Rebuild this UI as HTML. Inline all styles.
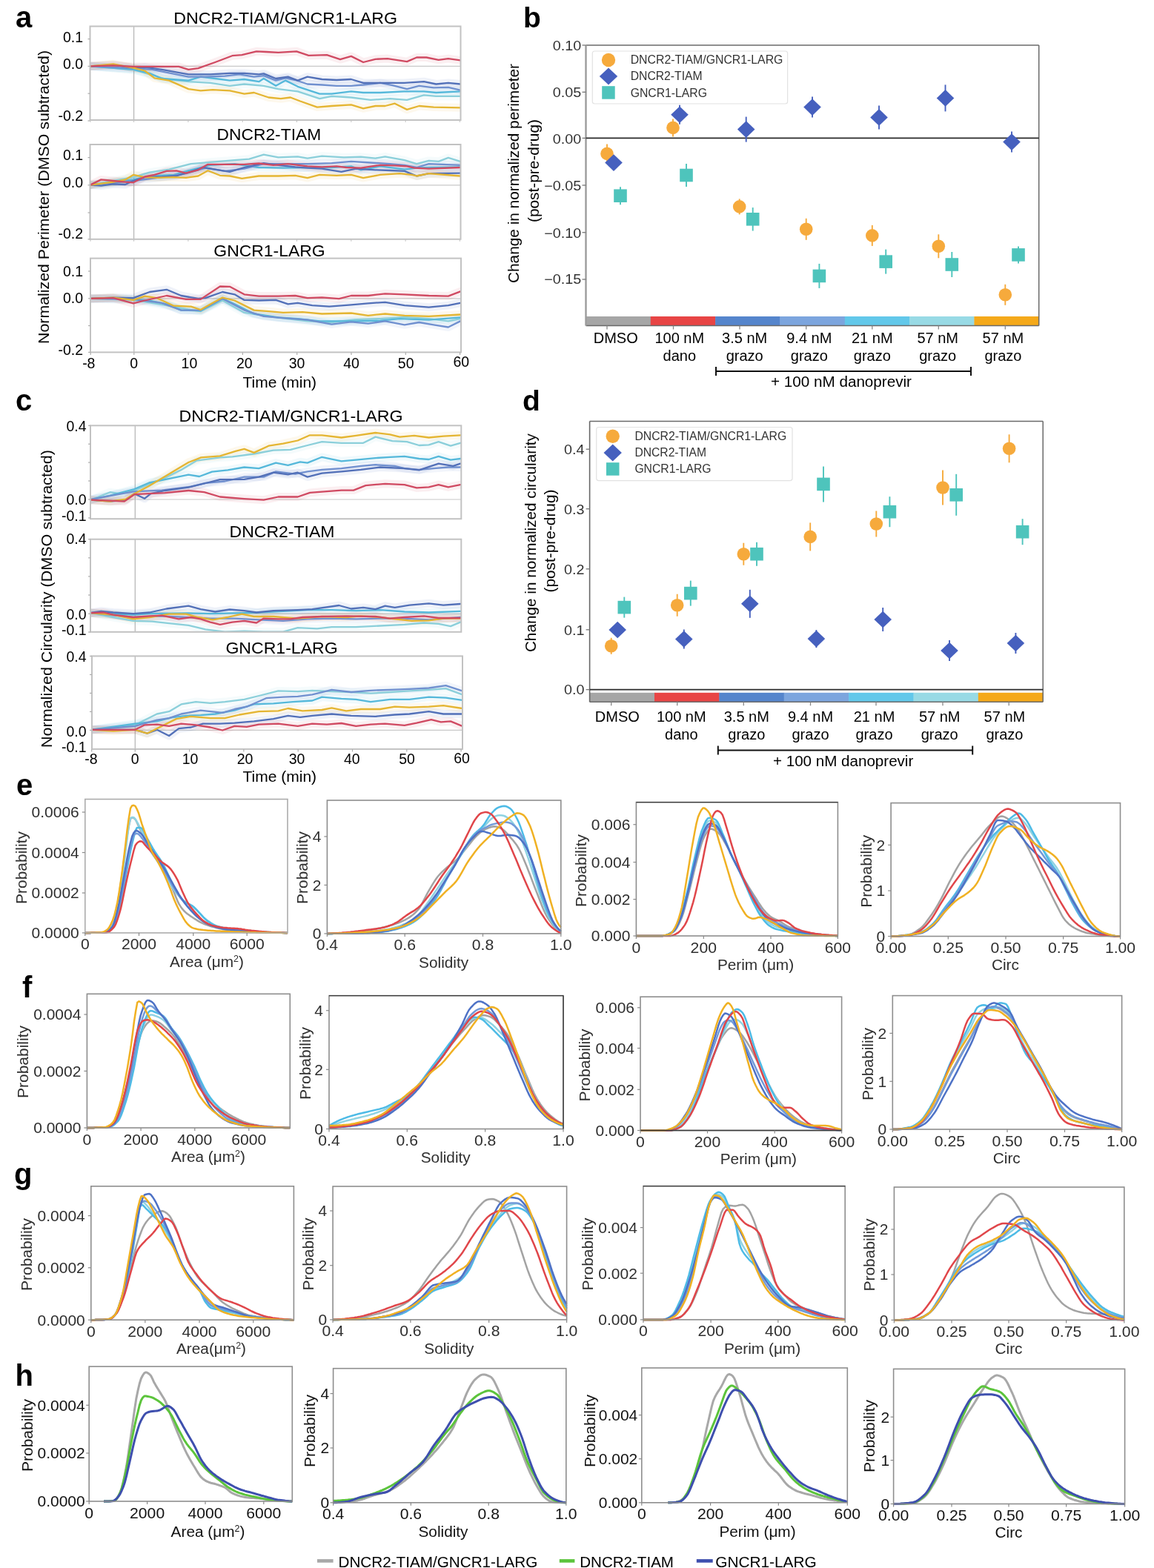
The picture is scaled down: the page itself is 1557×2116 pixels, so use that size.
<!DOCTYPE html>
<html><head><meta charset="utf-8"><title>Figure</title>
<style>
html,body{margin:0;padding:0;background:#fff;}
svg{display:block;}
text{font-family:'Liberation Sans', Arial, Helvetica, sans-serif;}
</style></head>
<body>
<svg width="1557" height="2116" viewBox="0 0 1557 2116">
<rect width="1557" height="2116" fill="#fff"/>
<text x="21.0" y="37.0" font-size="40" font-weight="bold">a</text>
<line x1="121.5" y1="89.4" x2="621.5" y2="89.4" stroke="#c8c8c8" stroke-width="1.2"/>
<line x1="180.6" y1="35.5" x2="180.6" y2="162.0" stroke="#b4b4b4" stroke-width="1.2"/>
<clipPath id="cp1"><rect x="121.5" y="35.5" width="500.0" height="126.5"/></clipPath>
<g clip-path="url(#cp1)">
<polyline points="121.6,89.3 179.9,93.9 201.9,100.4 224.8,107.0 254.3,110.2 283.8,111.9 310.0,115.8 329.6,113.5 355.8,115.8 375.5,120.1 401.7,123.4 431.2,133.2 447.5,129.9 473.8,131.5 500.0,134.8 526.2,133.2 549.1,134.8 572.0,128.3 588.4,129.9 621.1,129.9" fill="none" stroke="#8bcfda" stroke-width="11" stroke-linejoin="round" stroke-linecap="round" stroke-opacity="0.09"/>
<polyline points="121.6,89.3 179.9,93.9 201.9,98.8 218.3,106.0 254.3,108.6 270.7,103.7 290.3,106.0 310.0,108.6 329.6,107.0 349.3,110.2 355.8,106.0 372.2,115.8 385.3,108.6 401.7,116.8 431.2,126.6 447.5,126.6 473.8,123.4 490.1,125.0 513.1,125.0 545.8,123.4 572.0,123.4 588.4,125.0 621.1,123.4" fill="none" stroke="#55b8da" stroke-width="11" stroke-linejoin="round" stroke-linecap="round" stroke-opacity="0.09"/>
<polyline points="121.6,89.3 179.9,92.2 205.2,93.9 254.3,103.7 277.2,103.7 303.4,102.7 323.1,100.4 342.7,103.7 355.8,102.1 372.2,108.6 385.3,105.3 398.4,108.0 414.8,113.5 434.4,114.5 454.1,115.8 473.8,115.8 490.1,114.5 513.1,111.9 529.4,115.2 549.1,120.1 565.5,115.8 585.1,118.4 604.8,117.8 621.1,121.7" fill="none" stroke="#7090cf" stroke-width="11" stroke-linejoin="round" stroke-linecap="round" stroke-opacity="0.09"/>
<polyline points="121.6,89.3 152.8,87.3 179.9,91.6 195.3,90.6 218.3,93.9 254.3,100.4 283.8,100.4 310.0,98.8 329.6,98.8 349.3,100.4 355.8,99.4 372.2,106.0 388.6,103.7 401.7,108.6 414.8,103.7 434.4,107.0 454.1,108.0 473.8,107.0 490.1,111.9 513.1,111.9 545.8,111.9 572.0,110.2 588.4,113.5 604.8,111.9 621.1,113.5" fill="none" stroke="#5270b8" stroke-width="11" stroke-linejoin="round" stroke-linecap="round" stroke-opacity="0.09"/>
<polyline points="121.6,89.3 152.8,86.3 179.9,91.6 195.3,95.5 208.4,105.3 228.1,108.6 254.3,120.1 270.7,122.4 287.0,121.1 310.0,122.4 329.6,126.6 342.7,125.0 362.4,131.5 378.8,133.2 391.9,131.5 405.0,136.5 427.9,144.6 447.5,143.0 473.8,141.4 490.1,146.3 506.5,143.0 519.6,143.0 532.7,139.7 549.1,147.9 565.5,143.0 585.1,144.6 621.1,145.3" fill="none" stroke="#e4b532" stroke-width="11" stroke-linejoin="round" stroke-linecap="round" stroke-opacity="0.09"/>
<polyline points="121.6,89.3 152.8,88.3 179.9,89.9 241.2,89.9 254.3,93.9 267.4,92.2 290.3,84.0 313.3,75.2 326.4,74.2 346.0,69.3 359.1,70.0 375.5,70.9 400.1,69.3 416.4,74.9 441.0,74.2 459.0,80.1 473.8,75.9 490.1,84.0 506.5,79.8 522.9,79.1 549.1,83.1 562.2,77.5 575.3,77.5 591.7,80.8 604.8,79.1 621.1,81.4" fill="none" stroke="#d04a62" stroke-width="11" stroke-linejoin="round" stroke-linecap="round" stroke-opacity="0.09"/>
<polyline points="121.6,89.3 179.9,93.9 201.9,100.4 224.8,107.0 254.3,110.2 283.8,111.9 310.0,115.8 329.6,113.5 355.8,115.8 375.5,120.1 401.7,123.4 431.2,133.2 447.5,129.9 473.8,131.5 500.0,134.8 526.2,133.2 549.1,134.8 572.0,128.3 588.4,129.9 621.1,129.9" fill="none" stroke="#8bcfda" stroke-width="2.3" stroke-linejoin="round" stroke-linecap="round"/>
<polyline points="121.6,89.3 179.9,93.9 201.9,98.8 218.3,106.0 254.3,108.6 270.7,103.7 290.3,106.0 310.0,108.6 329.6,107.0 349.3,110.2 355.8,106.0 372.2,115.8 385.3,108.6 401.7,116.8 431.2,126.6 447.5,126.6 473.8,123.4 490.1,125.0 513.1,125.0 545.8,123.4 572.0,123.4 588.4,125.0 621.1,123.4" fill="none" stroke="#55b8da" stroke-width="2.3" stroke-linejoin="round" stroke-linecap="round"/>
<polyline points="121.6,89.3 179.9,92.2 205.2,93.9 254.3,103.7 277.2,103.7 303.4,102.7 323.1,100.4 342.7,103.7 355.8,102.1 372.2,108.6 385.3,105.3 398.4,108.0 414.8,113.5 434.4,114.5 454.1,115.8 473.8,115.8 490.1,114.5 513.1,111.9 529.4,115.2 549.1,120.1 565.5,115.8 585.1,118.4 604.8,117.8 621.1,121.7" fill="none" stroke="#7090cf" stroke-width="2.3" stroke-linejoin="round" stroke-linecap="round"/>
<polyline points="121.6,89.3 152.8,87.3 179.9,91.6 195.3,90.6 218.3,93.9 254.3,100.4 283.8,100.4 310.0,98.8 329.6,98.8 349.3,100.4 355.8,99.4 372.2,106.0 388.6,103.7 401.7,108.6 414.8,103.7 434.4,107.0 454.1,108.0 473.8,107.0 490.1,111.9 513.1,111.9 545.8,111.9 572.0,110.2 588.4,113.5 604.8,111.9 621.1,113.5" fill="none" stroke="#5270b8" stroke-width="2.3" stroke-linejoin="round" stroke-linecap="round"/>
<polyline points="121.6,89.3 152.8,86.3 179.9,91.6 195.3,95.5 208.4,105.3 228.1,108.6 254.3,120.1 270.7,122.4 287.0,121.1 310.0,122.4 329.6,126.6 342.7,125.0 362.4,131.5 378.8,133.2 391.9,131.5 405.0,136.5 427.9,144.6 447.5,143.0 473.8,141.4 490.1,146.3 506.5,143.0 519.6,143.0 532.7,139.7 549.1,147.9 565.5,143.0 585.1,144.6 621.1,145.3" fill="none" stroke="#e4b532" stroke-width="2.3" stroke-linejoin="round" stroke-linecap="round"/>
<polyline points="121.6,89.3 152.8,88.3 179.9,89.9 241.2,89.9 254.3,93.9 267.4,92.2 290.3,84.0 313.3,75.2 326.4,74.2 346.0,69.3 359.1,70.0 375.5,70.9 400.1,69.3 416.4,74.9 441.0,74.2 459.0,80.1 473.8,75.9 490.1,84.0 506.5,79.8 522.9,79.1 549.1,83.1 562.2,77.5 575.3,77.5 591.7,80.8 604.8,79.1 621.1,81.4" fill="none" stroke="#d04a62" stroke-width="2.3" stroke-linejoin="round" stroke-linecap="round"/>
</g>
<rect x="121.5" y="35.5" width="500.0" height="126.5" fill="none" stroke="#c2c2c2" stroke-width="2.0"/>
<line x1="118.5" y1="52.6" x2="121.5" y2="52.6" stroke="#aeaeae" stroke-width="1.2"/>
<line x1="118.5" y1="89.4" x2="121.5" y2="89.4" stroke="#aeaeae" stroke-width="1.2"/>
<line x1="118.5" y1="126.2" x2="121.5" y2="126.2" stroke="#aeaeae" stroke-width="1.2"/>
<line x1="118.5" y1="163.0" x2="121.5" y2="163.0" stroke="#aeaeae" stroke-width="1.2"/>
<text x="112.0" y="56.8" font-size="19.5" text-anchor="end">0.1</text>
<text x="112.0" y="93.3" font-size="19.5" text-anchor="end">0.0</text>
<text x="112.0" y="163.2" font-size="19.5" text-anchor="end">-0.2</text>
<text x="234.2" y="31.8" font-size="22.5" textLength="301.8" lengthAdjust="spacingAndGlyphs">DNCR2-TIAM/GNCR1-LARG</text>
<line x1="121.5" y1="249.8" x2="621.5" y2="249.8" stroke="#c8c8c8" stroke-width="1.2"/>
<line x1="180.6" y1="195.0" x2="180.6" y2="322.8" stroke="#b4b4b4" stroke-width="1.2"/>
<clipPath id="cp2"><rect x="121.5" y="195.0" width="500.0" height="127.8"/></clipPath>
<g clip-path="url(#cp2)">
<polyline points="121.6,249.6 179.9,239.1 201.9,232.6 228.1,228.7 257.6,221.1 283.8,218.8 316.5,216.2 336.2,214.6 355.8,208.7 375.5,212.3 401.7,211.3 414.8,213.6 434.4,210.6 463.9,212.3 486.9,211.6 506.5,213.6 519.6,211.3 545.8,216.2 562.2,221.1 578.6,216.9 591.7,217.8 604.8,212.9 621.1,217.8" fill="none" stroke="#8bcfda" stroke-width="11" stroke-linejoin="round" stroke-linecap="round" stroke-opacity="0.09"/>
<polyline points="121.6,249.6 179.9,242.4 201.9,237.5 234.6,235.9 257.6,229.3 283.8,222.8 316.5,221.1 349.3,226.0 382.0,226.7 414.8,226.0 447.5,226.0 473.8,224.4 486.9,229.3 513.1,224.4 545.8,228.7 562.2,226.7 578.6,226.0 621.1,225.4" fill="none" stroke="#55b8da" stroke-width="11" stroke-linejoin="round" stroke-linecap="round" stroke-opacity="0.09"/>
<polyline points="121.6,249.6 179.9,244.0 218.3,239.1 251.0,234.2 277.2,226.7 303.4,230.9 329.6,227.7 355.8,221.1 382.0,221.1 414.8,221.1 447.5,220.1 473.8,217.8 500.0,219.5 526.2,221.1 545.8,222.8 562.2,226.0 578.6,221.1 621.1,222.8" fill="none" stroke="#7090cf" stroke-width="11" stroke-linejoin="round" stroke-linecap="round" stroke-opacity="0.09"/>
<polyline points="121.6,249.6 136.4,250.6 152.8,248.3 169.1,249.0 179.9,244.0 195.3,239.1 218.3,238.5 237.9,237.5 254.3,232.6 273.9,226.0 290.3,228.7 310.0,231.9 329.6,226.0 355.8,220.1 375.5,222.8 398.4,225.4 414.8,226.7 434.4,227.7 460.6,231.9 480.3,227.7 506.5,229.3 526.2,230.0 545.8,230.9 562.2,237.5 578.6,234.2 621.1,233.6" fill="none" stroke="#5270b8" stroke-width="11" stroke-linejoin="round" stroke-linecap="round" stroke-opacity="0.09"/>
<polyline points="121.6,249.6 152.8,245.7 169.1,242.4 179.9,235.9 195.3,239.1 211.7,239.8 234.6,239.1 251.0,239.8 267.4,237.5 280.5,230.3 296.9,236.8 310.0,237.5 326.4,240.8 349.3,237.5 375.5,237.5 398.4,236.8 414.8,240.1 431.2,235.9 454.1,236.8 473.8,235.9 490.1,240.1 513.1,235.9 539.3,234.2 555.6,235.9 562.2,237.5 578.6,234.2 621.1,237.5" fill="none" stroke="#e4b532" stroke-width="11" stroke-linejoin="round" stroke-linecap="round" stroke-opacity="0.09"/>
<polyline points="121.6,249.6 136.4,242.4 152.8,244.0 169.1,245.7 179.9,246.3 195.3,238.5 208.4,235.9 224.8,230.9 237.9,230.3 251.0,233.6 267.4,229.3 280.5,221.8 303.4,221.8 329.6,221.8 349.3,220.5 368.9,222.8 388.6,221.1 414.8,224.4 434.4,225.4 454.1,224.4 467.2,226.0 486.9,226.7 513.1,222.8 532.7,223.4 549.1,224.4 558.9,226.7 578.6,227.7 621.1,226.0" fill="none" stroke="#d04a62" stroke-width="11" stroke-linejoin="round" stroke-linecap="round" stroke-opacity="0.09"/>
<polyline points="121.6,249.6 179.9,239.1 201.9,232.6 228.1,228.7 257.6,221.1 283.8,218.8 316.5,216.2 336.2,214.6 355.8,208.7 375.5,212.3 401.7,211.3 414.8,213.6 434.4,210.6 463.9,212.3 486.9,211.6 506.5,213.6 519.6,211.3 545.8,216.2 562.2,221.1 578.6,216.9 591.7,217.8 604.8,212.9 621.1,217.8" fill="none" stroke="#8bcfda" stroke-width="2.3" stroke-linejoin="round" stroke-linecap="round"/>
<polyline points="121.6,249.6 179.9,242.4 201.9,237.5 234.6,235.9 257.6,229.3 283.8,222.8 316.5,221.1 349.3,226.0 382.0,226.7 414.8,226.0 447.5,226.0 473.8,224.4 486.9,229.3 513.1,224.4 545.8,228.7 562.2,226.7 578.6,226.0 621.1,225.4" fill="none" stroke="#55b8da" stroke-width="2.3" stroke-linejoin="round" stroke-linecap="round"/>
<polyline points="121.6,249.6 179.9,244.0 218.3,239.1 251.0,234.2 277.2,226.7 303.4,230.9 329.6,227.7 355.8,221.1 382.0,221.1 414.8,221.1 447.5,220.1 473.8,217.8 500.0,219.5 526.2,221.1 545.8,222.8 562.2,226.0 578.6,221.1 621.1,222.8" fill="none" stroke="#7090cf" stroke-width="2.3" stroke-linejoin="round" stroke-linecap="round"/>
<polyline points="121.6,249.6 136.4,250.6 152.8,248.3 169.1,249.0 179.9,244.0 195.3,239.1 218.3,238.5 237.9,237.5 254.3,232.6 273.9,226.0 290.3,228.7 310.0,231.9 329.6,226.0 355.8,220.1 375.5,222.8 398.4,225.4 414.8,226.7 434.4,227.7 460.6,231.9 480.3,227.7 506.5,229.3 526.2,230.0 545.8,230.9 562.2,237.5 578.6,234.2 621.1,233.6" fill="none" stroke="#5270b8" stroke-width="2.3" stroke-linejoin="round" stroke-linecap="round"/>
<polyline points="121.6,249.6 152.8,245.7 169.1,242.4 179.9,235.9 195.3,239.1 211.7,239.8 234.6,239.1 251.0,239.8 267.4,237.5 280.5,230.3 296.9,236.8 310.0,237.5 326.4,240.8 349.3,237.5 375.5,237.5 398.4,236.8 414.8,240.1 431.2,235.9 454.1,236.8 473.8,235.9 490.1,240.1 513.1,235.9 539.3,234.2 555.6,235.9 562.2,237.5 578.6,234.2 621.1,237.5" fill="none" stroke="#e4b532" stroke-width="2.3" stroke-linejoin="round" stroke-linecap="round"/>
<polyline points="121.6,249.6 136.4,242.4 152.8,244.0 169.1,245.7 179.9,246.3 195.3,238.5 208.4,235.9 224.8,230.9 237.9,230.3 251.0,233.6 267.4,229.3 280.5,221.8 303.4,221.8 329.6,221.8 349.3,220.5 368.9,222.8 388.6,221.1 414.8,224.4 434.4,225.4 454.1,224.4 467.2,226.0 486.9,226.7 513.1,222.8 532.7,223.4 549.1,224.4 558.9,226.7 578.6,227.7 621.1,226.0" fill="none" stroke="#d04a62" stroke-width="2.3" stroke-linejoin="round" stroke-linecap="round"/>
</g>
<rect x="121.5" y="195.0" width="500.0" height="127.8" fill="none" stroke="#c2c2c2" stroke-width="2.0"/>
<line x1="118.5" y1="212.6" x2="121.5" y2="212.6" stroke="#aeaeae" stroke-width="1.2"/>
<line x1="118.5" y1="249.8" x2="121.5" y2="249.8" stroke="#aeaeae" stroke-width="1.2"/>
<line x1="118.5" y1="287.0" x2="121.5" y2="287.0" stroke="#aeaeae" stroke-width="1.2"/>
<line x1="118.5" y1="322.8" x2="121.5" y2="322.8" stroke="#aeaeae" stroke-width="1.2"/>
<text x="112.0" y="216.2" font-size="19.5" text-anchor="end">0.1</text>
<text x="112.0" y="253.3" font-size="19.5" text-anchor="end">0.0</text>
<text x="112.0" y="322.1" font-size="19.5" text-anchor="end">-0.2</text>
<text x="292.5" y="188.6" font-size="22.5" textLength="140.7" lengthAdjust="spacingAndGlyphs">DNCR2-TIAM</text>
<line x1="122.0" y1="402.8" x2="622.0" y2="402.8" stroke="#c8c8c8" stroke-width="1.2"/>
<line x1="180.8" y1="348.6" x2="180.8" y2="475.4" stroke="#b4b4b4" stroke-width="1.2"/>
<clipPath id="cp3"><rect x="122.0" y="348.6" width="500.0" height="126.8"/></clipPath>
<g clip-path="url(#cp3)">
<polyline points="121.6,402.9 179.9,404.9 224.8,412.1 251.0,417.0 270.7,420.2 300.2,405.5 329.6,421.9 368.9,427.8 414.8,433.4 447.5,435.0 480.3,431.1 513.1,430.1 545.8,427.8 578.6,430.1 604.8,433.4 621.1,430.1" fill="none" stroke="#8bcfda" stroke-width="11" stroke-linejoin="round" stroke-linecap="round" stroke-opacity="0.09"/>
<polyline points="121.6,402.9 152.8,402.2 179.9,403.9 201.9,405.5 224.8,410.4 244.5,418.6 270.7,419.3 290.3,408.8 300.2,402.9 316.5,410.4 342.7,423.5 375.5,428.4 401.7,430.1 431.2,433.4 454.1,433.4 480.3,433.4 513.1,432.7 539.3,430.1 578.6,431.7 621.1,428.4" fill="none" stroke="#55b8da" stroke-width="11" stroke-linejoin="round" stroke-linecap="round" stroke-opacity="0.09"/>
<polyline points="121.6,402.9 179.9,403.9 218.3,408.8 244.5,418.6 270.7,418.6 300.2,402.9 329.6,418.6 355.8,426.8 382.0,429.1 414.8,431.7 447.5,437.6 473.8,434.3 496.7,436.6 519.6,433.4 545.8,438.3 565.5,435.0 585.1,438.3 604.8,441.5 621.1,433.4" fill="none" stroke="#7090cf" stroke-width="11" stroke-linejoin="round" stroke-linecap="round" stroke-opacity="0.09"/>
<polyline points="121.6,402.9 152.8,401.6 179.9,402.2 201.9,394.0 224.8,390.8 244.5,399.0 267.4,402.9 277.2,402.2 300.2,394.0 316.5,397.3 329.6,404.9 349.3,405.5 372.2,404.9 388.6,410.4 401.7,408.8 421.3,412.1 444.3,413.7 473.8,411.4 496.7,409.4 519.6,407.8 545.8,412.1 578.6,414.7 604.8,412.1 621.1,408.8" fill="none" stroke="#5270b8" stroke-width="11" stroke-linejoin="round" stroke-linecap="round" stroke-opacity="0.09"/>
<polyline points="121.6,402.9 152.8,401.6 179.9,404.9 195.3,399.6 211.7,402.2 234.6,412.7 257.6,413.7 270.7,418.0 283.8,410.4 300.2,401.6 316.5,405.5 342.7,418.6 362.4,420.2 382.0,421.9 408.2,421.2 434.4,423.5 473.8,422.5 496.7,425.8 519.6,423.5 545.8,425.8 578.6,426.8 621.1,424.5" fill="none" stroke="#e4b532" stroke-width="11" stroke-linejoin="round" stroke-linecap="round" stroke-opacity="0.09"/>
<polyline points="121.6,402.9 152.8,402.2 179.9,409.4 195.3,405.5 224.8,399.0 251.0,403.9 270.7,403.9 296.9,386.5 310.0,386.8 329.6,397.3 349.3,399.6 375.5,399.6 398.4,399.0 414.8,402.2 434.4,401.3 457.4,403.2 473.8,399.0 496.7,399.0 519.6,396.3 545.8,397.3 578.6,399.0 604.8,399.6 621.1,393.4" fill="none" stroke="#d04a62" stroke-width="11" stroke-linejoin="round" stroke-linecap="round" stroke-opacity="0.09"/>
<polyline points="121.6,402.9 179.9,404.9 224.8,412.1 251.0,417.0 270.7,420.2 300.2,405.5 329.6,421.9 368.9,427.8 414.8,433.4 447.5,435.0 480.3,431.1 513.1,430.1 545.8,427.8 578.6,430.1 604.8,433.4 621.1,430.1" fill="none" stroke="#8bcfda" stroke-width="2.3" stroke-linejoin="round" stroke-linecap="round"/>
<polyline points="121.6,402.9 152.8,402.2 179.9,403.9 201.9,405.5 224.8,410.4 244.5,418.6 270.7,419.3 290.3,408.8 300.2,402.9 316.5,410.4 342.7,423.5 375.5,428.4 401.7,430.1 431.2,433.4 454.1,433.4 480.3,433.4 513.1,432.7 539.3,430.1 578.6,431.7 621.1,428.4" fill="none" stroke="#55b8da" stroke-width="2.3" stroke-linejoin="round" stroke-linecap="round"/>
<polyline points="121.6,402.9 179.9,403.9 218.3,408.8 244.5,418.6 270.7,418.6 300.2,402.9 329.6,418.6 355.8,426.8 382.0,429.1 414.8,431.7 447.5,437.6 473.8,434.3 496.7,436.6 519.6,433.4 545.8,438.3 565.5,435.0 585.1,438.3 604.8,441.5 621.1,433.4" fill="none" stroke="#7090cf" stroke-width="2.3" stroke-linejoin="round" stroke-linecap="round"/>
<polyline points="121.6,402.9 152.8,401.6 179.9,402.2 201.9,394.0 224.8,390.8 244.5,399.0 267.4,402.9 277.2,402.2 300.2,394.0 316.5,397.3 329.6,404.9 349.3,405.5 372.2,404.9 388.6,410.4 401.7,408.8 421.3,412.1 444.3,413.7 473.8,411.4 496.7,409.4 519.6,407.8 545.8,412.1 578.6,414.7 604.8,412.1 621.1,408.8" fill="none" stroke="#5270b8" stroke-width="2.3" stroke-linejoin="round" stroke-linecap="round"/>
<polyline points="121.6,402.9 152.8,401.6 179.9,404.9 195.3,399.6 211.7,402.2 234.6,412.7 257.6,413.7 270.7,418.0 283.8,410.4 300.2,401.6 316.5,405.5 342.7,418.6 362.4,420.2 382.0,421.9 408.2,421.2 434.4,423.5 473.8,422.5 496.7,425.8 519.6,423.5 545.8,425.8 578.6,426.8 621.1,424.5" fill="none" stroke="#e4b532" stroke-width="2.3" stroke-linejoin="round" stroke-linecap="round"/>
<polyline points="121.6,402.9 152.8,402.2 179.9,409.4 195.3,405.5 224.8,399.0 251.0,403.9 270.7,403.9 296.9,386.5 310.0,386.8 329.6,397.3 349.3,399.6 375.5,399.6 398.4,399.0 414.8,402.2 434.4,401.3 457.4,403.2 473.8,399.0 496.7,399.0 519.6,396.3 545.8,397.3 578.6,399.0 604.8,399.6 621.1,393.4" fill="none" stroke="#d04a62" stroke-width="2.3" stroke-linejoin="round" stroke-linecap="round"/>
</g>
<rect x="122.0" y="348.6" width="500.0" height="126.8" fill="none" stroke="#c2c2c2" stroke-width="2.0"/>
<line x1="119.0" y1="366.0" x2="122.0" y2="366.0" stroke="#aeaeae" stroke-width="1.2"/>
<line x1="119.0" y1="402.8" x2="122.0" y2="402.8" stroke="#aeaeae" stroke-width="1.2"/>
<line x1="119.0" y1="439.5" x2="122.0" y2="439.5" stroke="#aeaeae" stroke-width="1.2"/>
<line x1="119.0" y1="475.4" x2="122.0" y2="475.4" stroke="#aeaeae" stroke-width="1.2"/>
<text x="112.0" y="372.6" font-size="19.5" text-anchor="end">0.1</text>
<text x="112.0" y="409.0" font-size="19.5" text-anchor="end">0.0</text>
<text x="112.0" y="479.0" font-size="19.5" text-anchor="end">-0.2</text>
<text x="288.3" y="345.5" font-size="22.5" textLength="150.4" lengthAdjust="spacingAndGlyphs">GNCR1-LARG</text>
<text x="119.8" y="496.6" font-size="19.5" text-anchor="middle">-8</text>
<text x="180.8" y="496.6" font-size="19.5" text-anchor="middle">0</text>
<text x="255.4" y="496.6" font-size="19.5" text-anchor="middle">10</text>
<text x="329.8" y="496.6" font-size="19.5" text-anchor="middle">20</text>
<text x="400.6" y="496.6" font-size="19.5" text-anchor="middle">30</text>
<text x="474.0" y="496.6" font-size="19.5" text-anchor="middle">40</text>
<text x="547.7" y="496.6" font-size="19.5" text-anchor="middle">50</text>
<text x="622.3" y="495.0" font-size="19.5" text-anchor="middle">60</text>
<line x1="122.2" y1="475.4" x2="122.2" y2="479.0" stroke="#aeaeae" stroke-width="1.2"/>
<line x1="180.8" y1="475.4" x2="180.8" y2="479.0" stroke="#aeaeae" stroke-width="1.2"/>
<line x1="254.1" y1="475.4" x2="254.1" y2="479.0" stroke="#aeaeae" stroke-width="1.2"/>
<line x1="327.4" y1="475.4" x2="327.4" y2="479.0" stroke="#aeaeae" stroke-width="1.2"/>
<line x1="400.7" y1="475.4" x2="400.7" y2="479.0" stroke="#aeaeae" stroke-width="1.2"/>
<line x1="474.0" y1="475.4" x2="474.0" y2="479.0" stroke="#aeaeae" stroke-width="1.2"/>
<line x1="547.3" y1="475.4" x2="547.3" y2="479.0" stroke="#aeaeae" stroke-width="1.2"/>
<line x1="620.6" y1="475.4" x2="620.6" y2="479.0" stroke="#aeaeae" stroke-width="1.2"/>
<text x="377.3" y="523.0" font-size="21" text-anchor="middle">Time (min)</text>
<text x="65.8" y="266.0" font-size="20.5" text-anchor="middle" textLength="396.0" lengthAdjust="spacingAndGlyphs" transform="rotate(-90 65.8 266.0)">Normalized Perimeter (DMSO subtracted)</text>
<line x1="122.0" y1="162.0" x2="122.0" y2="165.0" stroke="#c0c0c0" stroke-width="1.0"/>
<line x1="180.6" y1="162.0" x2="180.6" y2="165.0" stroke="#c0c0c0" stroke-width="1.0"/>
<line x1="253.9" y1="162.0" x2="253.9" y2="165.0" stroke="#c0c0c0" stroke-width="1.0"/>
<line x1="327.2" y1="162.0" x2="327.2" y2="165.0" stroke="#c0c0c0" stroke-width="1.0"/>
<line x1="400.5" y1="162.0" x2="400.5" y2="165.0" stroke="#c0c0c0" stroke-width="1.0"/>
<line x1="473.8" y1="162.0" x2="473.8" y2="165.0" stroke="#c0c0c0" stroke-width="1.0"/>
<line x1="547.1" y1="162.0" x2="547.1" y2="165.0" stroke="#c0c0c0" stroke-width="1.0"/>
<line x1="620.4" y1="162.0" x2="620.4" y2="165.0" stroke="#c0c0c0" stroke-width="1.0"/>
<line x1="122.0" y1="322.8" x2="122.0" y2="325.8" stroke="#c0c0c0" stroke-width="1.0"/>
<line x1="180.6" y1="322.8" x2="180.6" y2="325.8" stroke="#c0c0c0" stroke-width="1.0"/>
<line x1="253.9" y1="322.8" x2="253.9" y2="325.8" stroke="#c0c0c0" stroke-width="1.0"/>
<line x1="327.2" y1="322.8" x2="327.2" y2="325.8" stroke="#c0c0c0" stroke-width="1.0"/>
<line x1="400.5" y1="322.8" x2="400.5" y2="325.8" stroke="#c0c0c0" stroke-width="1.0"/>
<line x1="473.8" y1="322.8" x2="473.8" y2="325.8" stroke="#c0c0c0" stroke-width="1.0"/>
<line x1="547.1" y1="322.8" x2="547.1" y2="325.8" stroke="#c0c0c0" stroke-width="1.0"/>
<line x1="620.4" y1="322.8" x2="620.4" y2="325.8" stroke="#c0c0c0" stroke-width="1.0"/>
<text x="21.0" y="554.0" font-size="40" font-weight="bold">c</text>
<line x1="122.0" y1="674.0" x2="622.3" y2="674.0" stroke="#c8c8c8" stroke-width="1.2"/>
<line x1="182.3" y1="574.3" x2="182.3" y2="700.2" stroke="#b4b4b4" stroke-width="1.2"/>
<clipPath id="cp4"><rect x="122.0" y="574.3" width="500.3" height="125.9"/></clipPath>
<g clip-path="url(#cp4)">
<polyline points="122.0,674.7 148.5,664.2 160.9,666.2 181.3,662.0 201.2,653.4 222.5,644.9 243.8,634.4 265.1,621.7 296.9,617.4 313.6,616.4 342.7,612.5 368.9,607.6 391.9,606.9 414.8,601.0 434.4,596.1 460.6,597.8 490.1,597.8 506.5,589.6 529.4,595.1 549.1,596.1 565.5,601.0 578.6,600.4 591.7,596.1 608.0,601.7 621.1,597.8" fill="none" stroke="#8bcfda" stroke-width="11" stroke-linejoin="round" stroke-linecap="round" stroke-opacity="0.09"/>
<polyline points="122.0,674.7 148.5,668.5 181.3,660.0 201.2,651.5 222.5,647.2 254.3,640.7 269.0,643.0 286.1,636.7 307.4,634.4 329.6,630.5 349.3,632.1 372.2,624.6 388.6,627.9 405.0,623.3 414.8,624.6 434.4,616.8 460.6,622.3 480.3,620.7 506.5,618.1 526.2,616.8 545.8,615.8 565.5,619.0 578.6,620.0 591.7,615.8 608.0,620.7 621.1,619.0" fill="none" stroke="#55b8da" stroke-width="11" stroke-linejoin="round" stroke-linecap="round" stroke-opacity="0.09"/>
<polyline points="121.6,674.1 179.9,663.3 218.3,661.6 257.6,656.7 277.2,651.8 303.4,649.5 329.6,643.6 355.8,643.6 372.2,636.4 398.4,639.7 414.8,636.4 434.4,633.8 460.6,632.1 486.9,628.9 506.5,627.2 532.7,628.9 545.8,632.1 565.5,633.8 585.1,632.1 604.8,630.5 621.1,630.5" fill="none" stroke="#7090cf" stroke-width="11" stroke-linejoin="round" stroke-linecap="round" stroke-opacity="0.09"/>
<polyline points="122.0,674.7 148.5,676.7 169.5,674.7 181.3,666.2 195.0,672.8 203.5,666.2 222.5,662.0 254.3,657.7 275.6,652.5 296.9,647.2 329.6,646.9 349.3,643.6 368.9,637.7 388.6,640.3 401.7,637.7 414.8,643.6 434.4,638.7 460.6,636.4 486.9,633.8 513.1,630.5 545.8,632.1 565.5,634.4 591.7,625.6 611.3,628.9 621.1,625.6" fill="none" stroke="#5270b8" stroke-width="11" stroke-linejoin="round" stroke-linecap="round" stroke-opacity="0.09"/>
<polyline points="122.0,674.7 148.5,676.7 169.5,673.7 181.3,666.2 201.2,655.7 222.5,643.0 243.8,630.2 254.3,624.0 271.3,617.4 296.9,615.4 317.8,608.9 329.6,605.9 342.7,610.9 362.4,601.7 382.0,598.7 401.7,594.5 418.1,587.3 434.4,587.3 460.6,590.5 480.3,587.9 506.5,584.0 526.2,586.3 539.3,589.6 558.9,587.9 578.6,590.5 598.2,588.6 621.1,587.3" fill="none" stroke="#e4b532" stroke-width="11" stroke-linejoin="round" stroke-linecap="round" stroke-opacity="0.09"/>
<polyline points="122.0,674.7 148.5,675.7 167.5,676.7 181.3,667.2 201.2,666.2 222.5,665.2 254.3,662.0 275.6,664.2 296.9,670.5 329.6,673.1 355.8,674.7 375.5,670.5 401.7,670.5 418.1,664.9 437.7,663.3 460.6,661.6 477.0,661.6 493.4,655.1 519.6,652.8 545.8,654.1 562.2,658.4 578.6,657.4 591.7,654.1 604.8,657.4 621.1,654.1" fill="none" stroke="#d04a62" stroke-width="11" stroke-linejoin="round" stroke-linecap="round" stroke-opacity="0.09"/>
<polyline points="122.0,674.7 148.5,664.2 160.9,666.2 181.3,662.0 201.2,653.4 222.5,644.9 243.8,634.4 265.1,621.7 296.9,617.4 313.6,616.4 342.7,612.5 368.9,607.6 391.9,606.9 414.8,601.0 434.4,596.1 460.6,597.8 490.1,597.8 506.5,589.6 529.4,595.1 549.1,596.1 565.5,601.0 578.6,600.4 591.7,596.1 608.0,601.7 621.1,597.8" fill="none" stroke="#8bcfda" stroke-width="2.3" stroke-linejoin="round" stroke-linecap="round"/>
<polyline points="122.0,674.7 148.5,668.5 181.3,660.0 201.2,651.5 222.5,647.2 254.3,640.7 269.0,643.0 286.1,636.7 307.4,634.4 329.6,630.5 349.3,632.1 372.2,624.6 388.6,627.9 405.0,623.3 414.8,624.6 434.4,616.8 460.6,622.3 480.3,620.7 506.5,618.1 526.2,616.8 545.8,615.8 565.5,619.0 578.6,620.0 591.7,615.8 608.0,620.7 621.1,619.0" fill="none" stroke="#55b8da" stroke-width="2.3" stroke-linejoin="round" stroke-linecap="round"/>
<polyline points="121.6,674.1 179.9,663.3 218.3,661.6 257.6,656.7 277.2,651.8 303.4,649.5 329.6,643.6 355.8,643.6 372.2,636.4 398.4,639.7 414.8,636.4 434.4,633.8 460.6,632.1 486.9,628.9 506.5,627.2 532.7,628.9 545.8,632.1 565.5,633.8 585.1,632.1 604.8,630.5 621.1,630.5" fill="none" stroke="#7090cf" stroke-width="2.3" stroke-linejoin="round" stroke-linecap="round"/>
<polyline points="122.0,674.7 148.5,676.7 169.5,674.7 181.3,666.2 195.0,672.8 203.5,666.2 222.5,662.0 254.3,657.7 275.6,652.5 296.9,647.2 329.6,646.9 349.3,643.6 368.9,637.7 388.6,640.3 401.7,637.7 414.8,643.6 434.4,638.7 460.6,636.4 486.9,633.8 513.1,630.5 545.8,632.1 565.5,634.4 591.7,625.6 611.3,628.9 621.1,625.6" fill="none" stroke="#5270b8" stroke-width="2.3" stroke-linejoin="round" stroke-linecap="round"/>
<polyline points="122.0,674.7 148.5,676.7 169.5,673.7 181.3,666.2 201.2,655.7 222.5,643.0 243.8,630.2 254.3,624.0 271.3,617.4 296.9,615.4 317.8,608.9 329.6,605.9 342.7,610.9 362.4,601.7 382.0,598.7 401.7,594.5 418.1,587.3 434.4,587.3 460.6,590.5 480.3,587.9 506.5,584.0 526.2,586.3 539.3,589.6 558.9,587.9 578.6,590.5 598.2,588.6 621.1,587.3" fill="none" stroke="#e4b532" stroke-width="2.3" stroke-linejoin="round" stroke-linecap="round"/>
<polyline points="122.0,674.7 148.5,675.7 167.5,676.7 181.3,667.2 201.2,666.2 222.5,665.2 254.3,662.0 275.6,664.2 296.9,670.5 329.6,673.1 355.8,674.7 375.5,670.5 401.7,670.5 418.1,664.9 437.7,663.3 460.6,661.6 477.0,661.6 493.4,655.1 519.6,652.8 545.8,654.1 562.2,658.4 578.6,657.4 591.7,654.1 604.8,657.4 621.1,654.1" fill="none" stroke="#d04a62" stroke-width="2.3" stroke-linejoin="round" stroke-linecap="round"/>
</g>
<rect x="122.0" y="574.3" width="500.3" height="125.9" fill="none" stroke="#c2c2c2" stroke-width="2.0"/>
<line x1="119.0" y1="574.3" x2="122.0" y2="574.3" stroke="#aeaeae" stroke-width="1.2"/>
<line x1="119.0" y1="599.2" x2="122.0" y2="599.2" stroke="#aeaeae" stroke-width="1.2"/>
<line x1="119.0" y1="624.1" x2="122.0" y2="624.1" stroke="#aeaeae" stroke-width="1.2"/>
<line x1="119.0" y1="649.0" x2="122.0" y2="649.0" stroke="#aeaeae" stroke-width="1.2"/>
<line x1="119.0" y1="674.0" x2="122.0" y2="674.0" stroke="#aeaeae" stroke-width="1.2"/>
<line x1="119.0" y1="698.9" x2="122.0" y2="698.9" stroke="#aeaeae" stroke-width="1.2"/>
<text x="116.5" y="581.6" font-size="19.5" text-anchor="end">0.4</text>
<text x="116.5" y="680.8" font-size="19.5" text-anchor="end">0.0</text>
<text x="116.5" y="703.0" font-size="19.5" text-anchor="end">-0.1</text>
<text x="241.6" y="568.7" font-size="22.5" textLength="301.9" lengthAdjust="spacingAndGlyphs">DNCR2-TIAM/GNCR1-LARG</text>
<line x1="122.0" y1="828.2" x2="622.3" y2="828.2" stroke="#c8c8c8" stroke-width="1.2"/>
<line x1="182.3" y1="727.7" x2="182.3" y2="852.8" stroke="#b4b4b4" stroke-width="1.2"/>
<clipPath id="cp5"><rect x="122.0" y="727.7" width="500.3" height="125.1"/></clipPath>
<g clip-path="url(#cp5)">
<polyline points="121.6,827.1 152.8,833.0 179.9,837.9 205.2,838.6 228.1,841.2 254.3,843.8 277.2,849.4 303.4,852.7 329.6,851.7 355.8,852.7 382.0,852.7 401.7,847.1 427.9,848.4 447.5,846.1 480.3,846.1 513.1,844.5 545.8,842.8 572.0,840.5 591.7,841.8 608.0,845.1 621.1,839.6" fill="none" stroke="#8bcfda" stroke-width="11" stroke-linejoin="round" stroke-linecap="round" stroke-opacity="0.09"/>
<polyline points="121.6,827.1 179.9,829.7 201.9,828.1 251.0,827.4 283.8,828.1 316.5,827.4 349.3,826.5 382.0,824.8 414.8,823.2 447.5,823.2 480.3,824.2 513.1,823.2 545.8,825.5 578.6,826.5 621.1,824.8" fill="none" stroke="#55b8da" stroke-width="11" stroke-linejoin="round" stroke-linecap="round" stroke-opacity="0.09"/>
<polyline points="121.6,827.1 179.9,833.0 218.3,831.4 251.0,833.0 283.8,834.6 316.5,834.6 349.3,836.3 382.0,837.9 414.8,835.3 447.5,834.6 480.3,835.3 513.1,834.6 545.8,834.6 578.6,836.3 621.1,833.0" fill="none" stroke="#7090cf" stroke-width="11" stroke-linejoin="round" stroke-linecap="round" stroke-opacity="0.09"/>
<polyline points="121.6,827.1 136.4,824.8 152.8,826.5 179.9,828.1 201.9,826.5 224.8,821.5 254.3,817.6 270.7,822.2 290.3,825.5 310.0,822.5 329.6,824.2 346.0,826.5 368.9,824.2 401.7,823.2 421.3,822.2 457.4,817.0 473.8,821.5 490.1,819.9 506.5,822.2 519.6,817.6 532.7,819.9 552.4,816.6 578.6,814.3 598.2,816.6 621.1,815.0" fill="none" stroke="#5270b8" stroke-width="11" stroke-linejoin="round" stroke-linecap="round" stroke-opacity="0.09"/>
<polyline points="121.6,827.1 152.8,829.7 179.9,835.3 201.9,833.0 228.1,828.7 251.0,828.7 267.4,833.0 287.0,836.3 306.7,833.0 326.4,828.7 342.7,832.0 368.9,832.0 401.7,834.6 434.4,832.0 467.2,833.0 486.9,831.4 513.1,833.0 532.7,835.3 555.6,837.9 578.6,837.3 598.2,834.6 621.1,834.6" fill="none" stroke="#e4b532" stroke-width="11" stroke-linejoin="round" stroke-linecap="round" stroke-opacity="0.09"/>
<polyline points="121.6,827.1 139.7,826.5 152.8,829.7 179.9,833.0 201.9,831.4 218.3,830.7 241.2,835.3 257.6,833.0 270.7,835.3 283.8,839.6 296.9,842.8 313.3,839.6 329.6,837.9 346.0,840.5 355.8,834.6 375.5,835.3 391.9,835.3 408.2,833.0 434.4,832.0 467.2,831.4 506.5,832.0 526.2,834.6 545.8,833.0 572.0,831.4 591.7,834.0 621.1,834.0" fill="none" stroke="#d04a62" stroke-width="11" stroke-linejoin="round" stroke-linecap="round" stroke-opacity="0.09"/>
<polyline points="121.6,827.1 152.8,833.0 179.9,837.9 205.2,838.6 228.1,841.2 254.3,843.8 277.2,849.4 303.4,852.7 329.6,851.7 355.8,852.7 382.0,852.7 401.7,847.1 427.9,848.4 447.5,846.1 480.3,846.1 513.1,844.5 545.8,842.8 572.0,840.5 591.7,841.8 608.0,845.1 621.1,839.6" fill="none" stroke="#8bcfda" stroke-width="2.3" stroke-linejoin="round" stroke-linecap="round"/>
<polyline points="121.6,827.1 179.9,829.7 201.9,828.1 251.0,827.4 283.8,828.1 316.5,827.4 349.3,826.5 382.0,824.8 414.8,823.2 447.5,823.2 480.3,824.2 513.1,823.2 545.8,825.5 578.6,826.5 621.1,824.8" fill="none" stroke="#55b8da" stroke-width="2.3" stroke-linejoin="round" stroke-linecap="round"/>
<polyline points="121.6,827.1 179.9,833.0 218.3,831.4 251.0,833.0 283.8,834.6 316.5,834.6 349.3,836.3 382.0,837.9 414.8,835.3 447.5,834.6 480.3,835.3 513.1,834.6 545.8,834.6 578.6,836.3 621.1,833.0" fill="none" stroke="#7090cf" stroke-width="2.3" stroke-linejoin="round" stroke-linecap="round"/>
<polyline points="121.6,827.1 136.4,824.8 152.8,826.5 179.9,828.1 201.9,826.5 224.8,821.5 254.3,817.6 270.7,822.2 290.3,825.5 310.0,822.5 329.6,824.2 346.0,826.5 368.9,824.2 401.7,823.2 421.3,822.2 457.4,817.0 473.8,821.5 490.1,819.9 506.5,822.2 519.6,817.6 532.7,819.9 552.4,816.6 578.6,814.3 598.2,816.6 621.1,815.0" fill="none" stroke="#5270b8" stroke-width="2.3" stroke-linejoin="round" stroke-linecap="round"/>
<polyline points="121.6,827.1 152.8,829.7 179.9,835.3 201.9,833.0 228.1,828.7 251.0,828.7 267.4,833.0 287.0,836.3 306.7,833.0 326.4,828.7 342.7,832.0 368.9,832.0 401.7,834.6 434.4,832.0 467.2,833.0 486.9,831.4 513.1,833.0 532.7,835.3 555.6,837.9 578.6,837.3 598.2,834.6 621.1,834.6" fill="none" stroke="#e4b532" stroke-width="2.3" stroke-linejoin="round" stroke-linecap="round"/>
<polyline points="121.6,827.1 139.7,826.5 152.8,829.7 179.9,833.0 201.9,831.4 218.3,830.7 241.2,835.3 257.6,833.0 270.7,835.3 283.8,839.6 296.9,842.8 313.3,839.6 329.6,837.9 346.0,840.5 355.8,834.6 375.5,835.3 391.9,835.3 408.2,833.0 434.4,832.0 467.2,831.4 506.5,832.0 526.2,834.6 545.8,833.0 572.0,831.4 591.7,834.0 621.1,834.0" fill="none" stroke="#d04a62" stroke-width="2.3" stroke-linejoin="round" stroke-linecap="round"/>
</g>
<rect x="122.0" y="727.7" width="500.3" height="125.1" fill="none" stroke="#c2c2c2" stroke-width="2.0"/>
<line x1="119.0" y1="727.7" x2="122.0" y2="727.7" stroke="#aeaeae" stroke-width="1.2"/>
<line x1="119.0" y1="752.8" x2="122.0" y2="752.8" stroke="#aeaeae" stroke-width="1.2"/>
<line x1="119.0" y1="777.9" x2="122.0" y2="777.9" stroke="#aeaeae" stroke-width="1.2"/>
<line x1="119.0" y1="803.0" x2="122.0" y2="803.0" stroke="#aeaeae" stroke-width="1.2"/>
<line x1="119.0" y1="828.2" x2="122.0" y2="828.2" stroke="#aeaeae" stroke-width="1.2"/>
<line x1="119.0" y1="853.0" x2="122.0" y2="853.0" stroke="#aeaeae" stroke-width="1.2"/>
<text x="116.5" y="734.0" font-size="19.5" text-anchor="end">0.4</text>
<text x="116.5" y="835.8" font-size="19.5" text-anchor="end">0.0</text>
<text x="116.5" y="857.0" font-size="19.5" text-anchor="end">-0.1</text>
<text x="309.5" y="724.7" font-size="22.5" textLength="142.0" lengthAdjust="spacingAndGlyphs">DNCR2-TIAM</text>
<line x1="124.0" y1="985.4" x2="624.0" y2="985.4" stroke="#c8c8c8" stroke-width="1.2"/>
<line x1="182.3" y1="885.4" x2="182.3" y2="1010.9" stroke="#b4b4b4" stroke-width="1.2"/>
<clipPath id="cp6"><rect x="124.0" y="885.4" width="500.0" height="125.5"/></clipPath>
<g clip-path="url(#cp6)">
<polyline points="123.3,984.8 182.2,978.3 211.7,963.5 228.1,960.2 244.5,950.4 264.1,947.1 283.8,948.8 303.4,947.1 329.6,943.9 349.3,939.0 375.5,932.4 401.7,933.1 421.3,931.8 447.5,933.1 473.8,934.0 500.0,935.7 526.2,934.0 552.4,932.4 578.6,930.8 601.5,929.1 623.8,937.3" fill="none" stroke="#8bcfda" stroke-width="11" stroke-linejoin="round" stroke-linecap="round" stroke-opacity="0.09"/>
<polyline points="123.3,984.8 182.2,976.6 211.7,973.4 231.4,968.4 251.0,965.8 270.7,965.2 290.3,963.5 316.5,958.6 342.7,950.4 368.9,949.4 395.1,947.1 421.3,945.5 434.4,940.6 460.6,942.9 480.3,943.9 500.0,947.1 526.2,943.9 552.4,943.9 578.6,940.6 601.5,941.6 623.8,944.9" fill="none" stroke="#55b8da" stroke-width="11" stroke-linejoin="round" stroke-linecap="round" stroke-opacity="0.09"/>
<polyline points="123.3,984.8 182.2,979.9 211.7,971.7 228.1,969.1 244.5,963.5 270.7,958.6 300.2,961.9 316.5,957.0 332.9,953.7 359.1,942.2 382.0,940.6 401.7,939.9 421.3,937.3 447.5,930.8 473.8,934.0 500.0,931.8 526.2,930.8 552.4,929.8 578.6,928.5 601.5,925.2 623.8,932.4" fill="none" stroke="#7090cf" stroke-width="11" stroke-linejoin="round" stroke-linecap="round" stroke-opacity="0.09"/>
<polyline points="123.3,984.8 182.2,984.8 198.6,989.7 211.7,984.8 228.1,993.0 241.2,983.2 257.6,981.5 273.9,976.6 296.9,976.6 316.5,975.6 342.7,973.4 368.9,970.1 388.6,965.8 405.0,967.8 421.3,965.8 447.5,963.5 473.8,965.8 506.5,966.8 532.7,964.5 552.4,963.5 578.6,960.2 598.2,963.5 623.8,963.5" fill="none" stroke="#5270b8" stroke-width="11" stroke-linejoin="round" stroke-linecap="round" stroke-opacity="0.09"/>
<polyline points="123.3,984.8 152.8,986.5 182.2,984.8 198.6,989.7 218.3,979.9 237.9,970.1 257.6,966.8 283.8,969.1 303.4,969.1 323.1,964.5 349.3,960.2 375.5,959.3 388.6,956.0 408.2,959.3 434.4,958.0 447.5,955.3 467.2,959.3 486.9,957.0 513.1,957.0 532.7,953.7 552.4,954.7 578.6,953.7 598.2,952.1 623.8,956.0" fill="none" stroke="#e4b532" stroke-width="11" stroke-linejoin="round" stroke-linecap="round" stroke-opacity="0.09"/>
<polyline points="123.3,984.8 182.2,984.8 195.3,978.3 211.7,977.6 228.1,979.9 244.5,976.6 264.1,978.3 283.8,981.5 300.2,985.5 316.5,979.9 332.9,980.9 349.3,977.6 375.5,976.6 401.7,979.9 421.3,976.6 441.0,977.6 460.6,976.0 480.3,979.9 500.0,977.6 519.6,976.6 545.8,978.9 562.2,975.6 581.8,971.1 594.9,974.3 608.0,973.4 623.8,979.9" fill="none" stroke="#d04a62" stroke-width="11" stroke-linejoin="round" stroke-linecap="round" stroke-opacity="0.09"/>
<polyline points="123.3,984.8 182.2,978.3 211.7,963.5 228.1,960.2 244.5,950.4 264.1,947.1 283.8,948.8 303.4,947.1 329.6,943.9 349.3,939.0 375.5,932.4 401.7,933.1 421.3,931.8 447.5,933.1 473.8,934.0 500.0,935.7 526.2,934.0 552.4,932.4 578.6,930.8 601.5,929.1 623.8,937.3" fill="none" stroke="#8bcfda" stroke-width="2.3" stroke-linejoin="round" stroke-linecap="round"/>
<polyline points="123.3,984.8 182.2,976.6 211.7,973.4 231.4,968.4 251.0,965.8 270.7,965.2 290.3,963.5 316.5,958.6 342.7,950.4 368.9,949.4 395.1,947.1 421.3,945.5 434.4,940.6 460.6,942.9 480.3,943.9 500.0,947.1 526.2,943.9 552.4,943.9 578.6,940.6 601.5,941.6 623.8,944.9" fill="none" stroke="#55b8da" stroke-width="2.3" stroke-linejoin="round" stroke-linecap="round"/>
<polyline points="123.3,984.8 182.2,979.9 211.7,971.7 228.1,969.1 244.5,963.5 270.7,958.6 300.2,961.9 316.5,957.0 332.9,953.7 359.1,942.2 382.0,940.6 401.7,939.9 421.3,937.3 447.5,930.8 473.8,934.0 500.0,931.8 526.2,930.8 552.4,929.8 578.6,928.5 601.5,925.2 623.8,932.4" fill="none" stroke="#7090cf" stroke-width="2.3" stroke-linejoin="round" stroke-linecap="round"/>
<polyline points="123.3,984.8 182.2,984.8 198.6,989.7 211.7,984.8 228.1,993.0 241.2,983.2 257.6,981.5 273.9,976.6 296.9,976.6 316.5,975.6 342.7,973.4 368.9,970.1 388.6,965.8 405.0,967.8 421.3,965.8 447.5,963.5 473.8,965.8 506.5,966.8 532.7,964.5 552.4,963.5 578.6,960.2 598.2,963.5 623.8,963.5" fill="none" stroke="#5270b8" stroke-width="2.3" stroke-linejoin="round" stroke-linecap="round"/>
<polyline points="123.3,984.8 152.8,986.5 182.2,984.8 198.6,989.7 218.3,979.9 237.9,970.1 257.6,966.8 283.8,969.1 303.4,969.1 323.1,964.5 349.3,960.2 375.5,959.3 388.6,956.0 408.2,959.3 434.4,958.0 447.5,955.3 467.2,959.3 486.9,957.0 513.1,957.0 532.7,953.7 552.4,954.7 578.6,953.7 598.2,952.1 623.8,956.0" fill="none" stroke="#e4b532" stroke-width="2.3" stroke-linejoin="round" stroke-linecap="round"/>
<polyline points="123.3,984.8 182.2,984.8 195.3,978.3 211.7,977.6 228.1,979.9 244.5,976.6 264.1,978.3 283.8,981.5 300.2,985.5 316.5,979.9 332.9,980.9 349.3,977.6 375.5,976.6 401.7,979.9 421.3,976.6 441.0,977.6 460.6,976.0 480.3,979.9 500.0,977.6 519.6,976.6 545.8,978.9 562.2,975.6 581.8,971.1 594.9,974.3 608.0,973.4 623.8,979.9" fill="none" stroke="#d04a62" stroke-width="2.3" stroke-linejoin="round" stroke-linecap="round"/>
</g>
<rect x="124.0" y="885.4" width="500.0" height="125.5" fill="none" stroke="#c2c2c2" stroke-width="2.0"/>
<line x1="121.0" y1="885.4" x2="124.0" y2="885.4" stroke="#aeaeae" stroke-width="1.2"/>
<line x1="121.0" y1="910.4" x2="124.0" y2="910.4" stroke="#aeaeae" stroke-width="1.2"/>
<line x1="121.0" y1="935.4" x2="124.0" y2="935.4" stroke="#aeaeae" stroke-width="1.2"/>
<line x1="121.0" y1="960.4" x2="124.0" y2="960.4" stroke="#aeaeae" stroke-width="1.2"/>
<line x1="121.0" y1="985.4" x2="124.0" y2="985.4" stroke="#aeaeae" stroke-width="1.2"/>
<text x="116.5" y="893.0" font-size="19.5" text-anchor="end">0.4</text>
<text x="116.5" y="993.5" font-size="19.5" text-anchor="end">0.0</text>
<text x="116.5" y="1015.0" font-size="19.5" text-anchor="end">-0.1</text>
<text x="304.4" y="882.4" font-size="22.5" textLength="151.3" lengthAdjust="spacingAndGlyphs">GNCR1-LARG</text>
<text x="123.0" y="1031.0" font-size="19.5" text-anchor="middle">-8</text>
<text x="182.3" y="1031.0" font-size="19.5" text-anchor="middle">0</text>
<text x="256.5" y="1031.0" font-size="19.5" text-anchor="middle">10</text>
<text x="330.6" y="1031.0" font-size="19.5" text-anchor="middle">20</text>
<text x="400.6" y="1031.0" font-size="19.5" text-anchor="middle">30</text>
<text x="474.8" y="1031.0" font-size="19.5" text-anchor="middle">40</text>
<text x="549.0" y="1031.0" font-size="19.5" text-anchor="middle">50</text>
<text x="623.1" y="1029.5" font-size="19.5" text-anchor="middle">60</text>
<line x1="123.7" y1="1010.9" x2="123.7" y2="1014.5" stroke="#aeaeae" stroke-width="1.2"/>
<line x1="182.3" y1="1010.9" x2="182.3" y2="1014.5" stroke="#aeaeae" stroke-width="1.2"/>
<line x1="255.6" y1="1010.9" x2="255.6" y2="1014.5" stroke="#aeaeae" stroke-width="1.2"/>
<line x1="328.9" y1="1010.9" x2="328.9" y2="1014.5" stroke="#aeaeae" stroke-width="1.2"/>
<line x1="402.2" y1="1010.9" x2="402.2" y2="1014.5" stroke="#aeaeae" stroke-width="1.2"/>
<line x1="475.5" y1="1010.9" x2="475.5" y2="1014.5" stroke="#aeaeae" stroke-width="1.2"/>
<line x1="548.8" y1="1010.9" x2="548.8" y2="1014.5" stroke="#aeaeae" stroke-width="1.2"/>
<line x1="622.1" y1="1010.9" x2="622.1" y2="1014.5" stroke="#aeaeae" stroke-width="1.2"/>
<text x="377.3" y="1054.5" font-size="21" text-anchor="middle">Time (min)</text>
<text x="69.5" y="808.0" font-size="20.5" text-anchor="middle" textLength="402.0" lengthAdjust="spacingAndGlyphs" transform="rotate(-90 69.5 808.0)">Normalized Circularity (DMSO subtracted)</text>
<text x="706.0" y="36.7" font-size="39" font-weight="bold">b</text>
<rect x="790.5" y="427.0" width="87.7" height="12.5" fill="#a6a6a6"/>
<rect x="877.8" y="427.0" width="87.7" height="12.5" fill="#e84545"/>
<rect x="965.1" y="427.0" width="87.7" height="12.5" fill="#5585cc"/>
<rect x="1052.4" y="427.0" width="87.7" height="12.5" fill="#7ca5de"/>
<rect x="1139.8" y="427.0" width="87.7" height="12.5" fill="#62c8ea"/>
<rect x="1227.1" y="427.0" width="87.7" height="12.5" fill="#98dae5"/>
<rect x="1314.4" y="427.0" width="87.7" height="12.5" fill="#f5a91a"/>
<line x1="790.5" y1="61.0" x2="1401.7" y2="61.0" stroke="#6a6a6a" stroke-width="1.5"/>
<line x1="1401.7" y1="61.0" x2="1401.7" y2="439.5" stroke="#6a6a6a" stroke-width="1.5"/>
<line x1="790.5" y1="439.5" x2="1401.7" y2="439.5" stroke="#6a6a6a" stroke-width="1.5"/>
<line x1="790.5" y1="61.0" x2="790.5" y2="439.5" stroke="#9c9c9c" stroke-width="2.4"/>
<line x1="790.5" y1="186.4" x2="1401.7" y2="186.4" stroke="#2a2a2a" stroke-width="1.8"/>
<line x1="785.5" y1="61.0" x2="790.5" y2="61.0" stroke="#777" stroke-width="1.3"/>
<text transform="translate(784.3 67.8) scale(1.1 1)" x="0" y="0" font-size="18" text-anchor="end" fill="#333">0.10</text>
<line x1="785.5" y1="124.3" x2="790.5" y2="124.3" stroke="#777" stroke-width="1.3"/>
<text transform="translate(784.3 131.4) scale(1.1 1)" x="0" y="0" font-size="18" text-anchor="end" fill="#333">0.05</text>
<line x1="785.5" y1="186.4" x2="790.5" y2="186.4" stroke="#777" stroke-width="1.3"/>
<text transform="translate(784.3 193.6) scale(1.1 1)" x="0" y="0" font-size="18" text-anchor="end" fill="#333">0.00</text>
<line x1="785.5" y1="250.0" x2="790.5" y2="250.0" stroke="#777" stroke-width="1.3"/>
<text transform="translate(784.3 257.1) scale(1.1 1)" x="0" y="0" font-size="18" text-anchor="end" fill="#333">−0.05</text>
<line x1="785.5" y1="313.7" x2="790.5" y2="313.7" stroke="#777" stroke-width="1.3"/>
<text transform="translate(784.3 320.7) scale(1.1 1)" x="0" y="0" font-size="18" text-anchor="end" fill="#333">−0.10</text>
<line x1="785.5" y1="377.0" x2="790.5" y2="377.0" stroke="#777" stroke-width="1.3"/>
<text transform="translate(784.3 383.4) scale(1.1 1)" x="0" y="0" font-size="18" text-anchor="end" fill="#333">−0.15</text>
<line x1="819.0" y1="439.5" x2="819.0" y2="444.5" stroke="#888" stroke-width="1.3"/>
<line x1="908.5" y1="439.5" x2="908.5" y2="444.5" stroke="#888" stroke-width="1.3"/>
<line x1="998.0" y1="439.5" x2="998.0" y2="444.5" stroke="#888" stroke-width="1.3"/>
<line x1="1087.7" y1="439.5" x2="1087.7" y2="444.5" stroke="#888" stroke-width="1.3"/>
<line x1="1176.8" y1="439.5" x2="1176.8" y2="444.5" stroke="#888" stroke-width="1.3"/>
<line x1="1266.3" y1="439.5" x2="1266.3" y2="444.5" stroke="#888" stroke-width="1.3"/>
<line x1="1356.3" y1="439.5" x2="1356.3" y2="444.5" stroke="#888" stroke-width="1.3"/>
<text x="830.7" y="462.6" font-size="20" text-anchor="middle">DMSO</text>
<text x="916.8" y="462.6" font-size="20" text-anchor="middle">100 nM</text>
<text x="916.8" y="486.6" font-size="20" text-anchor="middle">dano</text>
<text x="1004.7" y="462.6" font-size="20" text-anchor="middle">3.5 nM</text>
<text x="1004.7" y="486.6" font-size="20" text-anchor="middle">grazo</text>
<text x="1091.8" y="462.6" font-size="20" text-anchor="middle">9.4 nM</text>
<text x="1091.8" y="486.6" font-size="20" text-anchor="middle">grazo</text>
<text x="1176.8" y="462.6" font-size="20" text-anchor="middle">21 nM</text>
<text x="1176.8" y="486.6" font-size="20" text-anchor="middle">grazo</text>
<text x="1265.2" y="462.6" font-size="20" text-anchor="middle">57 nM</text>
<text x="1265.2" y="486.6" font-size="20" text-anchor="middle">grazo</text>
<text x="1353.4" y="462.6" font-size="20" text-anchor="middle">57 nM</text>
<text x="1353.4" y="486.6" font-size="20" text-anchor="middle">grazo</text>
<line x1="966.0" y1="501.0" x2="1310.0" y2="501.0" stroke="#111" stroke-width="2"/>
<line x1="966.0" y1="495.0" x2="966.0" y2="507.0" stroke="#111" stroke-width="2"/>
<line x1="1310.0" y1="495.0" x2="1310.0" y2="507.0" stroke="#111" stroke-width="2"/>
<text x="1040.0" y="522.3" font-size="20" textLength="190.0" lengthAdjust="spacingAndGlyphs">+ 100 nM danoprevir</text>
<text x="700.4" y="234.0" font-size="19.5" text-anchor="middle" textLength="296.0" lengthAdjust="spacingAndGlyphs" transform="rotate(-90 700.4 234.0)">Change in normalized perimeter</text>
<text x="727.1" y="230.5" font-size="19.5" text-anchor="middle" textLength="139.0" lengthAdjust="spacingAndGlyphs" transform="rotate(-90 727.1 230.5)">(post-pre-drug)</text>
<line x1="819.0" y1="194.4" x2="819.0" y2="220.4" stroke="#f6aa3c" stroke-width="1.9"/>
<line x1="908.0" y1="160.4" x2="908.0" y2="184.4" stroke="#f6aa3c" stroke-width="1.9"/>
<line x1="997.7" y1="268.4" x2="997.7" y2="289.4" stroke="#f6aa3c" stroke-width="1.9"/>
<line x1="1087.7" y1="294.8" x2="1087.7" y2="323.8" stroke="#f6aa3c" stroke-width="1.9"/>
<line x1="1176.8" y1="303.9" x2="1176.8" y2="331.9" stroke="#f6aa3c" stroke-width="1.9"/>
<line x1="1266.3" y1="316.3" x2="1266.3" y2="348.3" stroke="#f6aa3c" stroke-width="1.9"/>
<line x1="1356.3" y1="383.8" x2="1356.3" y2="411.8" stroke="#f6aa3c" stroke-width="1.9"/>
<line x1="837.0" y1="252.2" x2="837.0" y2="276.2" stroke="#4ec4bc" stroke-width="1.9"/>
<line x1="926.0" y1="221.0" x2="926.0" y2="252.0" stroke="#4ec4bc" stroke-width="1.9"/>
<line x1="1015.7" y1="280.1" x2="1015.7" y2="311.5" stroke="#4ec4bc" stroke-width="1.9"/>
<line x1="1105.4" y1="355.9" x2="1105.4" y2="388.9" stroke="#4ec4bc" stroke-width="1.9"/>
<line x1="1195.2" y1="336.6" x2="1195.2" y2="369.6" stroke="#4ec4bc" stroke-width="1.9"/>
<line x1="1284.3" y1="340.0" x2="1284.3" y2="374.0" stroke="#4ec4bc" stroke-width="1.9"/>
<line x1="1374.0" y1="332.4" x2="1374.0" y2="355.4" stroke="#4ec4bc" stroke-width="1.9"/>
<line x1="828.0" y1="211.6" x2="828.0" y2="227.6" stroke="#4660be" stroke-width="1.9"/>
<line x1="917.0" y1="141.8" x2="917.0" y2="167.8" stroke="#4660be" stroke-width="1.9"/>
<line x1="1006.7" y1="157.6" x2="1006.7" y2="191.6" stroke="#4660be" stroke-width="1.9"/>
<line x1="1096.0" y1="130.6" x2="1096.0" y2="158.6" stroke="#4660be" stroke-width="1.9"/>
<line x1="1186.0" y1="142.4" x2="1186.0" y2="174.4" stroke="#4660be" stroke-width="1.9"/>
<line x1="1275.5" y1="114.4" x2="1275.5" y2="150.4" stroke="#4660be" stroke-width="1.9"/>
<line x1="1365.0" y1="177.6" x2="1365.0" y2="205.6" stroke="#4660be" stroke-width="1.9"/>
<circle cx="819.0" cy="207.4" r="8.8" fill="#f6aa3c"/>
<circle cx="908.0" cy="172.4" r="8.8" fill="#f6aa3c"/>
<circle cx="997.7" cy="278.9" r="8.8" fill="#f6aa3c"/>
<circle cx="1087.7" cy="309.3" r="8.8" fill="#f6aa3c"/>
<circle cx="1176.8" cy="317.9" r="8.8" fill="#f6aa3c"/>
<circle cx="1266.3" cy="332.3" r="8.8" fill="#f6aa3c"/>
<circle cx="1356.3" cy="397.8" r="8.8" fill="#f6aa3c"/>
<rect x="828.2" y="255.4" width="17.6" height="17.6" fill="#4ec4bc"/>
<rect x="917.2" y="227.7" width="17.6" height="17.6" fill="#4ec4bc"/>
<rect x="1006.9" y="287.0" width="17.6" height="17.6" fill="#4ec4bc"/>
<rect x="1096.6" y="363.6" width="17.6" height="17.6" fill="#4ec4bc"/>
<rect x="1186.4" y="344.3" width="17.6" height="17.6" fill="#4ec4bc"/>
<rect x="1275.5" y="348.2" width="17.6" height="17.6" fill="#4ec4bc"/>
<rect x="1365.2" y="335.1" width="17.6" height="17.6" fill="#4ec4bc"/>
<polygon points="816.2,219.6 828.0,208.3 839.8,219.6 828.0,230.9" fill="#4660be"/>
<polygon points="905.2,154.8 917.0,143.5 928.8,154.8 917.0,166.1" fill="#4660be"/>
<polygon points="994.9,174.6 1006.7,163.3 1018.5,174.6 1006.7,185.9" fill="#4660be"/>
<polygon points="1084.2,144.6 1096.0,133.3 1107.8,144.6 1096.0,155.9" fill="#4660be"/>
<polygon points="1174.2,158.4 1186.0,147.1 1197.8,158.4 1186.0,169.7" fill="#4660be"/>
<polygon points="1263.7,132.4 1275.5,121.1 1287.3,132.4 1275.5,143.7" fill="#4660be"/>
<polygon points="1353.2,191.6 1365.0,180.3 1376.8,191.6 1365.0,202.9" fill="#4660be"/>
<rect x="799.3" y="69.0" width="263.3" height="71.0" rx="3" fill="#fff" stroke="#e2e2e2" stroke-width="1.2"/>
<circle cx="821.0" cy="81.0" r="9.2" fill="#f6aa3c"/>
<polygon points="808.8,103.0 821.0,91.5 833.2,103.0 821.0,114.5" fill="#4660be"/>
<rect x="812.2" y="116.2" width="17.5" height="17.5" fill="#4ec4bc"/>
<text x="850.7" y="86.2" font-size="15.8" fill="#333" textLength="205.7" lengthAdjust="spacingAndGlyphs">DNCR2-TIAM/GNCR1-LARG</text>
<text x="850.7" y="108.2" font-size="15.8" fill="#333" textLength="96.9" lengthAdjust="spacingAndGlyphs">DNCR2-TIAM</text>
<text x="850.7" y="130.5" font-size="15.8" fill="#333" textLength="103.2" lengthAdjust="spacingAndGlyphs">GNCR1-LARG</text>

<text x="705.0" y="554.0" font-size="39" font-weight="bold">d</text>
<rect x="795.6" y="934.8" width="87.8" height="12.5" fill="#a6a6a6"/>
<rect x="883.0" y="934.8" width="87.8" height="12.5" fill="#e84545"/>
<rect x="970.3" y="934.8" width="87.8" height="12.5" fill="#5585cc"/>
<rect x="1057.7" y="934.8" width="87.8" height="12.5" fill="#7ca5de"/>
<rect x="1145.1" y="934.8" width="87.8" height="12.5" fill="#62c8ea"/>
<rect x="1232.5" y="934.8" width="87.8" height="12.5" fill="#98dae5"/>
<rect x="1319.8" y="934.8" width="87.8" height="12.5" fill="#f5a91a"/>
<line x1="795.6" y1="568.6" x2="1407.2" y2="568.6" stroke="#6a6a6a" stroke-width="1.5"/>
<line x1="1407.2" y1="568.6" x2="1407.2" y2="947.3" stroke="#6a6a6a" stroke-width="1.5"/>
<line x1="795.6" y1="947.3" x2="1407.2" y2="947.3" stroke="#6a6a6a" stroke-width="1.5"/>
<line x1="795.6" y1="568.6" x2="795.6" y2="947.3" stroke="#666" stroke-width="1.6"/>
<line x1="795.6" y1="930.6" x2="1407.2" y2="930.6" stroke="#2a2a2a" stroke-width="1.8"/>
<line x1="790.6" y1="606.2" x2="795.6" y2="606.2" stroke="#777" stroke-width="1.3"/>
<text transform="translate(788.6 613.2) scale(1.1 1)" x="0" y="0" font-size="18" text-anchor="end" fill="#333">0.4</text>
<line x1="790.6" y1="686.7" x2="795.6" y2="686.7" stroke="#777" stroke-width="1.3"/>
<text transform="translate(788.6 693.8) scale(1.1 1)" x="0" y="0" font-size="18" text-anchor="end" fill="#333">0.3</text>
<line x1="790.6" y1="767.8" x2="795.6" y2="767.8" stroke="#777" stroke-width="1.3"/>
<text transform="translate(788.6 774.9) scale(1.1 1)" x="0" y="0" font-size="18" text-anchor="end" fill="#333">0.2</text>
<line x1="790.6" y1="849.8" x2="795.6" y2="849.8" stroke="#777" stroke-width="1.3"/>
<text transform="translate(788.6 856.9) scale(1.1 1)" x="0" y="0" font-size="18" text-anchor="end" fill="#333">0.1</text>
<line x1="790.6" y1="930.6" x2="795.6" y2="930.6" stroke="#777" stroke-width="1.3"/>
<text transform="translate(788.6 937.4) scale(1.1 1)" x="0" y="0" font-size="18" text-anchor="end" fill="#333">0.0</text>
<line x1="824.7" y1="947.3" x2="824.7" y2="952.3" stroke="#888" stroke-width="1.3"/>
<line x1="913.7" y1="947.3" x2="913.7" y2="952.3" stroke="#888" stroke-width="1.3"/>
<line x1="1003.3" y1="947.3" x2="1003.3" y2="952.3" stroke="#888" stroke-width="1.3"/>
<line x1="1093.5" y1="947.3" x2="1093.5" y2="952.3" stroke="#888" stroke-width="1.3"/>
<line x1="1182.0" y1="947.3" x2="1182.0" y2="952.3" stroke="#888" stroke-width="1.3"/>
<line x1="1272.0" y1="947.3" x2="1272.0" y2="952.3" stroke="#888" stroke-width="1.3"/>
<line x1="1361.2" y1="947.3" x2="1361.2" y2="952.3" stroke="#888" stroke-width="1.3"/>
<text x="832.8" y="973.6" font-size="20" text-anchor="middle">DMSO</text>
<text x="919.3" y="973.6" font-size="20" text-anchor="middle">100 nM</text>
<text x="919.3" y="998.3" font-size="20" text-anchor="middle">dano</text>
<text x="1007.3" y="973.6" font-size="20" text-anchor="middle">3.5 nM</text>
<text x="1007.3" y="998.3" font-size="20" text-anchor="middle">grazo</text>
<text x="1093.5" y="973.6" font-size="20" text-anchor="middle">9.4 nM</text>
<text x="1093.5" y="998.3" font-size="20" text-anchor="middle">grazo</text>
<text x="1179.5" y="973.6" font-size="20" text-anchor="middle">21 nM</text>
<text x="1179.5" y="998.3" font-size="20" text-anchor="middle">grazo</text>
<text x="1267.7" y="973.6" font-size="20" text-anchor="middle">57 nM</text>
<text x="1267.7" y="998.3" font-size="20" text-anchor="middle">grazo</text>
<text x="1355.4" y="973.6" font-size="20" text-anchor="middle">57 nM</text>
<text x="1355.4" y="998.3" font-size="20" text-anchor="middle">grazo</text>
<line x1="968.8" y1="1012.5" x2="1312.2" y2="1012.5" stroke="#111" stroke-width="2"/>
<line x1="968.8" y1="1006.5" x2="968.8" y2="1018.5" stroke="#111" stroke-width="2"/>
<line x1="1312.2" y1="1006.5" x2="1312.2" y2="1018.5" stroke="#111" stroke-width="2"/>
<text x="1043.0" y="1034.3" font-size="20" textLength="189.3" lengthAdjust="spacingAndGlyphs">+ 100 nM danoprevir</text>
<text x="722.9" y="732.6" font-size="19.5" text-anchor="middle" textLength="295.0" lengthAdjust="spacingAndGlyphs" transform="rotate(-90 722.9 732.6)">Change in normalized circularity</text>
<text x="749.4" y="730.0" font-size="19.5" text-anchor="middle" textLength="139.0" lengthAdjust="spacingAndGlyphs" transform="rotate(-90 749.4 730.0)">(post-pre-drug)</text>
<line x1="824.7" y1="860.8" x2="824.7" y2="882.8" stroke="#f6aa3c" stroke-width="1.9"/>
<line x1="913.7" y1="801.7" x2="913.7" y2="831.7" stroke="#f6aa3c" stroke-width="1.9"/>
<line x1="1003.3" y1="732.7" x2="1003.3" y2="762.7" stroke="#f6aa3c" stroke-width="1.9"/>
<line x1="1093.2" y1="705.4" x2="1093.2" y2="743.4" stroke="#f6aa3c" stroke-width="1.9"/>
<line x1="1182.3" y1="689.5" x2="1182.3" y2="724.5" stroke="#f6aa3c" stroke-width="1.9"/>
<line x1="1272.0" y1="634.5" x2="1272.0" y2="681.5" stroke="#f6aa3c" stroke-width="1.9"/>
<line x1="1361.6" y1="586.3" x2="1361.6" y2="624.3" stroke="#f6aa3c" stroke-width="1.9"/>
<line x1="842.3" y1="805.6" x2="842.3" y2="833.6" stroke="#4ec4bc" stroke-width="1.9"/>
<line x1="931.8" y1="783.6" x2="931.8" y2="817.6" stroke="#4ec4bc" stroke-width="1.9"/>
<line x1="1021.0" y1="731.7" x2="1021.0" y2="763.7" stroke="#4ec4bc" stroke-width="1.9"/>
<line x1="1111.0" y1="629.4" x2="1111.0" y2="677.4" stroke="#4ec4bc" stroke-width="1.9"/>
<line x1="1200.4" y1="670.2" x2="1200.4" y2="711.2" stroke="#4ec4bc" stroke-width="1.9"/>
<line x1="1290.2" y1="639.8" x2="1290.2" y2="695.8" stroke="#4ec4bc" stroke-width="1.9"/>
<line x1="1379.6" y1="700.2" x2="1379.6" y2="735.2" stroke="#4ec4bc" stroke-width="1.9"/>
<line x1="833.2" y1="842.0" x2="833.2" y2="858.0" stroke="#4660be" stroke-width="1.9"/>
<line x1="922.8" y1="849.5" x2="922.8" y2="875.5" stroke="#4660be" stroke-width="1.9"/>
<line x1="1011.8" y1="795.8" x2="1011.8" y2="833.8" stroke="#4660be" stroke-width="1.9"/>
<line x1="1101.4" y1="850.1" x2="1101.4" y2="874.1" stroke="#4660be" stroke-width="1.9"/>
<line x1="1191.2" y1="820.0" x2="1191.2" y2="852.0" stroke="#4660be" stroke-width="1.9"/>
<line x1="1281.0" y1="864.0" x2="1281.0" y2="892.0" stroke="#4660be" stroke-width="1.9"/>
<line x1="1370.4" y1="854.0" x2="1370.4" y2="882.0" stroke="#4660be" stroke-width="1.9"/>
<circle cx="824.7" cy="871.8" r="8.8" fill="#f6aa3c"/>
<circle cx="913.7" cy="816.7" r="8.8" fill="#f6aa3c"/>
<circle cx="1003.3" cy="747.7" r="8.8" fill="#f6aa3c"/>
<circle cx="1093.2" cy="724.4" r="8.8" fill="#f6aa3c"/>
<circle cx="1182.3" cy="707.0" r="8.8" fill="#f6aa3c"/>
<circle cx="1272.0" cy="658.0" r="8.8" fill="#f6aa3c"/>
<circle cx="1361.6" cy="605.3" r="8.8" fill="#f6aa3c"/>
<rect x="833.5" y="810.8" width="17.6" height="17.6" fill="#4ec4bc"/>
<rect x="923.0" y="791.8" width="17.6" height="17.6" fill="#4ec4bc"/>
<rect x="1012.2" y="738.9" width="17.6" height="17.6" fill="#4ec4bc"/>
<rect x="1102.2" y="644.6" width="17.6" height="17.6" fill="#4ec4bc"/>
<rect x="1191.6" y="681.9" width="17.6" height="17.6" fill="#4ec4bc"/>
<rect x="1281.4" y="659.0" width="17.6" height="17.6" fill="#4ec4bc"/>
<rect x="1370.8" y="708.9" width="17.6" height="17.6" fill="#4ec4bc"/>
<polygon points="821.4,850.0 833.2,838.7 845.0,850.0 833.2,861.3" fill="#4660be"/>
<polygon points="911.0,862.5 922.8,851.2 934.6,862.5 922.8,873.8" fill="#4660be"/>
<polygon points="1000.0,814.8 1011.8,803.5 1023.6,814.8 1011.8,826.1" fill="#4660be"/>
<polygon points="1089.6,862.1 1101.4,850.8 1113.2,862.1 1101.4,873.4" fill="#4660be"/>
<polygon points="1179.4,836.0 1191.2,824.7 1203.0,836.0 1191.2,847.3" fill="#4660be"/>
<polygon points="1269.2,878.0 1281.0,866.7 1292.8,878.0 1281.0,889.3" fill="#4660be"/>
<polygon points="1358.6,868.0 1370.4,856.7 1382.2,868.0 1370.4,879.3" fill="#4660be"/>
<rect x="804.7" y="576.5" width="264.3" height="72.1" rx="3" fill="#fff" stroke="#e2e2e2" stroke-width="1.2"/>
<circle cx="826.7" cy="588.7" r="9.2" fill="#f6aa3c"/>
<polygon points="814.5,611.0 826.7,599.5 838.9,611.0 826.7,622.5" fill="#4660be"/>
<rect x="818.0" y="624.2" width="17.5" height="17.5" fill="#4ec4bc"/>
<text x="856.4" y="594.0" font-size="15.8" fill="#333" textLength="204.8" lengthAdjust="spacingAndGlyphs">DNCR2-TIAM/GNCR1-LARG</text>
<text x="856.4" y="616.0" font-size="15.8" fill="#333" textLength="96.6" lengthAdjust="spacingAndGlyphs">DNCR2-TIAM</text>
<text x="856.4" y="638.1" font-size="15.8" fill="#333" textLength="103.1" lengthAdjust="spacingAndGlyphs">GNCR1-LARG</text>

<text x="22.0" y="1073.4" font-size="40" font-weight="bold">e</text>
<text x="30.0" y="1346.0" font-size="40" font-weight="bold">f</text>
<text x="19.0" y="1598.0" font-size="40" font-weight="bold">g</text>
<text x="20.5" y="1870.0" font-size="40" font-weight="bold">h</text>
<path d="M114.8,1258.9 117.0,1258.9 119.2,1258.9 121.4,1258.9 123.6,1258.8 125.8,1258.8 127.9,1258.7 130.1,1258.7 132.3,1258.6 134.5,1258.5 136.7,1258.5 138.9,1258.4 141.1,1257.9 143.2,1256.8 145.4,1255.2 147.6,1253.3 149.8,1250.4 152.0,1245.5 154.2,1239.3 156.3,1231.7 158.5,1220.3 160.7,1206.5 162.9,1192.4 165.1,1176.6 167.3,1160.3 169.5,1144.2 171.6,1127.7 173.8,1115.1 176.0,1105.2 178.2,1103.0 180.4,1103.8 182.6,1105.7 184.7,1109.7 186.9,1114.5 189.1,1119.1 191.3,1123.9 193.5,1128.8 195.7,1133.3 197.9,1137.4 200.0,1141.3 202.2,1145.0 204.4,1148.7 206.6,1152.2 208.8,1155.4 211.0,1158.6 213.1,1161.8 215.3,1165.1 217.5,1168.7 219.7,1172.3 221.9,1176.0 224.1,1180.0 226.3,1184.2 228.4,1189.0 230.6,1194.2 232.8,1199.5 235.0,1204.8 237.2,1210.3 239.4,1215.6 241.5,1219.9 243.7,1223.4 245.9,1226.4 248.1,1229.0 250.3,1231.1 252.5,1233.0 254.7,1234.6 256.8,1236.1 259.0,1237.5 261.2,1239.0 263.4,1240.4 265.6,1241.8 267.8,1243.1 270.0,1244.4 272.1,1245.4 274.3,1246.4 276.5,1247.3 278.7,1248.1 280.9,1248.8 283.1,1249.5 285.2,1250.2 287.4,1250.8 289.6,1251.4 291.8,1252.0 294.0,1252.5 296.2,1253.1 298.4,1253.6 300.5,1254.0 302.7,1254.4 304.9,1254.8 307.1,1255.1 309.3,1255.4 311.5,1255.6 313.6,1255.9 315.8,1256.1 318.0,1256.3 320.2,1256.5 322.4,1256.6 324.6,1256.8 326.8,1257.0 328.9,1257.1 331.1,1257.2 333.3,1257.3 335.5,1257.4 337.7,1257.5 339.9,1257.6 342.0,1257.7 344.2,1257.8 346.4,1257.9 348.6,1258.0 350.8,1258.1 353.0,1258.1 355.2,1258.2 357.3,1258.3 359.5,1258.4 361.7,1258.4 363.9,1258.5 366.1,1258.6 368.3,1258.6 370.4,1258.7 372.6,1258.7 374.8,1258.8 377.0,1258.8 379.2,1258.8 381.4,1258.9 383.6,1258.9 385.7,1258.9 387.9,1258.9" fill="none" stroke="#a3a3a3" stroke-width="2.5" stroke-linejoin="round"/>
<path d="M114.8,1258.9 117.0,1258.9 119.2,1258.9 121.4,1258.9 123.6,1258.8 125.8,1258.8 127.9,1258.8 130.1,1258.7 132.3,1258.7 134.5,1258.6 136.7,1258.5 138.9,1258.4 141.1,1258.2 143.2,1257.5 145.4,1256.3 147.6,1254.5 149.8,1252.2 152.0,1247.2 154.2,1239.9 156.3,1231.5 158.5,1222.4 160.7,1211.2 162.9,1198.5 165.1,1184.5 167.3,1167.0 169.5,1148.4 171.6,1131.5 173.8,1113.6 176.0,1104.2 178.2,1103.2 180.4,1103.1 182.6,1105.4 184.7,1109.0 186.9,1112.7 189.1,1117.1 191.3,1121.8 193.5,1126.5 195.7,1131.6 197.9,1136.8 200.0,1141.9 202.2,1146.5 204.4,1150.4 206.6,1153.7 208.8,1156.8 211.0,1159.9 213.1,1163.2 215.3,1166.8 217.5,1170.6 219.7,1174.5 221.9,1178.4 224.1,1182.3 226.3,1186.3 228.4,1190.3 230.6,1194.2 232.8,1197.8 235.0,1201.0 237.2,1204.1 239.4,1206.9 241.5,1209.5 243.7,1211.8 245.9,1213.8 248.1,1215.4 250.3,1217.0 252.5,1218.5 254.7,1220.1 256.8,1221.7 259.0,1223.2 261.2,1224.8 263.4,1226.5 265.6,1228.4 267.8,1230.6 270.0,1233.0 272.1,1235.4 274.3,1237.6 276.5,1239.6 278.7,1241.3 280.9,1242.9 283.1,1244.4 285.2,1245.8 287.4,1247.1 289.6,1248.3 291.8,1249.3 294.0,1250.2 296.2,1250.9 298.4,1251.4 300.5,1252.0 302.7,1252.5 304.9,1253.0 307.1,1253.4 309.3,1253.8 311.5,1254.1 313.6,1254.4 315.8,1254.7 318.0,1255.0 320.2,1255.2 322.4,1255.4 324.6,1255.6 326.8,1255.8 328.9,1256.0 331.1,1256.2 333.3,1256.3 335.5,1256.5 337.7,1256.7 339.9,1256.8 342.0,1257.0 344.2,1257.2 346.4,1257.3 348.6,1257.5 350.8,1257.6 353.0,1257.7 355.2,1257.9 357.3,1258.0 359.5,1258.1 361.7,1258.2 363.9,1258.3 366.1,1258.4 368.3,1258.5 370.4,1258.6 372.6,1258.6 374.8,1258.7 377.0,1258.8 379.2,1258.8 381.4,1258.8 383.6,1258.9 385.7,1258.9 387.9,1258.9" fill="none" stroke="#8fd3e2" stroke-width="2.5" stroke-linejoin="round"/>
<path d="M114.8,1258.9 117.0,1258.9 119.2,1258.9 121.4,1258.9 123.6,1258.8 125.8,1258.8 127.9,1258.8 130.1,1258.7 132.3,1258.7 134.5,1258.6 136.7,1258.6 138.9,1258.5 141.1,1258.4 143.2,1258.3 145.4,1257.6 147.6,1256.3 149.8,1254.4 152.0,1252.0 154.2,1249.4 156.3,1245.0 158.5,1238.2 160.7,1229.9 162.9,1220.8 165.1,1210.3 167.3,1197.3 169.5,1184.0 171.6,1171.9 173.8,1160.1 176.0,1148.9 178.2,1139.0 180.4,1129.9 182.6,1121.4 184.7,1117.1 186.9,1117.1 189.1,1117.1 191.3,1117.6 193.5,1120.9 195.7,1125.6 197.9,1130.0 200.0,1133.8 202.2,1137.7 204.4,1141.6 206.6,1145.4 208.8,1149.0 211.0,1152.3 213.1,1155.4 215.3,1158.5 217.5,1161.9 219.7,1165.7 221.9,1169.9 224.1,1174.4 226.3,1179.0 228.4,1183.5 230.6,1188.0 232.8,1192.7 235.0,1197.3 237.2,1201.5 239.4,1205.1 241.5,1208.4 243.7,1211.5 245.9,1214.2 248.1,1216.4 250.3,1218.0 252.5,1219.1 254.7,1220.0 256.8,1221.0 259.0,1222.1 261.2,1223.7 263.4,1225.8 265.6,1228.2 267.8,1230.6 270.0,1232.9 272.1,1235.2 274.3,1237.6 276.5,1239.9 278.7,1241.9 280.9,1243.5 283.1,1245.0 285.2,1246.3 287.4,1247.5 289.6,1248.6 291.8,1249.5 294.0,1250.3 296.2,1250.8 298.4,1251.3 300.5,1251.8 302.7,1252.2 304.9,1252.5 307.1,1252.9 309.3,1253.2 311.5,1253.5 313.6,1253.7 315.8,1254.0 318.0,1254.2 320.2,1254.4 322.4,1254.6 324.6,1254.8 326.8,1255.1 328.9,1255.3 331.1,1255.5 333.3,1255.7 335.5,1255.9 337.7,1256.1 339.9,1256.3 342.0,1256.5 344.2,1256.7 346.4,1256.8 348.6,1257.0 350.8,1257.2 353.0,1257.4 355.2,1257.5 357.3,1257.7 359.5,1257.8 361.7,1258.0 363.9,1258.1 366.1,1258.2 368.3,1258.3 370.4,1258.4 372.6,1258.5 374.8,1258.6 377.0,1258.7 379.2,1258.7 381.4,1258.8 383.6,1258.8 385.7,1258.9 387.9,1258.9" fill="none" stroke="#4dbbe6" stroke-width="2.5" stroke-linejoin="round"/>
<path d="M114.8,1258.9 117.0,1258.9 119.2,1258.9 121.4,1258.9 123.6,1258.8 125.8,1258.8 127.9,1258.8 130.1,1258.7 132.3,1258.7 134.5,1258.6 136.7,1258.5 138.9,1258.5 141.1,1258.4 143.2,1258.0 145.4,1256.9 147.6,1255.2 149.8,1253.1 152.0,1250.7 154.2,1246.4 156.3,1240.2 158.5,1232.6 160.7,1224.4 162.9,1214.3 165.1,1202.1 167.3,1189.4 169.5,1177.4 171.6,1164.8 173.8,1152.7 176.0,1142.6 178.2,1133.6 180.4,1127.0 182.6,1125.3 184.7,1124.8 186.9,1125.6 189.1,1127.8 191.3,1130.7 193.5,1133.5 195.7,1136.5 197.9,1139.9 200.0,1143.3 202.2,1146.8 204.4,1150.1 206.6,1153.4 208.8,1156.6 211.0,1159.9 213.1,1163.2 215.3,1166.4 217.5,1169.6 219.7,1172.8 221.9,1176.2 224.1,1179.7 226.3,1183.4 228.4,1187.4 230.6,1191.3 232.8,1195.1 235.0,1198.7 237.2,1202.1 239.4,1205.4 241.5,1208.6 243.7,1211.7 245.9,1214.6 248.1,1217.3 250.3,1220.0 252.5,1222.6 254.7,1225.1 256.8,1227.5 259.0,1229.9 261.2,1232.3 263.4,1234.7 265.6,1236.9 267.8,1238.9 270.0,1240.5 272.1,1242.0 274.3,1243.3 276.5,1244.6 278.7,1245.7 280.9,1246.8 283.1,1247.7 285.2,1248.6 287.4,1249.3 289.6,1249.9 291.8,1250.5 294.0,1251.1 296.2,1251.6 298.4,1252.2 300.5,1252.7 302.7,1253.1 304.9,1253.6 307.1,1254.0 309.3,1254.3 311.5,1254.7 313.6,1255.0 315.8,1255.3 318.0,1255.5 320.2,1255.7 322.4,1255.9 324.6,1256.1 326.8,1256.2 328.9,1256.4 331.1,1256.6 333.3,1256.7 335.5,1256.9 337.7,1257.0 339.9,1257.2 342.0,1257.3 344.2,1257.4 346.4,1257.6 348.6,1257.7 350.8,1257.8 353.0,1257.9 355.2,1258.0 357.3,1258.1 359.5,1258.2 361.7,1258.3 363.9,1258.4 366.1,1258.5 368.3,1258.6 370.4,1258.6 372.6,1258.7 374.8,1258.7 377.0,1258.8 379.2,1258.8 381.4,1258.8 383.6,1258.9 385.7,1258.9 387.9,1258.9" fill="none" stroke="#729ad9" stroke-width="2.5" stroke-linejoin="round"/>
<path d="M114.8,1258.9 117.0,1258.9 119.2,1258.9 121.4,1258.9 123.6,1258.8 125.8,1258.8 127.9,1258.8 130.1,1258.7 132.3,1258.7 134.5,1258.6 136.7,1258.5 138.9,1258.5 141.1,1258.4 143.2,1258.0 145.4,1256.8 147.6,1255.1 149.8,1252.8 152.0,1250.1 154.2,1244.8 156.3,1237.1 158.5,1228.1 160.7,1218.5 162.9,1206.9 165.1,1194.5 167.3,1182.4 169.5,1170.1 171.6,1157.8 173.8,1146.6 176.0,1137.2 178.2,1128.8 180.4,1124.0 182.6,1121.4 184.7,1121.1 186.9,1122.2 189.1,1123.9 191.3,1125.9 193.5,1128.8 195.7,1132.3 197.9,1136.1 200.0,1139.7 202.2,1143.0 204.4,1146.2 206.6,1149.5 208.8,1152.8 211.0,1156.1 213.1,1159.3 215.3,1162.5 217.5,1165.7 219.7,1169.1 221.9,1172.6 224.1,1176.3 226.3,1180.2 228.4,1184.1 230.6,1188.0 232.8,1191.8 235.0,1195.8 237.2,1199.7 239.4,1203.5 241.5,1207.1 243.7,1210.5 245.9,1213.7 248.1,1216.9 250.3,1219.9 252.5,1222.7 254.7,1225.3 256.8,1227.8 259.0,1230.2 261.2,1232.4 263.4,1234.5 265.6,1236.5 267.8,1238.3 270.0,1240.0 272.1,1241.7 274.3,1243.4 276.5,1244.9 278.7,1246.2 280.9,1247.4 283.1,1248.3 285.2,1249.1 287.4,1249.8 289.6,1250.5 291.8,1251.2 294.0,1251.8 296.2,1252.4 298.4,1252.9 300.5,1253.4 302.7,1253.8 304.9,1254.1 307.1,1254.4 309.3,1254.6 311.5,1254.8 313.6,1255.0 315.8,1255.2 318.0,1255.5 320.2,1255.6 322.4,1255.8 324.6,1256.0 326.8,1256.2 328.9,1256.4 331.1,1256.6 333.3,1256.7 335.5,1256.9 337.7,1257.0 339.9,1257.2 342.0,1257.3 344.2,1257.5 346.4,1257.6 348.6,1257.7 350.8,1257.9 353.0,1258.0 355.2,1258.1 357.3,1258.2 359.5,1258.3 361.7,1258.4 363.9,1258.4 366.1,1258.5 368.3,1258.6 370.4,1258.6 372.6,1258.7 374.8,1258.7 377.0,1258.8 379.2,1258.8 381.4,1258.8 383.6,1258.9 385.7,1258.9 387.9,1258.9" fill="none" stroke="#4e72c6" stroke-width="2.5" stroke-linejoin="round"/>
<path d="M114.8,1258.9 117.0,1258.9 119.2,1258.9 121.4,1258.9 123.6,1258.8 125.8,1258.8 127.9,1258.8 130.1,1258.8 132.3,1258.7 134.5,1258.7 136.7,1258.6 138.9,1258.5 141.1,1258.5 143.2,1258.4 145.4,1258.1 147.6,1257.0 149.8,1255.3 152.0,1253.2 154.2,1250.6 156.3,1246.8 158.5,1240.9 160.7,1233.9 162.9,1226.2 165.1,1216.3 167.3,1205.2 169.5,1194.6 171.6,1184.7 173.8,1175.0 176.0,1165.7 178.2,1157.0 180.4,1148.0 182.6,1140.8 184.7,1137.9 186.9,1136.1 189.1,1135.2 191.3,1135.4 193.5,1137.4 195.7,1140.2 197.9,1142.8 200.0,1145.0 202.2,1147.2 204.4,1149.4 206.6,1151.5 208.8,1153.7 211.0,1156.0 213.1,1158.3 215.3,1160.5 217.5,1162.6 219.7,1164.4 221.9,1165.9 224.1,1167.4 226.3,1168.9 228.4,1170.8 230.6,1173.2 232.8,1176.2 235.0,1179.6 237.2,1183.3 239.4,1187.3 241.5,1192.1 243.7,1197.5 245.9,1202.8 248.1,1207.6 250.3,1212.3 252.5,1216.6 254.7,1220.3 256.8,1223.5 259.0,1226.3 261.2,1228.9 263.4,1231.3 265.6,1233.8 267.8,1236.2 270.0,1238.6 272.1,1240.7 274.3,1242.6 276.5,1244.0 278.7,1245.4 280.9,1246.6 283.1,1247.7 285.2,1248.6 287.4,1249.3 289.6,1249.8 291.8,1250.3 294.0,1250.7 296.2,1251.1 298.4,1251.4 300.5,1251.7 302.7,1251.9 304.9,1252.1 307.1,1252.3 309.3,1252.4 311.5,1252.6 313.6,1252.7 315.8,1252.8 318.0,1253.0 320.2,1253.1 322.4,1253.4 324.6,1253.6 326.8,1254.0 328.9,1254.3 331.1,1254.7 333.3,1255.0 335.5,1255.4 337.7,1255.6 339.9,1255.9 342.0,1256.1 344.2,1256.3 346.4,1256.5 348.6,1256.7 350.8,1256.9 353.0,1257.1 355.2,1257.2 357.3,1257.4 359.5,1257.6 361.7,1257.7 363.9,1257.9 366.1,1258.1 368.3,1258.2 370.4,1258.3 372.6,1258.4 374.8,1258.5 377.0,1258.6 379.2,1258.7 381.4,1258.8 383.6,1258.8 385.7,1258.9 387.9,1258.9" fill="none" stroke="#e0464a" stroke-width="2.5" stroke-linejoin="round"/>
<path d="M114.8,1258.9 117.0,1258.9 119.2,1258.9 121.4,1258.8 123.6,1258.8 125.8,1258.8 127.9,1258.7 130.1,1258.6 132.3,1258.5 134.5,1258.5 136.7,1258.3 138.9,1257.8 141.1,1256.9 143.2,1255.7 145.4,1253.9 147.6,1250.9 149.8,1246.8 152.0,1242.0 154.2,1235.5 156.3,1227.1 158.5,1217.2 160.7,1204.5 162.9,1189.6 165.1,1173.8 167.3,1156.4 169.5,1138.4 171.6,1120.0 173.8,1104.2 176.0,1090.9 178.2,1087.2 180.4,1086.8 182.6,1087.8 184.7,1091.8 186.9,1096.9 189.1,1104.1 191.3,1111.7 193.5,1118.0 195.7,1124.1 197.9,1130.0 200.0,1136.2 202.2,1142.4 204.4,1148.0 206.6,1152.5 208.8,1156.2 211.0,1159.5 213.1,1163.2 215.3,1167.3 217.5,1171.6 219.7,1176.1 221.9,1180.8 224.1,1185.7 226.3,1190.9 228.4,1196.2 230.6,1201.9 232.8,1208.1 235.0,1214.0 237.2,1219.1 239.4,1223.7 241.5,1228.0 243.7,1232.1 245.9,1236.1 248.1,1240.1 250.3,1243.6 252.5,1246.3 254.7,1248.5 256.8,1250.4 259.0,1251.8 261.2,1252.6 263.4,1253.2 265.6,1253.8 267.8,1254.2 270.0,1254.5 272.1,1254.8 274.3,1255.1 276.5,1255.3 278.7,1255.5 280.9,1255.7 283.1,1255.8 285.2,1256.0 287.4,1256.1 289.6,1256.2 291.8,1256.4 294.0,1256.5 296.2,1256.6 298.4,1256.7 300.5,1256.8 302.7,1256.9 304.9,1256.9 307.1,1257.0 309.3,1257.1 311.5,1257.2 313.6,1257.3 315.8,1257.4 318.0,1257.5 320.2,1257.6 322.4,1257.6 324.6,1257.7 326.8,1257.8 328.9,1257.9 331.1,1258.0 333.3,1258.0 335.5,1258.1 337.7,1258.2 339.9,1258.2 342.0,1258.3 344.2,1258.3 346.4,1258.4 348.6,1258.4 350.8,1258.4 353.0,1258.5 355.2,1258.5 357.3,1258.6 359.5,1258.6 361.7,1258.6 363.9,1258.7 366.1,1258.7 368.3,1258.7 370.4,1258.8 372.6,1258.8 374.8,1258.8 377.0,1258.8 379.2,1258.8 381.4,1258.9 383.6,1258.9 385.7,1258.9 387.9,1258.9" fill="none" stroke="#f0b123" stroke-width="2.5" stroke-linejoin="round"/>
<rect x="114.8" y="1078.5" width="273.2" height="180.4" fill="none" stroke="#acacac" stroke-width="1.6"/>
<line x1="114.8" y1="1258.9" x2="114.8" y2="1262.9" stroke="#8a8a8a" stroke-width="1.2"/>
<text transform="translate(114.8 1281.4) scale(1.06 1)" x="0" y="0" font-size="20" text-anchor="middle" fill="#2e2e2e">0</text>
<line x1="187.5" y1="1258.9" x2="187.5" y2="1262.9" stroke="#8a8a8a" stroke-width="1.2"/>
<text transform="translate(187.5 1281.4) scale(1.06 1)" x="0" y="0" font-size="20" text-anchor="middle" fill="#2e2e2e">2000</text>
<line x1="260.8" y1="1258.9" x2="260.8" y2="1262.9" stroke="#8a8a8a" stroke-width="1.2"/>
<text transform="translate(260.8 1281.4) scale(1.06 1)" x="0" y="0" font-size="20" text-anchor="middle" fill="#2e2e2e">4000</text>
<line x1="333.2" y1="1258.9" x2="333.2" y2="1262.9" stroke="#8a8a8a" stroke-width="1.2"/>
<text transform="translate(333.2 1281.4) scale(1.06 1)" x="0" y="0" font-size="20" text-anchor="middle" fill="#2e2e2e">6000</text>
<line x1="110.8" y1="1096.0" x2="114.8" y2="1096.0" stroke="#8a8a8a" stroke-width="1.2"/>
<text transform="translate(106.8 1103.3) scale(1.05 1)" x="0" y="0" font-size="20" text-anchor="end" fill="#2e2e2e">0.0006</text>
<line x1="110.8" y1="1150.5" x2="114.8" y2="1150.5" stroke="#8a8a8a" stroke-width="1.2"/>
<text transform="translate(106.8 1157.8) scale(1.05 1)" x="0" y="0" font-size="20" text-anchor="end" fill="#2e2e2e">0.0004</text>
<line x1="110.8" y1="1205.0" x2="114.8" y2="1205.0" stroke="#8a8a8a" stroke-width="1.2"/>
<text transform="translate(106.8 1212.3) scale(1.05 1)" x="0" y="0" font-size="20" text-anchor="end" fill="#2e2e2e">0.0002</text>
<line x1="110.8" y1="1258.9" x2="114.8" y2="1258.9" stroke="#8a8a8a" stroke-width="1.2"/>
<text transform="translate(106.8 1266.2) scale(1.05 1)" x="0" y="0" font-size="20" text-anchor="end" fill="#2e2e2e">0.0000</text>
<text transform="translate(279.0 1304.7) scale(1.04 1)" x="0" y="0" font-size="20" text-anchor="middle" fill="#2e2e2e">Area (μm<tspan dy="-7" font-size="12">2</tspan><tspan dy="7">)</tspan></text>
<text x="36.3" y="1171.0" font-size="20.5" text-anchor="middle" fill="#2e2e2e" textLength="98.0" lengthAdjust="spacingAndGlyphs" transform="rotate(-90 36.3 1171.0)">Probability</text>
<path d="M441.4,1259.9 443.6,1259.9 445.8,1259.8 448.0,1259.8 450.1,1259.7 452.3,1259.6 454.5,1259.6 456.7,1259.5 458.9,1259.3 461.1,1259.2 463.3,1259.1 465.5,1258.9 467.7,1258.8 469.9,1258.6 472.1,1258.4 474.2,1258.3 476.4,1258.1 478.6,1257.9 480.8,1257.7 483.0,1257.5 485.2,1257.3 487.4,1257.0 489.6,1256.7 491.8,1256.4 494.0,1256.0 496.2,1255.7 498.3,1255.3 500.5,1254.9 502.7,1254.5 504.9,1254.1 507.1,1253.7 509.3,1253.2 511.5,1252.8 513.7,1252.3 515.9,1251.8 518.1,1251.3 520.3,1250.7 522.4,1250.1 524.6,1249.5 526.8,1248.9 529.0,1248.3 531.2,1247.6 533.4,1246.8 535.6,1246.1 537.8,1245.3 540.0,1244.4 542.2,1243.4 544.3,1242.4 546.5,1241.3 548.7,1240.1 550.9,1238.9 553.1,1237.4 555.3,1235.9 557.5,1234.1 559.7,1232.2 561.9,1230.0 564.1,1227.7 566.3,1224.9 568.4,1221.4 570.6,1217.2 572.8,1212.9 575.0,1208.5 577.2,1204.4 579.4,1200.7 581.6,1196.9 583.8,1193.1 586.0,1189.6 588.2,1186.3 590.4,1183.3 592.5,1180.8 594.7,1178.4 596.9,1176.2 599.1,1174.2 601.3,1172.2 603.5,1170.2 605.7,1168.4 607.9,1166.8 610.1,1165.1 612.3,1163.5 614.5,1161.7 616.6,1159.6 618.8,1157.3 621.0,1154.7 623.2,1152.0 625.4,1149.2 627.6,1146.4 629.8,1143.7 632.0,1141.0 634.2,1138.2 636.4,1135.4 638.6,1132.8 640.7,1130.4 642.9,1128.2 645.1,1126.1 647.3,1124.1 649.5,1122.3 651.7,1120.7 653.9,1119.4 656.1,1118.4 658.3,1117.5 660.5,1116.7 662.7,1116.0 664.8,1115.5 667.0,1115.2 669.2,1115.4 671.4,1116.0 673.6,1116.9 675.8,1118.0 678.0,1119.2 680.2,1120.8 682.4,1123.0 684.6,1125.4 686.8,1127.9 688.9,1130.4 691.1,1132.8 693.3,1135.4 695.5,1138.2 697.7,1141.3 699.9,1145.0 702.1,1149.3 704.3,1154.1 706.5,1159.2 708.7,1164.5 710.9,1169.8 713.0,1175.2 715.2,1180.8 717.4,1186.6 719.6,1192.5 721.8,1198.3 724.0,1203.9 726.2,1209.5 728.4,1215.2 730.6,1220.9 732.8,1226.2 735.0,1231.1 737.1,1235.3 739.3,1239.0 741.5,1242.4 743.7,1245.6 745.9,1248.5 748.1,1251.0 750.3,1253.3 752.5,1255.2 754.7,1256.9 756.9,1258.3" fill="none" stroke="#a3a3a3" stroke-width="2.5" stroke-linejoin="round"/>
<path d="M441.4,1259.9 443.6,1259.9 445.8,1259.9 448.0,1259.8 450.1,1259.8 452.3,1259.8 454.5,1259.7 456.7,1259.7 458.9,1259.6 461.1,1259.5 463.3,1259.5 465.5,1259.4 467.7,1259.3 469.9,1259.2 472.1,1259.1 474.2,1259.0 476.4,1258.9 478.6,1258.8 480.8,1258.7 483.0,1258.6 485.2,1258.5 487.4,1258.3 489.6,1258.2 491.8,1258.0 494.0,1257.9 496.2,1257.7 498.3,1257.5 500.5,1257.2 502.7,1257.0 504.9,1256.7 507.1,1256.5 509.3,1256.2 511.5,1255.9 513.7,1255.6 515.9,1255.3 518.1,1254.9 520.3,1254.5 522.4,1254.1 524.6,1253.6 526.8,1253.1 529.0,1252.5 531.2,1251.9 533.4,1251.3 535.6,1250.6 537.8,1249.9 540.0,1249.2 542.2,1248.4 544.3,1247.5 546.5,1246.6 548.7,1245.5 550.9,1244.4 553.1,1243.2 555.3,1241.9 557.5,1240.4 559.7,1238.8 561.9,1237.0 564.1,1235.1 566.3,1232.8 568.4,1230.2 570.6,1227.3 572.8,1224.2 575.0,1221.1 577.2,1218.0 579.4,1215.0 581.6,1211.8 583.8,1208.5 586.0,1205.2 588.2,1201.9 590.4,1198.8 592.5,1195.6 594.7,1192.3 596.9,1189.0 599.1,1185.6 601.3,1182.3 603.5,1179.0 605.7,1175.9 607.9,1173.0 610.1,1170.1 612.3,1167.3 614.5,1164.4 616.6,1161.4 618.8,1158.3 621.0,1155.1 623.2,1151.8 625.4,1148.3 627.6,1144.8 629.8,1141.4 632.0,1138.1 634.2,1134.9 636.4,1132.0 638.6,1129.4 640.7,1127.1 642.9,1125.0 645.1,1123.0 647.3,1121.0 649.5,1119.0 651.7,1116.9 653.9,1114.6 656.1,1112.1 658.3,1109.6 660.5,1107.2 662.7,1105.3 664.8,1103.6 667.0,1102.2 669.2,1101.1 671.4,1100.4 673.6,1100.3 675.8,1100.3 678.0,1100.5 680.2,1101.0 682.4,1102.0 684.6,1103.5 686.8,1105.2 688.9,1107.1 691.1,1109.5 693.3,1112.4 695.5,1115.8 697.7,1119.6 699.9,1123.8 702.1,1128.9 704.3,1134.6 706.5,1140.6 708.7,1146.7 710.9,1152.8 713.0,1159.2 715.2,1165.8 717.4,1172.5 719.6,1179.3 721.8,1186.3 724.0,1193.4 726.2,1200.3 728.4,1207.0 730.6,1213.4 732.8,1219.4 735.0,1225.1 737.1,1230.2 739.3,1234.8 741.5,1238.9 743.7,1242.8 745.9,1246.3 748.1,1249.3 750.3,1251.8 752.5,1254.0 754.7,1255.8 756.9,1257.3" fill="none" stroke="#8fd3e2" stroke-width="2.5" stroke-linejoin="round"/>
<path d="M441.4,1259.9 443.6,1259.9 445.8,1259.9 448.0,1259.9 450.1,1259.8 452.3,1259.8 454.5,1259.8 456.7,1259.8 458.9,1259.8 461.1,1259.7 463.3,1259.7 465.5,1259.7 467.7,1259.6 469.9,1259.6 472.1,1259.6 474.2,1259.5 476.4,1259.5 478.6,1259.4 480.8,1259.4 483.0,1259.3 485.2,1259.3 487.4,1259.2 489.6,1259.2 491.8,1259.1 494.0,1259.1 496.2,1259.0 498.3,1258.9 500.5,1258.8 502.7,1258.7 504.9,1258.5 507.1,1258.4 509.3,1258.2 511.5,1258.0 513.7,1257.8 515.9,1257.6 518.1,1257.3 520.3,1257.1 522.4,1256.8 524.6,1256.4 526.8,1255.9 529.0,1255.4 531.2,1254.9 533.4,1254.3 535.6,1253.7 537.8,1253.0 540.0,1252.4 542.2,1251.7 544.3,1250.9 546.5,1250.0 548.7,1249.1 550.9,1248.1 553.1,1247.1 555.3,1245.9 557.5,1244.7 559.7,1243.3 561.9,1241.7 564.1,1240.0 566.3,1238.1 568.4,1236.1 570.6,1234.0 572.8,1231.8 575.0,1229.5 577.2,1227.1 579.4,1224.5 581.6,1221.7 583.8,1218.7 586.0,1215.6 588.2,1212.4 590.4,1209.0 592.5,1205.5 594.7,1201.6 596.9,1197.5 599.1,1193.3 601.3,1189.0 603.5,1184.9 605.7,1180.9 607.9,1177.1 610.1,1173.4 612.3,1169.8 614.5,1166.2 616.6,1162.6 618.8,1159.0 621.0,1155.4 623.2,1151.6 625.4,1147.7 627.6,1143.8 629.8,1139.9 632.0,1136.2 634.2,1132.7 636.4,1129.7 638.6,1127.1 640.7,1124.9 642.9,1122.8 645.1,1120.9 647.3,1118.9 649.5,1116.8 651.7,1114.4 653.9,1111.4 656.1,1107.9 658.3,1104.3 660.5,1100.9 662.7,1098.2 664.8,1095.8 667.0,1093.5 669.2,1091.5 671.4,1090.1 673.6,1089.2 675.8,1088.5 678.0,1088.0 680.2,1087.7 682.4,1088.0 684.6,1088.9 686.8,1090.1 688.9,1091.5 691.1,1093.9 693.3,1097.1 695.5,1101.0 697.7,1105.1 699.9,1109.7 702.1,1115.3 704.3,1121.6 706.5,1128.2 708.7,1134.8 710.9,1141.5 713.0,1148.5 715.2,1155.8 717.4,1163.1 719.6,1170.6 721.8,1178.4 724.0,1186.3 726.2,1194.2 728.4,1201.6 730.6,1208.3 732.8,1214.9 735.0,1221.2 737.1,1226.9 739.3,1232.0 741.5,1236.6 743.7,1240.9 745.9,1244.8 748.1,1248.1 750.3,1250.8 752.5,1253.1 754.7,1255.1 756.9,1256.5" fill="none" stroke="#4dbbe6" stroke-width="2.5" stroke-linejoin="round"/>
<path d="M441.4,1259.9 443.6,1259.9 445.8,1259.9 448.0,1259.9 450.1,1259.8 452.3,1259.8 454.5,1259.8 456.7,1259.8 458.9,1259.8 461.1,1259.7 463.3,1259.7 465.5,1259.7 467.7,1259.7 469.9,1259.6 472.1,1259.6 474.2,1259.5 476.4,1259.5 478.6,1259.4 480.8,1259.4 483.0,1259.4 485.2,1259.3 487.4,1259.2 489.6,1259.2 491.8,1259.1 494.0,1259.1 496.2,1259.0 498.3,1258.9 500.5,1258.7 502.7,1258.6 504.9,1258.4 507.1,1258.2 509.3,1258.0 511.5,1257.7 513.7,1257.5 515.9,1257.2 518.1,1256.9 520.3,1256.6 522.4,1256.3 524.6,1255.9 526.8,1255.4 529.0,1254.9 531.2,1254.3 533.4,1253.7 535.6,1253.1 537.8,1252.4 540.0,1251.6 542.2,1250.8 544.3,1249.8 546.5,1248.7 548.7,1247.5 550.9,1246.3 553.1,1245.0 555.3,1243.6 557.5,1242.2 559.7,1240.7 561.9,1239.0 564.1,1237.2 566.3,1235.2 568.4,1233.2 570.6,1231.1 572.8,1228.9 575.0,1226.5 577.2,1224.1 579.4,1221.5 581.6,1218.7 583.8,1215.8 586.0,1212.9 588.2,1209.7 590.4,1206.5 592.5,1203.1 594.7,1199.5 596.9,1195.7 599.1,1191.9 601.3,1188.2 603.5,1184.4 605.7,1180.8 607.9,1177.1 610.1,1173.5 612.3,1169.9 614.5,1166.2 616.6,1162.4 618.8,1158.5 621.0,1154.5 623.2,1150.6 625.4,1146.9 627.6,1143.3 629.8,1140.0 632.0,1136.7 634.2,1133.7 636.4,1131.1 638.6,1128.7 640.7,1126.5 642.9,1124.4 645.1,1122.4 647.3,1120.7 649.5,1119.5 651.7,1118.5 653.9,1117.4 656.1,1116.3 658.3,1115.0 660.5,1113.8 662.7,1113.0 664.8,1112.4 667.0,1111.9 669.2,1111.4 671.4,1110.9 673.6,1110.6 675.8,1110.1 678.0,1109.8 680.2,1109.5 682.4,1109.5 684.6,1109.7 686.8,1110.3 688.9,1111.0 691.1,1112.2 693.3,1113.9 695.5,1115.8 697.7,1118.2 699.9,1121.1 702.1,1124.8 704.3,1129.0 706.5,1133.4 708.7,1138.2 710.9,1143.6 713.0,1149.4 715.2,1155.4 717.4,1161.7 719.6,1168.5 721.8,1175.7 724.0,1183.1 726.2,1190.4 728.4,1197.4 730.6,1204.2 732.8,1210.8 735.0,1217.2 737.1,1223.2 739.3,1228.9 741.5,1234.3 743.7,1239.3 745.9,1243.7 748.1,1247.2 750.3,1250.3 752.5,1252.9 754.7,1255.0 756.9,1256.5" fill="none" stroke="#729ad9" stroke-width="2.5" stroke-linejoin="round"/>
<path d="M441.4,1259.9 443.6,1259.9 445.8,1259.9 448.0,1259.9 450.1,1259.8 452.3,1259.8 454.5,1259.8 456.7,1259.8 458.9,1259.8 461.1,1259.8 463.3,1259.7 465.5,1259.7 467.7,1259.7 469.9,1259.6 472.1,1259.6 474.2,1259.5 476.4,1259.5 478.6,1259.5 480.8,1259.4 483.0,1259.4 485.2,1259.3 487.4,1259.2 489.6,1259.2 491.8,1259.1 494.0,1259.1 496.2,1259.0 498.3,1258.8 500.5,1258.7 502.7,1258.5 504.9,1258.3 507.1,1258.0 509.3,1257.8 511.5,1257.5 513.7,1257.2 515.9,1256.9 518.1,1256.6 520.3,1256.3 522.4,1255.9 524.6,1255.4 526.8,1255.0 529.0,1254.4 531.2,1253.9 533.4,1253.2 535.6,1252.6 537.8,1251.8 540.0,1251.0 542.2,1250.1 544.3,1248.9 546.5,1247.6 548.7,1246.3 550.9,1244.8 553.1,1243.3 555.3,1241.8 557.5,1240.2 559.7,1238.5 561.9,1236.7 564.1,1234.9 566.3,1232.9 568.4,1230.9 570.6,1228.8 572.8,1226.5 575.0,1224.1 577.2,1221.6 579.4,1219.0 581.6,1216.3 583.8,1213.5 586.0,1210.6 588.2,1207.6 590.4,1204.4 592.5,1201.1 594.7,1197.7 596.9,1194.3 599.1,1190.9 601.3,1187.4 603.5,1184.0 605.7,1180.6 607.9,1177.1 610.1,1173.6 612.3,1170.0 614.5,1166.3 616.6,1162.2 618.8,1158.0 621.0,1153.8 623.2,1149.8 625.4,1146.2 627.6,1143.0 629.8,1140.0 632.0,1137.2 634.2,1134.6 636.4,1132.2 638.6,1130.0 640.7,1127.9 642.9,1125.7 645.1,1123.7 647.3,1122.2 649.5,1121.7 651.7,1121.9 653.9,1122.4 656.1,1123.1 658.3,1123.8 660.5,1124.4 662.7,1125.2 664.8,1126.1 667.0,1126.9 669.2,1127.6 671.4,1128.0 673.6,1128.1 675.8,1127.9 678.0,1127.6 680.2,1127.3 682.4,1127.0 684.6,1126.8 686.8,1126.8 688.9,1127.0 691.1,1127.2 693.3,1127.6 695.5,1128.0 697.7,1128.9 699.9,1130.4 702.1,1132.5 704.3,1135.0 706.5,1137.7 708.7,1141.1 710.9,1145.2 713.0,1150.0 715.2,1155.1 717.4,1160.5 719.6,1166.8 721.8,1173.5 724.0,1180.5 726.2,1187.4 728.4,1194.0 730.6,1200.8 732.8,1207.5 735.0,1214.0 737.1,1220.2 739.3,1226.3 741.5,1232.4 743.7,1238.1 745.9,1242.9 748.1,1246.5 750.3,1249.8 752.5,1252.6 754.7,1254.9 756.9,1256.5" fill="none" stroke="#4e72c6" stroke-width="2.5" stroke-linejoin="round"/>
<path d="M441.4,1259.9 443.6,1259.8 445.8,1259.7 448.0,1259.6 450.1,1259.5 452.3,1259.4 454.5,1259.2 456.7,1259.1 458.9,1258.9 461.1,1258.8 463.3,1258.6 465.5,1258.5 467.7,1258.3 469.9,1258.1 472.1,1257.9 474.2,1257.6 476.4,1257.4 478.6,1257.1 480.8,1256.8 483.0,1256.6 485.2,1256.3 487.4,1256.0 489.6,1255.7 491.8,1255.4 494.0,1255.1 496.2,1254.8 498.3,1254.5 500.5,1254.3 502.7,1254.0 504.9,1253.7 507.1,1253.4 509.3,1253.1 511.5,1252.7 513.7,1252.4 515.9,1251.9 518.1,1251.5 520.3,1250.9 522.4,1250.3 524.6,1249.5 526.8,1248.7 529.0,1247.8 531.2,1246.8 533.4,1245.7 535.6,1244.6 537.8,1243.2 540.0,1241.6 542.2,1240.0 544.3,1238.3 546.5,1236.7 548.7,1235.1 550.9,1233.6 553.1,1232.2 555.3,1230.9 557.5,1229.6 559.7,1228.2 561.9,1226.6 564.1,1224.9 566.3,1223.0 568.4,1220.8 570.6,1218.4 572.8,1215.8 575.0,1213.1 577.2,1210.2 579.4,1207.4 581.6,1204.4 583.8,1201.3 586.0,1198.0 588.2,1194.6 590.4,1191.2 592.5,1187.8 594.7,1184.5 596.9,1181.3 599.1,1178.3 601.3,1175.3 603.5,1172.3 605.7,1169.2 607.9,1166.1 610.1,1162.8 612.3,1159.5 614.5,1156.1 616.6,1152.5 618.8,1148.9 621.0,1145.1 623.2,1141.0 625.4,1136.6 627.6,1132.1 629.8,1127.6 632.0,1123.3 634.2,1118.8 636.4,1114.3 638.6,1110.0 640.7,1106.4 642.9,1103.4 645.1,1100.7 647.3,1098.5 649.5,1097.2 651.7,1096.6 653.9,1096.1 656.1,1096.0 658.3,1096.4 660.5,1097.5 662.7,1098.7 664.8,1100.7 667.0,1103.4 669.2,1106.4 671.4,1109.5 673.6,1112.7 675.8,1116.3 678.0,1120.0 680.2,1124.0 682.4,1128.3 684.6,1132.9 686.8,1137.7 688.9,1142.7 691.1,1147.8 693.3,1152.9 695.5,1158.0 697.7,1163.3 699.9,1168.7 702.1,1174.1 704.3,1179.3 706.5,1184.4 708.7,1189.4 710.9,1194.4 713.0,1199.3 715.2,1204.1 717.4,1208.7 719.6,1213.1 721.8,1217.4 724.0,1221.6 726.2,1225.6 728.4,1229.4 730.6,1233.0 732.8,1236.3 735.0,1239.6 737.1,1242.8 739.3,1245.7 741.5,1248.4 743.7,1250.7 745.9,1252.5 748.1,1254.3 750.3,1255.8 752.5,1257.2 754.7,1258.3 756.9,1259.1" fill="none" stroke="#e0464a" stroke-width="2.5" stroke-linejoin="round"/>
<path d="M441.4,1259.9 443.6,1259.9 445.8,1259.8 448.0,1259.8 450.1,1259.8 452.3,1259.7 454.5,1259.7 456.7,1259.6 458.9,1259.6 461.1,1259.5 463.3,1259.4 465.5,1259.3 467.7,1259.2 469.9,1259.1 472.1,1259.0 474.2,1258.9 476.4,1258.8 478.6,1258.6 480.8,1258.5 483.0,1258.4 485.2,1258.3 487.4,1258.1 489.6,1258.0 491.8,1257.9 494.0,1257.7 496.2,1257.6 498.3,1257.4 500.5,1257.2 502.7,1257.0 504.9,1256.8 507.1,1256.6 509.3,1256.4 511.5,1256.1 513.7,1255.9 515.9,1255.6 518.1,1255.3 520.3,1255.0 522.4,1254.7 524.6,1254.4 526.8,1254.0 529.0,1253.6 531.2,1253.2 533.4,1252.7 535.6,1252.2 537.8,1251.7 540.0,1251.1 542.2,1250.4 544.3,1249.6 546.5,1248.7 548.7,1247.8 550.9,1246.7 553.1,1245.6 555.3,1244.5 557.5,1243.3 559.7,1242.0 561.9,1240.6 564.1,1239.0 566.3,1237.5 568.4,1235.8 570.6,1234.0 572.8,1232.1 575.0,1230.0 577.2,1227.7 579.4,1225.4 581.6,1223.1 583.8,1220.8 586.0,1218.6 588.2,1216.4 590.4,1214.2 592.5,1212.0 594.7,1209.8 596.9,1207.6 599.1,1205.4 601.3,1203.2 603.5,1201.1 605.7,1199.1 607.9,1197.1 610.1,1195.0 612.3,1192.8 614.5,1190.4 616.6,1187.7 618.8,1184.5 621.0,1180.9 623.2,1177.1 625.4,1173.1 627.6,1169.1 629.8,1165.4 632.0,1162.0 634.2,1158.8 636.4,1155.7 638.6,1152.7 640.7,1149.8 642.9,1147.0 645.1,1144.3 647.3,1141.7 649.5,1139.3 651.7,1137.1 653.9,1134.9 656.1,1132.8 658.3,1130.7 660.5,1128.6 662.7,1126.5 664.8,1124.2 667.0,1122.0 669.2,1119.7 671.4,1117.4 673.6,1115.3 675.8,1113.1 678.0,1111.2 680.2,1109.2 682.4,1107.3 684.6,1105.5 686.8,1103.7 688.9,1102.2 691.1,1100.8 693.3,1099.3 695.5,1098.0 697.7,1097.3 699.9,1097.4 702.1,1098.0 704.3,1098.9 706.5,1100.1 708.7,1102.5 710.9,1105.9 713.0,1110.1 715.2,1114.8 717.4,1120.6 719.6,1127.4 721.8,1134.7 724.0,1142.3 726.2,1150.3 728.4,1159.1 730.6,1168.3 732.8,1177.4 735.0,1186.0 737.1,1194.6 739.3,1203.1 741.5,1211.3 743.7,1219.1 745.9,1226.5 748.1,1233.9 750.3,1240.5 752.5,1245.4 754.7,1249.0 756.9,1251.4" fill="none" stroke="#f0b123" stroke-width="2.5" stroke-linejoin="round"/>
<rect x="441.4" y="1080.0" width="315.4" height="179.9" fill="none" stroke="#8e8e8e" stroke-width="1.6"/>
<line x1="441.4" y1="1259.9" x2="441.4" y2="1263.9" stroke="#8a8a8a" stroke-width="1.2"/>
<text transform="translate(441.4 1282.4) scale(1.06 1)" x="0" y="0" font-size="20" text-anchor="middle" fill="#2e2e2e">0.4</text>
<line x1="546.2" y1="1259.9" x2="546.2" y2="1263.9" stroke="#8a8a8a" stroke-width="1.2"/>
<text transform="translate(546.2 1282.4) scale(1.06 1)" x="0" y="0" font-size="20" text-anchor="middle" fill="#2e2e2e">0.6</text>
<line x1="651.5" y1="1259.9" x2="651.5" y2="1263.9" stroke="#8a8a8a" stroke-width="1.2"/>
<text transform="translate(651.5 1282.4) scale(1.06 1)" x="0" y="0" font-size="20" text-anchor="middle" fill="#2e2e2e">0.8</text>
<line x1="756.8" y1="1259.9" x2="756.8" y2="1263.9" stroke="#8a8a8a" stroke-width="1.2"/>
<text transform="translate(756.8 1282.4) scale(1.06 1)" x="0" y="0" font-size="20" text-anchor="middle" fill="#2e2e2e">1.0</text>
<line x1="437.4" y1="1259.9" x2="441.4" y2="1259.9" stroke="#8a8a8a" stroke-width="1.2"/>
<text transform="translate(433.4 1267.2) scale(1.05 1)" x="0" y="0" font-size="20" text-anchor="end" fill="#2e2e2e">0</text>
<line x1="437.4" y1="1194.4" x2="441.4" y2="1194.4" stroke="#8a8a8a" stroke-width="1.2"/>
<text transform="translate(433.4 1201.7) scale(1.05 1)" x="0" y="0" font-size="20" text-anchor="end" fill="#2e2e2e">2</text>
<line x1="437.4" y1="1128.9" x2="441.4" y2="1128.9" stroke="#8a8a8a" stroke-width="1.2"/>
<text transform="translate(433.4 1136.2) scale(1.05 1)" x="0" y="0" font-size="20" text-anchor="end" fill="#2e2e2e">4</text>
<text transform="translate(598.6 1305.7) scale(1.04 1)" x="0" y="0" font-size="20" text-anchor="middle" fill="#2e2e2e">Solidity</text>
<text x="414.8" y="1171.0" font-size="20.5" text-anchor="middle" fill="#2e2e2e" textLength="98.0" lengthAdjust="spacingAndGlyphs" transform="rotate(-90 414.8 1171.0)">Probability</text>
<path d="M858.4,1263.0 860.6,1263.0 862.8,1263.0 865.0,1263.0 867.2,1263.0 869.4,1263.0 871.6,1263.0 873.8,1263.0 875.9,1263.0 878.1,1263.0 880.3,1263.0 882.5,1263.0 884.7,1263.0 886.9,1263.0 889.1,1263.0 891.3,1263.0 893.5,1263.0 895.7,1262.8 897.9,1262.4 900.1,1261.8 902.3,1260.9 904.5,1259.9 906.7,1258.7 908.9,1257.4 911.1,1255.4 913.2,1252.3 915.4,1248.2 917.6,1243.6 919.8,1238.5 922.0,1232.2 924.2,1224.5 926.4,1216.0 928.6,1207.5 930.8,1199.1 933.0,1190.2 935.2,1181.1 937.4,1172.1 939.6,1163.7 941.8,1155.6 944.0,1147.3 946.2,1139.6 948.4,1133.2 950.5,1128.6 952.7,1124.9 954.9,1121.6 957.1,1119.3 959.3,1118.6 961.5,1119.0 963.7,1120.0 965.9,1121.4 968.1,1122.9 970.3,1125.0 972.5,1127.8 974.7,1131.2 976.9,1135.0 979.1,1138.9 981.3,1142.8 983.5,1146.8 985.6,1151.2 987.8,1155.8 990.0,1160.4 992.2,1164.9 994.4,1169.1 996.6,1173.2 998.8,1177.3 1001.0,1181.2 1003.2,1185.1 1005.4,1188.9 1007.6,1192.6 1009.8,1196.3 1012.0,1199.8 1014.2,1203.3 1016.4,1206.8 1018.6,1210.2 1020.8,1213.6 1022.9,1217.1 1025.1,1220.5 1027.3,1223.8 1029.5,1226.7 1031.7,1229.3 1033.9,1231.8 1036.1,1234.0 1038.3,1236.0 1040.5,1237.6 1042.7,1238.8 1044.9,1239.9 1047.1,1240.8 1049.3,1241.9 1051.5,1243.1 1053.7,1244.4 1055.9,1245.8 1058.1,1247.3 1060.2,1248.6 1062.4,1249.8 1064.6,1250.8 1066.8,1251.7 1069.0,1252.6 1071.2,1253.5 1073.4,1254.3 1075.6,1255.0 1077.8,1255.7 1080.0,1256.3 1082.2,1256.8 1084.4,1257.3 1086.6,1257.7 1088.8,1258.2 1091.0,1258.6 1093.2,1259.0 1095.4,1259.3 1097.5,1259.7 1099.7,1260.0 1101.9,1260.3 1104.1,1260.6 1106.3,1260.8 1108.5,1261.1 1110.7,1261.3 1112.9,1261.6 1115.1,1261.8 1117.3,1262.0 1119.5,1262.2 1121.7,1262.4 1123.9,1262.6 1126.1,1262.7 1128.3,1262.8 1130.5,1263.0" fill="none" stroke="#a3a3a3" stroke-width="2.5" stroke-linejoin="round"/>
<path d="M858.4,1263.0 860.6,1263.0 862.8,1263.0 865.0,1263.0 867.2,1263.0 869.4,1263.0 871.6,1263.0 873.8,1263.0 875.9,1263.0 878.1,1263.0 880.3,1263.0 882.5,1263.0 884.7,1263.0 886.9,1263.0 889.1,1263.0 891.3,1263.0 893.5,1263.0 895.7,1262.8 897.9,1262.3 900.1,1261.5 902.3,1260.5 904.5,1259.3 906.7,1257.9 908.9,1255.9 911.1,1252.8 913.2,1248.8 915.4,1244.1 917.6,1239.0 919.8,1232.9 922.0,1225.5 924.2,1217.3 926.4,1208.6 928.6,1199.7 930.8,1190.2 933.0,1180.2 935.2,1170.2 937.4,1160.9 939.6,1151.9 941.8,1142.9 944.0,1134.4 946.2,1127.0 948.4,1121.2 950.5,1116.1 952.7,1111.8 954.9,1108.7 957.1,1107.6 959.3,1107.6 961.5,1108.2 963.7,1109.1 965.9,1110.2 968.1,1112.6 970.3,1116.3 972.5,1121.0 974.7,1126.0 976.9,1130.7 979.1,1135.8 981.3,1141.1 983.5,1146.4 985.6,1151.4 987.8,1156.1 990.0,1160.6 992.2,1164.9 994.4,1169.1 996.6,1173.5 998.8,1178.1 1001.0,1182.8 1003.2,1187.5 1005.4,1192.3 1007.6,1196.9 1009.8,1201.7 1012.0,1206.4 1014.2,1211.0 1016.4,1215.3 1018.6,1219.4 1020.8,1223.4 1022.9,1227.3 1025.1,1230.8 1027.3,1234.1 1029.5,1237.0 1031.7,1239.7 1033.9,1242.2 1036.1,1244.4 1038.3,1246.0 1040.5,1247.5 1042.7,1248.7 1044.9,1249.7 1047.1,1250.5 1049.3,1251.3 1051.5,1252.0 1053.7,1252.7 1055.9,1253.4 1058.1,1254.0 1060.2,1254.6 1062.4,1255.2 1064.6,1255.7 1066.8,1256.1 1069.0,1256.6 1071.2,1257.1 1073.4,1257.5 1075.6,1257.9 1077.8,1258.3 1080.0,1258.6 1082.2,1259.0 1084.4,1259.3 1086.6,1259.6 1088.8,1259.8 1091.0,1260.1 1093.2,1260.3 1095.4,1260.5 1097.5,1260.8 1099.7,1261.0 1101.9,1261.2 1104.1,1261.4 1106.3,1261.6 1108.5,1261.7 1110.7,1261.9 1112.9,1262.1 1115.1,1262.2 1117.3,1262.4 1119.5,1262.5 1121.7,1262.6 1123.9,1262.7 1126.1,1262.8 1128.3,1262.9 1130.5,1263.0" fill="none" stroke="#8fd3e2" stroke-width="2.5" stroke-linejoin="round"/>
<path d="M858.4,1263.0 860.6,1263.0 862.8,1263.0 865.0,1263.0 867.2,1263.0 869.4,1263.0 871.6,1263.0 873.8,1263.0 875.9,1263.0 878.1,1263.0 880.3,1263.0 882.5,1263.0 884.7,1263.0 886.9,1263.0 889.1,1263.0 891.3,1263.0 893.5,1263.0 895.7,1262.8 897.9,1262.3 900.1,1261.4 902.3,1260.4 904.5,1259.1 906.7,1257.7 908.9,1255.4 911.1,1251.9 913.2,1247.6 915.4,1242.8 917.6,1237.5 919.8,1231.0 922.0,1223.3 924.2,1214.9 926.4,1206.2 928.6,1197.2 930.8,1187.2 933.0,1176.8 935.2,1166.6 937.4,1157.1 939.6,1147.9 941.8,1138.7 944.0,1130.1 946.2,1122.8 948.4,1117.2 950.5,1112.0 952.7,1107.4 954.9,1104.4 957.1,1103.7 959.3,1104.0 961.5,1104.6 963.7,1105.4 965.9,1106.5 968.1,1109.1 970.3,1113.4 972.5,1118.7 974.7,1124.2 976.9,1129.3 979.1,1134.7 981.3,1140.5 983.5,1146.2 985.6,1151.5 987.8,1156.3 990.0,1160.6 992.2,1164.8 994.4,1169.1 996.6,1173.6 998.8,1178.4 1001.0,1183.3 1003.2,1188.3 1005.4,1193.4 1007.6,1198.3 1009.8,1203.4 1012.0,1208.6 1014.2,1213.5 1016.4,1218.2 1018.6,1222.5 1020.8,1226.7 1022.9,1230.6 1025.1,1234.3 1027.3,1237.5 1029.5,1240.4 1031.7,1243.2 1033.9,1245.7 1036.1,1247.8 1038.3,1249.4 1040.5,1250.8 1042.7,1252.0 1044.9,1253.0 1047.1,1253.8 1049.3,1254.4 1051.5,1254.9 1053.7,1255.4 1055.9,1255.9 1058.1,1256.2 1060.2,1256.6 1062.4,1257.0 1064.6,1257.3 1066.8,1257.6 1069.0,1257.9 1071.2,1258.3 1073.4,1258.6 1075.6,1258.9 1077.8,1259.2 1080.0,1259.4 1082.2,1259.7 1084.4,1260.0 1086.6,1260.2 1088.8,1260.4 1091.0,1260.6 1093.2,1260.8 1095.4,1260.9 1097.5,1261.1 1099.7,1261.3 1101.9,1261.5 1104.1,1261.6 1106.3,1261.8 1108.5,1261.9 1110.7,1262.1 1112.9,1262.2 1115.1,1262.4 1117.3,1262.5 1119.5,1262.6 1121.7,1262.7 1123.9,1262.8 1126.1,1262.8 1128.3,1262.9 1130.5,1263.0" fill="none" stroke="#4dbbe6" stroke-width="2.5" stroke-linejoin="round"/>
<path d="M858.4,1263.0 860.6,1263.0 862.8,1263.0 865.0,1263.0 867.2,1263.0 869.4,1263.0 871.6,1263.0 873.8,1263.0 875.9,1263.0 878.1,1263.0 880.3,1263.0 882.5,1263.0 884.7,1263.0 886.9,1263.0 889.1,1263.0 891.3,1263.0 893.5,1263.0 895.7,1262.8 897.9,1262.4 900.1,1261.7 902.3,1260.8 904.5,1259.7 906.7,1258.4 908.9,1256.8 911.1,1254.4 913.2,1250.9 915.4,1246.6 917.6,1241.7 919.8,1236.3 922.0,1229.5 924.2,1221.6 926.4,1213.1 928.6,1204.4 930.8,1195.5 933.0,1186.2 935.2,1176.7 937.4,1167.6 939.6,1159.0 941.8,1150.5 944.0,1142.2 946.2,1134.6 948.4,1128.4 950.5,1123.6 952.7,1119.6 954.9,1116.4 957.1,1114.6 959.3,1114.2 961.5,1114.7 963.7,1115.6 965.9,1116.9 968.1,1118.8 970.3,1121.5 972.5,1125.1 974.7,1129.1 976.9,1133.3 979.1,1137.7 981.3,1142.1 983.5,1146.6 985.6,1151.3 987.8,1155.9 990.0,1160.5 992.2,1164.9 994.4,1169.1 996.6,1173.3 998.8,1177.6 1001.0,1181.9 1003.2,1186.1 1005.4,1190.3 1007.6,1194.4 1009.8,1198.4 1012.0,1202.4 1014.2,1206.4 1016.4,1210.2 1018.6,1213.9 1020.8,1217.5 1022.9,1221.2 1025.1,1224.7 1027.3,1227.9 1029.5,1230.8 1031.7,1233.5 1033.9,1236.0 1036.1,1238.2 1038.3,1240.0 1040.5,1241.5 1042.7,1242.8 1044.9,1243.8 1047.1,1244.7 1049.3,1245.6 1051.5,1246.6 1053.7,1247.7 1055.9,1248.8 1058.1,1250.0 1060.2,1251.0 1062.4,1251.9 1064.6,1252.7 1066.8,1253.5 1069.0,1254.2 1071.2,1254.9 1073.4,1255.6 1075.6,1256.2 1077.8,1256.7 1080.0,1257.2 1082.2,1257.7 1084.4,1258.1 1086.6,1258.5 1088.8,1258.8 1091.0,1259.2 1093.2,1259.5 1095.4,1259.8 1097.5,1260.1 1099.7,1260.4 1101.9,1260.6 1104.1,1260.9 1106.3,1261.1 1108.5,1261.3 1110.7,1261.6 1112.9,1261.8 1115.1,1262.0 1117.3,1262.1 1119.5,1262.3 1121.7,1262.5 1123.9,1262.6 1126.1,1262.7 1128.3,1262.9 1130.5,1263.0" fill="none" stroke="#729ad9" stroke-width="2.5" stroke-linejoin="round"/>
<path d="M858.4,1263.0 860.6,1263.0 862.8,1263.0 865.0,1263.0 867.2,1263.0 869.4,1263.0 871.6,1263.0 873.8,1263.0 875.9,1263.0 878.1,1263.0 880.3,1263.0 882.5,1263.0 884.7,1263.0 886.9,1263.0 889.1,1263.0 891.3,1263.0 893.5,1263.0 895.7,1262.8 897.9,1262.3 900.1,1261.6 902.3,1260.6 904.5,1259.5 906.7,1258.2 908.9,1256.4 911.1,1253.7 913.2,1249.9 915.4,1245.5 917.6,1240.5 919.8,1234.7 922.0,1227.7 924.2,1219.7 926.4,1211.1 928.6,1202.3 930.8,1193.2 933.0,1183.5 935.2,1173.9 937.4,1164.6 939.6,1155.8 941.8,1147.1 944.0,1138.7 946.2,1131.2 948.4,1125.2 950.5,1120.3 952.7,1116.1 954.9,1113.0 957.1,1111.5 959.3,1111.3 961.5,1111.8 963.7,1112.7 965.9,1113.9 968.1,1116.0 970.3,1119.2 972.5,1123.3 974.7,1127.7 976.9,1132.1 979.1,1136.8 981.3,1141.6 983.5,1146.5 985.6,1151.4 987.8,1156.0 990.0,1160.5 992.2,1164.9 994.4,1169.1 996.6,1173.4 998.8,1177.8 1001.0,1182.3 1003.2,1186.7 1005.4,1191.1 1007.6,1195.5 1009.8,1199.9 1012.0,1204.2 1014.2,1208.4 1016.4,1212.5 1018.6,1216.3 1020.8,1220.1 1022.9,1223.9 1025.1,1227.4 1027.3,1230.6 1029.5,1233.6 1031.7,1236.3 1033.9,1238.7 1036.1,1240.9 1038.3,1242.7 1040.5,1244.2 1042.7,1245.4 1044.9,1246.4 1047.1,1247.3 1049.3,1248.1 1051.5,1249.0 1053.7,1249.9 1055.9,1250.8 1058.1,1251.8 1060.2,1252.6 1062.4,1253.4 1064.6,1254.0 1066.8,1254.7 1069.0,1255.3 1071.2,1255.9 1073.4,1256.4 1075.6,1256.9 1077.8,1257.4 1080.0,1257.8 1082.2,1258.2 1084.4,1258.6 1086.6,1259.0 1088.8,1259.3 1091.0,1259.6 1093.2,1259.9 1095.4,1260.1 1097.5,1260.4 1099.7,1260.6 1101.9,1260.9 1104.1,1261.1 1106.3,1261.3 1108.5,1261.5 1110.7,1261.7 1112.9,1261.9 1115.1,1262.1 1117.3,1262.2 1119.5,1262.4 1121.7,1262.5 1123.9,1262.7 1126.1,1262.8 1128.3,1262.9 1130.5,1263.0" fill="none" stroke="#4e72c6" stroke-width="2.5" stroke-linejoin="round"/>
<path d="M858.4,1263.0 860.6,1263.0 862.8,1263.0 865.0,1263.0 867.2,1263.0 869.4,1263.0 871.6,1263.0 873.8,1263.0 875.9,1263.0 878.1,1263.0 880.3,1263.0 882.5,1263.0 884.7,1263.0 886.9,1263.0 889.1,1263.0 891.3,1263.0 893.5,1263.0 895.7,1263.0 897.9,1263.0 900.1,1263.0 902.3,1263.0 904.5,1262.9 906.7,1262.6 908.9,1261.8 911.1,1260.8 913.2,1259.6 915.4,1258.3 917.6,1256.4 919.8,1254.0 922.0,1251.1 924.2,1247.9 926.4,1243.7 928.6,1238.3 930.8,1231.9 933.0,1224.9 935.2,1217.6 937.4,1209.3 939.6,1200.1 941.8,1190.2 944.0,1180.2 946.2,1170.1 948.4,1159.5 950.5,1148.6 952.7,1137.9 954.9,1128.1 957.1,1118.7 959.3,1109.2 961.5,1101.6 963.7,1097.5 965.9,1094.9 968.1,1094.2 970.3,1095.0 972.5,1096.6 974.7,1099.4 976.9,1105.4 979.1,1112.9 981.3,1120.1 983.5,1127.3 985.6,1134.8 987.8,1142.2 990.0,1149.2 992.2,1155.9 994.4,1162.5 996.6,1168.6 998.8,1174.5 1001.0,1180.2 1003.2,1185.6 1005.4,1190.8 1007.6,1195.7 1009.8,1200.4 1012.0,1204.9 1014.2,1209.2 1016.4,1213.2 1018.6,1217.0 1020.8,1220.6 1022.9,1224.0 1025.1,1227.1 1027.3,1229.7 1029.5,1232.1 1031.7,1234.3 1033.9,1236.2 1036.1,1237.8 1038.3,1239.0 1040.5,1240.2 1042.7,1241.2 1044.9,1242.0 1047.1,1242.4 1049.3,1242.3 1051.5,1242.2 1053.7,1242.0 1055.9,1241.9 1058.1,1242.4 1060.2,1243.4 1062.4,1244.6 1064.6,1245.9 1066.8,1247.6 1069.0,1249.5 1071.2,1251.3 1073.4,1252.7 1075.6,1253.7 1077.8,1254.5 1080.0,1255.3 1082.2,1256.1 1084.4,1256.7 1086.6,1257.3 1088.8,1257.8 1091.0,1258.3 1093.2,1258.8 1095.4,1259.2 1097.5,1259.6 1099.7,1260.0 1101.9,1260.3 1104.1,1260.6 1106.3,1260.8 1108.5,1261.1 1110.7,1261.3 1112.9,1261.5 1115.1,1261.7 1117.3,1261.8 1119.5,1262.0 1121.7,1262.1 1123.9,1262.3 1126.1,1262.4 1128.3,1262.4 1130.5,1262.4" fill="none" stroke="#e0464a" stroke-width="2.5" stroke-linejoin="round"/>
<path d="M858.4,1263.0 860.6,1263.0 862.8,1263.0 865.0,1263.0 867.2,1263.0 869.4,1263.0 871.6,1263.0 873.8,1263.0 875.9,1263.0 878.1,1263.0 880.3,1263.0 882.5,1263.0 884.7,1263.0 886.9,1263.0 889.1,1262.9 891.3,1262.9 893.5,1262.7 895.7,1262.4 897.9,1262.0 900.1,1261.5 902.3,1260.9 904.5,1260.1 906.7,1258.1 908.9,1254.9 911.1,1251.1 913.2,1246.5 915.4,1240.5 917.6,1233.2 919.8,1224.7 922.0,1213.5 924.2,1200.3 926.4,1186.7 928.6,1173.6 930.8,1159.9 933.0,1146.6 935.2,1134.5 937.4,1122.4 939.6,1111.3 941.8,1102.8 944.0,1097.5 946.2,1093.2 948.4,1090.6 950.5,1090.6 952.7,1092.1 954.9,1094.3 957.1,1097.4 959.3,1102.1 961.5,1107.6 963.7,1113.5 965.9,1120.4 968.1,1128.1 970.3,1135.8 972.5,1143.1 974.7,1150.5 976.9,1157.8 979.1,1165.1 981.3,1172.5 983.5,1179.9 985.6,1187.1 987.8,1194.1 990.0,1201.1 992.2,1207.6 994.4,1213.1 996.6,1218.0 998.8,1222.3 1001.0,1226.2 1003.2,1229.8 1005.4,1233.2 1007.6,1236.0 1009.8,1237.6 1012.0,1238.6 1014.2,1239.4 1016.4,1239.8 1018.6,1239.6 1020.8,1238.8 1022.9,1238.0 1025.1,1237.8 1027.3,1238.2 1029.5,1238.8 1031.7,1239.6 1033.9,1240.4 1036.1,1241.5 1038.3,1242.6 1040.5,1243.8 1042.7,1245.0 1044.9,1246.3 1047.1,1247.6 1049.3,1249.0 1051.5,1250.4 1053.7,1251.7 1055.9,1252.9 1058.1,1254.2 1060.2,1255.4 1062.4,1256.7 1064.6,1257.8 1066.8,1258.7 1069.0,1259.3 1071.2,1259.8 1073.4,1260.3 1075.6,1260.8 1077.8,1261.2 1080.0,1261.6 1082.2,1261.9 1084.4,1262.2 1086.6,1262.3 1088.8,1262.4 1091.0,1262.5 1093.2,1262.5 1095.4,1262.6 1097.5,1262.6 1099.7,1262.7 1101.9,1262.7 1104.1,1262.8 1106.3,1262.8 1108.5,1262.8 1110.7,1262.8 1112.9,1262.9 1115.1,1262.9 1117.3,1262.9 1119.5,1262.9 1121.7,1262.9 1123.9,1262.9 1126.1,1262.9 1128.3,1263.0 1130.5,1263.0" fill="none" stroke="#f0b123" stroke-width="2.5" stroke-linejoin="round"/>
<rect x="858.4" y="1082.6" width="272.0" height="180.4" fill="none" stroke="#8e8e8e" stroke-width="1.6"/>
<line x1="858.4" y1="1082.6" x2="1130.4" y2="1082.6" stroke="#3a3a3a" stroke-width="1.4"/>
<line x1="858.4" y1="1263.0" x2="858.4" y2="1267.0" stroke="#8a8a8a" stroke-width="1.2"/>
<text transform="translate(858.4 1285.5) scale(1.06 1)" x="0" y="0" font-size="20" text-anchor="middle" fill="#2e2e2e">0</text>
<line x1="949.3" y1="1263.0" x2="949.3" y2="1267.0" stroke="#8a8a8a" stroke-width="1.2"/>
<text transform="translate(949.3 1285.5) scale(1.06 1)" x="0" y="0" font-size="20" text-anchor="middle" fill="#2e2e2e">200</text>
<line x1="1040.0" y1="1263.0" x2="1040.0" y2="1267.0" stroke="#8a8a8a" stroke-width="1.2"/>
<text transform="translate(1040.0 1285.5) scale(1.06 1)" x="0" y="0" font-size="20" text-anchor="middle" fill="#2e2e2e">400</text>
<line x1="1130.4" y1="1263.0" x2="1130.4" y2="1267.0" stroke="#8a8a8a" stroke-width="1.2"/>
<text transform="translate(1130.4 1285.5) scale(1.06 1)" x="0" y="0" font-size="20" text-anchor="middle" fill="#2e2e2e">600</text>
<line x1="854.4" y1="1112.7" x2="858.4" y2="1112.7" stroke="#8a8a8a" stroke-width="1.2"/>
<text transform="translate(850.4 1120.0) scale(1.05 1)" x="0" y="0" font-size="20" text-anchor="end" fill="#2e2e2e">0.006</text>
<line x1="854.4" y1="1163.5" x2="858.4" y2="1163.5" stroke="#8a8a8a" stroke-width="1.2"/>
<text transform="translate(850.4 1170.8) scale(1.05 1)" x="0" y="0" font-size="20" text-anchor="end" fill="#2e2e2e">0.004</text>
<line x1="854.4" y1="1213.6" x2="858.4" y2="1213.6" stroke="#8a8a8a" stroke-width="1.2"/>
<text transform="translate(850.4 1220.9) scale(1.05 1)" x="0" y="0" font-size="20" text-anchor="end" fill="#2e2e2e">0.002</text>
<line x1="854.4" y1="1263.0" x2="858.4" y2="1263.0" stroke="#8a8a8a" stroke-width="1.2"/>
<text transform="translate(850.4 1270.3) scale(1.05 1)" x="0" y="0" font-size="20" text-anchor="end" fill="#2e2e2e">0.000</text>
<text transform="translate(1019.5 1308.8) scale(1.04 1)" x="0" y="0" font-size="20" text-anchor="middle" fill="#2e2e2e">Perim (μm)</text>
<text x="791.2" y="1175.0" font-size="20.5" text-anchor="middle" fill="#2e2e2e" textLength="98.0" lengthAdjust="spacingAndGlyphs" transform="rotate(-90 791.2 1175.0)">Probability</text>
<path d="M1202.1,1263.5 1204.3,1263.5 1206.5,1263.4 1208.7,1263.3 1210.9,1263.2 1213.1,1263.0 1215.3,1262.8 1217.5,1262.6 1219.7,1262.3 1221.9,1262.0 1224.1,1261.7 1226.3,1261.3 1228.5,1260.7 1230.7,1259.9 1232.8,1258.8 1235.0,1257.5 1237.2,1256.1 1239.4,1254.5 1241.6,1252.9 1243.8,1251.1 1246.0,1248.8 1248.2,1246.2 1250.4,1243.3 1252.6,1240.3 1254.8,1237.3 1257.0,1234.2 1259.2,1230.9 1261.4,1227.5 1263.6,1223.9 1265.8,1220.2 1267.9,1216.4 1270.1,1212.4 1272.3,1208.1 1274.5,1203.6 1276.7,1199.1 1278.9,1194.5 1281.1,1190.1 1283.3,1186.0 1285.5,1181.8 1287.7,1177.7 1289.9,1173.7 1292.1,1169.8 1294.3,1166.1 1296.5,1162.7 1298.7,1159.4 1300.9,1156.2 1303.0,1153.2 1305.2,1150.3 1307.4,1147.4 1309.6,1144.5 1311.8,1141.8 1314.0,1139.2 1316.2,1136.6 1318.4,1134.0 1320.6,1131.4 1322.8,1128.8 1325.0,1126.1 1327.2,1123.2 1329.4,1120.4 1331.6,1117.8 1333.8,1115.3 1336.0,1113.1 1338.1,1111.0 1340.3,1108.7 1342.5,1106.6 1344.7,1104.7 1346.9,1103.1 1349.1,1102.0 1351.3,1101.5 1353.5,1101.8 1355.7,1102.6 1357.9,1103.8 1360.1,1105.3 1362.3,1106.9 1364.5,1108.6 1366.7,1110.9 1368.9,1113.5 1371.1,1116.3 1373.2,1119.3 1375.4,1122.6 1377.6,1126.3 1379.8,1130.3 1382.0,1134.5 1384.2,1138.6 1386.4,1142.9 1388.6,1147.3 1390.8,1151.7 1393.0,1156.2 1395.2,1160.6 1397.4,1165.0 1399.6,1169.4 1401.8,1173.8 1404.0,1178.2 1406.2,1182.6 1408.3,1186.9 1410.5,1191.3 1412.7,1195.7 1414.9,1200.1 1417.1,1204.5 1419.3,1209.0 1421.5,1213.5 1423.7,1217.9 1425.9,1222.1 1428.1,1226.3 1430.3,1230.6 1432.5,1234.8 1434.7,1238.6 1436.9,1241.6 1439.1,1244.0 1441.3,1246.2 1443.4,1248.1 1445.6,1249.8 1447.8,1251.2 1450.0,1252.5 1452.2,1253.6 1454.4,1254.6 1456.6,1255.6 1458.8,1256.5 1461.0,1257.3 1463.2,1258.0 1465.4,1258.7 1467.6,1259.2 1469.8,1259.6 1472.0,1259.9 1474.2,1260.3 1476.4,1260.6 1478.5,1260.9 1480.7,1261.2 1482.9,1261.5 1485.1,1261.8 1487.3,1262.0 1489.5,1262.3 1491.7,1262.5 1493.9,1262.7 1496.1,1262.9 1498.3,1263.1 1500.5,1263.2 1502.7,1263.3 1504.9,1263.4 1507.1,1263.5 1509.3,1263.5 1511.5,1263.5" fill="none" stroke="#a3a3a3" stroke-width="2.5" stroke-linejoin="round"/>
<path d="M1202.1,1263.5 1204.3,1263.5 1206.5,1263.5 1208.7,1263.4 1210.9,1263.2 1213.1,1263.1 1215.3,1262.9 1217.5,1262.7 1219.7,1262.4 1221.9,1262.1 1224.1,1261.8 1226.3,1261.5 1228.5,1261.1 1230.7,1260.7 1232.8,1260.3 1235.0,1259.9 1237.2,1259.4 1239.4,1258.9 1241.6,1258.4 1243.8,1257.7 1246.0,1256.7 1248.2,1255.4 1250.4,1253.9 1252.6,1252.3 1254.8,1250.5 1257.0,1248.6 1259.2,1246.6 1261.4,1244.3 1263.6,1241.6 1265.8,1238.7 1267.9,1235.7 1270.1,1232.6 1272.3,1229.7 1274.5,1226.9 1276.7,1224.2 1278.9,1221.5 1281.1,1218.8 1283.3,1216.1 1285.5,1213.4 1287.7,1210.7 1289.9,1207.9 1292.1,1205.1 1294.3,1202.2 1296.5,1199.2 1298.7,1196.2 1300.9,1193.2 1303.0,1190.1 1305.2,1187.0 1307.4,1183.9 1309.6,1180.7 1311.8,1177.4 1314.0,1174.1 1316.2,1170.7 1318.4,1167.2 1320.6,1163.6 1322.8,1159.9 1325.0,1156.2 1327.2,1152.6 1329.4,1148.9 1331.6,1145.2 1333.8,1141.5 1336.0,1137.9 1338.1,1134.5 1340.3,1131.3 1342.5,1128.2 1344.7,1125.2 1346.9,1122.5 1349.1,1120.2 1351.3,1118.0 1353.5,1115.9 1355.7,1113.8 1357.9,1111.7 1360.1,1109.7 1362.3,1108.1 1364.5,1106.8 1366.7,1105.7 1368.9,1104.7 1371.1,1104.0 1373.2,1103.7 1375.4,1104.0 1377.6,1105.3 1379.8,1107.3 1382.0,1109.8 1384.2,1112.4 1386.4,1115.4 1388.6,1118.8 1390.8,1122.4 1393.0,1125.9 1395.2,1129.2 1397.4,1132.4 1399.6,1135.6 1401.8,1138.8 1404.0,1141.8 1406.2,1144.9 1408.3,1147.9 1410.5,1151.0 1412.7,1154.0 1414.9,1157.0 1417.1,1159.9 1419.3,1162.6 1421.5,1165.3 1423.7,1168.2 1425.9,1171.3 1428.1,1174.8 1430.3,1178.8 1432.5,1183.0 1434.7,1187.4 1436.9,1191.9 1439.1,1196.4 1441.3,1200.9 1443.4,1205.4 1445.6,1209.8 1447.8,1214.0 1450.0,1218.1 1452.2,1222.1 1454.4,1226.1 1456.6,1230.0 1458.8,1233.6 1461.0,1236.8 1463.2,1239.7 1465.4,1242.6 1467.6,1245.3 1469.8,1247.7 1472.0,1249.8 1474.2,1251.6 1476.4,1253.3 1478.5,1254.7 1480.7,1256.1 1482.9,1257.2 1485.1,1258.3 1487.3,1259.2 1489.5,1259.9 1491.7,1260.6 1493.9,1261.1 1496.1,1261.6 1498.3,1262.0 1500.5,1262.4 1502.7,1262.8 1504.9,1263.1 1507.1,1263.3 1509.3,1263.5 1511.5,1263.5" fill="none" stroke="#8fd3e2" stroke-width="2.5" stroke-linejoin="round"/>
<path d="M1202.1,1263.5 1204.3,1263.5 1206.5,1263.5 1208.7,1263.4 1210.9,1263.2 1213.1,1263.1 1215.3,1262.9 1217.5,1262.6 1219.7,1262.4 1221.9,1262.1 1224.1,1261.8 1226.3,1261.4 1228.5,1261.0 1230.7,1260.6 1232.8,1260.2 1235.0,1259.7 1237.2,1259.3 1239.4,1258.7 1241.6,1258.2 1243.8,1257.5 1246.0,1256.5 1248.2,1255.2 1250.4,1253.7 1252.6,1252.0 1254.8,1250.1 1257.0,1248.2 1259.2,1246.2 1261.4,1243.7 1263.6,1240.9 1265.8,1237.8 1267.9,1234.6 1270.1,1231.4 1272.3,1228.2 1274.5,1225.2 1276.7,1222.3 1278.9,1219.5 1281.1,1216.7 1283.3,1213.9 1285.5,1210.9 1287.7,1207.9 1289.9,1204.8 1292.1,1201.4 1294.3,1197.9 1296.5,1194.2 1298.7,1190.5 1300.9,1186.7 1303.0,1182.9 1305.2,1179.2 1307.4,1175.5 1309.6,1171.7 1311.8,1168.0 1314.0,1164.2 1316.2,1160.5 1318.4,1156.8 1320.6,1153.4 1322.8,1150.1 1325.0,1146.9 1327.2,1143.7 1329.4,1140.7 1331.6,1137.8 1333.8,1135.0 1336.0,1132.2 1338.1,1129.7 1340.3,1127.2 1342.5,1124.9 1344.7,1122.8 1346.9,1120.6 1349.1,1118.5 1351.3,1116.4 1353.5,1114.3 1355.7,1112.1 1357.9,1109.7 1360.1,1107.3 1362.3,1105.1 1364.5,1103.2 1366.7,1101.6 1368.9,1099.9 1371.1,1098.5 1373.2,1097.6 1375.4,1097.7 1377.6,1098.9 1379.8,1101.0 1382.0,1103.5 1384.2,1106.1 1386.4,1109.3 1388.6,1113.2 1390.8,1117.4 1393.0,1121.7 1395.2,1125.6 1397.4,1129.4 1399.6,1133.3 1401.8,1137.1 1404.0,1141.0 1406.2,1144.8 1408.3,1148.7 1410.5,1152.7 1412.7,1156.5 1414.9,1160.3 1417.1,1163.8 1419.3,1167.0 1421.5,1170.1 1423.7,1173.3 1425.9,1176.7 1428.1,1180.6 1430.3,1184.8 1432.5,1189.3 1434.7,1193.9 1436.9,1198.4 1439.1,1202.9 1441.3,1207.4 1443.4,1211.9 1445.6,1216.3 1447.8,1220.4 1450.0,1224.4 1452.2,1228.3 1454.4,1232.1 1456.6,1235.7 1458.8,1238.9 1461.0,1241.7 1463.2,1244.1 1465.4,1246.3 1467.6,1248.4 1469.8,1250.3 1472.0,1252.0 1474.2,1253.6 1476.4,1254.9 1478.5,1256.1 1480.7,1257.1 1482.9,1258.1 1485.1,1259.0 1487.3,1259.8 1489.5,1260.5 1491.7,1261.0 1493.9,1261.5 1496.1,1261.9 1498.3,1262.2 1500.5,1262.6 1502.7,1262.9 1504.9,1263.2 1507.1,1263.4 1509.3,1263.5 1511.5,1263.5" fill="none" stroke="#4dbbe6" stroke-width="2.5" stroke-linejoin="round"/>
<path d="M1202.1,1263.5 1204.3,1263.5 1206.5,1263.5 1208.7,1263.4 1210.9,1263.3 1213.1,1263.1 1215.3,1263.0 1217.5,1262.8 1219.7,1262.5 1221.9,1262.3 1224.1,1262.0 1226.3,1261.7 1228.5,1261.4 1230.7,1261.0 1232.8,1260.6 1235.0,1260.2 1237.2,1259.8 1239.4,1259.4 1241.6,1258.9 1243.8,1258.2 1246.0,1257.3 1248.2,1256.1 1250.4,1254.7 1252.6,1253.0 1254.8,1251.3 1257.0,1249.5 1259.2,1247.6 1261.4,1245.3 1263.6,1242.7 1265.8,1239.8 1267.9,1236.8 1270.1,1233.8 1272.3,1230.8 1274.5,1227.9 1276.7,1225.1 1278.9,1222.3 1281.1,1219.5 1283.3,1216.6 1285.5,1213.7 1287.7,1210.6 1289.9,1207.4 1292.1,1204.1 1294.3,1200.6 1296.5,1197.0 1298.7,1193.2 1300.9,1189.5 1303.0,1185.7 1305.2,1181.9 1307.4,1178.1 1309.6,1174.3 1311.8,1170.4 1314.0,1166.5 1316.2,1162.7 1318.4,1158.8 1320.6,1155.0 1322.8,1151.2 1325.0,1147.5 1327.2,1143.7 1329.4,1140.0 1331.6,1136.3 1333.8,1132.7 1336.0,1129.1 1338.1,1125.3 1340.3,1121.4 1342.5,1117.8 1344.7,1115.2 1346.9,1113.8 1349.1,1112.8 1351.3,1111.8 1353.5,1110.9 1355.7,1110.0 1357.9,1109.1 1360.1,1108.5 1362.3,1108.2 1364.5,1108.2 1366.7,1108.4 1368.9,1108.7 1371.1,1109.2 1373.2,1110.2 1375.4,1111.7 1377.6,1113.8 1379.8,1116.3 1382.0,1118.9 1384.2,1121.6 1386.4,1124.6 1388.6,1127.9 1390.8,1131.2 1393.0,1134.4 1395.2,1137.5 1397.4,1140.5 1399.6,1143.4 1401.8,1146.4 1404.0,1149.4 1406.2,1152.5 1408.3,1155.5 1410.5,1158.6 1412.7,1161.6 1414.9,1164.6 1417.1,1167.4 1419.3,1170.1 1421.5,1172.7 1423.7,1175.3 1425.9,1178.1 1428.1,1181.2 1430.3,1184.7 1432.5,1188.7 1434.7,1193.0 1436.9,1197.3 1439.1,1201.6 1441.3,1205.8 1443.4,1210.0 1445.6,1214.2 1447.8,1218.1 1450.0,1222.0 1452.2,1225.8 1454.4,1229.6 1456.6,1233.3 1458.8,1236.7 1461.0,1239.8 1463.2,1242.5 1465.4,1245.0 1467.6,1247.4 1469.8,1249.6 1472.0,1251.6 1474.2,1253.4 1476.4,1254.9 1478.5,1256.1 1480.7,1257.1 1482.9,1258.1 1485.1,1259.0 1487.3,1259.8 1489.5,1260.5 1491.7,1261.0 1493.9,1261.5 1496.1,1261.9 1498.3,1262.2 1500.5,1262.6 1502.7,1262.9 1504.9,1263.2 1507.1,1263.4 1509.3,1263.5 1511.5,1263.5" fill="none" stroke="#729ad9" stroke-width="2.5" stroke-linejoin="round"/>
<path d="M1202.1,1263.5 1204.3,1263.5 1206.5,1263.5 1208.7,1263.4 1210.9,1263.3 1213.1,1263.2 1215.3,1263.1 1217.5,1262.9 1219.7,1262.7 1221.9,1262.5 1224.1,1262.2 1226.3,1262.0 1228.5,1261.7 1230.7,1261.4 1232.8,1261.1 1235.0,1260.7 1237.2,1260.3 1239.4,1260.0 1241.6,1259.5 1243.8,1259.0 1246.0,1258.1 1248.2,1257.0 1250.4,1255.6 1252.6,1254.1 1254.8,1252.5 1257.0,1250.8 1259.2,1249.0 1261.4,1246.9 1263.6,1244.5 1265.8,1241.9 1267.9,1239.1 1270.1,1236.2 1272.3,1233.4 1274.5,1230.6 1276.7,1227.9 1278.9,1225.1 1281.1,1222.3 1283.3,1219.4 1285.5,1216.4 1287.7,1213.3 1289.9,1210.1 1292.1,1206.8 1294.3,1203.3 1296.5,1199.7 1298.7,1196.0 1300.9,1192.2 1303.0,1188.4 1305.2,1184.6 1307.4,1180.8 1309.6,1176.9 1311.8,1172.9 1314.0,1168.9 1316.2,1164.9 1318.4,1160.8 1320.6,1156.6 1322.8,1152.4 1325.0,1148.1 1327.2,1143.7 1329.4,1139.2 1331.6,1134.8 1333.8,1130.4 1336.0,1126.1 1338.1,1121.0 1340.3,1115.6 1342.5,1110.7 1344.7,1107.6 1346.9,1106.9 1349.1,1107.0 1351.3,1107.2 1353.5,1107.5 1355.7,1108.0 1357.9,1108.5 1360.1,1109.6 1362.3,1111.2 1364.5,1113.2 1366.7,1115.3 1368.9,1117.5 1371.1,1120.0 1373.2,1122.9 1375.4,1125.8 1377.6,1128.7 1379.8,1131.5 1382.0,1134.3 1384.2,1137.2 1386.4,1139.9 1388.6,1142.5 1390.8,1144.9 1393.0,1147.2 1395.2,1149.3 1397.4,1151.5 1399.6,1153.6 1401.8,1155.7 1404.0,1157.9 1406.2,1160.1 1408.3,1162.3 1410.5,1164.5 1412.7,1166.7 1414.9,1168.9 1417.1,1171.1 1419.3,1173.3 1421.5,1175.3 1423.7,1177.3 1425.9,1179.4 1428.1,1181.8 1430.3,1184.6 1432.5,1188.1 1434.7,1192.1 1436.9,1196.2 1439.1,1200.4 1441.3,1204.2 1443.4,1208.1 1445.6,1212.0 1447.8,1215.9 1450.0,1219.6 1452.2,1223.3 1454.4,1227.1 1456.6,1230.9 1458.8,1234.5 1461.0,1237.9 1463.2,1241.0 1465.4,1243.7 1467.6,1246.4 1469.8,1248.9 1472.0,1251.2 1474.2,1253.2 1476.4,1254.8 1478.5,1256.1 1480.7,1257.2 1482.9,1258.2 1485.1,1259.0 1487.3,1259.8 1489.5,1260.5 1491.7,1261.0 1493.9,1261.5 1496.1,1261.9 1498.3,1262.2 1500.5,1262.6 1502.7,1262.9 1504.9,1263.2 1507.1,1263.4 1509.3,1263.5 1511.5,1263.5" fill="none" stroke="#4e72c6" stroke-width="2.5" stroke-linejoin="round"/>
<path d="M1202.1,1263.5 1204.3,1263.5 1206.5,1263.5 1208.7,1263.4 1210.9,1263.3 1213.1,1263.2 1215.3,1263.1 1217.5,1262.9 1219.7,1262.8 1221.9,1262.6 1224.1,1262.4 1226.3,1262.1 1228.5,1261.7 1230.7,1261.1 1232.8,1260.2 1235.0,1259.2 1237.2,1258.1 1239.4,1256.9 1241.6,1255.6 1243.8,1254.1 1246.0,1252.3 1248.2,1250.1 1250.4,1247.8 1252.6,1245.2 1254.8,1242.6 1257.0,1239.7 1259.2,1236.4 1261.4,1232.8 1263.6,1229.1 1265.8,1225.3 1267.9,1221.7 1270.1,1218.1 1272.3,1214.6 1274.5,1211.0 1276.7,1207.4 1278.9,1203.9 1281.1,1200.5 1283.3,1197.3 1285.5,1194.1 1287.7,1191.0 1289.9,1188.0 1292.1,1185.0 1294.3,1182.0 1296.5,1178.9 1298.7,1175.9 1300.9,1172.9 1303.0,1169.9 1305.2,1166.8 1307.4,1163.7 1309.6,1160.4 1311.8,1157.1 1314.0,1153.6 1316.2,1150.1 1318.4,1146.5 1320.6,1142.9 1322.8,1139.2 1325.0,1135.3 1327.2,1131.2 1329.4,1127.0 1331.6,1123.0 1333.8,1119.1 1336.0,1115.5 1338.1,1112.0 1340.3,1108.4 1342.5,1105.0 1344.7,1101.9 1346.9,1099.3 1349.1,1097.3 1351.3,1095.6 1353.5,1094.0 1355.7,1092.7 1357.9,1091.8 1360.1,1091.6 1362.3,1092.0 1364.5,1092.8 1366.7,1093.9 1368.9,1095.2 1371.1,1096.7 1373.2,1099.3 1375.4,1102.8 1377.6,1106.9 1379.8,1111.2 1382.0,1115.5 1384.2,1120.2 1386.4,1125.2 1388.6,1130.4 1390.8,1135.5 1393.0,1140.5 1395.2,1145.5 1397.4,1150.5 1399.6,1155.5 1401.8,1160.3 1404.0,1164.9 1406.2,1169.4 1408.3,1173.7 1410.5,1178.0 1412.7,1182.3 1414.9,1186.7 1417.1,1191.2 1419.3,1195.7 1421.5,1200.1 1423.7,1204.3 1425.9,1208.3 1428.1,1212.3 1430.3,1216.2 1432.5,1219.9 1434.7,1223.5 1436.9,1227.1 1439.1,1230.7 1441.3,1234.1 1443.4,1237.2 1445.6,1239.8 1447.8,1242.1 1450.0,1244.3 1452.2,1246.3 1454.4,1248.2 1456.6,1249.8 1458.8,1251.3 1461.0,1252.6 1463.2,1253.8 1465.4,1254.9 1467.6,1255.9 1469.8,1256.9 1472.0,1257.8 1474.2,1258.6 1476.4,1259.3 1478.5,1260.0 1480.7,1260.5 1482.9,1260.9 1485.1,1261.2 1487.3,1261.5 1489.5,1261.8 1491.7,1262.1 1493.9,1262.4 1496.1,1262.6 1498.3,1262.9 1500.5,1263.1 1502.7,1263.2 1504.9,1263.4 1507.1,1263.5 1509.3,1263.5 1511.5,1263.5" fill="none" stroke="#e0464a" stroke-width="2.5" stroke-linejoin="round"/>
<path d="M1202.1,1263.5 1204.3,1263.5 1206.5,1263.5 1208.7,1263.4 1210.9,1263.3 1213.1,1263.1 1215.3,1262.9 1217.5,1262.7 1219.7,1262.5 1221.9,1262.2 1224.1,1262.0 1226.3,1261.6 1228.5,1261.3 1230.7,1260.9 1232.8,1260.5 1235.0,1260.1 1237.2,1259.7 1239.4,1259.2 1241.6,1258.7 1243.8,1258.1 1246.0,1257.1 1248.2,1255.9 1250.4,1254.5 1252.6,1252.9 1254.8,1251.2 1257.0,1249.5 1259.2,1247.7 1261.4,1245.6 1263.6,1243.3 1265.8,1240.8 1267.9,1238.2 1270.1,1235.6 1272.3,1233.1 1274.5,1230.7 1276.7,1228.4 1278.9,1226.1 1281.1,1223.8 1283.3,1221.5 1285.5,1219.3 1287.7,1217.3 1289.9,1215.4 1292.1,1213.8 1294.3,1212.3 1296.5,1210.9 1298.7,1209.6 1300.9,1208.3 1303.0,1206.8 1305.2,1205.3 1307.4,1203.5 1309.6,1201.6 1311.8,1199.5 1314.0,1197.3 1316.2,1194.6 1318.4,1191.4 1320.6,1187.5 1322.8,1182.9 1325.0,1178.1 1327.2,1173.1 1329.4,1168.0 1331.6,1162.4 1333.8,1156.6 1336.0,1151.0 1338.1,1145.8 1340.3,1140.7 1342.5,1135.7 1344.7,1130.9 1346.9,1126.9 1349.1,1124.0 1351.3,1121.8 1353.5,1119.6 1355.7,1117.7 1357.9,1116.2 1360.1,1115.3 1362.3,1114.9 1364.5,1115.0 1366.7,1115.5 1368.9,1116.1 1371.1,1116.9 1373.2,1117.8 1375.4,1118.8 1377.6,1120.1 1379.8,1122.1 1382.0,1124.5 1384.2,1127.1 1386.4,1129.6 1388.6,1131.9 1390.8,1133.8 1393.0,1135.8 1395.2,1137.7 1397.4,1139.4 1399.6,1141.1 1401.8,1142.6 1404.0,1143.9 1406.2,1145.0 1408.3,1146.0 1410.5,1147.0 1412.7,1148.1 1414.9,1149.5 1417.1,1150.9 1419.3,1152.5 1421.5,1154.3 1423.7,1156.2 1425.9,1158.6 1428.1,1161.4 1430.3,1164.6 1432.5,1168.1 1434.7,1172.2 1436.9,1176.7 1439.1,1181.4 1441.3,1185.8 1443.4,1190.2 1445.6,1194.6 1447.8,1199.0 1450.0,1203.4 1452.2,1207.8 1454.4,1212.2 1456.6,1216.7 1458.8,1221.1 1461.0,1225.3 1463.2,1229.5 1465.4,1233.8 1467.6,1237.9 1469.8,1241.6 1472.0,1244.6 1474.2,1247.1 1476.4,1249.5 1478.5,1251.6 1480.7,1253.6 1482.9,1255.3 1485.1,1256.7 1487.3,1257.8 1489.5,1258.7 1491.7,1259.5 1493.9,1260.2 1496.1,1260.9 1498.3,1261.5 1500.5,1262.1 1502.7,1262.6 1504.9,1263.0 1507.1,1263.3 1509.3,1263.5 1511.5,1263.5" fill="none" stroke="#f0b123" stroke-width="2.5" stroke-linejoin="round"/>
<rect x="1202.1" y="1083.6" width="309.4" height="179.9" fill="none" stroke="#8e8e8e" stroke-width="1.6"/>
<line x1="1202.1" y1="1263.5" x2="1202.1" y2="1267.5" stroke="#8a8a8a" stroke-width="1.2"/>
<text transform="translate(1202.1 1286.0) scale(1.06 1)" x="0" y="0" font-size="20" text-anchor="middle" fill="#2e2e2e">0.00</text>
<line x1="1279.3" y1="1263.5" x2="1279.3" y2="1267.5" stroke="#8a8a8a" stroke-width="1.2"/>
<text transform="translate(1279.3 1286.0) scale(1.06 1)" x="0" y="0" font-size="20" text-anchor="middle" fill="#2e2e2e">0.25</text>
<line x1="1357.0" y1="1263.5" x2="1357.0" y2="1267.5" stroke="#8a8a8a" stroke-width="1.2"/>
<text transform="translate(1357.0 1286.0) scale(1.06 1)" x="0" y="0" font-size="20" text-anchor="middle" fill="#2e2e2e">0.50</text>
<line x1="1434.6" y1="1263.5" x2="1434.6" y2="1267.5" stroke="#8a8a8a" stroke-width="1.2"/>
<text transform="translate(1434.6 1286.0) scale(1.06 1)" x="0" y="0" font-size="20" text-anchor="middle" fill="#2e2e2e">0.75</text>
<line x1="1511.5" y1="1263.5" x2="1511.5" y2="1267.5" stroke="#8a8a8a" stroke-width="1.2"/>
<text transform="translate(1511.5 1286.0) scale(1.06 1)" x="0" y="0" font-size="20" text-anchor="middle" fill="#2e2e2e">1.00</text>
<line x1="1198.1" y1="1263.5" x2="1202.1" y2="1263.5" stroke="#8a8a8a" stroke-width="1.2"/>
<text transform="translate(1194.1 1270.8) scale(1.05 1)" x="0" y="0" font-size="20" text-anchor="end" fill="#2e2e2e">0</text>
<line x1="1198.1" y1="1202.0" x2="1202.1" y2="1202.0" stroke="#8a8a8a" stroke-width="1.2"/>
<text transform="translate(1194.1 1209.3) scale(1.05 1)" x="0" y="0" font-size="20" text-anchor="end" fill="#2e2e2e">1</text>
<line x1="1198.1" y1="1140.3" x2="1202.1" y2="1140.3" stroke="#8a8a8a" stroke-width="1.2"/>
<text transform="translate(1194.1 1147.6) scale(1.05 1)" x="0" y="0" font-size="20" text-anchor="end" fill="#2e2e2e">2</text>
<text transform="translate(1356.4 1309.3) scale(1.04 1)" x="0" y="0" font-size="20" text-anchor="middle" fill="#2e2e2e">Circ</text>
<text x="1176.3" y="1175.8" font-size="20.5" text-anchor="middle" fill="#2e2e2e" textLength="98.0" lengthAdjust="spacingAndGlyphs" transform="rotate(-90 1176.3 1175.8)">Probability</text>
<path d="M117.4,1521.9 119.6,1521.9 121.8,1521.9 124.0,1521.9 126.2,1521.9 128.4,1521.8 130.6,1521.8 132.7,1521.7 134.9,1521.6 137.1,1521.5 139.3,1521.4 141.5,1521.3 143.7,1521.2 145.9,1520.8 148.1,1520.0 150.3,1518.7 152.5,1517.0 154.7,1515.0 156.8,1512.8 159.0,1509.4 161.2,1504.4 163.4,1498.3 165.6,1491.6 167.8,1484.7 170.0,1476.8 172.2,1467.9 174.4,1458.5 176.6,1449.1 178.7,1439.7 180.9,1429.7 183.1,1419.9 185.3,1411.5 187.5,1403.9 189.7,1396.9 191.9,1391.2 194.1,1387.1 196.3,1383.7 198.5,1380.9 200.7,1379.2 202.8,1378.0 205.0,1377.3 207.2,1377.5 209.4,1378.0 211.6,1378.7 213.8,1379.6 216.0,1380.8 218.2,1382.5 220.4,1384.3 222.6,1386.3 224.8,1388.2 226.9,1390.1 229.1,1392.3 231.3,1394.5 233.5,1397.0 235.7,1399.8 237.9,1403.0 240.1,1406.4 242.3,1409.9 244.5,1413.4 246.7,1417.0 248.9,1420.7 251.0,1424.6 253.2,1428.6 255.4,1433.0 257.6,1438.0 259.8,1443.2 262.0,1448.4 264.2,1453.1 266.4,1457.1 268.6,1460.9 270.8,1464.5 273.0,1467.9 275.1,1471.2 277.3,1474.3 279.5,1477.2 281.7,1480.1 283.9,1482.8 286.1,1485.4 288.3,1487.8 290.5,1490.0 292.7,1492.0 294.9,1493.9 297.1,1495.7 299.2,1497.3 301.4,1498.9 303.6,1500.4 305.8,1501.9 308.0,1503.3 310.2,1504.6 312.4,1505.9 314.6,1507.1 316.8,1508.2 319.0,1509.3 321.2,1510.4 323.3,1511.5 325.5,1512.5 327.7,1513.4 329.9,1514.3 332.1,1515.0 334.3,1515.6 336.5,1516.2 338.7,1516.7 340.9,1517.2 343.1,1517.7 345.3,1518.1 347.4,1518.5 349.6,1518.9 351.8,1519.2 354.0,1519.5 356.2,1519.8 358.4,1520.0 360.6,1520.2 362.8,1520.4 365.0,1520.6 367.2,1520.8 369.4,1521.0 371.5,1521.1 373.7,1521.3 375.9,1521.4 378.1,1521.6 380.3,1521.7 382.5,1521.8 384.7,1521.8 386.9,1521.9 389.1,1521.9 391.3,1521.9" fill="none" stroke="#a3a3a3" stroke-width="2.5" stroke-linejoin="round"/>
<path d="M117.4,1521.9 119.6,1521.9 121.8,1521.9 124.0,1521.9 126.2,1521.9 128.4,1521.8 130.6,1521.8 132.7,1521.7 134.9,1521.7 137.1,1521.6 139.3,1521.5 141.5,1521.4 143.7,1521.3 145.9,1521.1 148.1,1520.5 150.3,1519.5 152.5,1518.1 154.7,1516.4 156.8,1514.4 159.0,1511.7 161.2,1507.8 163.4,1502.5 165.6,1496.2 167.8,1489.5 170.0,1482.3 172.2,1474.2 174.4,1465.4 176.6,1456.1 178.7,1446.5 180.9,1436.3 183.1,1425.1 185.3,1414.3 187.5,1404.6 189.7,1396.2 191.9,1388.7 194.1,1382.7 196.3,1378.1 198.5,1374.0 200.7,1371.0 202.8,1369.6 205.0,1369.5 207.2,1370.0 209.4,1370.8 211.6,1371.6 213.8,1372.5 216.0,1373.6 218.2,1374.9 220.4,1376.5 222.6,1378.5 224.8,1381.1 226.9,1384.1 229.1,1387.2 231.3,1390.2 233.5,1392.8 235.7,1395.5 237.9,1398.3 240.1,1401.3 242.3,1404.6 244.5,1408.2 246.7,1411.9 248.9,1415.8 251.0,1419.8 253.2,1423.9 255.4,1428.2 257.6,1432.8 259.8,1437.6 262.0,1442.4 264.2,1447.2 266.4,1451.8 268.6,1456.5 270.8,1460.8 273.0,1464.9 275.1,1468.7 277.3,1472.3 279.5,1475.8 281.7,1479.0 283.9,1482.0 286.1,1484.7 288.3,1487.3 290.5,1489.7 292.7,1492.0 294.9,1494.2 297.1,1496.3 299.2,1498.5 301.4,1500.5 303.6,1502.5 305.8,1504.3 308.0,1505.9 310.2,1507.3 312.4,1508.6 314.6,1509.9 316.8,1511.0 319.0,1512.1 321.2,1513.0 323.3,1513.8 325.5,1514.6 327.7,1515.3 329.9,1515.9 332.1,1516.4 334.3,1516.9 336.5,1517.3 338.7,1517.7 340.9,1518.1 343.1,1518.5 345.3,1518.8 347.4,1519.1 349.6,1519.3 351.8,1519.6 354.0,1519.8 356.2,1520.0 358.4,1520.2 360.6,1520.4 362.8,1520.6 365.0,1520.8 367.2,1520.9 369.4,1521.1 371.5,1521.2 373.7,1521.4 375.9,1521.5 378.1,1521.6 380.3,1521.7 382.5,1521.8 384.7,1521.9 386.9,1521.9 389.1,1521.9 391.3,1521.9" fill="none" stroke="#8fd3e2" stroke-width="2.5" stroke-linejoin="round"/>
<path d="M117.4,1521.9 119.6,1521.9 121.8,1521.9 124.0,1521.9 126.2,1521.9 128.4,1521.8 130.6,1521.8 132.7,1521.7 134.9,1521.7 137.1,1521.6 139.3,1521.5 141.5,1521.4 143.7,1521.3 145.9,1521.2 148.1,1520.9 150.3,1520.1 152.5,1518.9 154.7,1517.3 156.8,1515.4 159.0,1513.2 161.2,1510.1 163.4,1505.3 165.6,1499.4 167.8,1492.7 170.0,1485.9 172.2,1478.4 174.4,1470.0 176.6,1460.8 178.7,1451.1 180.9,1440.7 183.1,1428.6 185.3,1416.1 187.5,1405.2 189.7,1395.8 191.9,1387.1 194.1,1379.8 196.3,1374.4 198.5,1369.4 200.7,1365.6 202.8,1364.0 205.0,1364.2 207.2,1365.0 209.4,1366.0 211.6,1366.9 213.8,1367.8 216.0,1368.7 218.2,1369.9 220.4,1371.2 222.6,1373.3 224.8,1376.4 226.9,1380.1 229.1,1383.9 231.3,1387.2 233.5,1390.0 235.7,1392.6 237.9,1395.2 240.1,1398.0 242.3,1401.1 244.5,1404.6 246.7,1408.5 248.9,1412.5 251.0,1416.6 253.2,1420.7 255.4,1424.9 257.6,1429.3 259.8,1433.8 262.0,1438.4 264.2,1443.2 266.4,1448.3 268.6,1453.5 270.8,1458.4 273.0,1462.8 275.1,1467.0 277.3,1471.0 279.5,1474.8 281.7,1478.3 283.9,1481.4 286.1,1484.3 288.3,1487.0 290.5,1489.5 292.7,1491.9 294.9,1494.3 297.1,1496.8 299.2,1499.2 301.4,1501.6 303.6,1503.9 305.8,1505.9 308.0,1507.6 310.2,1509.1 312.4,1510.4 314.6,1511.7 316.8,1512.9 319.0,1513.9 321.2,1514.7 323.3,1515.4 325.5,1516.0 327.7,1516.5 329.9,1517.0 332.1,1517.4 334.3,1517.8 336.5,1518.1 338.7,1518.5 340.9,1518.7 343.1,1519.0 345.3,1519.2 347.4,1519.4 349.6,1519.6 351.8,1519.8 354.0,1520.0 356.2,1520.2 358.4,1520.4 360.6,1520.6 362.8,1520.7 365.0,1520.9 367.2,1521.0 369.4,1521.2 371.5,1521.3 373.7,1521.4 375.9,1521.6 378.1,1521.7 380.3,1521.7 382.5,1521.8 384.7,1521.9 386.9,1521.9 389.1,1521.9 391.3,1521.9" fill="none" stroke="#4dbbe6" stroke-width="2.5" stroke-linejoin="round"/>
<path d="M117.4,1521.9 119.6,1521.9 121.8,1521.9 124.0,1521.9 126.2,1521.9 128.4,1521.8 130.6,1521.8 132.7,1521.7 134.9,1521.7 137.1,1521.6 139.3,1521.5 141.5,1521.4 143.7,1521.3 145.9,1521.0 148.1,1520.4 150.3,1519.4 152.5,1517.9 154.7,1516.2 156.8,1513.4 159.0,1509.7 161.2,1505.0 163.4,1499.2 165.6,1492.7 167.8,1485.5 170.0,1477.7 172.2,1469.3 174.4,1460.1 176.6,1450.2 178.7,1439.4 180.9,1428.1 183.1,1416.2 185.3,1403.8 187.5,1392.4 189.7,1383.1 191.9,1375.3 194.1,1368.6 196.3,1363.4 198.5,1359.7 200.7,1357.8 202.8,1357.4 205.0,1358.2 207.2,1359.6 209.4,1361.8 211.6,1364.2 213.8,1366.2 216.0,1368.1 218.2,1370.0 220.4,1372.0 222.6,1374.4 224.8,1377.5 226.9,1380.9 229.1,1384.5 231.3,1387.9 233.5,1390.9 235.7,1393.8 237.9,1396.7 240.1,1399.7 242.3,1402.9 244.5,1406.5 246.7,1410.4 248.9,1414.5 251.0,1418.8 253.2,1423.2 255.4,1427.8 257.6,1432.7 259.8,1437.7 262.0,1442.9 264.2,1448.0 266.4,1453.2 268.6,1458.3 270.8,1463.3 273.0,1467.9 275.1,1472.3 277.3,1476.4 279.5,1480.4 281.7,1484.0 283.9,1487.3 286.1,1490.2 288.3,1492.9 290.5,1495.4 292.7,1497.7 294.9,1499.9 297.1,1502.0 299.2,1503.9 301.4,1505.8 303.6,1507.6 305.8,1509.2 308.0,1510.6 310.2,1511.8 312.4,1512.8 314.6,1513.8 316.8,1514.6 319.0,1515.4 321.2,1516.1 323.3,1516.7 325.5,1517.1 327.7,1517.6 329.9,1518.0 332.1,1518.3 334.3,1518.6 336.5,1518.9 338.7,1519.1 340.9,1519.3 343.1,1519.5 345.3,1519.7 347.4,1519.9 349.6,1520.1 351.8,1520.2 354.0,1520.4 356.2,1520.6 358.4,1520.7 360.6,1520.8 362.8,1521.0 365.0,1521.1 367.2,1521.2 369.4,1521.4 371.5,1521.5 373.7,1521.6 375.9,1521.6 378.1,1521.7 380.3,1521.8 382.5,1521.8 384.7,1521.9 386.9,1521.9 389.1,1521.9 391.3,1521.9" fill="none" stroke="#729ad9" stroke-width="2.5" stroke-linejoin="round"/>
<path d="M117.4,1521.9 119.6,1521.9 121.8,1521.9 124.0,1521.9 126.2,1521.9 128.4,1521.8 130.6,1521.8 132.7,1521.7 134.9,1521.6 137.1,1521.5 139.3,1521.4 141.5,1521.3 143.7,1521.2 145.9,1520.8 148.1,1519.9 150.3,1518.6 152.5,1517.0 154.7,1515.0 156.8,1511.4 159.0,1506.2 161.2,1499.8 163.4,1493.0 165.6,1486.0 167.8,1478.2 170.0,1469.5 172.2,1460.1 174.4,1450.2 176.6,1439.5 178.7,1427.6 180.9,1415.4 183.1,1403.8 185.3,1391.5 187.5,1379.7 189.7,1370.4 191.9,1363.6 194.1,1357.4 196.3,1352.5 198.5,1350.0 200.7,1350.0 202.8,1350.9 205.0,1352.1 207.2,1354.1 209.4,1357.5 211.6,1361.4 213.8,1364.7 216.0,1367.5 218.2,1370.2 220.4,1372.8 222.6,1375.5 224.8,1378.5 226.9,1381.8 229.1,1385.1 231.3,1388.5 233.5,1391.8 235.7,1395.0 237.9,1398.2 240.1,1401.4 242.3,1404.7 244.5,1408.3 246.7,1412.3 248.9,1416.6 251.0,1421.1 253.2,1425.8 255.4,1430.7 257.6,1436.1 259.8,1441.7 262.0,1447.4 264.2,1452.9 266.4,1458.1 268.6,1463.2 270.8,1468.2 273.0,1473.0 275.1,1477.5 277.3,1481.8 279.5,1486.0 281.7,1489.8 283.9,1493.3 286.1,1496.2 288.3,1498.8 290.5,1501.2 292.7,1503.4 294.9,1505.4 297.1,1507.1 299.2,1508.6 301.4,1510.0 303.6,1511.3 305.8,1512.5 308.0,1513.5 310.2,1514.5 312.4,1515.2 314.6,1515.8 316.8,1516.4 319.0,1516.9 321.2,1517.4 323.3,1517.9 325.5,1518.3 327.7,1518.7 329.9,1519.0 332.1,1519.2 334.3,1519.4 336.5,1519.6 338.7,1519.7 340.9,1519.9 343.1,1520.1 345.3,1520.2 347.4,1520.4 349.6,1520.5 351.8,1520.6 354.0,1520.8 356.2,1520.9 358.4,1521.0 360.6,1521.1 362.8,1521.2 365.0,1521.3 367.2,1521.4 369.4,1521.5 371.5,1521.6 373.7,1521.7 375.9,1521.7 378.1,1521.8 380.3,1521.8 382.5,1521.9 384.7,1521.9 386.9,1521.9 389.1,1521.9 391.3,1521.9" fill="none" stroke="#4e72c6" stroke-width="2.5" stroke-linejoin="round"/>
<path d="M117.4,1521.9 119.6,1521.9 121.8,1521.9 124.0,1521.9 126.2,1521.9 128.4,1521.8 130.6,1521.8 132.7,1521.7 134.9,1521.6 137.1,1521.5 139.3,1521.4 141.5,1521.3 143.7,1521.0 145.9,1520.4 148.1,1519.4 150.3,1518.0 152.5,1516.1 154.7,1513.5 156.8,1510.2 159.0,1505.8 161.2,1500.0 163.4,1493.3 165.6,1485.5 167.8,1477.1 170.0,1468.0 172.2,1457.9 174.4,1447.3 176.6,1436.2 178.7,1424.6 180.9,1411.9 183.1,1400.6 185.3,1391.0 187.5,1385.5 189.7,1381.3 191.9,1378.3 194.1,1377.0 196.3,1376.5 198.5,1376.3 200.7,1376.5 202.8,1377.0 205.0,1377.8 207.2,1379.0 209.4,1380.3 211.6,1381.8 213.8,1383.2 216.0,1384.9 218.2,1386.8 220.4,1388.7 222.6,1390.7 224.8,1392.7 226.9,1394.8 229.1,1396.9 231.3,1399.1 233.5,1401.5 235.7,1404.1 237.9,1407.0 240.1,1410.2 242.3,1413.5 244.5,1417.0 246.7,1420.7 248.9,1424.7 251.0,1428.9 253.2,1433.3 255.4,1438.3 257.6,1443.7 259.8,1449.0 262.0,1454.1 264.2,1458.8 266.4,1463.0 268.6,1466.8 270.8,1470.3 273.0,1473.6 275.1,1476.7 277.3,1479.6 279.5,1482.4 281.7,1485.0 283.9,1487.5 286.1,1489.9 288.3,1492.1 290.5,1494.1 292.7,1496.0 294.9,1497.7 297.1,1499.4 299.2,1501.0 301.4,1502.6 303.6,1504.0 305.8,1505.4 308.0,1506.6 310.2,1507.8 312.4,1508.9 314.6,1509.9 316.8,1510.9 319.0,1511.8 321.2,1512.7 323.3,1513.6 325.5,1514.4 327.7,1515.2 329.9,1515.9 332.1,1516.5 334.3,1516.9 336.5,1517.4 338.7,1517.8 340.9,1518.1 343.1,1518.5 345.3,1518.8 347.4,1519.2 349.6,1519.5 351.8,1519.7 354.0,1520.0 356.2,1520.2 358.4,1520.4 360.6,1520.6 362.8,1520.7 365.0,1520.9 367.2,1521.0 369.4,1521.2 371.5,1521.3 373.7,1521.4 375.9,1521.5 378.1,1521.6 380.3,1521.7 382.5,1521.8 384.7,1521.9 386.9,1521.9 389.1,1521.9 391.3,1521.9" fill="none" stroke="#e0464a" stroke-width="2.5" stroke-linejoin="round"/>
<path d="M117.4,1521.9 119.6,1521.9 121.8,1521.9 124.0,1521.9 126.2,1521.9 128.4,1521.8 130.6,1521.7 132.7,1521.6 134.9,1521.5 137.1,1521.4 139.3,1521.3 141.5,1521.2 143.7,1520.7 145.9,1519.7 148.1,1518.4 150.3,1516.7 152.5,1514.5 154.7,1510.8 156.8,1505.4 159.0,1499.0 161.2,1491.9 163.4,1484.0 165.6,1474.2 167.8,1463.1 170.0,1451.6 172.2,1439.4 174.4,1426.3 176.6,1412.3 178.7,1396.5 180.9,1378.9 183.1,1364.7 185.3,1352.8 187.5,1351.3 189.7,1352.4 191.9,1354.2 194.1,1358.1 196.3,1363.3 198.5,1367.7 200.7,1371.6 202.8,1375.3 205.0,1378.7 207.2,1381.8 209.4,1384.6 211.6,1387.4 213.8,1390.0 216.0,1392.4 218.2,1394.8 220.4,1396.9 222.6,1399.1 224.8,1401.2 226.9,1403.3 229.1,1405.5 231.3,1407.5 233.5,1409.7 235.7,1412.0 237.9,1414.6 240.1,1417.3 242.3,1420.3 244.5,1423.7 246.7,1427.6 248.9,1432.0 251.0,1436.8 253.2,1442.1 255.4,1448.2 257.6,1454.3 259.8,1459.8 262.0,1464.7 264.2,1469.4 266.4,1473.8 268.6,1477.7 270.8,1481.1 273.0,1484.1 275.1,1486.9 277.3,1489.5 279.5,1491.9 281.7,1494.1 283.9,1496.2 286.1,1498.2 288.3,1500.0 290.5,1501.7 292.7,1503.3 294.9,1504.9 297.1,1506.4 299.2,1507.9 301.4,1509.3 303.6,1510.7 305.8,1511.9 308.0,1512.9 310.2,1513.7 312.4,1514.4 314.6,1515.2 316.8,1515.8 319.0,1516.5 321.2,1517.1 323.3,1517.6 325.5,1518.1 327.7,1518.5 329.9,1518.9 332.1,1519.2 334.3,1519.4 336.5,1519.6 338.7,1519.8 340.9,1519.9 343.1,1520.1 345.3,1520.2 347.4,1520.4 349.6,1520.5 351.8,1520.7 354.0,1520.8 356.2,1520.9 358.4,1521.1 360.6,1521.2 362.8,1521.3 365.0,1521.4 367.2,1521.5 369.4,1521.5 371.5,1521.6 373.7,1521.7 375.9,1521.7 378.1,1521.8 380.3,1521.8 382.5,1521.9 384.7,1521.9 386.9,1521.9 389.1,1521.9 391.3,1521.9" fill="none" stroke="#f0b123" stroke-width="2.5" stroke-linejoin="round"/>
<rect x="117.4" y="1341.3" width="273.9" height="180.7" fill="none" stroke="#8e8e8e" stroke-width="1.6"/>
<line x1="117.4" y1="1522.0" x2="117.4" y2="1526.0" stroke="#8a8a8a" stroke-width="1.2"/>
<text transform="translate(117.4 1544.5) scale(1.06 1)" x="0" y="0" font-size="20" text-anchor="middle" fill="#2e2e2e">0</text>
<line x1="190.1" y1="1522.0" x2="190.1" y2="1526.0" stroke="#8a8a8a" stroke-width="1.2"/>
<text transform="translate(190.1 1544.5) scale(1.06 1)" x="0" y="0" font-size="20" text-anchor="middle" fill="#2e2e2e">2000</text>
<line x1="262.8" y1="1522.0" x2="262.8" y2="1526.0" stroke="#8a8a8a" stroke-width="1.2"/>
<text transform="translate(262.8 1544.5) scale(1.06 1)" x="0" y="0" font-size="20" text-anchor="middle" fill="#2e2e2e">4000</text>
<line x1="335.8" y1="1522.0" x2="335.8" y2="1526.0" stroke="#8a8a8a" stroke-width="1.2"/>
<text transform="translate(335.8 1544.5) scale(1.06 1)" x="0" y="0" font-size="20" text-anchor="middle" fill="#2e2e2e">6000</text>
<line x1="113.4" y1="1369.0" x2="117.4" y2="1369.0" stroke="#8a8a8a" stroke-width="1.2"/>
<text transform="translate(109.4 1376.3) scale(1.05 1)" x="0" y="0" font-size="20" text-anchor="end" fill="#2e2e2e">0.0004</text>
<line x1="113.4" y1="1445.4" x2="117.4" y2="1445.4" stroke="#8a8a8a" stroke-width="1.2"/>
<text transform="translate(109.4 1452.7) scale(1.05 1)" x="0" y="0" font-size="20" text-anchor="end" fill="#2e2e2e">0.0002</text>
<line x1="113.4" y1="1522.0" x2="117.4" y2="1522.0" stroke="#8a8a8a" stroke-width="1.2"/>
<text transform="translate(109.4 1529.3) scale(1.05 1)" x="0" y="0" font-size="20" text-anchor="end" fill="#2e2e2e">0.0000</text>
<text transform="translate(281.0 1567.8) scale(1.04 1)" x="0" y="0" font-size="20" text-anchor="middle" fill="#2e2e2e">Area (μm<tspan dy="-7" font-size="12">2</tspan><tspan dy="7">)</tspan></text>
<text x="37.6" y="1433.0" font-size="20.5" text-anchor="middle" fill="#2e2e2e" textLength="98.0" lengthAdjust="spacingAndGlyphs" transform="rotate(-90 37.6 1433.0)">Probability</text>
<path d="M443.9,1521.7 446.1,1521.5 448.3,1521.3 450.5,1521.1 452.7,1520.9 454.9,1520.7 457.1,1520.4 459.3,1520.1 461.5,1519.9 463.7,1519.6 465.9,1519.3 468.1,1519.0 470.3,1518.6 472.5,1518.3 474.7,1517.9 476.9,1517.5 479.1,1517.1 481.3,1516.7 483.4,1516.2 485.6,1515.8 487.8,1515.2 490.0,1514.7 492.2,1514.1 494.4,1513.5 496.6,1512.7 498.8,1511.9 501.0,1511.0 503.2,1510.0 505.4,1509.0 507.6,1507.9 509.8,1506.8 512.0,1505.7 514.2,1504.5 516.4,1503.3 518.6,1502.1 520.8,1500.8 522.9,1499.5 525.1,1498.1 527.3,1496.6 529.5,1495.2 531.7,1493.6 533.9,1492.1 536.1,1490.5 538.3,1488.7 540.5,1487.0 542.7,1485.1 544.9,1483.2 547.1,1481.3 549.3,1479.3 551.5,1477.3 553.7,1475.2 555.9,1473.0 558.1,1470.8 560.3,1468.6 562.4,1466.3 564.6,1463.9 566.8,1461.5 569.0,1459.0 571.2,1456.4 573.4,1453.8 575.6,1451.2 577.8,1448.6 580.0,1446.0 582.2,1443.5 584.4,1441.0 586.6,1438.5 588.8,1435.9 591.0,1433.4 593.2,1430.8 595.4,1428.1 597.6,1425.3 599.8,1422.4 601.9,1419.4 604.1,1416.4 606.3,1413.4 608.5,1410.4 610.7,1407.6 612.9,1404.9 615.1,1402.2 617.3,1399.6 619.5,1397.0 621.7,1394.5 623.9,1392.1 626.1,1389.7 628.3,1387.3 630.5,1384.8 632.7,1382.4 634.9,1380.1 637.1,1378.1 639.3,1376.5 641.4,1375.0 643.6,1373.5 645.8,1372.1 648.0,1371.0 650.2,1370.3 652.4,1370.1 654.6,1370.3 656.8,1370.8 659.0,1371.4 661.2,1372.2 663.4,1373.2 665.6,1374.7 667.8,1376.7 670.0,1378.9 672.2,1381.2 674.4,1383.5 676.6,1385.8 678.7,1388.3 680.9,1390.9 683.1,1393.8 685.3,1396.9 687.5,1400.5 689.7,1404.5 691.9,1408.9 694.1,1413.6 696.3,1418.4 698.5,1423.2 700.7,1428.2 702.9,1433.5 705.1,1438.9 707.3,1444.4 709.5,1449.7 711.7,1454.8 713.9,1460.0 716.1,1465.2 718.2,1470.3 720.4,1475.1 722.6,1479.5 724.8,1483.3 727.0,1486.8 729.2,1490.1 731.4,1493.2 733.6,1496.1 735.8,1498.7 738.0,1501.1 740.2,1503.1 742.4,1505.1 744.6,1507.0 746.8,1508.8 749.0,1510.5 751.2,1512.1 753.4,1513.5 755.6,1514.7 757.7,1515.7 759.9,1516.5" fill="none" stroke="#a3a3a3" stroke-width="2.5" stroke-linejoin="round"/>
<path d="M443.9,1520.1 446.1,1519.3 448.3,1518.5 450.5,1517.7 452.7,1516.9 454.9,1516.2 457.1,1515.5 459.3,1514.8 461.5,1514.1 463.7,1513.5 465.9,1512.9 468.1,1512.3 470.3,1511.7 472.5,1511.2 474.7,1510.6 476.9,1510.1 479.1,1509.5 481.3,1509.0 483.4,1508.5 485.6,1508.0 487.8,1507.4 490.0,1506.9 492.2,1506.4 494.4,1505.8 496.6,1505.2 498.8,1504.5 501.0,1503.8 503.2,1503.2 505.4,1502.5 507.6,1501.7 509.8,1501.0 512.0,1500.2 514.2,1499.4 516.4,1498.6 518.6,1497.6 520.8,1496.6 522.9,1495.5 525.1,1494.3 527.3,1493.0 529.5,1491.6 531.7,1490.3 533.9,1489.0 536.1,1487.7 538.3,1486.5 540.5,1485.2 542.7,1483.8 544.9,1482.4 547.1,1480.9 549.3,1479.3 551.5,1477.5 553.7,1475.5 555.9,1473.4 558.1,1471.1 560.3,1468.8 562.4,1466.4 564.6,1463.9 566.8,1461.4 569.0,1458.7 571.2,1455.9 573.4,1453.1 575.6,1450.2 577.8,1447.3 580.0,1444.5 582.2,1441.7 584.4,1438.9 586.6,1436.2 588.8,1433.4 591.0,1430.6 593.2,1427.9 595.4,1425.0 597.6,1422.2 599.8,1419.2 601.9,1416.3 604.1,1413.3 606.3,1410.4 608.5,1407.4 610.7,1404.5 612.9,1401.6 615.1,1398.7 617.3,1395.7 619.5,1392.7 621.7,1389.9 623.9,1387.3 626.1,1385.0 628.3,1382.8 630.5,1380.6 632.7,1378.4 634.9,1376.6 637.1,1375.1 639.3,1374.2 641.4,1373.7 643.6,1373.4 645.8,1373.2 648.0,1373.2 650.2,1373.5 652.4,1374.3 654.6,1375.5 656.8,1377.1 659.0,1378.7 661.2,1380.2 663.4,1381.9 665.6,1383.8 667.8,1386.0 670.0,1388.2 672.2,1390.5 674.4,1392.7 676.6,1394.9 678.7,1397.1 680.9,1399.4 683.1,1401.9 685.3,1404.6 687.5,1407.6 689.7,1410.9 691.9,1414.4 694.1,1418.1 696.3,1422.1 698.5,1426.3 700.7,1430.9 702.9,1436.1 705.1,1441.6 707.3,1447.2 709.5,1452.7 711.7,1457.9 713.9,1463.1 716.1,1468.3 718.2,1473.4 720.4,1478.2 722.6,1482.6 724.8,1486.4 727.0,1489.9 729.2,1493.3 731.4,1496.4 733.6,1499.3 735.8,1501.9 738.0,1504.2 740.2,1506.2 742.4,1508.0 744.6,1509.8 746.8,1511.4 749.0,1513.0 751.2,1514.4 753.4,1515.6 755.6,1516.7 757.7,1517.5 759.9,1518.1" fill="none" stroke="#8fd3e2" stroke-width="2.5" stroke-linejoin="round"/>
<path d="M443.9,1519.1 446.1,1517.8 448.3,1516.6 450.5,1515.4 452.7,1514.3 454.9,1513.2 457.1,1512.2 459.3,1511.2 461.5,1510.3 463.7,1509.4 465.9,1508.6 468.1,1507.8 470.3,1507.1 472.5,1506.4 474.7,1505.8 476.9,1505.1 479.1,1504.5 481.3,1503.9 483.4,1503.3 485.6,1502.8 487.8,1502.3 490.0,1501.7 492.2,1501.2 494.4,1500.7 496.6,1500.2 498.8,1499.6 501.0,1499.1 503.2,1498.6 505.4,1498.1 507.6,1497.6 509.8,1497.1 512.0,1496.6 514.2,1496.0 516.4,1495.4 518.6,1494.7 520.8,1493.8 522.9,1492.8 525.1,1491.7 527.3,1490.5 529.5,1489.3 531.7,1488.1 533.9,1487.0 536.1,1485.9 538.3,1484.9 540.5,1483.9 542.7,1482.9 544.9,1481.8 547.1,1480.6 549.3,1479.3 551.5,1477.7 553.7,1475.8 555.9,1473.6 558.1,1471.4 560.3,1468.9 562.4,1466.4 564.6,1463.9 566.8,1461.3 569.0,1458.5 571.2,1455.6 573.4,1452.5 575.6,1449.5 577.8,1446.4 580.0,1443.5 582.2,1440.5 584.4,1437.6 586.6,1434.7 588.8,1431.8 591.0,1428.8 593.2,1425.9 595.4,1423.0 597.6,1420.0 599.8,1417.1 601.9,1414.2 604.1,1411.3 606.3,1408.3 608.5,1405.4 610.7,1402.5 612.9,1399.5 615.1,1396.3 617.3,1393.1 619.5,1389.9 621.7,1386.9 623.9,1384.2 626.1,1381.9 628.3,1379.8 630.5,1377.7 632.7,1375.8 634.9,1374.2 637.1,1373.1 639.3,1372.7 641.4,1372.8 643.6,1373.3 645.8,1373.9 648.0,1374.7 650.2,1375.6 652.4,1377.0 654.6,1379.0 656.8,1381.3 659.0,1383.5 661.2,1385.6 663.4,1387.7 665.6,1389.9 667.8,1392.2 670.0,1394.4 672.2,1396.6 674.4,1398.8 676.6,1400.9 678.7,1403.0 680.9,1405.1 683.1,1407.4 685.3,1409.8 687.5,1412.4 689.7,1415.1 691.9,1418.0 694.1,1421.1 696.3,1424.5 698.5,1428.3 700.7,1432.7 702.9,1437.9 705.1,1443.4 707.3,1449.2 709.5,1454.8 711.7,1460.0 713.9,1465.1 716.1,1470.4 718.2,1475.5 720.4,1480.3 722.6,1484.6 724.8,1488.4 727.0,1492.0 729.2,1495.4 731.4,1498.6 733.6,1501.5 735.8,1504.1 738.0,1506.3 740.2,1508.2 742.4,1509.9 744.6,1511.6 746.8,1513.2 749.0,1514.6 751.2,1516.0 753.4,1517.1 755.6,1518.0 757.7,1518.7 759.9,1519.1" fill="none" stroke="#4dbbe6" stroke-width="2.5" stroke-linejoin="round"/>
<path d="M443.9,1521.7 446.1,1521.6 448.3,1521.4 450.5,1521.3 452.7,1521.1 454.9,1521.0 457.1,1520.8 459.3,1520.6 461.5,1520.3 463.7,1520.1 465.9,1519.9 468.1,1519.6 470.3,1519.4 472.5,1519.1 474.7,1518.8 476.9,1518.4 479.1,1518.1 481.3,1517.7 483.4,1517.3 485.6,1516.8 487.8,1516.4 490.0,1515.9 492.2,1515.4 494.4,1514.8 496.6,1514.2 498.8,1513.5 501.0,1512.7 503.2,1511.9 505.4,1511.0 507.6,1510.1 509.8,1509.2 512.0,1508.2 514.2,1507.1 516.4,1506.0 518.6,1504.8 520.8,1503.5 522.9,1502.2 525.1,1500.8 527.3,1499.3 529.5,1497.8 531.7,1496.2 533.9,1494.7 536.1,1493.0 538.3,1491.3 540.5,1489.5 542.7,1487.7 544.9,1485.8 547.1,1483.8 549.3,1481.8 551.5,1479.8 553.7,1477.8 555.9,1475.6 558.1,1473.5 560.3,1471.2 562.4,1468.9 564.6,1466.5 566.8,1464.0 569.0,1461.3 571.2,1458.6 573.4,1455.8 575.6,1452.9 577.8,1450.1 580.0,1447.3 582.2,1444.6 584.4,1441.9 586.6,1439.2 588.8,1436.5 591.0,1433.8 593.2,1431.0 595.4,1428.1 597.6,1425.2 599.8,1422.1 601.9,1419.0 604.1,1415.9 606.3,1412.7 608.5,1409.5 610.7,1406.4 612.9,1403.2 615.1,1399.9 617.3,1396.7 619.5,1393.4 621.7,1390.1 623.9,1386.8 626.1,1383.2 628.3,1379.5 630.5,1375.9 632.7,1372.7 634.9,1370.2 637.1,1368.0 639.3,1366.0 641.4,1364.3 643.6,1362.8 645.8,1361.8 648.0,1361.2 650.2,1361.1 652.4,1361.6 654.6,1362.3 656.8,1363.2 659.0,1364.4 661.2,1366.0 663.4,1367.9 665.6,1370.3 667.8,1373.0 670.0,1376.2 672.2,1379.8 674.4,1383.6 676.6,1387.5 678.7,1391.3 680.9,1395.2 683.1,1399.3 685.3,1403.5 687.5,1407.9 689.7,1412.6 691.9,1417.5 694.1,1422.5 696.3,1427.5 698.5,1432.6 700.7,1437.7 702.9,1442.9 705.1,1448.2 707.3,1453.5 709.5,1458.7 711.7,1463.8 713.9,1468.7 716.1,1473.3 718.2,1477.7 720.4,1481.9 722.6,1485.7 724.8,1489.0 727.0,1492.1 729.2,1495.0 731.4,1497.7 733.6,1500.2 735.8,1502.6 738.0,1504.7 740.2,1506.6 742.4,1508.3 744.6,1509.9 746.8,1511.3 749.0,1512.6 751.2,1513.8 753.4,1514.9 755.6,1515.9 757.7,1516.6 759.9,1517.2" fill="none" stroke="#729ad9" stroke-width="2.5" stroke-linejoin="round"/>
<path d="M443.9,1521.7 446.1,1521.6 448.3,1521.6 450.5,1521.5 452.7,1521.4 454.9,1521.3 457.1,1521.1 459.3,1521.0 461.5,1520.8 463.7,1520.7 465.9,1520.5 468.1,1520.3 470.3,1520.1 472.5,1519.9 474.7,1519.6 476.9,1519.3 479.1,1519.0 481.3,1518.7 483.4,1518.3 485.6,1517.9 487.8,1517.5 490.0,1517.1 492.2,1516.6 494.4,1516.2 496.6,1515.7 498.8,1515.1 501.0,1514.5 503.2,1513.8 505.4,1513.1 507.6,1512.3 509.8,1511.5 512.0,1510.7 514.2,1509.7 516.4,1508.7 518.6,1507.5 520.8,1506.3 522.9,1504.9 525.1,1503.4 527.3,1501.9 529.5,1500.4 531.7,1498.8 533.9,1497.2 536.1,1495.6 538.3,1493.9 540.5,1492.1 542.7,1490.3 544.9,1488.3 547.1,1486.4 549.3,1484.4 551.5,1482.4 553.7,1480.4 555.9,1478.3 558.1,1476.1 560.3,1473.9 562.4,1471.5 564.6,1469.1 566.8,1466.5 569.0,1463.7 571.2,1460.7 573.4,1457.7 575.6,1454.6 577.8,1451.6 580.0,1448.6 582.2,1445.7 584.4,1442.8 586.6,1439.9 588.8,1437.1 591.0,1434.1 593.2,1431.2 595.4,1428.1 597.6,1425.0 599.8,1421.9 601.9,1418.7 604.1,1415.4 606.3,1412.1 608.5,1408.7 610.7,1405.1 612.9,1401.5 615.1,1397.7 617.3,1393.7 619.5,1389.7 621.7,1385.6 623.9,1381.5 626.1,1376.8 628.3,1371.8 630.5,1367.0 632.7,1363.0 634.9,1360.2 637.1,1357.8 639.3,1355.5 641.4,1353.6 643.6,1352.2 645.8,1351.4 648.0,1351.4 650.2,1352.0 652.4,1353.0 654.6,1354.3 656.8,1355.7 659.0,1357.4 661.2,1359.8 663.4,1362.6 665.6,1365.9 667.8,1369.3 670.0,1373.5 672.2,1378.4 674.4,1383.8 676.6,1389.1 678.7,1394.3 680.9,1399.5 683.1,1404.8 685.3,1410.1 687.5,1415.4 689.7,1420.7 691.9,1426.0 694.1,1431.3 696.3,1436.7 698.5,1442.0 700.7,1447.2 702.9,1452.4 705.1,1457.5 707.3,1462.6 709.5,1467.8 711.7,1472.8 713.9,1477.4 716.1,1481.5 718.2,1485.2 720.4,1488.6 722.6,1491.8 724.8,1494.8 727.0,1497.5 729.2,1499.9 731.4,1502.2 733.6,1504.4 735.8,1506.5 738.0,1508.4 740.2,1510.1 742.4,1511.5 744.6,1512.7 746.8,1513.7 749.0,1514.7 751.2,1515.6 753.4,1516.4 755.6,1517.0 757.7,1517.5 759.9,1517.8" fill="none" stroke="#4e72c6" stroke-width="2.5" stroke-linejoin="round"/>
<path d="M443.9,1521.7 446.1,1521.5 448.3,1521.4 450.5,1521.2 452.7,1521.0 454.9,1520.8 457.1,1520.6 459.3,1520.4 461.5,1520.1 463.7,1519.9 465.9,1519.6 468.1,1519.4 470.3,1519.1 472.5,1518.8 474.7,1518.4 476.9,1518.1 479.1,1517.7 481.3,1517.3 483.4,1516.9 485.6,1516.4 487.8,1515.9 490.0,1515.4 492.2,1514.9 494.4,1514.3 496.6,1513.6 498.8,1512.9 501.0,1512.0 503.2,1511.1 505.4,1510.2 507.6,1509.2 509.8,1508.2 512.0,1507.2 514.2,1506.1 516.4,1505.0 518.6,1503.7 520.8,1502.4 522.9,1501.1 525.1,1499.7 527.3,1498.2 529.5,1496.7 531.7,1495.2 533.9,1493.6 536.1,1492.0 538.3,1490.3 540.5,1488.5 542.7,1486.7 544.9,1484.8 547.1,1482.8 549.3,1480.8 551.5,1478.8 553.7,1476.7 555.9,1474.6 558.1,1472.4 560.3,1470.2 562.4,1467.8 564.6,1465.5 566.8,1463.0 569.0,1460.4 571.2,1457.7 573.4,1455.0 575.6,1452.2 577.8,1449.5 580.0,1446.8 582.2,1444.1 584.4,1441.5 586.6,1438.9 588.8,1436.3 591.0,1433.6 593.2,1430.9 595.4,1428.1 597.6,1425.2 599.8,1422.2 601.9,1419.2 604.1,1416.1 606.3,1413.0 608.5,1409.9 610.7,1406.9 612.9,1403.9 615.1,1400.9 617.3,1397.8 619.5,1394.8 621.7,1391.8 623.9,1388.9 626.1,1385.8 628.3,1382.6 630.5,1379.5 632.7,1376.6 634.9,1374.2 637.1,1372.0 639.3,1370.2 641.4,1368.6 643.6,1367.1 645.8,1365.9 648.0,1365.1 650.2,1364.8 652.4,1365.0 654.6,1365.5 656.8,1366.3 659.0,1367.2 661.2,1368.5 663.4,1370.0 665.6,1372.0 667.8,1374.5 670.0,1377.3 672.2,1380.4 674.4,1383.6 676.6,1386.8 678.7,1390.1 680.9,1393.5 683.1,1397.1 685.3,1400.9 687.5,1404.9 689.7,1409.4 691.9,1414.0 694.1,1418.9 696.3,1423.9 698.5,1428.9 700.7,1433.9 702.9,1439.2 705.1,1444.5 707.3,1449.8 709.5,1455.1 711.7,1460.2 713.9,1465.2 716.1,1470.1 718.2,1474.8 720.4,1479.2 722.6,1483.2 724.8,1486.7 727.0,1490.0 729.2,1493.1 731.4,1495.9 733.6,1498.6 735.8,1501.0 738.0,1503.3 740.2,1505.2 742.4,1507.0 744.6,1508.7 746.8,1510.3 749.0,1511.8 751.2,1513.1 753.4,1514.3 755.6,1515.4 757.7,1516.3 759.9,1516.9" fill="none" stroke="#e0464a" stroke-width="2.5" stroke-linejoin="round"/>
<path d="M443.9,1519.1 446.1,1519.1 448.3,1519.0 450.5,1519.0 452.7,1518.9 454.9,1518.7 457.1,1518.6 459.3,1518.4 461.5,1518.3 463.7,1518.1 465.9,1517.9 468.1,1517.7 470.3,1517.5 472.5,1517.2 474.7,1516.8 476.9,1516.4 479.1,1516.0 481.3,1515.5 483.4,1515.0 485.6,1514.5 487.8,1514.0 490.0,1513.4 492.2,1512.8 494.4,1512.2 496.6,1511.6 498.8,1510.9 501.0,1510.2 503.2,1509.4 505.4,1508.5 507.6,1507.6 509.8,1506.7 512.0,1505.6 514.2,1504.5 516.4,1503.3 518.6,1501.8 520.8,1500.2 522.9,1498.5 525.1,1496.8 527.3,1494.9 529.5,1493.1 531.7,1491.3 533.9,1489.5 536.1,1487.8 538.3,1485.9 540.5,1484.1 542.7,1482.3 544.9,1480.4 547.1,1478.6 549.3,1476.7 551.5,1474.9 553.7,1473.1 555.9,1471.3 558.1,1469.6 560.3,1467.7 562.4,1465.9 564.6,1463.9 566.8,1461.8 569.0,1459.7 571.2,1457.4 573.4,1455.1 575.6,1452.8 577.8,1450.6 580.0,1448.5 582.2,1446.6 584.4,1444.8 586.6,1443.1 588.8,1441.4 591.0,1439.6 593.2,1437.8 595.4,1435.8 597.6,1433.5 599.8,1431.1 601.9,1428.5 604.1,1425.9 606.3,1423.2 608.5,1420.5 610.7,1417.9 612.9,1415.3 615.1,1412.8 617.3,1410.4 619.5,1407.9 621.7,1405.3 623.9,1402.7 626.1,1400.0 628.3,1397.1 630.5,1394.0 632.7,1390.9 634.9,1387.7 637.1,1384.6 639.3,1381.6 641.4,1378.7 643.6,1375.8 645.8,1373.1 648.0,1370.5 650.2,1368.0 652.4,1365.4 654.6,1363.0 656.8,1361.3 659.0,1360.3 661.2,1359.4 663.4,1359.1 665.6,1359.3 667.8,1360.0 670.0,1361.1 672.2,1362.8 674.4,1365.8 676.6,1369.5 678.7,1373.6 680.9,1377.8 683.1,1382.6 685.3,1388.1 687.5,1394.0 689.7,1399.9 691.9,1405.8 694.1,1411.8 696.3,1418.0 698.5,1424.2 700.7,1430.5 702.9,1436.7 705.1,1442.9 707.3,1449.5 709.5,1456.0 711.7,1462.4 713.9,1468.4 716.1,1473.7 718.2,1478.4 720.4,1482.9 722.6,1487.2 724.8,1491.0 727.0,1494.5 729.2,1497.4 731.4,1500.0 733.6,1502.4 735.8,1504.6 738.0,1506.6 740.2,1508.5 742.4,1510.1 744.6,1511.4 746.8,1512.7 749.0,1513.8 751.2,1514.9 753.4,1515.9 755.6,1516.7 757.7,1517.3 759.9,1517.8" fill="none" stroke="#f0b123" stroke-width="2.5" stroke-linejoin="round"/>
<rect x="444.0" y="1343.6" width="316.0" height="179.9" fill="none" stroke="#8e8e8e" stroke-width="1.6"/>
<line x1="444.0" y1="1343.6" x2="760.0" y2="1343.6" stroke="#3a3a3a" stroke-width="1.4"/>
<line x1="760.0" y1="1343.6" x2="760.0" y2="1523.5" stroke="#3a3a3a" stroke-width="1.4"/>
<line x1="444.0" y1="1523.5" x2="444.0" y2="1527.5" stroke="#8a8a8a" stroke-width="1.2"/>
<text transform="translate(444.0 1546.0) scale(1.06 1)" x="0" y="0" font-size="20" text-anchor="middle" fill="#2e2e2e">0.4</text>
<line x1="549.3" y1="1523.5" x2="549.3" y2="1527.5" stroke="#8a8a8a" stroke-width="1.2"/>
<text transform="translate(549.3 1546.0) scale(1.06 1)" x="0" y="0" font-size="20" text-anchor="middle" fill="#2e2e2e">0.6</text>
<line x1="654.6" y1="1523.5" x2="654.6" y2="1527.5" stroke="#8a8a8a" stroke-width="1.2"/>
<text transform="translate(654.6 1546.0) scale(1.06 1)" x="0" y="0" font-size="20" text-anchor="middle" fill="#2e2e2e">0.8</text>
<line x1="760.0" y1="1523.5" x2="760.0" y2="1527.5" stroke="#8a8a8a" stroke-width="1.2"/>
<text transform="translate(760.0 1546.0) scale(1.06 1)" x="0" y="0" font-size="20" text-anchor="middle" fill="#2e2e2e">1.0</text>
<line x1="440.0" y1="1523.5" x2="444.0" y2="1523.5" stroke="#8a8a8a" stroke-width="1.2"/>
<text transform="translate(436.0 1530.8) scale(1.05 1)" x="0" y="0" font-size="20" text-anchor="end" fill="#2e2e2e">0</text>
<line x1="440.0" y1="1443.3" x2="444.0" y2="1443.3" stroke="#8a8a8a" stroke-width="1.2"/>
<text transform="translate(436.0 1450.6) scale(1.05 1)" x="0" y="0" font-size="20" text-anchor="end" fill="#2e2e2e">2</text>
<line x1="440.0" y1="1363.7" x2="444.0" y2="1363.7" stroke="#8a8a8a" stroke-width="1.2"/>
<text transform="translate(436.0 1371.0) scale(1.05 1)" x="0" y="0" font-size="20" text-anchor="end" fill="#2e2e2e">4</text>
<text transform="translate(601.2 1569.3) scale(1.04 1)" x="0" y="0" font-size="20" text-anchor="middle" fill="#2e2e2e">Solidity</text>
<text x="418.6" y="1435.0" font-size="20.5" text-anchor="middle" fill="#2e2e2e" textLength="98.0" lengthAdjust="spacingAndGlyphs" transform="rotate(-90 418.6 1435.0)">Probability</text>
<path d="M864.0,1525.5 866.2,1525.5 868.4,1525.5 870.6,1525.5 872.8,1525.5 875.0,1525.5 877.2,1525.5 879.4,1525.5 881.6,1525.5 883.8,1525.5 885.9,1525.5 888.1,1525.5 890.3,1525.5 892.5,1525.5 894.7,1525.5 896.9,1525.5 899.1,1525.5 901.3,1525.3 903.5,1524.9 905.7,1524.3 907.8,1523.4 910.0,1522.5 912.2,1521.4 914.4,1520.2 916.6,1518.6 918.8,1516.4 921.0,1513.7 923.2,1510.6 925.4,1507.4 927.6,1504.1 929.7,1500.4 931.9,1496.2 934.1,1491.7 936.3,1487.0 938.5,1482.2 940.7,1477.4 942.9,1472.3 945.1,1467.1 947.3,1461.7 949.5,1456.3 951.6,1451.0 953.8,1445.7 956.0,1440.3 958.2,1434.9 960.4,1429.5 962.6,1424.3 964.8,1419.3 967.0,1414.4 969.2,1409.5 971.4,1404.8 973.5,1400.5 975.7,1397.2 977.9,1394.3 980.1,1391.5 982.3,1389.2 984.5,1387.7 986.7,1387.3 988.9,1387.8 991.1,1388.7 993.3,1389.9 995.4,1391.3 997.6,1392.9 999.8,1395.2 1002.0,1398.0 1004.2,1401.2 1006.4,1404.4 1008.6,1407.8 1010.8,1411.5 1013.0,1415.4 1015.1,1419.5 1017.3,1423.6 1019.5,1427.8 1021.7,1432.2 1023.9,1436.7 1026.1,1441.1 1028.3,1445.5 1030.5,1450.0 1032.7,1454.5 1034.9,1458.9 1037.0,1463.1 1039.2,1467.2 1041.4,1471.3 1043.6,1475.2 1045.8,1478.9 1048.0,1482.2 1050.2,1485.3 1052.4,1488.1 1054.6,1490.8 1056.8,1493.3 1058.9,1495.7 1061.1,1498.1 1063.3,1500.4 1065.5,1502.5 1067.7,1504.5 1069.9,1506.3 1072.1,1508.0 1074.3,1509.6 1076.5,1511.1 1078.7,1512.6 1080.8,1513.8 1083.0,1514.9 1085.2,1515.9 1087.4,1516.8 1089.6,1517.7 1091.8,1518.4 1094.0,1519.1 1096.2,1519.7 1098.4,1520.2 1100.6,1520.7 1102.7,1521.1 1104.9,1521.5 1107.1,1521.9 1109.3,1522.3 1111.5,1522.7 1113.7,1523.0 1115.9,1523.4 1118.1,1523.7 1120.3,1524.0 1122.5,1524.2 1124.6,1524.5 1126.8,1524.7 1129.0,1524.8 1131.2,1524.9 1133.4,1525.0 1135.6,1525.0" fill="none" stroke="#a3a3a3" stroke-width="2.5" stroke-linejoin="round"/>
<path d="M864.0,1525.5 866.2,1525.5 868.4,1525.5 870.6,1525.5 872.8,1525.5 875.0,1525.5 877.2,1525.5 879.4,1525.5 881.6,1525.5 883.8,1525.5 885.9,1525.5 888.1,1525.5 890.3,1525.5 892.5,1525.5 894.7,1525.5 896.9,1525.5 899.1,1525.5 901.3,1525.4 903.5,1525.2 905.7,1524.8 907.8,1524.2 910.0,1523.4 912.2,1522.5 914.4,1521.5 916.6,1520.2 918.8,1518.4 921.0,1516.1 923.2,1513.4 925.4,1510.4 927.6,1507.3 929.7,1503.8 931.9,1499.8 934.1,1495.2 936.3,1490.2 938.5,1485.0 940.7,1479.8 942.9,1474.3 945.1,1468.6 947.3,1462.7 949.5,1456.8 951.6,1451.1 953.8,1445.6 956.0,1440.2 958.2,1434.9 960.4,1429.7 962.6,1424.5 964.8,1419.4 967.0,1414.2 969.2,1408.8 971.4,1403.4 973.5,1398.4 975.7,1393.8 977.9,1389.8 980.1,1385.8 982.3,1382.1 984.5,1379.0 986.7,1377.2 988.9,1376.3 991.1,1375.9 993.3,1376.0 995.4,1376.7 997.6,1378.0 999.8,1380.0 1002.0,1382.4 1004.2,1386.0 1006.4,1390.4 1008.6,1395.1 1010.8,1400.2 1013.0,1405.9 1015.1,1411.8 1017.3,1417.4 1019.5,1422.7 1021.7,1428.0 1023.9,1433.1 1026.1,1438.2 1028.3,1443.3 1030.5,1448.4 1032.7,1453.4 1034.9,1458.3 1037.0,1463.0 1039.2,1467.5 1041.4,1471.8 1043.6,1476.0 1045.8,1479.9 1048.0,1483.6 1050.2,1486.9 1052.4,1490.1 1054.6,1493.0 1056.8,1495.8 1058.9,1498.3 1061.1,1500.8 1063.3,1503.1 1065.5,1505.2 1067.7,1507.1 1069.9,1508.7 1072.1,1510.3 1074.3,1511.7 1076.5,1513.1 1078.7,1514.3 1080.8,1515.4 1083.0,1516.3 1085.2,1517.1 1087.4,1517.8 1089.6,1518.5 1091.8,1519.1 1094.0,1519.6 1096.2,1520.1 1098.4,1520.5 1100.6,1520.9 1102.7,1521.3 1104.9,1521.6 1107.1,1522.0 1109.3,1522.3 1111.5,1522.7 1113.7,1523.0 1115.9,1523.3 1118.1,1523.6 1120.3,1523.8 1122.5,1524.1 1124.6,1524.3 1126.8,1524.5 1129.0,1524.7 1131.2,1524.8 1133.4,1524.9 1135.6,1525.0" fill="none" stroke="#8fd3e2" stroke-width="2.5" stroke-linejoin="round"/>
<path d="M864.0,1525.5 866.2,1525.5 868.4,1525.5 870.6,1525.5 872.8,1525.5 875.0,1525.5 877.2,1525.5 879.4,1525.5 881.6,1525.5 883.8,1525.5 885.9,1525.5 888.1,1525.5 890.3,1525.5 892.5,1525.5 894.7,1525.5 896.9,1525.5 899.1,1525.5 901.3,1525.5 903.5,1525.5 905.7,1525.4 907.8,1525.0 910.0,1524.4 912.2,1523.6 914.4,1522.7 916.6,1521.7 918.8,1520.4 921.0,1518.5 923.2,1516.2 925.4,1513.5 927.6,1510.5 929.7,1507.3 931.9,1503.4 934.1,1498.6 936.3,1493.3 938.5,1487.8 940.7,1482.2 942.9,1476.3 945.1,1470.1 947.3,1463.6 949.5,1457.3 951.6,1451.2 953.8,1445.5 956.0,1440.2 958.2,1435.0 960.4,1429.9 962.6,1424.7 964.8,1419.5 967.0,1413.9 969.2,1408.1 971.4,1402.1 973.5,1396.2 975.7,1390.5 977.9,1385.2 980.1,1380.2 982.3,1375.0 984.5,1370.4 986.7,1367.0 988.9,1364.8 991.1,1363.1 993.3,1362.0 995.4,1362.0 997.6,1363.0 999.8,1364.7 1002.0,1366.8 1004.2,1370.7 1006.4,1376.3 1008.6,1382.5 1010.8,1389.0 1013.0,1396.5 1015.1,1404.2 1017.3,1411.2 1019.5,1417.6 1021.7,1423.7 1023.9,1429.6 1026.1,1435.3 1028.3,1441.1 1030.5,1446.8 1032.7,1452.4 1034.9,1457.8 1037.0,1463.0 1039.2,1467.8 1041.4,1472.4 1043.6,1476.8 1045.8,1481.0 1048.0,1484.9 1050.2,1488.5 1052.4,1492.0 1054.6,1495.3 1056.8,1498.3 1058.9,1501.0 1061.1,1503.5 1063.3,1505.8 1065.5,1507.9 1067.7,1509.7 1069.9,1511.2 1072.1,1512.6 1074.3,1513.8 1076.5,1515.0 1078.7,1516.0 1080.8,1516.9 1083.0,1517.6 1085.2,1518.2 1087.4,1518.8 1089.6,1519.3 1091.8,1519.7 1094.0,1520.1 1096.2,1520.5 1098.4,1520.8 1100.6,1521.1 1102.7,1521.5 1104.9,1521.8 1107.1,1522.1 1109.3,1522.4 1111.5,1522.6 1113.7,1522.9 1115.9,1523.2 1118.1,1523.4 1120.3,1523.7 1122.5,1523.9 1124.6,1524.1 1126.8,1524.4 1129.0,1524.5 1131.2,1524.7 1133.4,1524.9 1135.6,1525.0" fill="none" stroke="#4dbbe6" stroke-width="2.5" stroke-linejoin="round"/>
<path d="M864.0,1525.5 866.2,1525.5 868.4,1525.5 870.6,1525.5 872.8,1525.5 875.0,1525.5 877.2,1525.5 879.4,1525.5 881.6,1525.5 883.8,1525.5 885.9,1525.5 888.1,1525.5 890.3,1525.5 892.5,1525.5 894.7,1525.5 896.9,1525.5 899.1,1525.5 901.3,1525.3 903.5,1524.7 905.7,1523.9 907.8,1522.9 910.0,1521.8 912.2,1520.5 914.4,1519.0 916.6,1516.9 918.8,1514.4 921.0,1511.5 923.2,1508.4 925.4,1505.1 927.6,1501.5 929.7,1497.6 931.9,1493.2 934.1,1488.6 936.3,1483.7 938.5,1478.7 940.7,1473.3 942.9,1467.6 945.1,1461.7 947.3,1455.7 949.5,1449.7 951.6,1443.7 953.8,1437.7 956.0,1431.6 958.2,1425.4 960.4,1419.3 962.6,1413.2 964.8,1407.1 967.0,1400.6 969.2,1394.3 971.4,1388.7 973.5,1384.3 975.7,1380.7 977.9,1378.3 980.1,1377.3 982.3,1376.9 984.5,1377.2 986.7,1378.1 988.9,1380.1 991.1,1383.2 993.3,1386.7 995.4,1390.4 997.6,1394.1 999.8,1398.2 1002.0,1402.7 1004.2,1407.3 1006.4,1412.0 1008.6,1416.6 1010.8,1421.5 1013.0,1426.4 1015.1,1431.2 1017.3,1436.0 1019.5,1440.8 1021.7,1445.7 1023.9,1450.4 1026.1,1455.0 1028.3,1459.4 1030.5,1463.7 1032.7,1467.8 1034.9,1471.8 1037.0,1475.5 1039.2,1479.1 1041.4,1482.5 1043.6,1485.8 1045.8,1488.7 1048.0,1491.4 1050.2,1493.7 1052.4,1495.9 1054.6,1497.9 1056.8,1499.8 1058.9,1501.7 1061.1,1503.6 1063.3,1505.5 1065.5,1507.3 1067.7,1509.0 1069.9,1510.6 1072.1,1512.0 1074.3,1513.2 1076.5,1514.4 1078.7,1515.5 1080.8,1516.5 1083.0,1517.4 1085.2,1518.2 1087.4,1518.9 1089.6,1519.6 1091.8,1520.2 1094.0,1520.6 1096.2,1521.1 1098.4,1521.4 1100.6,1521.8 1102.7,1522.1 1104.9,1522.4 1107.1,1522.7 1109.3,1523.0 1111.5,1523.3 1113.7,1523.6 1115.9,1523.8 1118.1,1524.1 1120.3,1524.3 1122.5,1524.5 1124.6,1524.6 1126.8,1524.8 1129.0,1524.9 1131.2,1524.9 1133.4,1525.0 1135.6,1525.0" fill="none" stroke="#729ad9" stroke-width="2.5" stroke-linejoin="round"/>
<path d="M864.0,1525.5 866.2,1525.5 868.4,1525.5 870.6,1525.5 872.8,1525.5 875.0,1525.5 877.2,1525.5 879.4,1525.5 881.6,1525.5 883.8,1525.5 885.9,1525.5 888.1,1525.5 890.3,1525.5 892.5,1525.5 894.7,1525.5 896.9,1525.5 899.1,1525.5 901.3,1525.2 903.5,1524.6 905.7,1523.7 907.8,1522.6 910.0,1521.3 912.2,1520.0 914.4,1518.2 916.6,1515.8 918.8,1513.1 921.0,1510.0 923.2,1506.8 925.4,1503.5 927.6,1499.8 929.7,1495.7 931.9,1491.2 934.1,1486.5 936.3,1481.5 938.5,1476.3 940.7,1470.6 942.9,1464.5 945.1,1458.2 947.3,1451.7 949.5,1445.2 951.6,1438.8 953.8,1432.3 956.0,1425.8 958.2,1419.1 960.4,1412.5 962.6,1405.9 964.8,1398.9 967.0,1391.5 969.2,1384.2 971.4,1377.9 973.5,1373.4 975.7,1369.8 977.9,1367.6 980.1,1367.8 982.3,1368.7 984.5,1370.2 986.7,1371.9 988.9,1375.0 991.1,1379.5 993.3,1384.6 995.4,1389.9 997.6,1394.9 999.8,1400.2 1002.0,1405.8 1004.2,1411.4 1006.4,1417.0 1008.6,1422.5 1010.8,1428.1 1013.0,1433.6 1015.1,1439.1 1017.3,1444.3 1019.5,1449.5 1021.7,1454.6 1023.9,1459.6 1026.1,1464.3 1028.3,1468.6 1030.5,1472.7 1032.7,1476.7 1034.9,1480.4 1037.0,1483.8 1039.2,1487.0 1041.4,1490.0 1043.6,1492.8 1045.8,1495.3 1048.0,1497.5 1050.2,1499.4 1052.4,1501.1 1054.6,1502.6 1056.8,1504.1 1058.9,1505.6 1061.1,1507.3 1063.3,1508.9 1065.5,1510.5 1067.7,1512.0 1069.9,1513.4 1072.1,1514.6 1074.3,1515.6 1076.5,1516.5 1078.7,1517.4 1080.8,1518.2 1083.0,1519.0 1085.2,1519.7 1087.4,1520.3 1089.6,1520.9 1091.8,1521.3 1094.0,1521.7 1096.2,1522.0 1098.4,1522.3 1100.6,1522.5 1102.7,1522.8 1104.9,1523.1 1107.1,1523.3 1109.3,1523.5 1111.5,1523.8 1113.7,1524.0 1115.9,1524.1 1118.1,1524.3 1120.3,1524.5 1122.5,1524.6 1124.6,1524.7 1126.8,1524.8 1129.0,1524.9 1131.2,1525.0 1133.4,1525.0 1135.6,1525.0" fill="none" stroke="#4e72c6" stroke-width="2.5" stroke-linejoin="round"/>
<path d="M864.0,1525.5 866.2,1525.5 868.4,1525.5 870.6,1525.5 872.8,1525.5 875.0,1525.5 877.2,1525.5 879.4,1525.5 881.6,1525.5 883.8,1525.5 885.9,1525.5 888.1,1525.5 890.3,1525.5 892.5,1525.5 894.7,1525.5 896.9,1525.5 899.1,1525.5 901.3,1525.5 903.5,1525.5 905.7,1525.4 907.8,1525.0 910.0,1524.4 912.2,1523.6 914.4,1522.7 916.6,1521.7 918.8,1520.4 921.0,1518.5 923.2,1516.1 925.4,1513.3 927.6,1510.4 929.7,1507.3 931.9,1503.8 934.1,1499.9 936.3,1495.5 938.5,1490.8 940.7,1485.8 942.9,1480.7 945.1,1475.2 947.3,1469.1 949.5,1462.8 951.6,1456.3 953.8,1449.9 956.0,1443.7 958.2,1437.5 960.4,1431.3 962.6,1425.1 964.8,1419.0 967.0,1413.0 969.2,1407.0 971.4,1400.5 973.5,1394.0 975.7,1387.8 977.9,1382.2 980.1,1377.8 982.3,1374.6 984.5,1371.5 986.7,1368.7 988.9,1366.5 991.1,1365.2 993.3,1365.0 995.4,1366.2 997.6,1368.3 999.8,1370.9 1002.0,1374.7 1004.2,1380.6 1006.4,1387.4 1008.6,1393.8 1010.8,1400.0 1013.0,1406.3 1015.1,1412.6 1017.3,1418.8 1019.5,1425.0 1021.7,1431.1 1023.9,1437.1 1026.1,1443.0 1028.3,1448.8 1030.5,1454.5 1032.7,1460.1 1034.9,1465.6 1037.0,1470.7 1039.2,1475.6 1041.4,1480.6 1043.6,1484.8 1045.8,1487.7 1048.0,1490.1 1050.2,1492.2 1052.4,1493.8 1054.6,1494.6 1056.8,1494.7 1058.9,1494.7 1061.1,1494.7 1063.3,1494.7 1065.5,1494.7 1067.7,1495.2 1069.9,1496.8 1072.1,1498.7 1074.3,1500.5 1076.5,1502.7 1078.7,1505.0 1080.8,1507.4 1083.0,1509.5 1085.2,1511.4 1087.4,1513.4 1089.6,1515.2 1091.8,1516.7 1094.0,1517.8 1096.2,1518.6 1098.4,1519.4 1100.6,1520.1 1102.7,1520.7 1104.9,1521.2 1107.1,1521.7 1109.3,1522.1 1111.5,1522.5 1113.7,1522.8 1115.9,1523.1 1118.1,1523.4 1120.3,1523.7 1122.5,1524.0 1124.6,1524.3 1126.8,1524.5 1129.0,1524.7 1131.2,1524.8 1133.4,1524.9 1135.6,1525.0" fill="none" stroke="#e0464a" stroke-width="2.5" stroke-linejoin="round"/>
<path d="M864.0,1525.5 866.2,1525.5 868.4,1525.5 870.6,1525.5 872.8,1525.5 875.0,1525.5 877.2,1525.5 879.4,1525.5 881.6,1525.5 883.8,1525.5 885.9,1525.5 888.1,1525.5 890.3,1525.5 892.5,1525.5 894.7,1525.5 896.9,1525.3 899.1,1524.9 901.3,1524.4 903.5,1523.7 905.7,1523.0 907.8,1522.1 910.0,1521.2 912.2,1519.9 914.4,1518.1 916.6,1516.0 918.8,1513.7 921.0,1511.1 923.2,1508.4 925.4,1505.2 927.6,1501.5 929.7,1497.4 931.9,1493.0 934.1,1488.3 936.3,1483.1 938.5,1477.1 940.7,1470.6 942.9,1463.6 945.1,1456.4 947.3,1449.3 949.5,1442.2 951.6,1434.8 953.8,1427.3 956.0,1419.7 958.2,1412.1 960.4,1404.7 962.6,1397.2 964.8,1389.4 967.0,1381.9 969.2,1375.2 971.4,1369.8 973.5,1365.2 975.7,1361.1 977.9,1357.8 980.1,1354.9 982.3,1353.4 984.5,1354.7 986.7,1357.5 988.9,1361.8 991.1,1369.2 993.3,1377.3 995.4,1384.5 997.6,1391.7 999.8,1399.0 1002.0,1406.6 1004.2,1414.6 1006.4,1422.8 1008.6,1430.9 1010.8,1438.7 1013.0,1446.7 1015.1,1454.0 1017.3,1459.7 1019.5,1464.5 1021.7,1468.8 1023.9,1472.5 1026.1,1475.5 1028.3,1477.8 1030.5,1479.7 1032.7,1481.4 1034.9,1482.8 1037.0,1484.2 1039.2,1485.4 1041.4,1486.5 1043.6,1487.5 1045.8,1488.5 1048.0,1489.7 1050.2,1491.1 1052.4,1492.7 1054.6,1494.4 1056.8,1496.2 1058.9,1498.1 1061.1,1500.3 1063.3,1502.7 1065.5,1505.1 1067.7,1507.1 1069.9,1508.7 1072.1,1510.3 1074.3,1511.9 1076.5,1513.3 1078.7,1514.5 1080.8,1515.6 1083.0,1516.3 1085.2,1516.9 1087.4,1517.5 1089.6,1518.0 1091.8,1518.4 1094.0,1518.7 1096.2,1519.0 1098.4,1519.1 1100.6,1519.1 1102.7,1519.1 1104.9,1519.1 1107.1,1519.1 1109.3,1519.1 1111.5,1519.1 1113.7,1519.1 1115.9,1519.2 1118.1,1519.5 1120.3,1520.0 1122.5,1520.6 1124.6,1521.4 1126.8,1522.1 1129.0,1522.7 1131.2,1523.3 1133.4,1523.8 1135.6,1524.2" fill="none" stroke="#f0b123" stroke-width="2.5" stroke-linejoin="round"/>
<rect x="864.0" y="1345.2" width="271.6" height="180.3" fill="none" stroke="#8e8e8e" stroke-width="1.6"/>
<line x1="864.0" y1="1525.5" x2="1135.6" y2="1525.5" stroke="#3a3a3a" stroke-width="1.4"/>
<line x1="864.0" y1="1525.5" x2="864.0" y2="1529.5" stroke="#8a8a8a" stroke-width="1.2"/>
<text transform="translate(864.0 1548.0) scale(1.06 1)" x="0" y="0" font-size="20" text-anchor="middle" fill="#2e2e2e">0</text>
<line x1="954.5" y1="1525.5" x2="954.5" y2="1529.5" stroke="#8a8a8a" stroke-width="1.2"/>
<text transform="translate(954.5 1548.0) scale(1.06 1)" x="0" y="0" font-size="20" text-anchor="middle" fill="#2e2e2e">200</text>
<line x1="1045.2" y1="1525.5" x2="1045.2" y2="1529.5" stroke="#8a8a8a" stroke-width="1.2"/>
<text transform="translate(1045.2 1548.0) scale(1.06 1)" x="0" y="0" font-size="20" text-anchor="middle" fill="#2e2e2e">400</text>
<line x1="1135.6" y1="1525.5" x2="1135.6" y2="1529.5" stroke="#8a8a8a" stroke-width="1.2"/>
<text transform="translate(1135.6 1548.0) scale(1.06 1)" x="0" y="0" font-size="20" text-anchor="middle" fill="#2e2e2e">600</text>
<line x1="860.0" y1="1359.8" x2="864.0" y2="1359.8" stroke="#8a8a8a" stroke-width="1.2"/>
<text transform="translate(856.0 1367.1) scale(1.05 1)" x="0" y="0" font-size="20" text-anchor="end" fill="#2e2e2e">0.006</text>
<line x1="860.0" y1="1414.5" x2="864.0" y2="1414.5" stroke="#8a8a8a" stroke-width="1.2"/>
<text transform="translate(856.0 1421.8) scale(1.05 1)" x="0" y="0" font-size="20" text-anchor="end" fill="#2e2e2e">0.004</text>
<line x1="860.0" y1="1470.3" x2="864.0" y2="1470.3" stroke="#8a8a8a" stroke-width="1.2"/>
<text transform="translate(856.0 1477.6) scale(1.05 1)" x="0" y="0" font-size="20" text-anchor="end" fill="#2e2e2e">0.002</text>
<line x1="860.0" y1="1525.5" x2="864.0" y2="1525.5" stroke="#8a8a8a" stroke-width="1.2"/>
<text transform="translate(856.0 1532.8) scale(1.05 1)" x="0" y="0" font-size="20" text-anchor="end" fill="#2e2e2e">0.000</text>
<text transform="translate(1023.3 1571.3) scale(1.04 1)" x="0" y="0" font-size="20" text-anchor="middle" fill="#2e2e2e">Perim (μm)</text>
<text x="796.3" y="1437.5" font-size="20.5" text-anchor="middle" fill="#2e2e2e" textLength="98.0" lengthAdjust="spacingAndGlyphs" transform="rotate(-90 796.3 1437.5)">Probability</text>
<path d="M1204.3,1524.0 1206.5,1524.0 1208.7,1524.0 1210.9,1524.0 1213.0,1523.9 1215.2,1523.8 1217.4,1523.6 1219.6,1523.5 1221.8,1523.3 1224.0,1523.1 1226.2,1522.8 1228.4,1522.6 1230.6,1522.2 1232.8,1521.5 1235.0,1520.5 1237.2,1519.4 1239.4,1518.0 1241.6,1516.5 1243.8,1514.9 1246.0,1513.0 1248.1,1510.8 1250.3,1508.2 1252.5,1505.4 1254.7,1502.3 1256.9,1499.1 1259.1,1495.5 1261.3,1491.6 1263.5,1487.5 1265.7,1483.1 1267.9,1478.6 1270.1,1474.1 1272.3,1469.5 1274.5,1464.9 1276.7,1460.3 1278.9,1455.8 1281.1,1451.4 1283.2,1447.2 1285.4,1443.1 1287.6,1439.1 1289.8,1435.0 1292.0,1431.1 1294.2,1427.1 1296.4,1423.1 1298.6,1419.1 1300.8,1415.2 1303.0,1411.4 1305.2,1407.7 1307.4,1403.9 1309.6,1400.0 1311.8,1395.8 1314.0,1391.4 1316.2,1386.8 1318.3,1382.4 1320.5,1378.3 1322.7,1374.7 1324.9,1371.2 1327.1,1367.7 1329.3,1364.5 1331.5,1362.1 1333.7,1360.6 1335.9,1359.8 1338.1,1359.4 1340.3,1359.3 1342.5,1359.5 1344.7,1360.0 1346.9,1360.7 1349.1,1361.6 1351.3,1362.9 1353.4,1364.3 1355.6,1365.9 1357.8,1367.5 1360.0,1369.4 1362.2,1371.5 1364.4,1374.2 1366.6,1377.4 1368.8,1381.0 1371.0,1384.8 1373.2,1388.6 1375.4,1392.2 1377.6,1395.9 1379.8,1399.6 1382.0,1403.3 1384.2,1407.2 1386.4,1411.1 1388.5,1415.0 1390.7,1418.8 1392.9,1422.7 1395.1,1426.5 1397.3,1430.3 1399.5,1434.1 1401.7,1437.9 1403.9,1441.7 1406.1,1445.6 1408.3,1449.7 1410.5,1454.0 1412.7,1458.3 1414.9,1462.6 1417.1,1466.7 1419.3,1470.9 1421.5,1475.0 1423.6,1479.4 1425.8,1483.9 1428.0,1488.1 1430.2,1491.9 1432.4,1494.9 1434.6,1497.4 1436.8,1499.7 1439.0,1501.8 1441.2,1503.6 1443.4,1505.0 1445.6,1506.3 1447.8,1507.4 1450.0,1508.4 1452.2,1509.2 1454.4,1509.9 1456.6,1510.5 1458.8,1511.2 1460.9,1511.8 1463.1,1512.5 1465.3,1513.1 1467.5,1513.8 1469.7,1514.4 1471.9,1515.0 1474.1,1515.6 1476.3,1516.2 1478.5,1516.7 1480.7,1517.2 1482.9,1517.7 1485.1,1518.1 1487.3,1518.5 1489.5,1518.9 1491.7,1519.3 1493.9,1519.7 1496.0,1520.2 1498.2,1520.6 1500.4,1521.1 1502.6,1521.5 1504.8,1522.0 1507.0,1522.5 1509.2,1522.9 1511.4,1523.4 1513.6,1523.9" fill="none" stroke="#a3a3a3" stroke-width="2.5" stroke-linejoin="round"/>
<path d="M1204.3,1524.0 1206.5,1524.0 1208.7,1524.0 1210.9,1523.9 1213.0,1523.7 1215.2,1523.5 1217.4,1523.2 1219.6,1523.0 1221.8,1522.6 1224.0,1522.3 1226.2,1521.9 1228.4,1521.5 1230.6,1520.9 1232.8,1519.9 1235.0,1518.6 1237.2,1517.1 1239.4,1515.4 1241.6,1513.7 1243.8,1511.6 1246.0,1509.1 1248.1,1506.2 1250.3,1503.0 1252.5,1499.6 1254.7,1496.1 1256.9,1492.4 1259.1,1488.4 1261.3,1484.0 1263.5,1479.5 1265.7,1474.8 1267.9,1470.0 1270.1,1465.3 1272.3,1460.2 1274.5,1455.0 1276.7,1449.7 1278.9,1444.6 1281.1,1439.7 1283.2,1435.1 1285.4,1430.8 1287.6,1426.6 1289.8,1422.5 1292.0,1418.5 1294.2,1414.4 1296.4,1410.4 1298.6,1406.4 1300.8,1402.5 1303.0,1398.6 1305.2,1394.7 1307.4,1390.7 1309.6,1386.7 1311.8,1382.0 1314.0,1377.2 1316.2,1372.7 1318.3,1369.2 1320.5,1366.8 1322.7,1365.0 1324.9,1363.5 1327.1,1362.1 1329.3,1361.2 1331.5,1360.8 1333.7,1360.9 1335.9,1361.3 1338.1,1361.6 1340.3,1361.3 1342.5,1360.6 1344.7,1359.8 1346.9,1359.2 1349.1,1359.4 1351.3,1360.1 1353.4,1361.1 1355.6,1362.2 1357.8,1363.5 1360.0,1366.1 1362.2,1369.8 1364.4,1373.7 1366.6,1377.8 1368.8,1382.6 1371.0,1387.6 1373.2,1392.5 1375.4,1397.3 1377.6,1402.1 1379.8,1406.7 1382.0,1411.1 1384.2,1415.1 1386.4,1418.6 1388.5,1421.9 1390.7,1425.0 1392.9,1428.2 1395.1,1431.6 1397.3,1435.1 1399.5,1438.7 1401.7,1442.3 1403.9,1445.8 1406.1,1449.4 1408.3,1452.9 1410.5,1456.5 1412.7,1460.2 1414.9,1464.1 1417.1,1468.0 1419.3,1472.2 1421.5,1476.4 1423.6,1481.0 1425.8,1485.7 1428.0,1490.4 1430.2,1494.9 1432.4,1498.8 1434.6,1502.2 1436.8,1504.9 1439.0,1507.0 1441.2,1508.7 1443.4,1510.0 1445.6,1511.0 1447.8,1511.9 1450.0,1512.7 1452.2,1513.3 1454.4,1513.9 1456.6,1514.5 1458.8,1515.0 1460.9,1515.5 1463.1,1516.0 1465.3,1516.5 1467.5,1517.1 1469.7,1517.6 1471.9,1518.1 1474.1,1518.5 1476.3,1519.0 1478.5,1519.5 1480.7,1519.9 1482.9,1520.2 1485.1,1520.6 1487.3,1520.9 1489.5,1521.3 1491.7,1521.6 1493.9,1521.9 1496.0,1522.2 1498.2,1522.5 1500.4,1522.8 1502.6,1523.1 1504.8,1523.3 1507.0,1523.5 1509.2,1523.7 1511.4,1523.9 1513.6,1524.0" fill="none" stroke="#8fd3e2" stroke-width="2.5" stroke-linejoin="round"/>
<path d="M1204.3,1524.0 1206.5,1524.0 1208.7,1523.9 1210.9,1523.8 1213.0,1523.6 1215.2,1523.3 1217.4,1523.0 1219.6,1522.6 1221.8,1522.2 1224.0,1521.8 1226.2,1521.3 1228.4,1520.9 1230.6,1520.2 1232.8,1519.2 1235.0,1517.9 1237.2,1516.4 1239.4,1514.8 1241.6,1513.0 1243.8,1510.9 1246.0,1508.3 1248.1,1505.3 1250.3,1501.9 1252.5,1498.4 1254.7,1494.8 1256.9,1491.0 1259.1,1487.0 1261.3,1482.7 1263.5,1478.2 1265.7,1473.5 1267.9,1468.7 1270.1,1463.8 1272.3,1458.6 1274.5,1453.2 1276.7,1447.7 1278.9,1442.3 1281.1,1437.1 1283.2,1432.3 1285.4,1427.8 1287.6,1423.4 1289.8,1419.1 1292.0,1414.9 1294.2,1410.6 1296.4,1406.2 1298.6,1401.9 1300.8,1397.5 1303.0,1393.2 1305.2,1388.8 1307.4,1384.3 1309.6,1379.7 1311.8,1374.2 1314.0,1368.5 1316.2,1363.4 1318.3,1359.8 1320.5,1358.2 1322.7,1357.2 1324.9,1356.5 1327.1,1356.2 1329.3,1356.5 1331.5,1357.4 1333.7,1358.7 1335.9,1359.7 1338.1,1360.2 1340.3,1359.5 1342.5,1357.8 1344.7,1355.8 1346.9,1354.1 1349.1,1353.5 1351.3,1353.6 1353.4,1353.9 1355.6,1354.4 1357.8,1355.4 1360.0,1358.8 1362.2,1363.9 1364.4,1369.6 1366.6,1375.3 1368.8,1382.0 1371.0,1389.1 1373.2,1395.5 1375.4,1401.7 1377.6,1407.7 1379.8,1413.5 1382.0,1418.5 1384.2,1422.5 1386.4,1425.6 1388.5,1428.3 1390.7,1430.7 1392.9,1433.3 1395.1,1436.1 1397.3,1439.3 1399.5,1442.6 1401.7,1446.0 1403.9,1449.4 1406.1,1452.7 1408.3,1455.9 1410.5,1459.1 1412.7,1462.4 1414.9,1465.7 1417.1,1469.3 1419.3,1473.1 1421.5,1476.9 1423.6,1480.9 1425.8,1484.8 1428.0,1488.8 1430.2,1493.2 1432.4,1497.5 1434.6,1501.4 1436.8,1504.3 1439.0,1506.3 1441.2,1508.0 1443.4,1509.4 1445.6,1510.7 1447.8,1511.7 1450.0,1512.6 1452.2,1513.3 1454.4,1514.0 1456.6,1514.6 1458.8,1515.1 1460.9,1515.6 1463.1,1516.1 1465.3,1516.5 1467.5,1516.9 1469.7,1517.3 1471.9,1517.7 1474.1,1518.1 1476.3,1518.5 1478.5,1518.9 1480.7,1519.2 1482.9,1519.6 1485.1,1520.0 1487.3,1520.4 1489.5,1520.7 1491.7,1521.1 1493.9,1521.4 1496.0,1521.8 1498.2,1522.1 1500.4,1522.4 1502.6,1522.7 1504.8,1523.0 1507.0,1523.3 1509.2,1523.6 1511.4,1523.8 1513.6,1524.0" fill="none" stroke="#4dbbe6" stroke-width="2.5" stroke-linejoin="round"/>
<path d="M1204.3,1524.0 1206.5,1524.0 1208.7,1524.0 1210.9,1524.0 1213.0,1523.9 1215.2,1523.8 1217.4,1523.6 1219.6,1523.5 1221.8,1523.3 1224.0,1523.1 1226.2,1522.9 1228.4,1522.7 1230.6,1522.3 1232.8,1521.7 1235.0,1520.8 1237.2,1519.7 1239.4,1518.5 1241.6,1517.1 1243.8,1515.5 1246.0,1513.7 1248.1,1511.7 1250.3,1509.3 1252.5,1506.5 1254.7,1503.6 1256.9,1500.4 1259.1,1496.9 1261.3,1493.2 1263.5,1489.1 1265.7,1484.8 1267.9,1480.4 1270.1,1476.0 1272.3,1471.4 1274.5,1466.9 1276.7,1462.4 1278.9,1458.0 1281.1,1453.7 1283.2,1449.5 1285.4,1445.4 1287.6,1441.4 1289.8,1437.3 1292.0,1433.3 1294.2,1429.2 1296.4,1425.2 1298.6,1421.2 1300.8,1417.2 1303.0,1413.3 1305.2,1409.5 1307.4,1405.6 1309.6,1401.6 1311.8,1397.3 1314.0,1392.8 1316.2,1388.0 1318.3,1383.3 1320.5,1379.0 1322.7,1375.2 1324.9,1371.4 1327.1,1367.6 1329.3,1364.2 1331.5,1361.5 1333.7,1360.0 1335.9,1359.1 1338.1,1358.5 1340.3,1358.3 1342.5,1358.6 1344.7,1359.0 1346.9,1359.7 1349.1,1360.7 1351.3,1362.0 1353.4,1363.3 1355.6,1364.9 1357.8,1366.5 1360.0,1368.4 1362.2,1370.5 1364.4,1373.3 1366.6,1376.7 1368.8,1380.5 1371.0,1384.5 1373.2,1388.4 1375.4,1392.1 1377.6,1395.8 1379.8,1399.5 1382.0,1403.2 1384.2,1407.1 1386.4,1411.0 1388.5,1414.8 1390.7,1418.7 1392.9,1422.5 1395.1,1426.4 1397.3,1430.2 1399.5,1434.0 1401.7,1437.8 1403.9,1441.6 1406.1,1445.5 1408.3,1449.7 1410.5,1454.0 1412.7,1458.4 1414.9,1462.6 1417.1,1466.7 1419.3,1470.8 1421.5,1474.8 1423.6,1479.0 1425.8,1483.2 1428.0,1487.2 1430.2,1490.7 1432.4,1493.5 1434.6,1496.0 1436.8,1498.3 1439.0,1500.3 1441.2,1502.1 1443.4,1503.7 1445.6,1505.0 1447.8,1506.2 1450.0,1507.3 1452.2,1508.1 1454.4,1508.9 1456.6,1509.6 1458.8,1510.2 1460.9,1510.9 1463.1,1511.6 1465.3,1512.2 1467.5,1512.9 1469.7,1513.6 1471.9,1514.2 1474.1,1514.8 1476.3,1515.4 1478.5,1515.9 1480.7,1516.4 1482.9,1516.9 1485.1,1517.3 1487.3,1517.7 1489.5,1518.1 1491.7,1518.6 1493.9,1519.0 1496.0,1519.5 1498.2,1520.0 1500.4,1520.5 1502.6,1521.1 1504.8,1521.6 1507.0,1522.2 1509.2,1522.7 1511.4,1523.3 1513.6,1523.8" fill="none" stroke="#729ad9" stroke-width="2.5" stroke-linejoin="round"/>
<path d="M1204.3,1524.0 1206.5,1524.0 1208.7,1524.0 1210.9,1524.0 1213.0,1524.0 1215.2,1523.9 1217.4,1523.8 1219.6,1523.7 1221.8,1523.6 1224.0,1523.5 1226.2,1523.3 1228.4,1523.2 1230.6,1523.0 1232.8,1522.8 1235.0,1522.3 1237.2,1521.6 1239.4,1520.8 1241.6,1519.8 1243.8,1518.7 1246.0,1517.5 1248.1,1516.2 1250.3,1514.4 1252.5,1512.2 1254.7,1509.7 1256.9,1506.9 1259.1,1504.0 1261.3,1501.0 1263.5,1497.5 1265.7,1493.6 1267.9,1489.5 1270.1,1485.2 1272.3,1481.0 1274.5,1477.0 1276.7,1473.0 1278.9,1469.1 1281.1,1465.1 1283.2,1461.1 1285.4,1457.1 1287.6,1453.0 1289.8,1448.8 1292.0,1444.6 1294.2,1440.2 1296.4,1435.8 1298.6,1431.3 1300.8,1426.9 1303.0,1422.6 1305.2,1418.4 1307.4,1414.1 1309.6,1409.6 1311.8,1404.9 1314.0,1399.6 1316.2,1393.9 1318.3,1388.1 1320.5,1382.6 1322.7,1377.5 1324.9,1372.3 1327.1,1367.0 1329.3,1362.4 1331.5,1358.8 1333.7,1356.8 1335.9,1355.3 1338.1,1354.1 1340.3,1353.5 1342.5,1353.6 1344.7,1354.2 1346.9,1355.1 1349.1,1356.2 1351.3,1357.3 1353.4,1358.5 1355.6,1359.8 1357.8,1361.4 1360.0,1363.3 1362.2,1365.5 1364.4,1368.6 1366.6,1372.9 1368.8,1377.9 1371.0,1382.9 1373.2,1387.3 1375.4,1391.3 1377.6,1395.2 1379.8,1398.9 1382.0,1402.7 1384.2,1406.5 1386.4,1410.3 1388.5,1414.2 1390.7,1418.0 1392.9,1421.9 1395.1,1425.7 1397.3,1429.5 1399.5,1433.2 1401.7,1437.0 1403.9,1440.9 1406.1,1445.0 1408.3,1449.5 1410.5,1454.1 1412.7,1458.7 1414.9,1462.9 1417.1,1466.7 1419.3,1470.3 1421.5,1473.7 1423.6,1476.9 1425.8,1479.8 1428.0,1482.4 1430.2,1484.8 1432.4,1487.0 1434.6,1489.0 1436.8,1491.0 1439.0,1493.0 1441.2,1494.9 1443.4,1496.9 1445.6,1498.7 1447.8,1500.3 1450.0,1501.7 1452.2,1502.9 1454.4,1503.9 1456.6,1504.8 1458.8,1505.6 1460.9,1506.4 1463.1,1507.2 1465.3,1507.9 1467.5,1508.6 1469.7,1509.3 1471.9,1509.9 1474.1,1510.6 1476.3,1511.2 1478.5,1511.8 1480.7,1512.3 1482.9,1512.8 1485.1,1513.3 1487.3,1513.8 1489.5,1514.4 1491.7,1515.0 1493.9,1515.6 1496.0,1516.3 1498.2,1517.1 1500.4,1517.9 1502.6,1518.7 1504.8,1519.6 1507.0,1520.5 1509.2,1521.5 1511.4,1522.5 1513.6,1523.5" fill="none" stroke="#4e72c6" stroke-width="2.5" stroke-linejoin="round"/>
<path d="M1204.3,1524.0 1206.5,1524.0 1208.7,1524.0 1210.9,1523.9 1213.0,1523.8 1215.2,1523.7 1217.4,1523.5 1219.6,1523.3 1221.8,1523.0 1224.0,1522.8 1226.2,1522.5 1228.4,1522.2 1230.6,1521.7 1232.8,1520.9 1235.0,1519.9 1237.2,1518.6 1239.4,1517.2 1241.6,1515.6 1243.8,1513.7 1246.0,1511.2 1248.1,1508.1 1250.3,1504.7 1252.5,1501.1 1254.7,1497.5 1256.9,1493.7 1259.1,1489.7 1261.3,1485.4 1263.5,1480.8 1265.7,1476.2 1267.9,1471.4 1270.1,1466.5 1272.3,1461.4 1274.5,1456.2 1276.7,1450.8 1278.9,1445.3 1281.1,1440.0 1283.2,1434.7 1285.4,1429.5 1287.6,1424.4 1289.8,1419.2 1292.0,1413.9 1294.2,1408.5 1296.4,1402.8 1298.6,1396.1 1300.8,1389.2 1303.0,1382.8 1305.2,1377.7 1307.4,1374.2 1309.6,1371.1 1311.8,1368.7 1314.0,1367.7 1316.2,1367.7 1318.3,1367.8 1320.5,1367.9 1322.7,1368.0 1324.9,1368.2 1327.1,1369.5 1329.3,1371.9 1331.5,1374.2 1333.7,1375.2 1335.9,1375.7 1338.1,1376.2 1340.3,1376.6 1342.5,1376.8 1344.7,1376.8 1346.9,1376.7 1349.1,1376.5 1351.3,1376.3 1353.4,1376.2 1355.6,1376.4 1357.8,1377.5 1360.0,1379.2 1362.2,1381.4 1364.4,1383.7 1366.6,1386.3 1368.8,1389.9 1371.0,1394.0 1373.2,1398.4 1375.4,1402.5 1377.6,1406.4 1379.8,1410.2 1382.0,1414.0 1384.2,1417.9 1386.4,1421.7 1388.5,1425.6 1390.7,1429.4 1392.9,1433.2 1395.1,1437.1 1397.3,1440.9 1399.5,1444.7 1401.7,1448.5 1403.9,1452.2 1406.1,1456.1 1408.3,1460.2 1410.5,1464.4 1412.7,1468.7 1414.9,1473.1 1417.1,1477.6 1419.3,1482.3 1421.5,1487.6 1423.6,1493.1 1425.8,1498.4 1428.0,1502.9 1430.2,1506.2 1432.4,1509.0 1434.6,1511.5 1436.8,1513.5 1439.0,1515.0 1441.2,1516.0 1443.4,1516.8 1445.6,1517.4 1447.8,1518.0 1450.0,1518.4 1452.2,1518.9 1454.4,1519.2 1456.6,1519.6 1458.8,1520.0 1460.9,1520.3 1463.1,1520.6 1465.3,1520.9 1467.5,1521.2 1469.7,1521.5 1471.9,1521.7 1474.1,1521.9 1476.3,1522.1 1478.5,1522.3 1480.7,1522.4 1482.9,1522.6 1485.1,1522.8 1487.3,1522.9 1489.5,1523.1 1491.7,1523.2 1493.9,1523.4 1496.0,1523.5 1498.2,1523.6 1500.4,1523.7 1502.6,1523.8 1504.8,1523.9 1507.0,1524.0 1509.2,1524.0 1511.4,1524.0 1513.6,1524.0" fill="none" stroke="#e0464a" stroke-width="2.5" stroke-linejoin="round"/>
<path d="M1204.3,1524.0 1206.5,1524.0 1208.7,1524.0 1210.9,1523.9 1213.0,1523.8 1215.2,1523.7 1217.4,1523.5 1219.6,1523.3 1221.8,1523.1 1224.0,1522.8 1226.2,1522.5 1228.4,1522.2 1230.6,1521.6 1232.8,1520.7 1235.0,1519.4 1237.2,1517.8 1239.4,1516.1 1241.6,1514.3 1243.8,1512.3 1246.0,1509.9 1248.1,1507.1 1250.3,1504.1 1252.5,1500.8 1254.7,1497.4 1256.9,1493.8 1259.1,1489.7 1261.3,1485.4 1263.5,1480.7 1265.7,1476.0 1267.9,1471.4 1270.1,1466.7 1272.3,1461.8 1274.5,1456.8 1276.7,1451.8 1278.9,1446.9 1281.1,1442.3 1283.2,1438.0 1285.4,1433.8 1287.6,1429.8 1289.8,1425.9 1292.0,1422.1 1294.2,1418.3 1296.4,1414.6 1298.6,1411.0 1300.8,1407.5 1303.0,1404.0 1305.2,1400.6 1307.4,1397.1 1309.6,1393.6 1311.8,1389.8 1314.0,1385.9 1316.2,1382.1 1318.3,1378.5 1320.5,1375.4 1322.7,1372.9 1324.9,1370.5 1327.1,1368.1 1329.3,1366.0 1331.5,1364.2 1333.7,1363.2 1335.9,1362.9 1338.1,1362.9 1340.3,1363.2 1342.5,1363.5 1344.7,1363.9 1346.9,1364.4 1349.1,1365.2 1351.3,1366.6 1353.4,1368.2 1355.6,1369.9 1357.8,1371.6 1360.0,1373.5 1362.2,1375.6 1364.4,1377.9 1366.6,1380.4 1368.8,1383.1 1371.0,1386.1 1373.2,1389.4 1375.4,1392.9 1377.6,1396.4 1379.8,1400.0 1382.0,1403.8 1384.2,1407.7 1386.4,1411.6 1388.5,1415.5 1390.7,1419.4 1392.9,1423.2 1395.1,1427.0 1397.3,1430.9 1399.5,1434.7 1401.7,1438.5 1403.9,1442.3 1406.1,1446.0 1408.3,1449.9 1410.5,1453.9 1412.7,1458.1 1414.9,1462.4 1417.1,1466.8 1419.3,1471.3 1421.5,1475.9 1423.6,1481.0 1425.8,1486.6 1428.0,1492.0 1430.2,1496.7 1432.4,1500.1 1434.6,1503.0 1436.8,1505.5 1439.0,1507.7 1441.2,1509.4 1443.4,1510.5 1445.6,1511.4 1447.8,1512.1 1450.0,1512.8 1452.2,1513.3 1454.4,1513.8 1456.6,1514.3 1458.8,1514.8 1460.9,1515.4 1463.1,1516.0 1465.3,1516.6 1467.5,1517.2 1469.7,1517.8 1471.9,1518.4 1474.1,1519.0 1476.3,1519.6 1478.5,1520.1 1480.7,1520.5 1482.9,1520.9 1485.1,1521.2 1487.3,1521.5 1489.5,1521.8 1491.7,1522.1 1493.9,1522.4 1496.0,1522.7 1498.2,1523.0 1500.4,1523.2 1502.6,1523.4 1504.8,1523.6 1507.0,1523.8 1509.2,1523.9 1511.4,1524.0 1513.6,1524.0" fill="none" stroke="#f0b123" stroke-width="2.5" stroke-linejoin="round"/>
<rect x="1204.3" y="1343.6" width="309.3" height="180.4" fill="none" stroke="#8e8e8e" stroke-width="1.6"/>
<line x1="1204.3" y1="1524.0" x2="1204.3" y2="1528.0" stroke="#8a8a8a" stroke-width="1.2"/>
<text transform="translate(1204.3 1546.5) scale(1.06 1)" x="0" y="0" font-size="20" text-anchor="middle" fill="#2e2e2e">0.00</text>
<line x1="1281.4" y1="1524.0" x2="1281.4" y2="1528.0" stroke="#8a8a8a" stroke-width="1.2"/>
<text transform="translate(1281.4 1546.5) scale(1.06 1)" x="0" y="0" font-size="20" text-anchor="middle" fill="#2e2e2e">0.25</text>
<line x1="1359.0" y1="1524.0" x2="1359.0" y2="1528.0" stroke="#8a8a8a" stroke-width="1.2"/>
<text transform="translate(1359.0 1546.5) scale(1.06 1)" x="0" y="0" font-size="20" text-anchor="middle" fill="#2e2e2e">0.50</text>
<line x1="1436.5" y1="1524.0" x2="1436.5" y2="1528.0" stroke="#8a8a8a" stroke-width="1.2"/>
<text transform="translate(1436.5 1546.5) scale(1.06 1)" x="0" y="0" font-size="20" text-anchor="middle" fill="#2e2e2e">0.75</text>
<line x1="1513.6" y1="1524.0" x2="1513.6" y2="1528.0" stroke="#8a8a8a" stroke-width="1.2"/>
<text transform="translate(1513.6 1546.5) scale(1.06 1)" x="0" y="0" font-size="20" text-anchor="middle" fill="#2e2e2e">1.00</text>
<line x1="1200.3" y1="1524.0" x2="1204.3" y2="1524.0" stroke="#8a8a8a" stroke-width="1.2"/>
<text transform="translate(1196.3 1531.3) scale(1.05 1)" x="0" y="0" font-size="20" text-anchor="end" fill="#2e2e2e">0</text>
<line x1="1200.3" y1="1459.3" x2="1204.3" y2="1459.3" stroke="#8a8a8a" stroke-width="1.2"/>
<text transform="translate(1196.3 1466.6) scale(1.05 1)" x="0" y="0" font-size="20" text-anchor="end" fill="#2e2e2e">1</text>
<line x1="1200.3" y1="1394.4" x2="1204.3" y2="1394.4" stroke="#8a8a8a" stroke-width="1.2"/>
<text transform="translate(1196.3 1401.7) scale(1.05 1)" x="0" y="0" font-size="20" text-anchor="end" fill="#2e2e2e">2</text>
<text transform="translate(1358.3 1569.8) scale(1.04 1)" x="0" y="0" font-size="20" text-anchor="middle" fill="#2e2e2e">Circ</text>
<text x="1177.6" y="1436.0" font-size="20.5" text-anchor="middle" fill="#2e2e2e" textLength="98.0" lengthAdjust="spacingAndGlyphs" transform="rotate(-90 1177.6 1436.0)">Probability</text>
<path d="M122.8,1781.2 125.0,1781.2 127.2,1781.2 129.4,1781.1 131.6,1781.1 133.7,1781.1 135.9,1781.0 138.1,1781.0 140.3,1780.9 142.5,1780.8 144.7,1780.7 146.9,1780.6 149.1,1779.9 151.3,1778.5 153.4,1776.5 155.6,1774.2 157.8,1771.4 160.0,1767.1 162.2,1761.5 164.4,1755.2 166.6,1748.5 168.8,1741.5 171.0,1733.6 173.1,1725.1 175.3,1716.4 177.5,1707.7 179.7,1698.6 181.9,1689.3 184.1,1680.8 186.3,1673.9 188.5,1667.5 190.7,1661.7 192.8,1656.6 195.0,1652.6 197.2,1649.3 199.4,1646.5 201.6,1644.0 203.8,1642.0 206.0,1640.3 208.2,1638.8 210.4,1637.3 212.5,1636.0 214.7,1635.0 216.9,1634.4 219.1,1634.3 221.3,1635.0 223.5,1636.2 225.7,1637.8 227.9,1639.8 230.1,1642.8 232.2,1646.6 234.4,1650.9 236.6,1655.3 238.8,1660.6 241.0,1666.9 243.2,1673.4 245.4,1679.8 247.6,1685.3 249.8,1690.6 251.9,1695.6 254.1,1700.5 256.3,1705.0 258.5,1709.3 260.7,1713.5 262.9,1717.5 265.1,1721.2 267.3,1724.2 269.5,1726.8 271.6,1729.0 273.8,1731.0 276.0,1733.0 278.2,1735.2 280.4,1737.4 282.6,1739.5 284.8,1741.7 287.0,1743.9 289.2,1746.1 291.3,1748.5 293.5,1750.9 295.7,1753.2 297.9,1755.3 300.1,1757.2 302.3,1758.8 304.5,1760.2 306.7,1761.6 308.9,1762.9 311.0,1764.1 313.2,1765.3 315.4,1766.3 317.6,1767.4 319.8,1768.4 322.0,1769.4 324.2,1770.4 326.4,1771.4 328.5,1772.3 330.7,1773.1 332.9,1773.9 335.1,1774.6 337.3,1775.2 339.5,1775.6 341.7,1776.0 343.9,1776.3 346.1,1776.7 348.2,1777.0 350.4,1777.4 352.6,1777.7 354.8,1778.0 357.0,1778.3 359.2,1778.6 361.4,1778.9 363.6,1779.1 365.8,1779.4 367.9,1779.6 370.1,1779.8 372.3,1780.0 374.5,1780.2 376.7,1780.4 378.9,1780.6 381.1,1780.7 383.3,1780.8 385.5,1780.9 387.6,1781.0 389.8,1781.1 392.0,1781.1 394.2,1781.2 396.4,1781.2" fill="none" stroke="#a3a3a3" stroke-width="2.5" stroke-linejoin="round"/>
<path d="M122.8,1781.2 125.0,1781.2 127.2,1781.2 129.4,1781.1 131.6,1781.1 133.7,1781.1 135.9,1781.0 138.1,1781.0 140.3,1780.9 142.5,1780.8 144.7,1780.7 146.9,1780.4 149.1,1779.6 151.3,1778.2 153.4,1776.4 155.6,1774.0 157.8,1770.7 160.0,1765.7 162.2,1759.3 164.4,1752.1 166.6,1743.9 168.8,1734.3 171.0,1723.6 173.1,1712.7 175.3,1701.3 177.5,1689.5 179.7,1677.0 181.9,1663.5 184.1,1650.2 186.3,1637.9 188.5,1625.9 190.7,1620.9 192.8,1621.5 195.0,1623.5 197.2,1625.9 199.4,1628.2 201.6,1630.9 203.8,1633.9 206.0,1636.9 208.2,1639.9 210.4,1642.9 212.5,1646.0 214.7,1649.0 216.9,1652.2 219.1,1655.6 221.3,1659.0 223.5,1662.4 225.7,1665.9 227.9,1669.4 230.1,1673.2 232.2,1677.7 234.4,1682.8 236.6,1688.2 238.8,1693.5 241.0,1698.5 243.2,1703.2 245.4,1707.6 247.6,1711.7 249.8,1715.6 251.9,1719.2 254.1,1722.6 256.3,1725.7 258.5,1728.7 260.7,1731.5 262.9,1734.1 265.1,1736.6 267.3,1739.1 269.5,1741.8 271.6,1745.0 273.8,1748.8 276.0,1752.5 278.2,1755.4 280.4,1757.9 282.6,1760.1 284.8,1761.9 287.0,1763.3 289.2,1764.6 291.3,1765.8 293.5,1766.8 295.7,1767.7 297.9,1768.3 300.1,1769.0 302.3,1769.5 304.5,1770.1 306.7,1770.5 308.9,1771.0 311.0,1771.4 313.2,1771.9 315.4,1772.4 317.6,1772.9 319.8,1773.4 322.0,1773.9 324.2,1774.4 326.4,1774.9 328.5,1775.4 330.7,1775.8 332.9,1776.1 335.1,1776.4 337.3,1776.7 339.5,1776.9 341.7,1777.2 343.9,1777.5 346.1,1777.7 348.2,1778.0 350.4,1778.2 352.6,1778.5 354.8,1778.7 357.0,1778.9 359.2,1779.2 361.4,1779.4 363.6,1779.6 365.8,1779.8 367.9,1779.9 370.1,1780.1 372.3,1780.3 374.5,1780.4 376.7,1780.6 378.9,1780.7 381.1,1780.8 383.3,1780.9 385.5,1781.0 387.6,1781.0 389.8,1781.1 392.0,1781.1 394.2,1781.2 396.4,1781.2" fill="none" stroke="#8fd3e2" stroke-width="2.5" stroke-linejoin="round"/>
<path d="M122.8,1781.2 125.0,1781.2 127.2,1781.2 129.4,1781.1 131.6,1781.1 133.7,1781.1 135.9,1781.0 138.1,1781.0 140.3,1780.9 142.5,1780.8 144.7,1780.7 146.9,1780.6 149.1,1779.9 151.3,1778.5 153.4,1776.6 155.6,1774.2 157.8,1771.4 160.0,1766.8 162.2,1760.6 164.4,1753.6 166.6,1746.1 168.8,1738.2 171.0,1729.1 173.1,1719.1 175.3,1708.3 177.5,1697.1 179.7,1684.5 181.9,1670.8 184.1,1657.3 186.3,1643.8 188.5,1629.8 190.7,1625.3 192.8,1626.5 195.0,1628.7 197.2,1631.1 199.4,1633.1 201.6,1635.3 203.8,1637.5 206.0,1639.8 208.2,1642.0 210.4,1644.1 212.5,1646.2 214.7,1648.3 216.9,1650.5 219.1,1653.1 221.3,1655.9 223.5,1659.0 225.7,1662.4 227.9,1666.2 230.1,1670.5 232.2,1675.9 234.4,1681.8 236.6,1687.7 238.8,1693.1 241.0,1697.9 243.2,1702.5 245.4,1706.9 247.6,1711.0 249.8,1714.8 251.9,1718.4 254.1,1721.7 256.3,1724.9 258.5,1728.0 260.7,1730.9 262.9,1733.5 265.1,1736.0 267.3,1738.6 269.5,1741.7 271.6,1745.7 273.8,1750.6 276.0,1755.2 278.2,1758.5 280.4,1761.3 282.6,1763.6 284.8,1765.1 287.0,1765.8 289.2,1766.3 291.3,1766.8 293.5,1767.1 295.7,1767.4 297.9,1767.8 300.1,1768.2 302.3,1768.5 304.5,1768.9 306.7,1769.2 308.9,1769.6 311.0,1769.9 313.2,1770.3 315.4,1770.8 317.6,1771.4 319.8,1772.0 322.0,1772.6 324.2,1773.2 326.4,1773.8 328.5,1774.4 330.7,1774.9 332.9,1775.4 335.1,1775.7 337.3,1776.0 339.5,1776.3 341.7,1776.6 343.9,1776.9 346.1,1777.2 348.2,1777.5 350.4,1777.8 352.6,1778.1 354.8,1778.3 357.0,1778.6 359.2,1778.8 361.4,1779.1 363.6,1779.3 365.8,1779.5 367.9,1779.7 370.1,1779.9 372.3,1780.1 374.5,1780.3 376.7,1780.5 378.9,1780.6 381.1,1780.7 383.3,1780.8 385.5,1780.9 387.6,1781.0 389.8,1781.1 392.0,1781.1 394.2,1781.2 396.4,1781.2" fill="none" stroke="#4dbbe6" stroke-width="2.5" stroke-linejoin="round"/>
<path d="M122.8,1781.2 125.0,1781.2 127.2,1781.2 129.4,1781.1 131.6,1781.1 133.7,1781.1 135.9,1781.0 138.1,1780.9 140.3,1780.9 142.5,1780.8 144.7,1780.7 146.9,1780.3 149.1,1779.5 151.3,1778.1 153.4,1776.3 155.6,1774.0 157.8,1770.4 160.0,1765.2 162.2,1758.8 164.4,1751.8 166.6,1744.1 168.8,1735.4 171.0,1725.7 173.1,1715.3 175.3,1704.3 177.5,1692.5 179.7,1679.7 181.9,1666.7 184.1,1654.2 186.3,1641.8 188.5,1629.8 190.7,1623.8 192.8,1621.3 195.0,1620.6 197.2,1621.4 199.4,1622.2 201.6,1623.2 203.8,1624.9 206.0,1627.6 208.2,1630.5 210.4,1633.4 212.5,1636.7 214.7,1640.1 216.9,1643.6 219.1,1647.4 221.3,1651.5 223.5,1655.6 225.7,1659.8 227.9,1664.2 230.1,1668.9 232.2,1674.4 234.4,1680.3 236.6,1686.2 238.8,1691.8 241.0,1696.9 243.2,1701.9 245.4,1706.6 247.6,1710.7 249.8,1714.4 251.9,1717.8 254.1,1721.0 256.3,1724.1 258.5,1727.1 260.7,1730.0 262.9,1732.6 265.1,1735.2 267.3,1737.9 269.5,1740.8 271.6,1744.2 273.8,1748.0 276.0,1751.7 278.2,1754.6 280.4,1757.3 282.6,1759.7 284.8,1761.5 287.0,1762.7 289.2,1763.6 291.3,1764.2 293.5,1764.8 295.7,1765.3 297.9,1765.8 300.1,1766.2 302.3,1766.8 304.5,1767.3 306.7,1767.8 308.9,1768.4 311.0,1768.9 313.2,1769.5 315.4,1770.1 317.6,1770.7 319.8,1771.4 322.0,1772.1 324.2,1772.8 326.4,1773.5 328.5,1774.2 330.7,1774.8 332.9,1775.4 335.1,1775.9 337.3,1776.3 339.5,1776.6 341.7,1776.9 343.9,1777.2 346.1,1777.5 348.2,1777.7 350.4,1778.0 352.6,1778.3 354.8,1778.5 357.0,1778.8 359.2,1779.0 361.4,1779.2 363.6,1779.5 365.8,1779.7 367.9,1779.9 370.1,1780.0 372.3,1780.2 374.5,1780.4 376.7,1780.5 378.9,1780.7 381.1,1780.8 383.3,1780.9 385.5,1781.0 387.6,1781.0 389.8,1781.1 392.0,1781.1 394.2,1781.2 396.4,1781.2" fill="none" stroke="#729ad9" stroke-width="2.5" stroke-linejoin="round"/>
<path d="M122.8,1781.2 125.0,1781.2 127.2,1781.2 129.4,1781.1 131.6,1781.1 133.7,1781.0 135.9,1781.0 138.1,1780.9 140.3,1780.8 142.5,1780.7 144.7,1780.6 146.9,1780.0 149.1,1779.1 151.3,1777.7 153.4,1776.1 155.6,1773.7 157.8,1769.5 160.0,1763.7 162.2,1757.0 164.4,1749.9 166.6,1742.0 168.8,1732.7 171.0,1722.4 173.1,1711.4 175.3,1700.3 177.5,1687.9 179.7,1674.9 181.9,1662.5 184.1,1651.1 186.3,1639.8 188.5,1629.8 190.7,1622.3 192.8,1616.1 195.0,1612.5 197.2,1611.7 199.4,1611.3 201.6,1611.1 203.8,1612.4 206.0,1615.4 208.2,1618.9 210.4,1622.7 212.5,1627.1 214.7,1631.9 216.9,1636.7 219.1,1641.8 221.3,1647.0 223.5,1652.2 225.7,1657.2 227.9,1662.2 230.1,1667.4 232.2,1672.8 234.4,1678.7 236.6,1684.7 238.8,1690.5 241.0,1696.0 243.2,1701.3 245.4,1706.3 247.6,1710.4 249.8,1714.0 251.9,1717.3 254.1,1720.4 256.3,1723.3 258.5,1726.3 260.7,1729.1 262.9,1731.7 265.1,1734.4 267.3,1737.1 269.5,1739.9 271.6,1742.7 273.8,1745.5 276.0,1748.2 278.2,1750.7 280.4,1753.2 282.6,1755.7 284.8,1757.9 287.0,1759.7 289.2,1760.8 291.3,1761.7 293.5,1762.5 295.7,1763.1 297.9,1763.7 300.1,1764.3 302.3,1765.0 304.5,1765.7 306.7,1766.4 308.9,1767.2 311.0,1767.9 313.2,1768.6 315.4,1769.4 317.6,1770.1 319.8,1770.8 322.0,1771.6 324.2,1772.4 326.4,1773.2 328.5,1774.0 330.7,1774.7 332.9,1775.4 335.1,1776.0 337.3,1776.5 339.5,1776.9 341.7,1777.2 343.9,1777.4 346.1,1777.7 348.2,1778.0 350.4,1778.2 352.6,1778.5 354.8,1778.7 357.0,1779.0 359.2,1779.2 361.4,1779.4 363.6,1779.6 365.8,1779.8 367.9,1780.0 370.1,1780.1 372.3,1780.3 374.5,1780.5 376.7,1780.6 378.9,1780.7 381.1,1780.8 383.3,1780.9 385.5,1781.0 387.6,1781.1 389.8,1781.1 392.0,1781.1 394.2,1781.2 396.4,1781.2" fill="none" stroke="#4e72c6" stroke-width="2.5" stroke-linejoin="round"/>
<path d="M122.8,1781.2 125.0,1781.2 127.2,1781.2 129.4,1781.1 131.6,1781.1 133.7,1781.1 135.9,1781.0 138.1,1781.0 140.3,1780.9 142.5,1780.8 144.7,1780.7 146.9,1780.6 149.1,1779.9 151.3,1778.5 153.4,1776.5 155.6,1774.2 157.8,1771.5 160.0,1767.6 162.2,1762.6 164.4,1756.9 166.6,1751.0 168.8,1744.5 171.0,1737.0 173.1,1728.9 175.3,1720.7 177.5,1713.0 179.7,1704.8 181.9,1696.7 184.1,1690.1 186.3,1685.9 188.5,1682.8 190.7,1680.2 192.8,1677.9 195.0,1675.6 197.2,1673.2 199.4,1671.1 201.6,1669.0 203.8,1666.9 206.0,1664.5 208.2,1661.9 210.4,1659.0 212.5,1656.2 214.7,1653.4 216.9,1650.9 219.1,1648.0 221.3,1645.5 223.5,1644.5 225.7,1644.9 227.9,1646.0 230.1,1647.5 232.2,1649.4 234.4,1652.8 236.6,1657.4 238.8,1662.2 241.0,1667.5 243.2,1673.4 245.4,1679.6 247.6,1685.6 249.8,1691.9 251.9,1698.0 254.1,1703.2 256.3,1707.2 258.5,1710.6 260.7,1713.7 262.9,1716.7 265.1,1719.6 267.3,1722.6 269.5,1725.4 271.6,1728.1 273.8,1730.7 276.0,1733.1 278.2,1735.4 280.4,1737.6 282.6,1739.8 284.8,1741.8 287.0,1743.8 289.2,1745.8 291.3,1747.7 293.5,1749.5 295.7,1751.1 297.9,1752.4 300.1,1753.3 302.3,1754.1 304.5,1754.8 306.7,1755.4 308.9,1756.1 311.0,1756.7 313.2,1757.5 315.4,1758.3 317.6,1759.1 319.8,1760.0 322.0,1760.9 324.2,1761.9 326.4,1762.8 328.5,1763.8 330.7,1764.9 332.9,1766.0 335.1,1767.2 337.3,1768.3 339.5,1769.5 341.7,1770.5 343.9,1771.5 346.1,1772.4 348.2,1773.2 350.4,1774.0 352.6,1774.8 354.8,1775.5 357.0,1776.1 359.2,1776.7 361.4,1777.2 363.6,1777.6 365.8,1778.0 367.9,1778.4 370.1,1778.7 372.3,1779.0 374.5,1779.3 376.7,1779.6 378.9,1779.8 381.1,1780.0 383.3,1780.3 385.5,1780.5 387.6,1780.6 389.8,1780.8 392.0,1781.0 394.2,1781.1 396.4,1781.2" fill="none" stroke="#e0464a" stroke-width="2.5" stroke-linejoin="round"/>
<path d="M122.8,1781.2 125.0,1781.2 127.2,1781.2 129.4,1781.1 131.6,1781.1 133.7,1781.0 135.9,1781.0 138.1,1780.9 140.3,1780.8 142.5,1780.7 144.7,1780.6 146.9,1780.0 149.1,1779.1 151.3,1777.7 153.4,1776.1 155.6,1773.8 157.8,1769.7 160.0,1764.0 162.2,1757.3 164.4,1749.9 166.6,1740.5 168.8,1728.4 171.0,1715.4 173.1,1703.1 175.3,1690.7 177.5,1678.2 179.7,1665.7 181.9,1652.7 184.1,1639.6 186.3,1629.0 188.5,1620.2 190.7,1614.2 192.8,1614.1 195.0,1615.8 197.2,1618.2 199.4,1620.8 201.6,1624.4 203.8,1628.4 206.0,1632.5 208.2,1636.7 210.4,1641.2 212.5,1645.7 214.7,1650.1 216.9,1654.7 219.1,1659.2 221.3,1663.6 223.5,1667.6 225.7,1671.1 227.9,1674.1 230.1,1677.2 232.2,1680.4 234.4,1684.2 236.6,1688.9 238.8,1694.1 241.0,1699.4 243.2,1704.4 245.4,1708.7 247.6,1712.9 249.8,1716.8 251.9,1720.5 254.1,1723.8 256.3,1726.9 258.5,1729.8 260.7,1732.5 262.9,1735.0 265.1,1737.5 267.3,1739.8 269.5,1742.0 271.6,1744.1 273.8,1746.2 276.0,1748.4 278.2,1750.6 280.4,1752.8 282.6,1755.0 284.8,1757.1 287.0,1759.4 289.2,1761.9 291.3,1764.3 293.5,1766.4 295.7,1768.0 297.9,1769.1 300.1,1770.2 302.3,1771.1 304.5,1771.8 306.7,1772.5 308.9,1773.1 311.0,1773.7 313.2,1774.2 315.4,1774.7 317.6,1775.1 319.8,1775.5 322.0,1775.9 324.2,1776.2 326.4,1776.5 328.5,1776.8 330.7,1777.0 332.9,1777.2 335.1,1777.5 337.3,1777.7 339.5,1777.9 341.7,1778.1 343.9,1778.3 346.1,1778.5 348.2,1778.7 350.4,1778.9 352.6,1779.1 354.8,1779.3 357.0,1779.5 359.2,1779.6 361.4,1779.8 363.6,1779.9 365.8,1780.1 367.9,1780.2 370.1,1780.4 372.3,1780.5 374.5,1780.6 376.7,1780.7 378.9,1780.8 381.1,1780.9 383.3,1781.0 385.5,1781.0 387.6,1781.1 389.8,1781.1 392.0,1781.2 394.2,1781.2 396.4,1781.2" fill="none" stroke="#f0b123" stroke-width="2.5" stroke-linejoin="round"/>
<rect x="122.8" y="1600.8" width="273.6" height="180.4" fill="none" stroke="#8e8e8e" stroke-width="1.6"/>
<line x1="122.8" y1="1781.2" x2="122.8" y2="1785.2" stroke="#8a8a8a" stroke-width="1.2"/>
<text transform="translate(122.8 1803.7) scale(1.06 1)" x="0" y="0" font-size="20" text-anchor="middle" fill="#2e2e2e">0</text>
<line x1="195.8" y1="1781.2" x2="195.8" y2="1785.2" stroke="#8a8a8a" stroke-width="1.2"/>
<text transform="translate(195.8 1803.7) scale(1.06 1)" x="0" y="0" font-size="20" text-anchor="middle" fill="#2e2e2e">2000</text>
<line x1="269.0" y1="1781.2" x2="269.0" y2="1785.2" stroke="#8a8a8a" stroke-width="1.2"/>
<text transform="translate(269.0 1803.7) scale(1.06 1)" x="0" y="0" font-size="20" text-anchor="middle" fill="#2e2e2e">4000</text>
<line x1="341.7" y1="1781.2" x2="341.7" y2="1785.2" stroke="#8a8a8a" stroke-width="1.2"/>
<text transform="translate(341.7 1803.7) scale(1.06 1)" x="0" y="0" font-size="20" text-anchor="middle" fill="#2e2e2e">6000</text>
<line x1="118.8" y1="1640.6" x2="122.8" y2="1640.6" stroke="#8a8a8a" stroke-width="1.2"/>
<text transform="translate(114.8 1647.9) scale(1.05 1)" x="0" y="0" font-size="20" text-anchor="end" fill="#2e2e2e">0.0004</text>
<line x1="118.8" y1="1710.8" x2="122.8" y2="1710.8" stroke="#8a8a8a" stroke-width="1.2"/>
<text transform="translate(114.8 1718.1) scale(1.05 1)" x="0" y="0" font-size="20" text-anchor="end" fill="#2e2e2e">0.0002</text>
<line x1="118.8" y1="1781.2" x2="122.8" y2="1781.2" stroke="#8a8a8a" stroke-width="1.2"/>
<text transform="translate(114.8 1788.5) scale(1.05 1)" x="0" y="0" font-size="20" text-anchor="end" fill="#2e2e2e">0.0000</text>
<text transform="translate(285.0 1827.0) scale(1.04 1)" x="0" y="0" font-size="20" text-anchor="middle" fill="#2e2e2e">Area(μm<tspan dy="-7" font-size="12">2</tspan><tspan dy="7">)</tspan></text>
<text x="42.8" y="1693.0" font-size="20.5" text-anchor="middle" fill="#2e2e2e" textLength="98.0" lengthAdjust="spacingAndGlyphs" transform="rotate(-90 42.8 1693.0)">Probability</text>
<path d="M449.1,1780.9 451.3,1780.9 453.5,1780.8 455.7,1780.8 457.9,1780.7 460.0,1780.6 462.2,1780.5 464.4,1780.4 466.6,1780.2 468.8,1780.1 471.0,1779.9 473.2,1779.7 475.4,1779.5 477.6,1779.3 479.8,1779.1 482.0,1778.9 484.1,1778.6 486.3,1778.3 488.5,1777.9 490.7,1777.4 492.9,1777.0 495.1,1776.5 497.3,1776.0 499.5,1775.5 501.7,1774.9 503.9,1774.4 506.0,1773.9 508.2,1773.3 510.4,1772.8 512.6,1772.2 514.8,1771.6 517.0,1771.0 519.2,1770.3 521.4,1769.7 523.6,1769.0 525.8,1768.2 528.0,1767.5 530.1,1766.7 532.3,1765.9 534.5,1765.0 536.7,1764.1 538.9,1763.1 541.1,1762.0 543.3,1760.9 545.5,1759.6 547.7,1758.3 549.9,1756.9 552.1,1755.2 554.2,1753.2 556.4,1751.1 558.6,1748.8 560.8,1746.3 563.0,1743.8 565.2,1741.2 567.4,1738.4 569.6,1735.4 571.8,1732.2 574.0,1729.0 576.2,1725.8 578.3,1722.8 580.5,1719.8 582.7,1716.8 584.9,1713.8 587.1,1710.9 589.3,1708.0 591.5,1705.2 593.7,1702.4 595.9,1699.8 598.1,1697.3 600.3,1694.8 602.4,1692.4 604.6,1689.9 606.8,1687.3 609.0,1684.5 611.2,1681.7 613.4,1678.7 615.6,1675.7 617.8,1672.6 620.0,1669.3 622.2,1665.8 624.4,1661.9 626.5,1657.8 628.7,1653.6 630.9,1649.5 633.1,1645.7 635.3,1642.4 637.5,1639.2 639.7,1636.1 641.9,1633.3 644.1,1630.6 646.3,1628.2 648.5,1625.9 650.6,1623.7 652.8,1621.6 655.0,1620.0 657.2,1619.0 659.4,1618.5 661.6,1618.2 663.8,1618.0 666.0,1618.3 668.2,1619.0 670.4,1620.0 672.6,1621.1 674.7,1622.7 676.9,1625.1 679.1,1628.1 681.3,1631.5 683.5,1635.0 685.7,1639.2 687.9,1644.0 690.1,1649.3 692.3,1654.8 694.5,1660.6 696.7,1666.9 698.8,1673.7 701.0,1680.5 703.2,1687.3 705.4,1694.0 707.6,1700.9 709.8,1707.7 712.0,1714.1 714.2,1720.0 716.4,1725.5 718.6,1730.7 720.8,1735.6 722.9,1740.0 725.1,1743.8 727.3,1747.4 729.5,1750.7 731.7,1753.8 733.9,1756.6 736.1,1759.1 738.3,1761.3 740.5,1763.4 742.7,1765.3 744.8,1767.0 747.0,1768.6 749.2,1769.9 751.4,1771.0 753.6,1772.1 755.8,1773.1 758.0,1774.0 760.2,1774.7 762.4,1775.3 764.6,1775.8" fill="none" stroke="#a3a3a3" stroke-width="2.5" stroke-linejoin="round"/>
<path d="M449.1,1780.9 451.3,1780.9 453.5,1780.9 455.7,1780.9 457.9,1780.8 460.0,1780.8 462.2,1780.8 464.4,1780.8 466.6,1780.7 468.8,1780.7 471.0,1780.6 473.2,1780.5 475.4,1780.5 477.6,1780.4 479.8,1780.4 482.0,1780.3 484.1,1780.2 486.3,1780.1 488.5,1780.0 490.7,1780.0 492.9,1779.9 495.1,1779.8 497.3,1779.6 499.5,1779.4 501.7,1779.2 503.9,1779.0 506.0,1778.7 508.2,1778.5 510.4,1778.2 512.6,1777.9 514.8,1777.6 517.0,1777.3 519.2,1777.0 521.4,1776.6 523.6,1776.3 525.8,1775.9 528.0,1775.5 530.1,1775.0 532.3,1774.5 534.5,1774.0 536.7,1773.4 538.9,1772.8 541.1,1772.1 543.3,1771.3 545.5,1770.3 547.7,1769.2 549.9,1768.1 552.1,1766.8 554.2,1765.6 556.4,1764.2 558.6,1762.7 560.8,1761.1 563.0,1759.4 565.2,1757.7 567.4,1755.9 569.6,1754.1 571.8,1752.3 574.0,1750.4 576.2,1748.4 578.3,1746.4 580.5,1744.5 582.7,1742.8 584.9,1741.3 587.1,1740.0 589.3,1738.9 591.5,1737.8 593.7,1736.8 595.9,1735.8 598.1,1734.8 600.3,1733.8 602.4,1732.8 604.6,1731.9 606.8,1731.1 609.0,1730.2 611.2,1729.3 613.4,1728.3 615.6,1727.2 617.8,1726.0 620.0,1724.5 622.2,1722.9 624.4,1721.0 626.5,1718.8 628.7,1716.4 630.9,1713.7 633.1,1710.5 635.3,1706.4 637.5,1701.8 639.7,1696.9 641.9,1692.0 644.1,1687.4 646.3,1683.0 648.5,1679.1 650.6,1675.3 652.8,1671.5 655.0,1667.8 657.2,1664.1 659.4,1660.5 661.6,1657.1 663.8,1653.8 666.0,1650.6 668.2,1647.5 670.4,1644.5 672.6,1641.6 674.7,1638.9 676.9,1636.4 679.1,1634.0 681.3,1631.7 683.5,1629.6 685.7,1627.9 687.9,1626.6 690.1,1625.8 692.3,1625.1 694.5,1624.5 696.7,1624.2 698.8,1624.3 701.0,1624.9 703.2,1625.8 705.4,1627.2 707.6,1629.0 709.8,1631.2 712.0,1634.1 714.2,1637.5 716.4,1641.6 718.6,1646.2 720.8,1651.1 722.9,1656.3 725.1,1662.1 727.3,1668.6 729.5,1675.4 731.7,1682.3 733.9,1689.1 736.1,1695.7 738.3,1702.3 740.5,1709.0 742.7,1715.6 744.8,1722.0 747.0,1728.2 749.2,1734.0 751.4,1739.7 753.6,1745.2 755.8,1750.3 758.0,1754.9 760.2,1759.2 762.4,1763.1 764.6,1766.5" fill="none" stroke="#8fd3e2" stroke-width="2.5" stroke-linejoin="round"/>
<path d="M449.1,1780.9 451.3,1780.9 453.5,1780.9 455.7,1780.9 457.9,1780.8 460.0,1780.8 462.2,1780.8 464.4,1780.7 466.6,1780.7 468.8,1780.7 471.0,1780.6 473.2,1780.5 475.4,1780.5 477.6,1780.4 479.8,1780.3 482.0,1780.3 484.1,1780.2 486.3,1780.1 488.5,1780.0 490.7,1780.0 492.9,1779.9 495.1,1779.8 497.3,1779.6 499.5,1779.5 501.7,1779.3 503.9,1779.0 506.0,1778.8 508.2,1778.6 510.4,1778.3 512.6,1778.0 514.8,1777.8 517.0,1777.5 519.2,1777.2 521.4,1776.9 523.6,1776.7 525.8,1776.4 528.0,1776.1 530.1,1775.7 532.3,1775.4 534.5,1775.0 536.7,1774.5 538.9,1774.0 541.1,1773.3 543.3,1772.5 545.5,1771.4 547.7,1770.3 549.9,1769.0 552.1,1767.7 554.2,1766.4 556.4,1765.0 558.6,1763.5 560.8,1761.8 563.0,1760.1 565.2,1758.4 567.4,1756.6 569.6,1754.9 571.8,1753.1 574.0,1751.1 576.2,1749.0 578.3,1746.9 580.5,1745.0 582.7,1743.3 584.9,1742.0 587.1,1741.0 589.3,1740.2 591.5,1739.5 593.7,1738.8 595.9,1738.2 598.1,1737.5 600.3,1736.8 602.4,1736.1 604.6,1735.5 606.8,1734.9 609.0,1734.3 611.2,1733.6 613.4,1732.8 615.6,1731.8 617.8,1730.6 620.0,1729.0 622.2,1727.1 624.4,1724.9 626.5,1722.5 628.7,1719.8 630.9,1716.9 633.1,1713.6 635.3,1709.4 637.5,1704.5 639.7,1699.3 641.9,1693.9 644.1,1688.7 646.3,1684.0 648.5,1679.9 650.6,1675.9 652.8,1672.0 655.0,1668.2 657.2,1664.7 659.4,1661.3 661.6,1658.1 663.8,1655.1 666.0,1652.2 668.2,1649.4 670.4,1646.8 672.6,1644.3 674.7,1642.0 676.9,1639.8 679.1,1637.8 681.3,1635.7 683.5,1633.8 685.7,1632.3 687.9,1631.4 690.1,1631.0 692.3,1630.6 694.5,1630.3 696.7,1630.1 698.8,1630.1 701.0,1630.5 703.2,1631.2 705.4,1632.2 707.6,1633.4 709.8,1634.8 712.0,1636.9 714.2,1639.7 716.4,1643.0 718.6,1646.7 720.8,1650.7 722.9,1655.1 725.1,1660.5 727.3,1666.7 729.5,1673.4 731.7,1680.2 733.9,1686.9 736.1,1693.3 738.3,1700.0 740.5,1706.8 742.7,1713.6 744.8,1720.1 747.0,1726.3 749.2,1732.2 751.4,1738.0 753.6,1743.6 755.8,1748.7 758.0,1753.4 760.2,1757.6 762.4,1761.5 764.6,1765.0" fill="none" stroke="#4dbbe6" stroke-width="2.5" stroke-linejoin="round"/>
<path d="M449.1,1780.9 451.3,1780.9 453.5,1780.9 455.7,1780.9 457.9,1780.8 460.0,1780.8 462.2,1780.8 464.4,1780.8 466.6,1780.7 468.8,1780.7 471.0,1780.6 473.2,1780.6 475.4,1780.5 477.6,1780.4 479.8,1780.4 482.0,1780.3 484.1,1780.2 486.3,1780.1 488.5,1780.0 490.7,1780.0 492.9,1779.9 495.1,1779.8 497.3,1779.6 499.5,1779.4 501.7,1779.2 503.9,1779.0 506.0,1778.7 508.2,1778.4 510.4,1778.1 512.6,1777.8 514.8,1777.5 517.0,1777.1 519.2,1776.8 521.4,1776.5 523.6,1776.1 525.8,1775.7 528.0,1775.3 530.1,1774.9 532.3,1774.4 534.5,1773.9 536.7,1773.3 538.9,1772.7 541.1,1771.9 543.3,1771.0 545.5,1769.8 547.7,1768.6 549.9,1767.2 552.1,1765.9 554.2,1764.4 556.4,1763.0 558.6,1761.4 560.8,1759.7 563.0,1757.9 565.2,1756.1 567.4,1754.2 569.6,1752.3 571.8,1750.3 574.0,1748.1 576.2,1745.7 578.3,1743.3 580.5,1741.2 582.7,1739.4 584.9,1738.1 587.1,1737.3 589.3,1736.7 591.5,1736.1 593.7,1735.7 595.9,1735.2 598.1,1734.7 600.3,1734.2 602.4,1733.7 604.6,1733.3 606.8,1732.8 609.0,1732.4 611.2,1731.8 613.4,1731.2 615.6,1730.5 617.8,1729.4 620.0,1727.6 622.2,1725.4 624.4,1722.6 626.5,1719.6 628.7,1716.4 630.9,1713.1 633.1,1709.7 635.3,1705.5 637.5,1700.9 639.7,1696.0 641.9,1691.0 644.1,1686.1 646.3,1681.5 648.5,1677.2 650.6,1673.0 652.8,1668.8 655.0,1664.7 657.2,1660.7 659.4,1656.8 661.6,1653.1 663.8,1649.5 666.0,1645.8 668.2,1642.1 670.4,1638.6 672.6,1635.6 674.7,1633.0 676.9,1631.0 679.1,1629.0 681.3,1627.1 683.5,1625.5 685.7,1624.3 687.9,1623.7 690.1,1623.5 692.3,1623.4 694.5,1623.4 696.7,1623.5 698.8,1623.8 701.0,1624.5 703.2,1625.8 705.4,1627.4 707.6,1629.3 709.8,1631.3 712.0,1634.0 714.2,1637.2 716.4,1641.0 718.6,1645.1 720.8,1649.3 722.9,1653.9 725.1,1659.3 727.3,1665.2 729.5,1671.5 731.7,1677.9 733.9,1684.3 736.1,1690.7 738.3,1697.3 740.5,1704.2 742.7,1710.9 744.8,1717.5 747.0,1723.7 749.2,1729.6 751.4,1735.5 753.6,1741.0 755.8,1746.2 758.0,1750.8 760.2,1755.1 762.4,1758.9 764.6,1762.4" fill="none" stroke="#729ad9" stroke-width="2.5" stroke-linejoin="round"/>
<path d="M449.1,1780.9 451.3,1780.9 453.5,1780.9 455.7,1780.9 457.9,1780.9 460.0,1780.8 462.2,1780.8 464.4,1780.8 466.6,1780.7 468.8,1780.7 471.0,1780.6 473.2,1780.6 475.4,1780.5 477.6,1780.4 479.8,1780.4 482.0,1780.3 484.1,1780.2 486.3,1780.1 488.5,1780.0 490.7,1780.0 492.9,1779.9 495.1,1779.7 497.3,1779.6 499.5,1779.4 501.7,1779.1 503.9,1778.9 506.0,1778.6 508.2,1778.2 510.4,1777.9 512.6,1777.5 514.8,1777.2 517.0,1776.8 519.2,1776.4 521.4,1776.0 523.6,1775.6 525.8,1775.1 528.0,1774.6 530.1,1774.1 532.3,1773.5 534.5,1772.9 536.7,1772.2 538.9,1771.4 541.1,1770.5 543.3,1769.5 545.5,1768.3 547.7,1766.9 549.9,1765.5 552.1,1764.0 554.2,1762.5 556.4,1761.0 558.6,1759.3 560.8,1757.5 563.0,1755.7 565.2,1753.7 567.4,1751.8 569.6,1749.8 571.8,1747.6 574.0,1745.0 576.2,1742.3 578.3,1739.7 580.5,1737.3 582.7,1735.4 584.9,1734.2 587.1,1733.7 589.3,1733.2 591.5,1732.8 593.7,1732.5 595.9,1732.2 598.1,1732.0 600.3,1731.6 602.4,1731.3 604.6,1731.0 606.8,1730.7 609.0,1730.4 611.2,1730.1 613.4,1729.7 615.6,1729.1 617.8,1728.2 620.0,1726.3 622.2,1723.6 624.4,1720.4 626.5,1716.8 628.7,1713.0 630.9,1709.4 633.1,1705.7 635.3,1701.7 637.5,1697.3 639.7,1692.8 641.9,1688.1 644.1,1683.5 646.3,1678.9 648.5,1674.5 650.6,1670.1 652.8,1665.6 655.0,1661.2 657.2,1656.8 659.4,1652.4 661.6,1648.2 663.8,1643.9 666.0,1639.4 668.2,1634.8 670.4,1630.5 672.6,1626.8 674.7,1624.1 676.9,1622.1 679.1,1620.2 681.3,1618.6 683.5,1617.2 685.7,1616.3 687.9,1616.0 690.1,1616.0 692.3,1616.2 694.5,1616.5 696.7,1616.9 698.8,1617.4 701.0,1618.5 703.2,1620.3 705.4,1622.6 707.6,1625.1 709.8,1627.8 712.0,1631.0 714.2,1634.8 716.4,1638.9 718.6,1643.4 720.8,1648.0 722.9,1652.8 725.1,1658.0 727.3,1663.7 729.5,1669.6 731.7,1675.6 733.9,1681.8 736.1,1688.0 738.3,1694.7 740.5,1701.5 742.7,1708.3 744.8,1714.9 747.0,1721.1 749.2,1727.1 751.4,1732.9 753.6,1738.4 755.8,1743.6 758.0,1748.3 760.2,1752.5 762.4,1756.4 764.6,1759.8" fill="none" stroke="#4e72c6" stroke-width="2.5" stroke-linejoin="round"/>
<path d="M449.1,1780.9 451.3,1780.8 453.5,1780.7 455.7,1780.6 457.9,1780.5 460.0,1780.3 462.2,1780.1 464.4,1779.9 466.6,1779.6 468.8,1779.3 471.0,1779.1 473.2,1778.8 475.4,1778.5 477.6,1778.2 479.8,1777.8 482.0,1777.5 484.1,1777.1 486.3,1776.6 488.5,1776.1 490.7,1775.6 492.9,1775.0 495.1,1774.4 497.3,1773.8 499.5,1773.2 501.7,1772.5 503.9,1771.9 506.0,1771.3 508.2,1770.6 510.4,1769.9 512.6,1769.2 514.8,1768.4 517.0,1767.6 519.2,1766.8 521.4,1766.0 523.6,1765.2 525.8,1764.4 528.0,1763.6 530.1,1762.8 532.3,1762.0 534.5,1761.3 536.7,1760.6 538.9,1759.9 541.1,1759.2 543.3,1758.5 545.5,1757.6 547.7,1756.7 549.9,1755.7 552.1,1754.4 554.2,1753.0 556.4,1751.3 558.6,1749.6 560.8,1747.7 563.0,1745.9 565.2,1744.0 567.4,1741.9 569.6,1739.6 571.8,1737.3 574.0,1734.9 576.2,1732.6 578.3,1730.5 580.5,1728.7 582.7,1727.0 584.9,1725.6 587.1,1724.2 589.3,1722.8 591.5,1721.5 593.7,1720.0 595.9,1718.5 598.1,1716.8 600.3,1715.2 602.4,1713.4 604.6,1711.6 606.8,1709.7 609.0,1707.7 611.2,1705.6 613.4,1703.3 615.6,1700.9 617.8,1698.3 620.0,1695.5 622.2,1692.7 624.4,1689.7 626.5,1686.4 628.7,1682.8 630.9,1679.2 633.1,1675.5 635.3,1671.9 637.5,1668.6 639.7,1665.3 641.9,1662.1 644.1,1659.0 646.3,1656.0 648.5,1653.2 650.6,1650.6 652.8,1648.0 655.0,1645.5 657.2,1643.2 659.4,1641.2 661.6,1639.5 663.8,1638.2 666.0,1637.0 668.2,1635.9 670.4,1634.9 672.6,1634.3 674.7,1634.0 676.9,1633.9 679.1,1633.9 681.3,1633.9 683.5,1633.9 685.7,1633.9 687.9,1634.1 690.1,1634.9 692.3,1636.3 694.5,1638.1 696.7,1640.2 698.8,1642.2 701.0,1644.5 703.2,1647.3 705.4,1650.4 707.6,1653.8 709.8,1657.4 712.0,1661.1 714.2,1665.3 716.4,1669.9 718.6,1674.9 720.8,1680.0 722.9,1685.4 725.1,1690.8 727.3,1696.8 729.5,1703.1 731.7,1709.5 733.9,1715.9 736.1,1721.9 738.3,1727.7 740.5,1733.4 742.7,1739.0 744.8,1744.4 747.0,1749.4 749.2,1753.9 751.4,1757.8 753.6,1761.3 755.8,1764.6 758.0,1767.6 760.2,1770.4 762.4,1773.0 764.6,1775.2" fill="none" stroke="#e0464a" stroke-width="2.5" stroke-linejoin="round"/>
<path d="M449.1,1780.9 451.3,1780.9 453.5,1780.9 455.7,1780.9 457.9,1780.9 460.0,1780.8 462.2,1780.8 464.4,1780.8 466.6,1780.7 468.8,1780.7 471.0,1780.6 473.2,1780.6 475.4,1780.5 477.6,1780.4 479.8,1780.4 482.0,1780.3 484.1,1780.2 486.3,1780.1 488.5,1780.0 490.7,1780.0 492.9,1779.9 495.1,1779.7 497.3,1779.6 499.5,1779.4 501.7,1779.2 503.9,1778.9 506.0,1778.6 508.2,1778.3 510.4,1777.9 512.6,1777.6 514.8,1777.2 517.0,1776.8 519.2,1776.4 521.4,1775.9 523.6,1775.3 525.8,1774.7 528.0,1774.0 530.1,1773.3 532.3,1772.5 534.5,1771.7 536.7,1770.9 538.9,1770.1 541.1,1769.4 543.3,1768.6 545.5,1767.7 547.7,1766.8 549.9,1765.9 552.1,1764.9 554.2,1763.8 556.4,1762.5 558.6,1761.0 560.8,1759.4 563.0,1757.7 565.2,1755.9 567.4,1754.1 569.6,1752.3 571.8,1750.6 574.0,1748.8 576.2,1747.0 578.3,1745.1 580.5,1743.2 582.7,1741.4 584.9,1739.6 587.1,1737.7 589.3,1735.8 591.5,1733.9 593.7,1732.1 595.9,1730.2 598.1,1728.4 600.3,1726.7 602.4,1725.1 604.6,1723.6 606.8,1722.1 609.0,1720.7 611.2,1719.2 613.4,1717.8 615.6,1716.5 617.8,1715.2 620.0,1714.0 622.2,1712.9 624.4,1711.7 626.5,1710.3 628.7,1708.6 630.9,1706.3 633.1,1703.1 635.3,1699.4 637.5,1695.4 639.7,1691.4 641.9,1687.7 644.1,1684.2 646.3,1680.8 648.5,1677.4 650.6,1673.9 652.8,1670.3 655.0,1666.6 657.2,1662.8 659.4,1658.8 661.6,1654.7 663.8,1650.7 666.0,1646.8 668.2,1643.0 670.4,1639.2 672.6,1635.4 674.7,1631.8 676.9,1628.3 679.1,1625.2 681.3,1622.4 683.5,1619.9 685.7,1617.5 687.9,1615.4 690.1,1613.7 692.3,1612.3 694.5,1611.0 696.7,1610.3 698.8,1610.7 701.0,1611.8 703.2,1613.3 705.4,1615.4 707.6,1618.7 709.8,1622.9 712.0,1627.6 714.2,1632.5 716.4,1638.2 718.6,1644.8 720.8,1651.8 722.9,1659.0 725.1,1665.8 727.3,1672.9 729.5,1680.0 731.7,1687.2 733.9,1694.3 736.1,1701.1 738.3,1707.7 740.5,1714.1 742.7,1720.4 744.8,1726.6 747.0,1732.5 749.2,1738.2 751.4,1743.6 753.6,1748.9 755.8,1753.9 758.0,1758.6 760.2,1762.9 762.4,1766.7 764.6,1770.1" fill="none" stroke="#f0b123" stroke-width="2.5" stroke-linejoin="round"/>
<rect x="449.1" y="1601.0" width="315.5" height="179.9" fill="none" stroke="#8e8e8e" stroke-width="1.6"/>
<line x1="449.1" y1="1780.9" x2="449.1" y2="1784.9" stroke="#8a8a8a" stroke-width="1.2"/>
<text transform="translate(449.1 1803.4) scale(1.06 1)" x="0" y="0" font-size="20" text-anchor="middle" fill="#2e2e2e">0.4</text>
<line x1="553.9" y1="1780.9" x2="553.9" y2="1784.9" stroke="#8a8a8a" stroke-width="1.2"/>
<text transform="translate(553.9 1803.4) scale(1.06 1)" x="0" y="0" font-size="20" text-anchor="middle" fill="#2e2e2e">0.6</text>
<line x1="659.7" y1="1780.9" x2="659.7" y2="1784.9" stroke="#8a8a8a" stroke-width="1.2"/>
<text transform="translate(659.7 1803.4) scale(1.06 1)" x="0" y="0" font-size="20" text-anchor="middle" fill="#2e2e2e">0.8</text>
<line x1="764.6" y1="1780.9" x2="764.6" y2="1784.9" stroke="#8a8a8a" stroke-width="1.2"/>
<text transform="translate(764.6 1803.4) scale(1.06 1)" x="0" y="0" font-size="20" text-anchor="middle" fill="#2e2e2e">1.0</text>
<line x1="445.1" y1="1780.9" x2="449.1" y2="1780.9" stroke="#8a8a8a" stroke-width="1.2"/>
<text transform="translate(441.1 1788.2) scale(1.05 1)" x="0" y="0" font-size="20" text-anchor="end" fill="#2e2e2e">0</text>
<line x1="445.1" y1="1707.7" x2="449.1" y2="1707.7" stroke="#8a8a8a" stroke-width="1.2"/>
<text transform="translate(441.1 1715.0) scale(1.05 1)" x="0" y="0" font-size="20" text-anchor="end" fill="#2e2e2e">2</text>
<line x1="445.1" y1="1634.0" x2="449.1" y2="1634.0" stroke="#8a8a8a" stroke-width="1.2"/>
<text transform="translate(441.1 1641.3) scale(1.05 1)" x="0" y="0" font-size="20" text-anchor="end" fill="#2e2e2e">4</text>
<text transform="translate(605.8 1826.7) scale(1.04 1)" x="0" y="0" font-size="20" text-anchor="middle" fill="#2e2e2e">Solidity</text>
<text x="422.5" y="1692.5" font-size="20.5" text-anchor="middle" fill="#2e2e2e" textLength="98.0" lengthAdjust="spacingAndGlyphs" transform="rotate(-90 422.5 1692.5)">Probability</text>
<path d="M867.9,1780.9 870.1,1780.9 872.3,1780.9 874.5,1780.9 876.7,1780.9 878.9,1780.9 881.1,1780.9 883.3,1780.9 885.5,1780.9 887.7,1780.9 889.9,1780.9 892.1,1780.9 894.3,1780.9 896.4,1780.9 898.6,1780.9 900.8,1780.9 903.0,1780.9 905.2,1780.9 907.4,1780.6 909.6,1780.1 911.8,1779.5 914.0,1778.8 916.2,1778.0 918.4,1777.0 920.6,1775.4 922.8,1773.3 925.0,1770.8 927.2,1768.1 929.4,1765.2 931.6,1761.9 933.8,1757.9 936.0,1753.3 938.2,1748.3 940.4,1743.1 942.6,1737.1 944.8,1730.4 947.0,1723.4 949.2,1716.5 951.4,1709.9 953.5,1703.5 955.7,1697.1 957.9,1690.5 960.1,1683.6 962.3,1675.9 964.5,1667.5 966.7,1659.2 968.9,1651.7 971.1,1643.7 973.3,1636.4 975.5,1631.7 977.7,1629.6 979.9,1627.9 982.1,1627.0 984.3,1626.8 986.5,1627.0 988.7,1627.3 990.9,1627.5 993.1,1627.4 995.3,1626.9 997.5,1626.3 999.7,1625.9 1001.9,1625.7 1004.1,1626.6 1006.3,1628.3 1008.5,1630.6 1010.6,1633.3 1012.8,1637.4 1015.0,1642.3 1017.2,1647.6 1019.4,1653.7 1021.6,1660.5 1023.8,1667.5 1026.0,1674.1 1028.2,1680.7 1030.4,1687.3 1032.6,1693.9 1034.8,1700.7 1037.0,1707.5 1039.2,1713.9 1041.4,1719.8 1043.6,1725.4 1045.8,1730.4 1048.0,1734.5 1050.2,1737.8 1052.4,1740.7 1054.6,1743.2 1056.8,1745.6 1059.0,1748.1 1061.2,1750.5 1063.4,1752.9 1065.6,1755.1 1067.7,1756.9 1069.9,1758.3 1072.1,1759.7 1074.3,1760.8 1076.5,1761.9 1078.7,1762.9 1080.9,1763.8 1083.1,1764.7 1085.3,1765.6 1087.5,1766.4 1089.7,1767.1 1091.9,1767.8 1094.1,1768.5 1096.3,1769.2 1098.5,1769.9 1100.7,1770.6 1102.9,1771.4 1105.1,1772.1 1107.3,1772.8 1109.5,1773.6 1111.7,1774.3 1113.9,1775.0 1116.1,1775.6 1118.3,1776.2 1120.5,1776.7 1122.6,1777.2 1124.8,1777.7 1127.0,1778.2 1129.2,1778.6 1131.4,1779.0 1133.6,1779.4 1135.8,1779.8 1138.0,1780.1 1140.2,1780.4" fill="none" stroke="#a3a3a3" stroke-width="2.5" stroke-linejoin="round"/>
<path d="M867.9,1780.9 870.1,1780.9 872.3,1780.9 874.5,1780.9 876.7,1780.9 878.9,1780.9 881.1,1780.9 883.3,1780.9 885.5,1780.9 887.7,1780.9 889.9,1780.9 892.1,1780.9 894.3,1780.9 896.4,1780.6 898.6,1779.9 900.8,1779.0 903.0,1777.9 905.2,1776.5 907.4,1775.0 909.6,1772.4 911.8,1768.9 914.0,1764.7 916.2,1760.3 918.4,1755.6 920.6,1750.5 922.8,1744.7 925.0,1738.3 927.2,1731.5 929.4,1724.3 931.6,1716.5 933.8,1708.4 936.0,1700.1 938.2,1691.9 940.4,1683.5 942.6,1674.9 944.8,1666.4 947.0,1658.0 949.2,1650.1 951.4,1642.2 953.5,1634.4 955.7,1627.3 957.9,1621.9 960.1,1618.1 962.3,1615.2 964.5,1613.4 966.7,1612.4 968.9,1612.0 971.1,1612.5 973.3,1613.6 975.5,1615.3 977.7,1618.3 979.9,1622.8 982.1,1627.9 984.3,1632.4 986.5,1636.6 988.7,1641.1 990.9,1646.1 993.1,1653.0 995.3,1661.9 997.5,1670.4 999.7,1676.1 1001.9,1680.4 1004.1,1684.2 1006.3,1687.6 1008.5,1690.9 1010.6,1694.1 1012.8,1697.2 1015.0,1700.1 1017.2,1703.3 1019.4,1706.9 1021.6,1710.5 1023.8,1714.0 1026.0,1717.1 1028.2,1719.9 1030.4,1722.6 1032.6,1725.2 1034.8,1728.0 1037.0,1730.7 1039.2,1733.6 1041.4,1736.4 1043.6,1739.2 1045.8,1741.9 1048.0,1744.6 1050.2,1747.2 1052.4,1749.7 1054.6,1752.2 1056.8,1754.5 1059.0,1756.7 1061.2,1758.6 1063.4,1760.4 1065.6,1761.9 1067.7,1763.1 1069.9,1764.0 1072.1,1764.8 1074.3,1765.3 1076.5,1765.8 1078.7,1766.3 1080.9,1766.8 1083.1,1767.4 1085.3,1768.0 1087.5,1768.8 1089.7,1769.5 1091.9,1770.3 1094.1,1771.1 1096.3,1771.9 1098.5,1772.6 1100.7,1773.3 1102.9,1773.8 1105.1,1774.4 1107.3,1774.9 1109.5,1775.5 1111.7,1776.0 1113.9,1776.6 1116.1,1777.0 1118.3,1777.5 1120.5,1777.9 1122.6,1778.3 1124.8,1778.7 1127.0,1779.0 1129.2,1779.3 1131.4,1779.6 1133.6,1779.9 1135.8,1780.1 1138.0,1780.3 1140.2,1780.4" fill="none" stroke="#8fd3e2" stroke-width="2.5" stroke-linejoin="round"/>
<path d="M867.9,1780.9 870.1,1780.9 872.3,1780.9 874.5,1780.9 876.7,1780.9 878.9,1780.9 881.1,1780.9 883.3,1780.9 885.5,1780.9 887.7,1780.9 889.9,1780.9 892.1,1780.9 894.3,1780.9 896.4,1780.5 898.6,1779.8 900.8,1778.8 903.0,1777.5 905.2,1776.1 907.4,1774.4 909.6,1771.5 911.8,1767.6 914.0,1763.1 916.2,1758.3 918.4,1753.4 920.6,1747.9 922.8,1741.8 925.0,1735.2 927.2,1728.3 929.4,1720.8 931.6,1712.6 933.8,1704.0 936.0,1695.4 938.2,1687.0 940.4,1678.5 942.6,1670.0 944.8,1661.7 947.0,1653.9 949.2,1646.4 951.4,1638.9 953.5,1631.8 955.7,1625.6 957.9,1620.9 960.1,1617.2 962.3,1614.0 964.5,1611.6 966.7,1609.9 968.9,1608.8 971.1,1609.1 973.3,1610.2 975.5,1611.9 977.7,1614.8 979.9,1619.7 982.1,1625.4 984.3,1630.5 986.5,1635.1 988.7,1640.0 990.9,1645.8 993.1,1654.6 995.3,1666.7 997.5,1677.9 999.7,1684.4 1001.9,1688.6 1004.1,1691.9 1006.3,1694.7 1008.5,1697.3 1010.6,1699.8 1012.8,1701.9 1015.0,1703.9 1017.2,1706.3 1019.4,1709.1 1021.6,1712.3 1023.8,1715.2 1026.0,1717.7 1028.2,1719.9 1030.4,1722.0 1032.6,1724.1 1034.8,1726.3 1037.0,1728.9 1039.2,1731.6 1041.4,1734.5 1043.6,1737.3 1045.8,1740.0 1048.0,1742.8 1050.2,1745.6 1052.4,1748.4 1054.6,1751.0 1056.8,1753.4 1059.0,1755.6 1061.2,1757.7 1063.4,1759.7 1065.6,1761.6 1067.7,1763.2 1069.9,1764.5 1072.1,1765.5 1074.3,1766.3 1076.5,1766.9 1078.7,1767.4 1080.9,1768.0 1083.1,1768.6 1085.3,1769.4 1087.5,1770.2 1089.7,1771.1 1091.9,1772.0 1094.1,1772.9 1096.3,1773.7 1098.5,1774.4 1100.7,1775.0 1102.9,1775.5 1105.1,1775.9 1107.3,1776.4 1109.5,1776.8 1111.7,1777.2 1113.9,1777.6 1116.1,1778.0 1118.3,1778.4 1120.5,1778.7 1122.6,1779.1 1124.8,1779.3 1127.0,1779.6 1129.2,1779.8 1131.4,1780.0 1133.6,1780.2 1135.8,1780.3 1138.0,1780.4 1140.2,1780.4" fill="none" stroke="#4dbbe6" stroke-width="2.5" stroke-linejoin="round"/>
<path d="M867.9,1780.9 870.1,1780.9 872.3,1780.9 874.5,1780.9 876.7,1780.9 878.9,1780.9 881.1,1780.9 883.3,1780.9 885.5,1780.9 887.7,1780.9 889.9,1780.9 892.1,1780.9 894.3,1780.9 896.4,1780.8 898.6,1780.5 900.8,1780.0 903.0,1779.2 905.2,1778.2 907.4,1776.9 909.6,1775.1 911.8,1772.9 914.0,1770.1 916.2,1766.7 918.4,1762.8 920.6,1758.5 922.8,1753.6 925.0,1748.2 927.2,1742.2 929.4,1735.7 931.6,1728.7 933.8,1721.1 936.0,1713.0 938.2,1703.8 940.4,1694.2 942.6,1684.8 944.8,1675.7 947.0,1666.9 949.2,1658.2 951.4,1649.3 953.5,1639.5 955.7,1630.2 957.9,1623.4 960.1,1618.9 962.3,1615.6 964.5,1614.4 966.7,1614.7 968.9,1615.4 971.1,1616.3 973.3,1617.7 975.5,1620.2 977.7,1623.6 979.9,1627.3 982.1,1631.1 984.3,1634.8 986.5,1638.6 988.7,1642.5 990.9,1646.4 993.1,1650.3 995.3,1654.2 997.5,1658.2 999.7,1662.4 1001.9,1666.8 1004.1,1671.5 1006.3,1676.5 1008.5,1681.6 1010.6,1686.6 1012.8,1691.6 1015.0,1696.7 1017.2,1701.7 1019.4,1706.8 1021.6,1711.6 1023.8,1716.1 1026.0,1720.5 1028.2,1724.6 1030.4,1728.5 1032.6,1732.1 1034.8,1735.4 1037.0,1738.4 1039.2,1741.2 1041.4,1743.9 1043.6,1746.3 1045.8,1748.5 1048.0,1750.5 1050.2,1752.4 1052.4,1754.3 1054.6,1756.2 1056.8,1758.0 1059.0,1759.7 1061.2,1761.3 1063.4,1762.6 1065.6,1763.7 1067.7,1764.5 1069.9,1765.3 1072.1,1766.0 1074.3,1766.6 1076.5,1767.3 1078.7,1767.9 1080.9,1768.6 1083.1,1769.3 1085.3,1770.0 1087.5,1770.7 1089.7,1771.4 1091.9,1772.0 1094.1,1772.6 1096.3,1773.2 1098.5,1773.8 1100.7,1774.4 1102.9,1774.9 1105.1,1775.5 1107.3,1776.0 1109.5,1776.4 1111.7,1776.9 1113.9,1777.3 1116.1,1777.7 1118.3,1778.1 1120.5,1778.5 1122.6,1778.8 1124.8,1779.1 1127.0,1779.4 1129.2,1779.6 1131.4,1779.9 1133.6,1780.1 1135.8,1780.3 1138.0,1780.5 1140.2,1780.6" fill="none" stroke="#729ad9" stroke-width="2.5" stroke-linejoin="round"/>
<path d="M867.9,1780.9 870.1,1780.9 872.3,1780.9 874.5,1780.9 876.7,1780.9 878.9,1780.9 881.1,1780.9 883.3,1780.9 885.5,1780.9 887.7,1780.9 889.9,1780.9 892.1,1780.9 894.3,1780.9 896.4,1780.6 898.6,1780.1 900.8,1779.3 903.0,1778.3 905.2,1777.2 907.4,1775.9 909.6,1773.7 911.8,1770.8 914.0,1767.2 916.2,1763.2 918.4,1759.0 920.6,1754.5 922.8,1749.0 925.0,1742.9 927.2,1736.3 929.4,1729.5 931.6,1722.5 933.8,1715.1 936.0,1707.3 938.2,1699.2 940.4,1691.0 942.6,1682.3 944.8,1673.3 947.0,1664.2 949.2,1655.5 951.4,1647.1 953.5,1638.2 955.7,1629.8 957.9,1623.3 960.1,1619.6 962.3,1616.9 964.5,1616.0 966.7,1616.2 968.9,1616.8 971.1,1617.6 973.3,1618.6 975.5,1620.5 977.7,1623.7 979.9,1627.5 982.1,1631.5 984.3,1635.2 986.5,1638.9 988.7,1642.7 990.9,1646.6 993.1,1650.6 995.3,1654.8 997.5,1659.1 999.7,1663.6 1001.9,1668.0 1004.1,1672.5 1006.3,1676.9 1008.5,1681.3 1010.6,1685.7 1012.8,1690.1 1015.0,1694.5 1017.2,1699.0 1019.4,1703.5 1021.6,1707.9 1023.8,1712.2 1026.0,1716.1 1028.2,1719.9 1030.4,1723.5 1032.6,1727.0 1034.8,1730.4 1037.0,1733.5 1039.2,1736.5 1041.4,1739.4 1043.6,1742.1 1045.8,1744.7 1048.0,1747.2 1050.2,1749.4 1052.4,1751.7 1054.6,1753.9 1056.8,1756.2 1059.0,1758.2 1061.2,1760.0 1063.4,1761.4 1065.6,1762.4 1067.7,1762.9 1069.9,1763.3 1072.1,1763.6 1074.3,1763.9 1076.5,1764.2 1078.7,1764.5 1080.9,1764.9 1083.1,1765.4 1085.3,1766.0 1087.5,1766.6 1089.7,1767.2 1091.9,1767.9 1094.1,1768.6 1096.3,1769.3 1098.5,1769.9 1100.7,1770.6 1102.9,1771.3 1105.1,1772.0 1107.3,1772.8 1109.5,1773.5 1111.7,1774.2 1113.9,1774.9 1116.1,1775.6 1118.3,1776.2 1120.5,1776.7 1122.6,1777.2 1124.8,1777.7 1127.0,1778.2 1129.2,1778.6 1131.4,1779.0 1133.6,1779.4 1135.8,1779.8 1138.0,1780.1 1140.2,1780.4" fill="none" stroke="#4e72c6" stroke-width="2.5" stroke-linejoin="round"/>
<path d="M867.9,1780.9 870.1,1780.9 872.3,1780.9 874.5,1780.9 876.7,1780.9 878.9,1780.9 881.1,1780.9 883.3,1780.9 885.5,1780.9 887.7,1780.9 889.9,1780.9 892.1,1780.9 894.3,1780.9 896.4,1780.9 898.6,1780.9 900.8,1780.9 903.0,1780.9 905.2,1780.9 907.4,1780.6 909.6,1780.1 911.8,1779.5 914.0,1778.8 916.2,1778.0 918.4,1777.0 920.6,1775.4 922.8,1773.4 925.0,1770.9 927.2,1768.2 929.4,1765.2 931.6,1761.5 933.8,1756.8 936.0,1751.5 938.2,1745.9 940.4,1740.6 942.6,1735.3 944.8,1729.8 947.0,1724.3 949.2,1718.6 951.4,1712.9 953.5,1707.0 955.7,1701.0 957.9,1694.9 960.1,1688.6 962.3,1682.1 964.5,1675.3 966.7,1668.5 968.9,1661.9 971.1,1655.8 973.3,1649.2 975.5,1642.3 977.7,1636.5 979.9,1633.1 982.1,1632.7 984.3,1632.7 986.5,1632.7 988.7,1632.7 990.9,1634.0 993.1,1637.0 995.3,1640.3 997.5,1642.9 999.7,1645.3 1001.9,1647.7 1004.1,1649.9 1006.3,1651.7 1008.5,1653.0 1010.6,1654.0 1012.8,1654.9 1015.0,1656.0 1017.2,1657.3 1019.4,1659.0 1021.6,1661.0 1023.8,1663.7 1026.0,1667.6 1028.2,1674.2 1030.4,1681.8 1032.6,1688.7 1034.8,1694.5 1037.0,1700.2 1039.2,1706.1 1041.4,1713.0 1043.6,1721.3 1045.8,1729.1 1048.0,1734.6 1050.2,1738.2 1052.4,1741.2 1054.6,1743.6 1056.8,1745.8 1059.0,1747.8 1061.2,1749.6 1063.4,1751.2 1065.6,1752.7 1067.7,1754.3 1069.9,1756.0 1072.1,1757.7 1074.3,1759.4 1076.5,1761.1 1078.7,1762.5 1080.9,1763.8 1083.1,1765.0 1085.3,1766.2 1087.5,1767.3 1089.7,1768.3 1091.9,1769.3 1094.1,1770.2 1096.3,1771.0 1098.5,1771.8 1100.7,1772.6 1102.9,1773.3 1105.1,1774.1 1107.3,1774.7 1109.5,1775.3 1111.7,1775.9 1113.9,1776.4 1116.1,1776.8 1118.3,1777.3 1120.5,1777.7 1122.6,1778.1 1124.8,1778.5 1127.0,1778.9 1129.2,1779.2 1131.4,1779.5 1133.6,1779.8 1135.8,1780.0 1138.0,1780.2 1140.2,1780.4" fill="none" stroke="#e0464a" stroke-width="2.5" stroke-linejoin="round"/>
<path d="M867.9,1780.9 870.1,1780.9 872.3,1780.9 874.5,1780.9 876.7,1780.9 878.9,1780.9 881.1,1780.9 883.3,1780.9 885.5,1780.9 887.7,1780.9 889.9,1780.9 892.1,1780.9 894.3,1780.9 896.4,1780.9 898.6,1780.9 900.8,1780.7 903.0,1780.1 905.2,1779.1 907.4,1777.9 909.6,1776.6 911.8,1775.1 914.0,1773.0 916.2,1770.1 918.4,1766.5 920.6,1762.5 922.8,1758.1 925.0,1753.4 927.2,1748.1 929.4,1741.8 931.6,1734.8 933.8,1727.2 936.0,1718.7 938.2,1708.3 940.4,1697.4 942.6,1687.2 944.8,1678.2 947.0,1669.6 949.2,1661.0 951.4,1651.5 953.5,1640.7 955.7,1630.6 957.9,1623.4 960.1,1618.2 962.3,1614.2 964.5,1612.9 966.7,1613.2 968.9,1613.9 971.1,1614.9 973.3,1616.9 975.5,1619.9 977.7,1623.5 979.9,1627.2 982.1,1630.7 984.3,1634.4 986.5,1638.3 988.7,1642.3 990.9,1646.2 993.1,1650.0 995.3,1653.6 997.5,1657.3 999.7,1661.2 1001.9,1665.6 1004.1,1670.6 1006.3,1676.1 1008.5,1681.9 1010.6,1687.6 1012.8,1693.2 1015.0,1698.8 1017.2,1704.5 1019.4,1710.0 1021.6,1715.2 1023.8,1720.1 1026.0,1724.9 1028.2,1729.4 1030.4,1733.5 1032.6,1737.2 1034.8,1740.4 1037.0,1743.3 1039.2,1746.0 1041.4,1748.4 1043.6,1750.5 1045.8,1752.3 1048.0,1753.9 1050.2,1755.4 1052.4,1756.9 1054.6,1758.4 1056.8,1759.8 1059.0,1761.2 1061.2,1762.5 1063.4,1763.8 1065.6,1765.0 1067.7,1766.2 1069.9,1767.3 1072.1,1768.3 1074.3,1769.4 1076.5,1770.3 1078.7,1771.3 1080.9,1772.3 1083.1,1773.2 1085.3,1774.1 1087.5,1774.8 1089.7,1775.5 1091.9,1776.1 1094.1,1776.7 1096.3,1777.2 1098.5,1777.8 1100.7,1778.2 1102.9,1778.6 1105.1,1778.9 1107.3,1779.1 1109.5,1779.3 1111.7,1779.5 1113.9,1779.7 1116.1,1779.9 1118.3,1780.0 1120.5,1780.2 1122.6,1780.3 1124.8,1780.5 1127.0,1780.6 1129.2,1780.7 1131.4,1780.7 1133.6,1780.8 1135.8,1780.9 1138.0,1780.9 1140.2,1780.9" fill="none" stroke="#f0b123" stroke-width="2.5" stroke-linejoin="round"/>
<rect x="867.9" y="1600.6" width="272.3" height="180.3" fill="none" stroke="#8e8e8e" stroke-width="1.6"/>
<line x1="867.9" y1="1600.6" x2="1140.2" y2="1600.6" stroke="#3a3a3a" stroke-width="1.4"/>
<line x1="867.9" y1="1780.9" x2="867.9" y2="1784.9" stroke="#8a8a8a" stroke-width="1.2"/>
<text transform="translate(867.9 1803.4) scale(1.06 1)" x="0" y="0" font-size="20" text-anchor="middle" fill="#2e2e2e">0</text>
<line x1="959.1" y1="1780.9" x2="959.1" y2="1784.9" stroke="#8a8a8a" stroke-width="1.2"/>
<text transform="translate(959.1 1803.4) scale(1.06 1)" x="0" y="0" font-size="20" text-anchor="middle" fill="#2e2e2e">200</text>
<line x1="1049.8" y1="1780.9" x2="1049.8" y2="1784.9" stroke="#8a8a8a" stroke-width="1.2"/>
<text transform="translate(1049.8 1803.4) scale(1.06 1)" x="0" y="0" font-size="20" text-anchor="middle" fill="#2e2e2e">400</text>
<line x1="1140.2" y1="1780.9" x2="1140.2" y2="1784.9" stroke="#8a8a8a" stroke-width="1.2"/>
<text transform="translate(1140.2 1803.4) scale(1.06 1)" x="0" y="0" font-size="20" text-anchor="middle" fill="#2e2e2e">600</text>
<line x1="863.9" y1="1656.6" x2="867.9" y2="1656.6" stroke="#8a8a8a" stroke-width="1.2"/>
<text transform="translate(859.9 1663.9) scale(1.05 1)" x="0" y="0" font-size="20" text-anchor="end" fill="#2e2e2e">0.004</text>
<line x1="863.9" y1="1718.2" x2="867.9" y2="1718.2" stroke="#8a8a8a" stroke-width="1.2"/>
<text transform="translate(859.9 1725.5) scale(1.05 1)" x="0" y="0" font-size="20" text-anchor="end" fill="#2e2e2e">0.002</text>
<line x1="863.9" y1="1780.9" x2="867.9" y2="1780.9" stroke="#8a8a8a" stroke-width="1.2"/>
<text transform="translate(859.9 1788.2) scale(1.05 1)" x="0" y="0" font-size="20" text-anchor="end" fill="#2e2e2e">0.000</text>
<text transform="translate(1028.5 1826.7) scale(1.04 1)" x="0" y="0" font-size="20" text-anchor="middle" fill="#2e2e2e">Perim (μm)</text>
<text x="800.2" y="1692.5" font-size="20.5" text-anchor="middle" fill="#2e2e2e" textLength="98.0" lengthAdjust="spacingAndGlyphs" transform="rotate(-90 800.2 1692.5)">Probability</text>
<path d="M1206.4,1781.4 1208.6,1781.4 1210.8,1781.3 1213.0,1781.3 1215.2,1781.2 1217.3,1781.1 1219.5,1781.0 1221.7,1780.9 1223.9,1780.7 1226.1,1780.6 1228.3,1780.4 1230.5,1780.2 1232.6,1779.9 1234.8,1779.7 1237.0,1779.4 1239.2,1779.0 1241.4,1778.4 1243.6,1777.5 1245.8,1776.6 1247.9,1775.4 1250.1,1774.2 1252.3,1772.9 1254.5,1771.4 1256.7,1769.4 1258.9,1767.1 1261.1,1764.5 1263.2,1761.6 1265.4,1758.6 1267.6,1755.4 1269.8,1752.2 1272.0,1748.5 1274.2,1744.5 1276.4,1740.2 1278.5,1735.6 1280.7,1730.8 1282.9,1725.9 1285.1,1720.8 1287.3,1715.1 1289.5,1709.0 1291.7,1702.7 1293.9,1696.5 1296.0,1690.6 1298.2,1684.8 1300.4,1679.1 1302.6,1673.5 1304.8,1668.4 1307.0,1663.8 1309.2,1659.6 1311.3,1655.6 1313.5,1651.9 1315.7,1648.5 1317.9,1645.4 1320.1,1642.6 1322.3,1640.0 1324.5,1637.5 1326.6,1635.2 1328.8,1632.8 1331.0,1630.3 1333.2,1627.7 1335.4,1624.8 1337.6,1621.7 1339.8,1618.7 1341.9,1616.2 1344.1,1614.4 1346.3,1612.9 1348.5,1611.6 1350.7,1610.9 1352.9,1610.9 1355.1,1611.4 1357.2,1612.2 1359.4,1613.2 1361.6,1614.4 1363.8,1615.9 1366.0,1618.1 1368.2,1621.0 1370.4,1624.1 1372.5,1627.5 1374.7,1631.0 1376.9,1635.0 1379.1,1639.3 1381.3,1644.0 1383.5,1649.1 1385.7,1654.7 1387.8,1661.2 1390.0,1668.2 1392.2,1675.1 1394.4,1681.7 1396.6,1688.0 1398.8,1694.2 1401.0,1700.3 1403.1,1706.2 1405.3,1711.7 1407.5,1717.1 1409.7,1722.3 1411.9,1727.3 1414.1,1732.0 1416.3,1736.1 1418.4,1739.8 1420.6,1743.3 1422.8,1746.5 1425.0,1749.5 1427.2,1752.2 1429.4,1754.7 1431.6,1757.1 1433.7,1759.3 1435.9,1761.1 1438.1,1762.7 1440.3,1764.0 1442.5,1765.3 1444.7,1766.4 1446.9,1767.4 1449.0,1768.3 1451.2,1769.0 1453.4,1769.6 1455.6,1770.2 1457.8,1770.8 1460.0,1771.3 1462.2,1771.7 1464.3,1772.0 1466.5,1772.3 1468.7,1772.4 1470.9,1772.6 1473.1,1772.7 1475.3,1772.7 1477.5,1772.8 1479.6,1772.9 1481.8,1773.0 1484.0,1773.1 1486.2,1773.2 1488.4,1773.4 1490.6,1773.6 1492.8,1774.0 1494.9,1774.5 1497.1,1775.0 1499.3,1775.6 1501.5,1776.1 1503.7,1776.7 1505.9,1777.3 1508.1,1777.8 1510.3,1778.4 1512.4,1779.0 1514.6,1779.7 1516.8,1780.3" fill="none" stroke="#a3a3a3" stroke-width="2.5" stroke-linejoin="round"/>
<path d="M1206.4,1781.4 1208.6,1781.4 1210.8,1781.4 1213.0,1781.3 1215.2,1781.3 1217.3,1781.3 1219.5,1781.2 1221.7,1781.1 1223.9,1781.0 1226.1,1780.9 1228.3,1780.8 1230.5,1780.7 1232.6,1780.6 1234.8,1780.4 1237.0,1780.3 1239.2,1779.9 1241.4,1779.2 1243.6,1778.3 1245.8,1777.1 1247.9,1775.8 1250.1,1774.4 1252.3,1772.9 1254.5,1771.1 1256.7,1768.7 1258.9,1765.8 1261.1,1762.6 1263.2,1759.3 1265.4,1756.0 1267.6,1752.8 1269.8,1749.4 1272.0,1745.9 1274.2,1742.3 1276.4,1738.7 1278.5,1735.1 1280.7,1731.6 1282.9,1728.0 1285.1,1724.4 1287.3,1720.8 1289.5,1717.3 1291.7,1714.0 1293.9,1710.9 1296.0,1707.7 1298.2,1704.6 1300.4,1701.6 1302.6,1698.9 1304.8,1696.4 1307.0,1694.3 1309.2,1692.4 1311.3,1690.6 1313.5,1689.0 1315.7,1687.5 1317.9,1686.1 1320.1,1684.9 1322.3,1683.7 1324.5,1682.7 1326.6,1681.7 1328.8,1680.7 1331.0,1679.7 1333.2,1678.8 1335.4,1677.8 1337.6,1676.8 1339.8,1675.9 1341.9,1675.0 1344.1,1674.1 1346.3,1673.2 1348.5,1672.2 1350.7,1671.1 1352.9,1669.9 1355.1,1668.6 1357.2,1667.1 1359.4,1665.4 1361.6,1663.8 1363.8,1662.1 1366.0,1660.4 1368.2,1658.6 1370.4,1656.7 1372.5,1654.8 1374.7,1653.2 1376.9,1652.1 1379.1,1651.2 1381.3,1650.8 1383.5,1650.8 1385.7,1651.1 1387.8,1651.7 1390.0,1652.7 1392.2,1653.8 1394.4,1655.0 1396.6,1656.4 1398.8,1658.1 1401.0,1660.2 1403.1,1662.4 1405.3,1664.6 1407.5,1666.8 1409.7,1668.8 1411.9,1670.9 1414.1,1673.0 1416.3,1675.2 1418.4,1677.5 1420.6,1679.8 1422.8,1682.2 1425.0,1684.7 1427.2,1687.2 1429.4,1689.8 1431.6,1692.5 1433.7,1695.4 1435.9,1698.4 1438.1,1701.7 1440.3,1705.2 1442.5,1708.8 1444.7,1712.3 1446.9,1715.8 1449.0,1719.3 1451.2,1722.9 1453.4,1726.4 1455.6,1729.7 1457.8,1733.0 1460.0,1736.1 1462.2,1739.1 1464.3,1742.0 1466.5,1744.9 1468.7,1747.5 1470.9,1750.1 1473.1,1752.5 1475.3,1754.9 1477.5,1757.2 1479.6,1759.5 1481.8,1761.6 1484.0,1763.6 1486.2,1765.4 1488.4,1767.1 1490.6,1768.6 1492.8,1769.9 1494.9,1771.2 1497.1,1772.3 1499.3,1773.2 1501.5,1774.1 1503.7,1775.0 1505.9,1775.7 1508.1,1776.5 1510.3,1777.1 1512.4,1777.7 1514.6,1778.2 1516.8,1778.6" fill="none" stroke="#8fd3e2" stroke-width="2.5" stroke-linejoin="round"/>
<path d="M1206.4,1781.4 1208.6,1781.4 1210.8,1781.4 1213.0,1781.3 1215.2,1781.3 1217.3,1781.3 1219.5,1781.2 1221.7,1781.1 1223.9,1781.0 1226.1,1780.9 1228.3,1780.8 1230.5,1780.7 1232.6,1780.6 1234.8,1780.4 1237.0,1780.3 1239.2,1779.9 1241.4,1779.2 1243.6,1778.3 1245.8,1777.2 1247.9,1775.9 1250.1,1774.5 1252.3,1772.9 1254.5,1771.0 1256.7,1768.4 1258.9,1765.2 1261.1,1761.8 1263.2,1758.2 1265.4,1754.7 1267.6,1751.4 1269.8,1748.0 1272.0,1744.5 1274.2,1740.9 1276.4,1737.3 1278.5,1733.8 1280.7,1730.2 1282.9,1726.5 1285.1,1722.8 1287.3,1719.1 1289.5,1715.6 1291.7,1712.5 1293.9,1709.8 1296.0,1707.3 1298.2,1705.0 1300.4,1702.8 1302.6,1700.8 1304.8,1698.9 1307.0,1697.1 1309.2,1695.4 1311.3,1693.9 1313.5,1692.4 1315.7,1691.0 1317.9,1689.6 1320.1,1688.3 1322.3,1687.0 1324.5,1685.8 1326.6,1684.6 1328.8,1683.4 1331.0,1682.3 1333.2,1681.3 1335.4,1680.3 1337.6,1679.3 1339.8,1678.5 1341.9,1677.8 1344.1,1677.1 1346.3,1676.4 1348.5,1675.8 1350.7,1675.1 1352.9,1674.3 1355.1,1673.4 1357.2,1672.2 1359.4,1671.0 1361.6,1669.6 1363.8,1668.1 1366.0,1666.7 1368.2,1665.4 1370.4,1663.8 1372.5,1662.1 1374.7,1660.4 1376.9,1658.9 1379.1,1658.0 1381.3,1657.7 1383.5,1657.8 1385.7,1658.1 1387.8,1658.5 1390.0,1659.1 1392.2,1659.7 1394.4,1660.3 1396.6,1661.1 1398.8,1662.2 1401.0,1663.5 1403.1,1665.0 1405.3,1666.5 1407.5,1668.2 1409.7,1669.9 1411.9,1671.9 1414.1,1674.1 1416.3,1676.4 1418.4,1678.7 1420.6,1681.1 1422.8,1683.6 1425.0,1686.0 1427.2,1688.6 1429.4,1691.3 1431.6,1694.0 1433.7,1696.7 1435.9,1699.6 1438.1,1702.6 1440.3,1705.6 1442.5,1708.8 1444.7,1711.9 1446.9,1715.0 1449.0,1718.1 1451.2,1721.2 1453.4,1724.3 1455.6,1727.5 1457.8,1730.5 1460.0,1733.5 1462.2,1736.3 1464.3,1739.1 1466.5,1741.8 1468.7,1744.5 1470.9,1747.1 1473.1,1749.5 1475.3,1752.0 1477.5,1754.4 1479.6,1756.8 1481.8,1759.2 1484.0,1761.4 1486.2,1763.3 1488.4,1764.9 1490.6,1766.3 1492.8,1767.6 1494.9,1768.8 1497.1,1769.8 1499.3,1770.8 1501.5,1771.7 1503.7,1772.6 1505.9,1773.5 1508.1,1774.2 1510.3,1775.0 1512.4,1775.7 1514.6,1776.3 1516.8,1776.8" fill="none" stroke="#4dbbe6" stroke-width="2.5" stroke-linejoin="round"/>
<path d="M1206.4,1781.4 1208.6,1781.4 1210.8,1781.4 1213.0,1781.3 1215.2,1781.3 1217.3,1781.3 1219.5,1781.2 1221.7,1781.1 1223.9,1781.0 1226.1,1780.9 1228.3,1780.8 1230.5,1780.7 1232.6,1780.6 1234.8,1780.4 1237.0,1780.3 1239.2,1779.9 1241.4,1779.2 1243.6,1778.2 1245.8,1777.1 1247.9,1775.8 1250.1,1774.4 1252.3,1772.9 1254.5,1771.1 1256.7,1768.8 1258.9,1766.0 1261.1,1762.9 1263.2,1759.7 1265.4,1756.5 1267.6,1753.4 1269.8,1750.1 1272.0,1746.7 1274.2,1743.1 1276.4,1739.4 1278.5,1735.8 1280.7,1732.3 1282.9,1728.9 1285.1,1725.5 1287.3,1722.2 1289.5,1719.1 1291.7,1716.3 1293.9,1713.8 1296.0,1711.7 1298.2,1709.7 1300.4,1708.0 1302.6,1706.3 1304.8,1704.8 1307.0,1703.3 1309.2,1701.9 1311.3,1700.4 1313.5,1699.1 1315.7,1697.7 1317.9,1696.4 1320.1,1695.1 1322.3,1693.7 1324.5,1692.3 1326.6,1691.0 1328.8,1689.6 1331.0,1688.1 1333.2,1686.7 1335.4,1685.1 1337.6,1683.6 1339.8,1681.8 1341.9,1679.9 1344.1,1677.7 1346.3,1675.5 1348.5,1673.2 1350.7,1671.1 1352.9,1669.0 1355.1,1666.8 1357.2,1664.4 1359.4,1662.1 1361.6,1659.9 1363.8,1658.0 1366.0,1656.5 1368.2,1655.0 1370.4,1653.5 1372.5,1652.2 1374.7,1651.0 1376.9,1650.3 1379.1,1650.2 1381.3,1650.5 1383.5,1651.3 1385.7,1652.2 1387.8,1653.5 1390.0,1655.3 1392.2,1657.6 1394.4,1659.8 1396.6,1661.8 1398.8,1663.4 1401.0,1665.0 1403.1,1666.6 1405.3,1668.1 1407.5,1669.7 1409.7,1671.5 1411.9,1673.4 1414.1,1675.5 1416.3,1677.8 1418.4,1680.1 1420.6,1682.4 1422.8,1684.8 1425.0,1687.2 1427.2,1689.7 1429.4,1692.2 1431.6,1694.8 1433.7,1697.5 1435.9,1700.4 1438.1,1703.6 1440.3,1707.1 1442.5,1710.9 1444.7,1714.8 1446.9,1718.7 1449.0,1722.4 1451.2,1726.3 1453.4,1730.2 1455.6,1734.0 1457.8,1737.6 1460.0,1740.7 1462.2,1743.7 1464.3,1746.5 1466.5,1749.2 1468.7,1751.7 1470.9,1754.1 1473.1,1756.3 1475.3,1758.4 1477.5,1760.4 1479.6,1762.4 1481.8,1764.3 1484.0,1766.1 1486.2,1767.6 1488.4,1768.9 1490.6,1770.1 1492.8,1771.2 1494.9,1772.2 1497.1,1773.1 1499.3,1773.9 1501.5,1774.7 1503.7,1775.4 1505.9,1775.9 1508.1,1776.5 1510.3,1777.0 1512.4,1777.5 1514.6,1777.9 1516.8,1778.2" fill="none" stroke="#729ad9" stroke-width="2.5" stroke-linejoin="round"/>
<path d="M1206.4,1781.4 1208.6,1781.4 1210.8,1781.4 1213.0,1781.3 1215.2,1781.3 1217.3,1781.3 1219.5,1781.2 1221.7,1781.1 1223.9,1781.0 1226.1,1780.9 1228.3,1780.8 1230.5,1780.7 1232.6,1780.6 1234.8,1780.4 1237.0,1780.3 1239.2,1779.8 1241.4,1779.1 1243.6,1778.2 1245.8,1777.1 1247.9,1775.8 1250.1,1774.4 1252.3,1772.9 1254.5,1771.3 1256.7,1769.2 1258.9,1766.8 1261.1,1764.1 1263.2,1761.3 1265.4,1758.3 1267.6,1755.3 1269.8,1752.3 1272.0,1748.9 1274.2,1745.2 1276.4,1741.5 1278.5,1737.8 1280.7,1734.4 1282.9,1731.3 1285.1,1728.3 1287.3,1725.4 1289.5,1722.6 1291.7,1720.1 1293.9,1717.9 1296.0,1716.0 1298.2,1714.5 1300.4,1713.1 1302.6,1711.9 1304.8,1710.7 1307.0,1709.6 1309.2,1708.3 1311.3,1707.0 1313.5,1705.8 1315.7,1704.5 1317.9,1703.2 1320.1,1701.9 1322.3,1700.4 1324.5,1698.9 1326.6,1697.3 1328.8,1695.7 1331.0,1693.9 1333.2,1692.1 1335.4,1690.0 1337.6,1687.8 1339.8,1685.2 1341.9,1682.0 1344.1,1678.4 1346.3,1674.5 1348.5,1670.7 1350.7,1667.1 1352.9,1663.7 1355.1,1660.2 1357.2,1656.6 1359.4,1653.3 1361.6,1650.3 1363.8,1647.9 1366.0,1646.2 1368.2,1644.7 1370.4,1643.3 1372.5,1642.2 1374.7,1641.7 1376.9,1641.7 1379.1,1642.3 1381.3,1643.4 1383.5,1644.8 1385.7,1646.4 1387.8,1648.4 1390.0,1651.6 1392.2,1655.4 1394.4,1659.3 1396.6,1662.4 1398.8,1664.7 1401.0,1666.5 1403.1,1668.2 1405.3,1669.7 1407.5,1671.3 1409.7,1673.1 1411.9,1675.0 1414.1,1677.0 1416.3,1679.2 1418.4,1681.4 1420.6,1683.6 1422.8,1686.0 1425.0,1688.3 1427.2,1690.7 1429.4,1693.1 1431.6,1695.6 1433.7,1698.3 1435.9,1701.2 1438.1,1704.5 1440.3,1708.5 1442.5,1713.0 1444.7,1717.7 1446.9,1722.3 1449.0,1726.8 1451.2,1731.5 1453.4,1736.2 1455.6,1740.6 1457.8,1744.6 1460.0,1747.9 1462.2,1751.0 1464.3,1753.9 1466.5,1756.5 1468.7,1758.9 1470.9,1761.1 1473.1,1763.0 1475.3,1764.8 1477.5,1766.4 1479.6,1768.0 1481.8,1769.4 1484.0,1770.7 1486.2,1771.9 1488.4,1772.9 1490.6,1773.9 1492.8,1774.8 1494.9,1775.6 1497.1,1776.4 1499.3,1777.1 1501.5,1777.6 1503.7,1778.1 1505.9,1778.4 1508.1,1778.8 1510.3,1779.1 1512.4,1779.3 1514.6,1779.5 1516.8,1779.5" fill="none" stroke="#4e72c6" stroke-width="2.5" stroke-linejoin="round"/>
<path d="M1206.4,1781.4 1208.6,1781.4 1210.8,1781.3 1213.0,1781.2 1215.2,1781.1 1217.3,1780.9 1219.5,1780.7 1221.7,1780.4 1223.9,1780.2 1226.1,1779.9 1228.3,1779.5 1230.5,1779.0 1232.6,1778.3 1234.8,1777.2 1237.0,1776.0 1239.2,1774.6 1241.4,1773.1 1243.6,1771.4 1245.8,1769.1 1247.9,1766.6 1250.1,1763.7 1252.3,1760.7 1254.5,1757.7 1256.7,1754.6 1258.9,1751.3 1261.1,1747.9 1263.2,1744.3 1265.4,1740.6 1267.6,1736.9 1269.8,1733.2 1272.0,1729.2 1274.2,1725.1 1276.4,1721.0 1278.5,1717.0 1280.7,1713.2 1282.9,1709.7 1285.1,1706.4 1287.3,1703.3 1289.5,1700.2 1291.7,1697.3 1293.9,1694.4 1296.0,1691.6 1298.2,1688.6 1300.4,1685.7 1302.6,1682.9 1304.8,1680.3 1307.0,1678.0 1309.2,1676.1 1311.3,1674.5 1313.5,1673.2 1315.7,1672.0 1317.9,1670.8 1320.1,1669.6 1322.3,1668.3 1324.5,1666.8 1326.6,1665.3 1328.8,1663.7 1331.0,1662.2 1333.2,1660.7 1335.4,1659.3 1337.6,1658.0 1339.8,1656.8 1341.9,1655.6 1344.1,1654.4 1346.3,1653.2 1348.5,1652.3 1350.7,1651.5 1352.9,1651.1 1355.1,1651.0 1357.2,1651.1 1359.4,1651.2 1361.6,1651.4 1363.8,1651.7 1366.0,1652.0 1368.2,1652.4 1370.4,1653.2 1372.5,1654.4 1374.7,1655.9 1376.9,1657.5 1379.1,1659.1 1381.3,1660.5 1383.5,1661.8 1385.7,1663.0 1387.8,1664.3 1390.0,1665.6 1392.2,1666.9 1394.4,1668.4 1396.6,1669.9 1398.8,1671.5 1401.0,1673.3 1403.1,1675.1 1405.3,1676.9 1407.5,1678.8 1409.7,1680.8 1411.9,1682.8 1414.1,1684.9 1416.3,1687.2 1418.4,1689.7 1420.6,1692.5 1422.8,1695.7 1425.0,1699.0 1427.2,1702.6 1429.4,1706.1 1431.6,1709.7 1433.7,1713.6 1435.9,1717.5 1438.1,1721.4 1440.3,1725.2 1442.5,1729.1 1444.7,1733.0 1446.9,1736.9 1449.0,1740.7 1451.2,1744.3 1453.4,1747.9 1455.6,1751.5 1457.8,1754.9 1460.0,1757.8 1462.2,1760.3 1464.3,1762.4 1466.5,1764.3 1468.7,1766.0 1470.9,1767.6 1473.1,1769.1 1475.3,1770.5 1477.5,1771.8 1479.6,1773.0 1481.8,1774.1 1484.0,1775.2 1486.2,1776.1 1488.4,1776.9 1490.6,1777.7 1492.8,1778.4 1494.9,1779.0 1497.1,1779.5 1499.3,1780.0 1501.5,1780.3 1503.7,1780.6 1505.9,1780.8 1508.1,1781.0 1510.3,1781.1 1512.4,1781.3 1514.6,1781.4 1516.8,1781.4" fill="none" stroke="#e0464a" stroke-width="2.5" stroke-linejoin="round"/>
<path d="M1206.4,1781.4 1208.6,1781.4 1210.8,1781.4 1213.0,1781.3 1215.2,1781.3 1217.3,1781.3 1219.5,1781.2 1221.7,1781.1 1223.9,1781.0 1226.1,1780.9 1228.3,1780.8 1230.5,1780.7 1232.6,1780.6 1234.8,1780.4 1237.0,1780.3 1239.2,1779.9 1241.4,1779.2 1243.6,1778.2 1245.8,1777.1 1247.9,1775.8 1250.1,1774.4 1252.3,1772.9 1254.5,1771.2 1256.7,1769.0 1258.9,1766.3 1261.1,1763.4 1263.2,1760.4 1265.4,1757.4 1267.6,1754.3 1269.8,1750.9 1272.0,1747.4 1274.2,1743.7 1276.4,1740.1 1278.5,1736.5 1280.7,1733.0 1282.9,1729.5 1285.1,1726.0 1287.3,1722.5 1289.5,1719.0 1291.7,1715.5 1293.9,1711.9 1296.0,1708.1 1298.2,1704.3 1300.4,1700.5 1302.6,1697.0 1304.8,1693.9 1307.0,1691.5 1309.2,1689.4 1311.3,1687.4 1313.5,1685.6 1315.7,1684.0 1317.9,1682.6 1320.1,1681.4 1322.3,1680.4 1324.5,1679.5 1326.6,1678.8 1328.8,1678.0 1331.0,1677.2 1333.2,1676.2 1335.4,1675.3 1337.6,1674.3 1339.8,1673.3 1341.9,1672.2 1344.1,1671.1 1346.3,1669.9 1348.5,1668.6 1350.7,1667.2 1352.9,1665.5 1355.1,1663.8 1357.2,1661.9 1359.4,1659.9 1361.6,1657.9 1363.8,1656.0 1366.0,1654.1 1368.2,1651.9 1370.4,1649.6 1372.5,1647.6 1374.7,1646.0 1376.9,1645.2 1379.1,1644.5 1381.3,1644.0 1383.5,1643.7 1385.7,1644.0 1387.8,1645.0 1390.0,1646.3 1392.2,1647.9 1394.4,1649.6 1396.6,1651.6 1398.8,1654.1 1401.0,1656.9 1403.1,1659.8 1405.3,1662.7 1407.5,1665.4 1409.7,1667.7 1411.9,1669.9 1414.1,1672.0 1416.3,1674.1 1418.4,1676.2 1420.6,1678.5 1422.8,1680.9 1425.0,1683.3 1427.2,1685.7 1429.4,1688.3 1431.6,1691.0 1433.7,1694.0 1435.9,1697.2 1438.1,1700.8 1440.3,1704.8 1442.5,1708.8 1444.7,1712.8 1446.9,1716.7 1449.0,1720.6 1451.2,1724.6 1453.4,1728.4 1455.6,1732.0 1457.8,1735.4 1460.0,1738.7 1462.2,1741.9 1464.3,1745.0 1466.5,1747.9 1468.7,1750.6 1470.9,1753.1 1473.1,1755.5 1475.3,1757.9 1477.5,1760.0 1479.6,1762.1 1481.8,1764.0 1484.0,1765.8 1486.2,1767.5 1488.4,1769.2 1490.6,1770.8 1492.8,1772.3 1494.9,1773.6 1497.1,1774.8 1499.3,1775.7 1501.5,1776.5 1503.7,1777.3 1505.9,1778.0 1508.1,1778.7 1510.3,1779.3 1512.4,1779.8 1514.6,1780.1 1516.8,1780.3" fill="none" stroke="#f0b123" stroke-width="2.5" stroke-linejoin="round"/>
<rect x="1206.4" y="1602.0" width="310.4" height="179.4" fill="none" stroke="#8e8e8e" stroke-width="1.6"/>
<line x1="1206.4" y1="1781.4" x2="1206.4" y2="1785.4" stroke="#8a8a8a" stroke-width="1.2"/>
<text transform="translate(1206.4 1803.9) scale(1.06 1)" x="0" y="0" font-size="20" text-anchor="middle" fill="#2e2e2e">0.00</text>
<line x1="1284.0" y1="1781.4" x2="1284.0" y2="1785.4" stroke="#8a8a8a" stroke-width="1.2"/>
<text transform="translate(1284.0 1803.9) scale(1.06 1)" x="0" y="0" font-size="20" text-anchor="middle" fill="#2e2e2e">0.25</text>
<line x1="1361.0" y1="1781.4" x2="1361.0" y2="1785.4" stroke="#8a8a8a" stroke-width="1.2"/>
<text transform="translate(1361.0 1803.9) scale(1.06 1)" x="0" y="0" font-size="20" text-anchor="middle" fill="#2e2e2e">0.50</text>
<line x1="1438.6" y1="1781.4" x2="1438.6" y2="1785.4" stroke="#8a8a8a" stroke-width="1.2"/>
<text transform="translate(1438.6 1803.9) scale(1.06 1)" x="0" y="0" font-size="20" text-anchor="middle" fill="#2e2e2e">0.75</text>
<line x1="1516.8" y1="1781.4" x2="1516.8" y2="1785.4" stroke="#8a8a8a" stroke-width="1.2"/>
<text transform="translate(1516.8 1803.9) scale(1.06 1)" x="0" y="0" font-size="20" text-anchor="middle" fill="#2e2e2e">1.00</text>
<line x1="1202.4" y1="1781.4" x2="1206.4" y2="1781.4" stroke="#8a8a8a" stroke-width="1.2"/>
<text transform="translate(1198.4 1788.7) scale(1.05 1)" x="0" y="0" font-size="20" text-anchor="end" fill="#2e2e2e">0</text>
<line x1="1202.4" y1="1720.0" x2="1206.4" y2="1720.0" stroke="#8a8a8a" stroke-width="1.2"/>
<text transform="translate(1198.4 1727.3) scale(1.05 1)" x="0" y="0" font-size="20" text-anchor="end" fill="#2e2e2e">1</text>
<line x1="1202.4" y1="1659.0" x2="1206.4" y2="1659.0" stroke="#8a8a8a" stroke-width="1.2"/>
<text transform="translate(1198.4 1666.3) scale(1.05 1)" x="0" y="0" font-size="20" text-anchor="end" fill="#2e2e2e">2</text>
<text transform="translate(1361.0 1827.2) scale(1.04 1)" x="0" y="0" font-size="20" text-anchor="middle" fill="#2e2e2e">Circ</text>
<text x="1180.3" y="1693.6" font-size="20.5" text-anchor="middle" fill="#2e2e2e" textLength="98.0" lengthAdjust="spacingAndGlyphs" transform="rotate(-90 1180.3 1693.6)">Probability</text>
<path d="M140.0,2026.0 142.2,2026.0 144.4,2025.9 146.6,2025.9 148.8,2025.7 151.0,2025.6 153.2,2025.4 155.4,2024.8 157.6,2022.6 159.7,2019.0 161.9,2014.8 164.1,2008.6 166.3,1999.7 168.5,1989.3 170.7,1977.9 172.9,1963.6 175.1,1948.0 177.3,1932.6 179.5,1917.1 181.7,1901.2 183.9,1887.1 186.1,1876.4 188.2,1867.3 190.4,1860.3 192.6,1856.0 194.8,1852.8 197.0,1851.9 199.2,1852.7 201.4,1854.3 203.6,1856.5 205.8,1860.9 208.0,1865.8 210.2,1869.6 212.4,1873.2 214.6,1876.8 216.8,1880.4 218.9,1883.8 221.1,1887.3 223.3,1891.3 225.5,1896.4 227.7,1902.4 229.9,1908.7 232.1,1914.5 234.3,1920.1 236.5,1925.7 238.7,1931.1 240.9,1936.4 243.1,1941.6 245.3,1946.8 247.4,1951.8 249.6,1956.7 251.8,1961.2 254.0,1965.3 256.2,1969.3 258.4,1973.0 260.6,1976.7 262.8,1980.2 265.0,1984.0 267.2,1987.6 269.4,1991.0 271.6,1993.7 273.8,1995.7 276.0,1997.3 278.1,1998.6 280.3,1999.7 282.5,2000.5 284.7,2001.2 286.9,2001.8 289.1,2002.3 291.3,2002.9 293.5,2003.6 295.7,2004.3 297.9,2005.1 300.1,2005.9 302.3,2006.8 304.5,2008.0 306.6,2009.7 308.8,2011.6 311.0,2013.5 313.2,2014.9 315.4,2015.9 317.6,2016.8 319.8,2017.7 322.0,2018.4 324.2,2019.1 326.4,2019.6 328.6,2020.1 330.8,2020.4 333.0,2020.7 335.1,2020.9 337.3,2021.2 339.5,2021.4 341.7,2021.6 343.9,2021.7 346.1,2021.9 348.3,2022.1 350.5,2022.3 352.7,2022.5 354.9,2022.7 357.1,2023.0 359.3,2023.3 361.5,2023.6 363.7,2023.9 365.8,2024.2 368.0,2024.5 370.2,2024.8 372.4,2025.0 374.6,2025.2 376.8,2025.4 379.0,2025.5 381.2,2025.6 383.4,2025.7 385.6,2025.8 387.8,2025.9 390.0,2026.0 392.2,2026.0 394.3,2026.0" fill="none" stroke="#a8a8a8" stroke-width="3.0" stroke-linejoin="round"/>
<path d="M140.0,2026.0 142.2,2026.0 144.4,2025.9 146.6,2025.9 148.8,2025.7 151.0,2025.6 153.2,2025.4 155.4,2024.8 157.6,2022.5 159.7,2019.0 161.9,2014.8 164.1,2008.9 166.3,2000.7 168.5,1991.3 170.7,1981.3 172.9,1969.6 175.1,1957.2 177.3,1945.5 179.5,1934.6 181.7,1924.0 183.9,1914.2 186.1,1905.3 188.2,1896.5 190.4,1889.7 192.6,1886.0 194.8,1884.0 197.0,1884.0 199.2,1884.4 201.4,1884.9 203.6,1885.4 205.8,1886.2 208.0,1887.2 210.2,1888.5 212.4,1889.8 214.6,1891.3 216.8,1892.9 218.9,1894.8 221.1,1896.9 223.3,1899.2 225.5,1901.7 227.7,1904.5 229.9,1907.6 232.1,1911.1 234.3,1915.3 236.5,1919.8 238.7,1924.5 240.9,1929.0 243.1,1933.1 245.3,1937.2 247.4,1941.2 249.6,1944.9 251.8,1948.3 254.0,1951.2 256.2,1953.9 258.4,1956.5 260.6,1959.1 262.8,1962.1 265.0,1965.4 267.2,1968.9 269.4,1972.4 271.6,1975.5 273.8,1978.1 276.0,1980.5 278.1,1982.6 280.3,1984.7 282.5,1986.7 284.7,1988.5 286.9,1990.3 289.1,1992.1 291.3,1993.8 293.5,1995.5 295.7,1997.2 297.9,1999.0 300.1,2000.9 302.3,2002.8 304.5,2004.5 306.6,2006.2 308.8,2007.6 311.0,2008.9 313.2,2010.2 315.4,2011.4 317.6,2012.5 319.8,2013.5 322.0,2014.4 324.2,2015.1 326.4,2015.8 328.6,2016.5 330.8,2017.1 333.0,2017.6 335.1,2018.1 337.3,2018.6 339.5,2019.1 341.7,2019.6 343.9,2020.0 346.1,2020.5 348.3,2021.0 350.5,2021.5 352.7,2021.9 354.9,2022.4 357.1,2022.8 359.3,2023.2 361.5,2023.5 363.7,2023.8 365.8,2024.1 368.0,2024.3 370.2,2024.5 372.4,2024.7 374.6,2024.9 376.8,2025.1 379.0,2025.3 381.2,2025.5 383.4,2025.6 385.6,2025.8 387.8,2025.9 390.0,2026.0 392.2,2026.0 394.3,2026.0" fill="none" stroke="#5cc43c" stroke-width="3.0" stroke-linejoin="round"/>
<path d="M140.0,2026.0 142.2,2026.0 144.4,2026.0 146.6,2025.9 148.8,2025.9 151.0,2025.8 153.2,2025.4 155.4,2024.0 157.6,2021.9 159.7,2019.6 161.9,2016.3 164.1,2011.8 166.3,2006.4 168.5,1999.9 170.7,1991.3 172.9,1981.6 175.1,1972.2 177.3,1962.4 179.5,1952.4 181.7,1943.2 183.9,1935.3 186.1,1928.0 188.2,1921.6 190.4,1916.7 192.6,1912.7 194.8,1909.3 197.0,1907.0 199.2,1906.0 201.4,1905.3 203.6,1904.8 205.8,1904.5 208.0,1904.2 210.2,1904.1 212.4,1903.9 214.6,1903.3 216.8,1902.3 218.9,1901.1 221.1,1899.7 223.3,1898.2 225.5,1897.4 227.7,1897.6 229.9,1898.8 232.1,1900.5 234.3,1902.4 236.5,1905.5 238.7,1909.5 240.9,1913.7 243.1,1917.5 245.3,1921.3 247.4,1925.2 249.6,1929.0 251.8,1932.9 254.0,1936.7 256.2,1940.4 258.4,1944.2 260.6,1948.1 262.8,1952.2 265.0,1956.7 267.2,1961.4 269.4,1966.0 271.6,1970.1 273.8,1973.5 276.0,1976.5 278.1,1979.3 280.3,1981.8 282.5,1984.1 284.7,1986.1 286.9,1988.1 289.1,1989.8 291.3,1991.5 293.5,1993.1 295.7,1994.6 297.9,1996.0 300.1,1997.4 302.3,1998.7 304.5,2000.0 306.6,2001.2 308.8,2002.4 311.0,2003.6 313.2,2004.8 315.4,2006.0 317.6,2007.2 319.8,2008.2 322.0,2009.2 324.2,2010.0 326.4,2010.8 328.6,2011.4 330.8,2012.1 333.0,2012.7 335.1,2013.2 337.3,2013.8 339.5,2014.4 341.7,2015.0 343.9,2015.6 346.1,2016.3 348.3,2016.9 350.5,2017.5 352.7,2018.2 354.9,2018.8 357.1,2019.4 359.3,2020.0 361.5,2020.6 363.7,2021.2 365.8,2021.8 368.0,2022.4 370.2,2023.0 372.4,2023.5 374.6,2023.9 376.8,2024.2 379.0,2024.5 381.2,2024.8 383.4,2025.1 385.6,2025.4 387.8,2025.6 390.0,2025.8 392.2,2025.9 394.3,2026.0" fill="none" stroke="#3e4fae" stroke-width="3.0" stroke-linejoin="round"/>
<rect x="120.2" y="1844.1" width="274.1" height="181.9" fill="none" stroke="#8e8e8e" stroke-width="1.6"/>
<line x1="120.2" y1="2026.0" x2="120.2" y2="2030.0" stroke="#8a8a8a" stroke-width="1.2"/>
<text transform="translate(120.2 2048.5) scale(1.06 1)" x="0" y="0" font-size="20" text-anchor="middle" fill="#111">0</text>
<line x1="198.6" y1="2026.0" x2="198.6" y2="2030.0" stroke="#8a8a8a" stroke-width="1.2"/>
<text transform="translate(198.6 2048.5) scale(1.06 1)" x="0" y="0" font-size="20" text-anchor="middle" fill="#111">2000</text>
<line x1="277.0" y1="2026.0" x2="277.0" y2="2030.0" stroke="#8a8a8a" stroke-width="1.2"/>
<text transform="translate(277.0 2048.5) scale(1.06 1)" x="0" y="0" font-size="20" text-anchor="middle" fill="#111">4000</text>
<line x1="355.8" y1="2026.0" x2="355.8" y2="2030.0" stroke="#8a8a8a" stroke-width="1.2"/>
<text transform="translate(355.8 2048.5) scale(1.06 1)" x="0" y="0" font-size="20" text-anchor="middle" fill="#111">6000</text>
<line x1="116.2" y1="1896.3" x2="120.2" y2="1896.3" stroke="#8a8a8a" stroke-width="1.2"/>
<text transform="translate(114.7 1903.6) scale(1.05 1)" x="0" y="0" font-size="20" text-anchor="end" fill="#111">0.0004</text>
<line x1="116.2" y1="1961.0" x2="120.2" y2="1961.0" stroke="#8a8a8a" stroke-width="1.2"/>
<text transform="translate(114.7 1968.3) scale(1.05 1)" x="0" y="0" font-size="20" text-anchor="end" fill="#111">0.0002</text>
<line x1="116.2" y1="2026.0" x2="120.2" y2="2026.0" stroke="#8a8a8a" stroke-width="1.2"/>
<text transform="translate(114.7 2033.3) scale(1.05 1)" x="0" y="0" font-size="20" text-anchor="end" fill="#111">0.0000</text>
<text transform="translate(280.5 2074.3) scale(1.04 1)" x="0" y="0" font-size="20" text-anchor="middle" fill="#111">Area (μm<tspan dy="-7" font-size="12">2</tspan><tspan dy="7">)</tspan></text>
<text x="44.1" y="1937.0" font-size="20.5" text-anchor="middle" fill="#111" textLength="98.0" lengthAdjust="spacingAndGlyphs" transform="rotate(-90 44.1 1937.0)">Probability</text>
<path d="M449.6,2027.3 451.8,2027.3 454.0,2027.2 456.2,2027.2 458.4,2027.1 460.6,2027.0 462.8,2026.8 465.0,2026.7 467.2,2026.5 469.4,2026.3 471.6,2026.1 473.8,2025.9 476.0,2025.7 478.2,2025.4 480.4,2025.2 482.6,2024.9 484.8,2024.4 487.0,2023.8 489.2,2023.2 491.3,2022.5 493.5,2021.7 495.7,2020.9 497.9,2020.1 500.1,2019.3 502.3,2018.6 504.5,2017.9 506.7,2017.2 508.9,2016.6 511.1,2016.1 513.3,2015.5 515.5,2014.9 517.7,2014.3 519.9,2013.7 522.1,2013.0 524.3,2012.1 526.5,2011.1 528.7,2010.0 530.9,2008.7 533.1,2007.4 535.3,2005.9 537.5,2004.4 539.7,2002.8 541.9,2001.2 544.1,1999.6 546.3,1998.0 548.5,1996.2 550.7,1994.4 552.9,1992.5 555.1,1990.5 557.3,1988.5 559.5,1986.5 561.7,1984.4 563.9,1982.4 566.1,1980.3 568.2,1978.2 570.4,1976.1 572.6,1973.9 574.8,1971.8 577.0,1969.5 579.2,1967.2 581.4,1964.9 583.6,1962.6 585.8,1960.1 588.0,1957.7 590.2,1955.2 592.4,1952.6 594.6,1949.9 596.8,1947.2 599.0,1944.4 601.2,1941.7 603.4,1938.9 605.6,1936.0 607.8,1932.8 610.0,1929.3 612.2,1925.2 614.4,1920.0 616.6,1914.3 618.8,1908.3 621.0,1902.5 623.2,1896.8 625.4,1890.9 627.6,1885.1 629.8,1879.8 632.0,1875.4 634.2,1871.3 636.4,1867.6 638.6,1864.4 640.8,1861.8 643.0,1859.8 645.1,1858.1 647.3,1856.5 649.5,1855.4 651.7,1854.9 653.9,1855.1 656.1,1855.5 658.3,1856.3 660.5,1857.3 662.7,1858.5 664.9,1860.9 667.1,1864.6 669.3,1869.1 671.5,1873.9 673.7,1878.8 675.9,1884.4 678.1,1890.7 680.3,1897.1 682.5,1903.5 684.7,1909.6 686.9,1915.7 689.1,1921.8 691.3,1927.8 693.5,1933.6 695.7,1939.3 697.9,1944.8 700.1,1950.2 702.3,1955.6 704.5,1961.1 706.7,1966.8 708.9,1972.4 711.1,1978.0 713.3,1983.2 715.5,1988.0 717.7,1992.7 719.9,1997.1 722.0,2001.3 724.2,2005.2 726.4,2009.0 728.6,2012.7 730.8,2016.1 733.0,2018.9 735.2,2021.0 737.4,2022.8 739.6,2024.4 741.8,2025.7 744.0,2026.4 746.2,2026.7 748.4,2027.0 750.6,2027.2 752.8,2027.4 755.0,2027.5 757.2,2027.7 759.4,2027.7 761.6,2027.8 763.8,2027.8" fill="none" stroke="#a8a8a8" stroke-width="3.0" stroke-linejoin="round"/>
<path d="M449.6,2025.2 451.8,2025.2 454.0,2025.2 456.2,2025.1 458.4,2025.0 460.6,2024.8 462.8,2024.6 465.0,2024.5 467.2,2024.2 469.4,2024.0 471.6,2023.7 473.8,2023.5 476.0,2023.2 478.2,2022.9 480.4,2022.6 482.6,2022.3 484.8,2021.8 487.0,2021.3 489.2,2020.7 491.3,2020.0 493.5,2019.3 495.7,2018.5 497.9,2017.8 500.1,2017.0 502.3,2016.2 504.5,2015.4 506.7,2014.6 508.9,2013.7 511.1,2012.9 513.3,2012.0 515.5,2011.1 517.7,2010.1 519.9,2009.1 522.1,2008.0 524.3,2006.9 526.5,2005.7 528.7,2004.5 530.9,2003.2 533.1,2001.8 535.3,2000.4 537.5,1999.0 539.7,1997.5 541.9,1996.0 544.1,1994.5 546.3,1992.9 548.5,1991.3 550.7,1989.6 552.9,1987.9 555.1,1986.1 557.3,1984.3 559.5,1982.4 561.7,1980.5 563.9,1978.5 566.1,1976.4 568.2,1974.3 570.4,1972.1 572.6,1969.8 574.8,1967.4 577.0,1965.0 579.2,1962.5 581.4,1959.9 583.6,1957.3 585.8,1954.5 588.0,1951.6 590.2,1948.5 592.4,1945.5 594.6,1942.5 596.8,1939.5 599.0,1936.8 601.2,1934.1 603.4,1931.6 605.6,1929.1 607.8,1926.5 610.0,1923.7 612.2,1920.7 614.4,1917.4 616.6,1914.0 618.8,1910.6 621.0,1907.4 623.2,1904.5 625.4,1901.6 627.6,1898.8 629.8,1896.2 632.0,1893.8 634.2,1891.6 636.4,1889.5 638.6,1887.4 640.8,1885.5 643.0,1883.8 645.1,1882.4 647.3,1881.2 649.5,1880.0 651.7,1879.0 653.9,1878.0 656.1,1877.3 658.3,1876.8 660.5,1876.8 662.7,1877.3 664.9,1878.2 667.1,1879.4 669.3,1880.9 671.5,1882.7 673.7,1885.5 675.9,1889.0 678.1,1892.9 680.3,1896.8 682.5,1900.7 684.7,1904.9 686.9,1909.4 689.1,1914.1 691.3,1918.9 693.5,1924.1 695.7,1929.6 697.9,1935.3 700.1,1941.0 702.3,1946.9 704.5,1953.1 706.7,1959.5 708.9,1965.6 711.1,1971.1 713.3,1976.1 715.5,1980.7 717.7,1985.1 719.9,1989.3 722.0,1993.4 724.2,1997.5 726.4,2001.8 728.6,2006.2 730.8,2010.2 733.0,2013.6 735.2,2015.9 737.4,2017.9 739.6,2019.8 741.8,2021.4 744.0,2022.8 746.2,2023.9 748.4,2024.8 750.6,2025.5 752.8,2026.1 755.0,2026.7 757.2,2027.1 759.4,2027.5 761.6,2027.7 763.8,2027.8" fill="none" stroke="#5cc43c" stroke-width="3.0" stroke-linejoin="round"/>
<path d="M449.6,2027.8 451.8,2027.8 454.0,2027.7 456.2,2027.6 458.4,2027.4 460.6,2027.2 462.8,2027.0 465.0,2026.8 467.2,2026.5 469.4,2026.2 471.6,2025.6 473.8,2024.9 476.0,2024.2 478.2,2023.4 480.4,2022.5 482.6,2021.7 484.8,2020.9 487.0,2020.3 489.2,2019.7 491.3,2019.2 493.5,2018.7 495.7,2018.2 497.9,2017.8 500.1,2017.3 502.3,2016.9 504.5,2016.5 506.7,2016.1 508.9,2015.7 511.1,2015.4 513.3,2015.1 515.5,2014.8 517.7,2014.4 519.9,2014.0 522.1,2013.3 524.3,2012.2 526.5,2010.7 528.7,2008.9 530.9,2007.0 533.1,2005.0 535.3,2003.1 537.5,2001.3 539.7,1999.5 541.9,1997.6 544.1,1995.7 546.3,1993.8 548.5,1991.9 550.7,1989.9 552.9,1988.0 555.1,1986.2 557.3,1984.4 559.5,1982.7 561.7,1981.1 563.9,1979.4 566.1,1977.5 568.2,1975.5 570.4,1973.2 572.6,1970.4 574.8,1967.2 577.0,1963.8 579.2,1960.2 581.4,1956.6 583.6,1953.1 585.8,1949.9 588.0,1946.9 590.2,1944.0 592.4,1941.2 594.6,1938.3 596.8,1935.4 599.0,1932.5 601.2,1929.4 603.4,1926.0 605.6,1922.4 607.8,1918.7 610.0,1915.1 612.2,1911.8 614.4,1908.9 616.6,1906.6 618.8,1904.7 621.0,1903.0 623.2,1901.5 625.4,1900.2 627.6,1898.9 629.8,1897.6 632.0,1896.4 634.2,1895.2 636.4,1894.1 638.6,1893.1 640.8,1892.1 643.0,1891.1 645.1,1890.1 647.3,1889.1 649.5,1888.1 651.7,1887.3 653.9,1886.7 656.1,1886.2 658.3,1885.8 660.5,1885.4 662.7,1885.3 664.9,1885.4 667.1,1886.0 669.3,1887.1 671.5,1888.4 673.7,1889.8 675.9,1891.6 678.1,1893.8 680.3,1896.3 682.5,1898.9 684.7,1901.7 686.9,1904.7 689.1,1908.0 691.3,1911.5 693.5,1915.4 695.7,1919.7 697.9,1924.4 700.1,1929.6 702.3,1935.0 704.5,1940.7 706.7,1947.2 708.9,1954.1 711.1,1961.0 713.3,1967.5 715.5,1973.5 717.7,1979.4 719.9,1985.0 722.0,1990.2 724.2,1995.0 726.4,1999.5 728.6,2003.8 730.8,2007.7 733.0,2010.9 735.2,2013.4 737.4,2015.6 739.6,2017.6 741.8,2019.4 744.0,2021.0 746.2,2022.3 748.4,2023.4 750.6,2024.3 752.8,2025.2 755.0,2026.0 757.2,2026.7 759.4,2027.2 761.6,2027.6 763.8,2027.8" fill="none" stroke="#3e4fae" stroke-width="3.0" stroke-linejoin="round"/>
<rect x="449.6" y="1846.7" width="314.2" height="181.1" fill="none" stroke="#8e8e8e" stroke-width="1.6"/>
<line x1="449.6" y1="2027.8" x2="449.6" y2="2031.8" stroke="#8a8a8a" stroke-width="1.2"/>
<text transform="translate(449.6 2050.3) scale(1.06 1)" x="0" y="0" font-size="20" text-anchor="middle" fill="#111">0.4</text>
<line x1="554.4" y1="2027.8" x2="554.4" y2="2031.8" stroke="#8a8a8a" stroke-width="1.2"/>
<text transform="translate(554.4 2050.3) scale(1.06 1)" x="0" y="0" font-size="20" text-anchor="middle" fill="#111">0.6</text>
<line x1="659.2" y1="2027.8" x2="659.2" y2="2031.8" stroke="#8a8a8a" stroke-width="1.2"/>
<text transform="translate(659.2 2050.3) scale(1.06 1)" x="0" y="0" font-size="20" text-anchor="middle" fill="#111">0.8</text>
<line x1="763.8" y1="2027.8" x2="763.8" y2="2031.8" stroke="#8a8a8a" stroke-width="1.2"/>
<text transform="translate(763.8 2050.3) scale(1.06 1)" x="0" y="0" font-size="20" text-anchor="middle" fill="#111">1.0</text>
<line x1="445.6" y1="2027.8" x2="449.6" y2="2027.8" stroke="#8a8a8a" stroke-width="1.2"/>
<text transform="translate(444.1 2035.1) scale(1.05 1)" x="0" y="0" font-size="20" text-anchor="end" fill="#111">0</text>
<line x1="445.6" y1="1954.0" x2="449.6" y2="1954.0" stroke="#8a8a8a" stroke-width="1.2"/>
<text transform="translate(444.1 1961.3) scale(1.05 1)" x="0" y="0" font-size="20" text-anchor="end" fill="#111">2</text>
<line x1="445.6" y1="1880.6" x2="449.6" y2="1880.6" stroke="#8a8a8a" stroke-width="1.2"/>
<text transform="translate(444.1 1887.9) scale(1.05 1)" x="0" y="0" font-size="20" text-anchor="end" fill="#111">4</text>
<text transform="translate(598.0 2073.6) scale(1.04 1)" x="0" y="0" font-size="20" text-anchor="middle" fill="#111">Solidity</text>
<text x="425.1" y="1931.0" font-size="20.5" text-anchor="middle" fill="#111" textLength="98.0" lengthAdjust="spacingAndGlyphs" transform="rotate(-90 425.1 1931.0)">Probability</text>
<path d="M901.3,2027.8 903.5,2027.8 905.7,2027.6 907.8,2027.4 910.0,2027.2 912.2,2026.9 914.4,2026.5 916.6,2025.8 918.7,2024.7 920.9,2023.1 923.1,2021.3 925.3,2019.2 927.5,2015.9 929.6,2011.6 931.8,2006.6 934.0,2001.3 936.2,1995.7 938.4,1989.3 940.5,1982.1 942.7,1974.5 944.9,1966.4 947.1,1957.5 949.3,1947.6 951.4,1937.3 953.6,1927.1 955.8,1917.5 958.0,1907.8 960.2,1898.4 962.3,1890.7 964.5,1885.5 966.7,1881.4 968.9,1877.8 971.1,1874.5 973.2,1871.1 975.4,1866.9 977.6,1862.2 979.8,1857.9 982.0,1855.1 984.1,1854.5 986.3,1855.3 988.5,1856.9 990.7,1860.0 992.9,1865.6 995.0,1872.3 997.2,1878.9 999.4,1886.4 1001.6,1894.6 1003.8,1902.7 1005.9,1910.1 1008.1,1916.4 1010.3,1922.2 1012.5,1927.5 1014.7,1932.6 1016.8,1937.8 1019.0,1943.0 1021.2,1948.2 1023.4,1953.3 1025.6,1957.9 1027.7,1962.0 1029.9,1965.7 1032.1,1969.2 1034.3,1972.3 1036.5,1975.2 1038.7,1977.8 1040.8,1980.1 1043.0,1982.2 1045.2,1984.3 1047.4,1986.3 1049.6,1988.5 1051.7,1990.9 1053.9,1993.7 1056.1,1996.6 1058.3,1999.5 1060.5,2002.1 1062.6,2004.3 1064.8,2006.0 1067.0,2007.5 1069.2,2009.0 1071.4,2010.2 1073.5,2011.3 1075.7,2012.3 1077.9,2013.1 1080.1,2013.8 1082.3,2014.5 1084.4,2015.1 1086.6,2015.7 1088.8,2016.2 1091.0,2016.8 1093.2,2017.3 1095.3,2017.9 1097.5,2018.5 1099.7,2019.1 1101.9,2019.7 1104.1,2020.4 1106.2,2021.0 1108.4,2021.6 1110.6,2022.1 1112.8,2022.6 1115.0,2023.1 1117.1,2023.5 1119.3,2023.9 1121.5,2024.2 1123.7,2024.6 1125.9,2024.9 1128.0,2025.1 1130.2,2025.4 1132.4,2025.7 1134.6,2025.9 1136.8,2026.1 1138.9,2026.3 1141.1,2026.4 1143.3,2026.5" fill="none" stroke="#a8a8a8" stroke-width="3.0" stroke-linejoin="round"/>
<path d="M901.3,2027.8 903.5,2027.8 905.7,2027.7 907.8,2027.6 910.0,2027.4 912.2,2027.2 914.4,2026.9 916.6,2026.6 918.7,2025.6 920.9,2023.6 923.1,2020.9 925.3,2017.6 927.5,2014.2 929.6,2009.9 931.8,2004.6 934.0,1998.6 936.2,1992.4 938.4,1986.0 940.5,1978.9 942.7,1971.2 944.9,1963.8 947.1,1957.1 949.3,1951.5 951.4,1946.5 953.6,1941.8 955.8,1937.2 958.0,1932.4 960.2,1927.4 962.3,1922.4 964.5,1917.2 966.7,1911.8 968.9,1905.9 971.1,1900.0 973.2,1894.2 975.4,1888.1 977.6,1881.8 979.8,1876.7 982.0,1873.7 984.1,1871.4 986.3,1870.0 988.5,1870.0 990.7,1871.2 992.9,1873.0 995.0,1874.7 997.2,1876.6 999.4,1878.8 1001.6,1881.2 1003.8,1883.6 1005.9,1886.1 1008.1,1888.5 1010.3,1891.2 1012.5,1894.1 1014.7,1897.3 1016.8,1901.0 1019.0,1905.2 1021.2,1909.7 1023.4,1914.5 1025.6,1919.7 1027.7,1925.6 1029.9,1932.0 1032.1,1938.4 1034.3,1944.2 1036.5,1949.2 1038.7,1954.0 1040.8,1958.5 1043.0,1962.6 1045.2,1966.2 1047.4,1969.3 1049.6,1972.0 1051.7,1974.5 1053.9,1976.9 1056.1,1979.4 1058.3,1981.9 1060.5,1984.6 1062.6,1987.4 1064.8,1990.1 1067.0,1992.8 1069.2,1995.3 1071.4,1997.5 1073.5,1999.5 1075.7,2001.4 1077.9,2003.2 1080.1,2004.8 1082.3,2006.3 1084.4,2007.7 1086.6,2009.0 1088.8,2010.2 1091.0,2011.3 1093.2,2012.4 1095.3,2013.4 1097.5,2014.3 1099.7,2015.2 1101.9,2016.0 1104.1,2016.8 1106.2,2017.5 1108.4,2018.2 1110.6,2018.9 1112.8,2019.5 1115.0,2020.1 1117.1,2020.7 1119.3,2021.3 1121.5,2021.9 1123.7,2022.4 1125.9,2022.9 1128.0,2023.5 1130.2,2024.0 1132.4,2024.4 1134.6,2024.9 1136.8,2025.3 1138.9,2025.8 1141.1,2026.2 1143.3,2026.5" fill="none" stroke="#5cc43c" stroke-width="3.0" stroke-linejoin="round"/>
<path d="M901.3,2027.8 903.5,2027.8 905.7,2027.7 907.8,2027.6 910.0,2027.4 912.2,2027.2 914.4,2026.9 916.6,2026.6 918.7,2025.8 920.9,2024.3 923.1,2022.2 925.3,2019.7 927.5,2016.9 929.6,2013.1 931.8,2008.2 934.0,2002.6 936.2,1997.1 938.4,1991.8 940.5,1986.3 942.7,1980.8 944.9,1975.2 947.1,1969.8 949.3,1964.7 951.4,1959.9 953.6,1955.1 955.8,1950.3 958.0,1945.2 960.2,1939.9 962.3,1934.5 964.5,1928.9 966.7,1923.4 968.9,1917.9 971.1,1912.2 973.2,1906.5 975.4,1901.0 977.6,1895.9 979.8,1891.2 982.0,1886.7 984.1,1882.8 986.3,1879.8 988.5,1877.3 990.7,1875.8 992.9,1875.8 995.0,1876.3 997.2,1876.9 999.4,1877.7 1001.6,1879.3 1003.8,1881.8 1005.9,1884.7 1008.1,1887.7 1010.3,1890.5 1012.5,1893.4 1014.7,1896.4 1016.8,1899.8 1019.0,1903.7 1021.2,1908.4 1023.4,1914.5 1025.6,1921.1 1027.7,1927.6 1029.9,1933.2 1032.1,1938.1 1034.3,1942.7 1036.5,1947.0 1038.7,1951.0 1040.8,1954.6 1043.0,1958.0 1045.2,1961.2 1047.4,1964.1 1049.6,1967.0 1051.7,1969.8 1053.9,1972.6 1056.1,1975.4 1058.3,1978.1 1060.5,1980.7 1062.6,1983.3 1064.8,1985.7 1067.0,1988.1 1069.2,1990.5 1071.4,1992.9 1073.5,1995.1 1075.7,1997.2 1077.9,1999.0 1080.1,2000.7 1082.3,2002.2 1084.4,2003.5 1086.6,2004.8 1088.8,2006.0 1091.0,2007.1 1093.2,2008.0 1095.3,2008.8 1097.5,2009.6 1099.7,2010.4 1101.9,2011.2 1104.1,2012.1 1106.2,2013.0 1108.4,2014.0 1110.6,2015.0 1112.8,2016.0 1115.0,2016.9 1117.1,2017.8 1119.3,2018.7 1121.5,2019.5 1123.7,2020.3 1125.9,2021.1 1128.0,2021.8 1130.2,2022.6 1132.4,2023.3 1134.6,2024.0 1136.8,2024.7 1138.9,2025.3 1141.1,2025.9 1143.3,2026.5" fill="none" stroke="#3e4fae" stroke-width="3.0" stroke-linejoin="round"/>
<rect x="865.8" y="1846.0" width="277.5" height="181.8" fill="none" stroke="#8e8e8e" stroke-width="1.6"/>
<line x1="865.8" y1="2027.8" x2="865.8" y2="2031.8" stroke="#8a8a8a" stroke-width="1.2"/>
<text transform="translate(865.8 2050.3) scale(1.06 1)" x="0" y="0" font-size="20" text-anchor="middle" fill="#111">0</text>
<line x1="958.6" y1="2027.8" x2="958.6" y2="2031.8" stroke="#8a8a8a" stroke-width="1.2"/>
<text transform="translate(958.6 2050.3) scale(1.06 1)" x="0" y="0" font-size="20" text-anchor="middle" fill="#111">200</text>
<line x1="1050.3" y1="2027.8" x2="1050.3" y2="2031.8" stroke="#8a8a8a" stroke-width="1.2"/>
<text transform="translate(1050.3 2050.3) scale(1.06 1)" x="0" y="0" font-size="20" text-anchor="middle" fill="#111">400</text>
<line x1="1143.3" y1="2027.8" x2="1143.3" y2="2031.8" stroke="#8a8a8a" stroke-width="1.2"/>
<text transform="translate(1143.3 2050.3) scale(1.06 1)" x="0" y="0" font-size="20" text-anchor="middle" fill="#111">600</text>
<line x1="861.8" y1="1909.6" x2="865.8" y2="1909.6" stroke="#8a8a8a" stroke-width="1.2"/>
<text transform="translate(860.3 1916.9) scale(1.05 1)" x="0" y="0" font-size="20" text-anchor="end" fill="#111">0.004</text>
<line x1="861.8" y1="1968.7" x2="865.8" y2="1968.7" stroke="#8a8a8a" stroke-width="1.2"/>
<text transform="translate(860.3 1976.0) scale(1.05 1)" x="0" y="0" font-size="20" text-anchor="end" fill="#111">0.002</text>
<line x1="861.8" y1="2027.8" x2="865.8" y2="2027.8" stroke="#8a8a8a" stroke-width="1.2"/>
<text transform="translate(860.3 2035.1) scale(1.05 1)" x="0" y="0" font-size="20" text-anchor="end" fill="#111">0.000</text>
<text transform="translate(1022.0 2073.6) scale(1.04 1)" x="0" y="0" font-size="20" text-anchor="middle" fill="#111">Perim (μm)</text>
<text x="802.8" y="1931.0" font-size="20.5" text-anchor="middle" fill="#111" textLength="98.0" lengthAdjust="spacingAndGlyphs" transform="rotate(-90 802.8 1931.0)">Probability</text>
<path d="M1205.6,2029.5 1207.8,2029.5 1210.0,2029.5 1212.2,2029.5 1214.4,2029.4 1216.6,2029.4 1218.8,2029.3 1221.0,2029.2 1223.2,2029.1 1225.4,2029.0 1227.6,2028.9 1229.8,2028.8 1232.0,2028.6 1234.2,2028.1 1236.4,2027.3 1238.6,2026.2 1240.8,2024.8 1243.0,2023.3 1245.2,2021.7 1247.4,2020.0 1249.6,2017.8 1251.8,2015.1 1254.0,2012.0 1256.1,2008.6 1258.3,2005.0 1260.5,2001.4 1262.7,1997.5 1264.9,1993.4 1267.1,1989.1 1269.3,1984.5 1271.5,1979.8 1273.7,1975.0 1275.9,1970.0 1278.1,1964.7 1280.3,1959.3 1282.5,1953.8 1284.7,1948.4 1286.9,1943.3 1289.1,1938.6 1291.3,1933.9 1293.5,1929.4 1295.7,1925.0 1297.9,1920.8 1300.1,1916.8 1302.3,1912.9 1304.5,1909.3 1306.7,1905.8 1308.9,1902.4 1311.1,1899.0 1313.3,1895.5 1315.5,1892.0 1317.7,1888.4 1319.9,1884.7 1322.1,1881.1 1324.3,1877.6 1326.5,1874.3 1328.7,1871.2 1330.9,1868.0 1333.0,1864.9 1335.2,1862.2 1337.4,1860.0 1339.6,1858.4 1341.8,1856.9 1344.0,1856.1 1346.2,1856.1 1348.4,1856.6 1350.6,1857.5 1352.8,1858.6 1355.0,1860.0 1357.2,1862.7 1359.4,1866.5 1361.6,1871.0 1363.8,1875.8 1366.0,1880.5 1368.2,1885.7 1370.4,1891.4 1372.6,1897.2 1374.8,1902.9 1377.0,1908.1 1379.2,1913.1 1381.4,1918.0 1383.6,1922.9 1385.8,1927.7 1388.0,1932.7 1390.2,1937.7 1392.4,1942.8 1394.6,1947.7 1396.8,1952.5 1399.0,1957.1 1401.2,1961.6 1403.4,1966.0 1405.6,1970.3 1407.8,1974.5 1409.9,1978.6 1412.1,1982.5 1414.3,1986.4 1416.5,1990.1 1418.7,1993.7 1420.9,1997.3 1423.1,2000.9 1425.3,2004.3 1427.5,2007.3 1429.7,2010.0 1431.9,2012.5 1434.1,2014.8 1436.3,2017.0 1438.5,2018.9 1440.7,2020.5 1442.9,2021.6 1445.1,2022.5 1447.3,2023.4 1449.5,2024.2 1451.7,2024.8 1453.9,2025.4 1456.1,2026.0 1458.3,2026.4 1460.5,2026.7 1462.7,2027.0 1464.9,2027.2 1467.1,2027.4 1469.3,2027.6 1471.5,2027.8 1473.7,2028.0 1475.9,2028.1 1478.1,2028.2 1480.3,2028.4 1482.5,2028.5 1484.7,2028.6 1486.9,2028.7 1489.0,2028.7 1491.2,2028.8 1493.4,2028.9 1495.6,2029.0 1497.8,2029.1 1500.0,2029.2 1502.2,2029.2 1504.4,2029.3 1506.6,2029.3 1508.8,2029.4 1511.0,2029.4 1513.2,2029.5 1515.4,2029.5 1517.6,2029.5" fill="none" stroke="#a8a8a8" stroke-width="3.0" stroke-linejoin="round"/>
<path d="M1205.6,2029.5 1207.8,2029.5 1210.0,2029.5 1212.2,2029.4 1214.4,2029.4 1216.6,2029.3 1218.8,2029.2 1221.0,2029.0 1223.2,2028.9 1225.4,2028.7 1227.6,2028.5 1229.8,2028.3 1232.0,2028.0 1234.2,2027.5 1236.4,2026.5 1238.6,2025.3 1240.8,2023.9 1243.0,2022.2 1245.2,2020.5 1247.4,2018.6 1249.6,2016.3 1251.8,2013.4 1254.0,2010.1 1256.1,2006.5 1258.3,2002.6 1260.5,1998.7 1262.7,1994.5 1264.9,1989.9 1267.1,1985.0 1269.3,1979.9 1271.5,1974.8 1273.7,1969.7 1275.9,1964.5 1278.1,1959.3 1280.3,1953.9 1282.5,1948.5 1284.7,1943.2 1286.9,1938.0 1289.1,1933.0 1291.3,1928.0 1293.5,1923.1 1295.7,1918.3 1297.9,1913.6 1300.1,1908.9 1302.3,1904.3 1304.5,1899.6 1306.7,1895.0 1308.9,1890.6 1311.1,1886.8 1313.3,1883.3 1315.5,1880.1 1317.7,1877.4 1319.9,1875.1 1322.1,1873.0 1324.3,1871.3 1326.5,1870.7 1328.7,1871.2 1330.9,1872.1 1333.0,1873.2 1335.2,1874.1 1337.4,1874.8 1339.6,1875.3 1341.8,1875.9 1344.0,1876.4 1346.2,1877.1 1348.4,1878.0 1350.6,1879.2 1352.8,1881.1 1355.0,1883.3 1357.2,1885.9 1359.4,1888.7 1361.6,1891.8 1363.8,1895.7 1366.0,1899.8 1368.2,1904.0 1370.4,1907.8 1372.6,1911.2 1374.8,1914.4 1377.0,1917.6 1379.2,1920.9 1381.4,1924.3 1383.6,1928.0 1385.8,1931.7 1388.0,1935.6 1390.2,1939.6 1392.4,1943.7 1394.6,1948.0 1396.8,1952.5 1399.0,1957.0 1401.2,1961.4 1403.4,1965.6 1405.6,1969.5 1407.8,1973.3 1409.9,1977.1 1412.1,1980.9 1414.3,1984.8 1416.5,1988.9 1418.7,1993.1 1420.9,1997.0 1423.1,2000.4 1425.3,2003.2 1427.5,2005.8 1429.7,2008.1 1431.9,2010.2 1434.1,2011.8 1436.3,2013.1 1438.5,2014.2 1440.7,2015.2 1442.9,2016.0 1445.1,2016.8 1447.3,2017.6 1449.5,2018.4 1451.7,2019.2 1453.9,2020.0 1456.1,2020.8 1458.3,2021.6 1460.5,2022.3 1462.7,2023.0 1464.9,2023.7 1467.1,2024.2 1469.3,2024.8 1471.5,2025.3 1473.7,2025.8 1475.9,2026.3 1478.1,2026.7 1480.3,2027.2 1482.5,2027.5 1484.7,2027.8 1486.9,2028.1 1489.0,2028.2 1491.2,2028.4 1493.4,2028.6 1495.6,2028.7 1497.8,2028.8 1500.0,2029.0 1502.2,2029.1 1504.4,2029.2 1506.6,2029.3 1508.8,2029.4 1511.0,2029.4 1513.2,2029.5 1515.4,2029.5 1517.6,2029.5" fill="none" stroke="#5cc43c" stroke-width="3.0" stroke-linejoin="round"/>
<path d="M1205.6,2029.5 1207.8,2029.5 1210.0,2029.5 1212.2,2029.4 1214.4,2029.3 1216.6,2029.1 1218.8,2029.0 1221.0,2028.8 1223.2,2028.6 1225.4,2028.4 1227.6,2028.1 1229.8,2027.8 1232.0,2027.5 1234.2,2026.8 1236.4,2025.8 1238.6,2024.5 1240.8,2022.9 1243.0,2021.1 1245.2,2019.2 1247.4,2017.2 1249.6,2014.8 1251.8,2011.7 1254.0,2008.1 1256.1,2004.2 1258.3,2000.1 1260.5,1996.0 1262.7,1991.7 1264.9,1987.2 1267.1,1982.4 1269.3,1977.4 1271.5,1972.2 1273.7,1967.0 1275.9,1961.6 1278.1,1955.9 1280.3,1949.9 1282.5,1944.0 1284.7,1938.2 1286.9,1932.7 1289.1,1927.4 1291.3,1922.2 1293.5,1917.1 1295.7,1912.2 1297.9,1907.6 1300.1,1903.4 1302.3,1899.4 1304.5,1895.4 1306.7,1891.7 1308.9,1888.6 1311.1,1886.4 1313.3,1885.2 1315.5,1884.1 1317.7,1883.2 1319.9,1882.6 1322.1,1882.2 1324.3,1882.1 1326.5,1881.9 1328.7,1881.8 1330.9,1881.8 1333.0,1881.7 1335.2,1881.7 1337.4,1881.8 1339.6,1882.0 1341.8,1882.4 1344.0,1882.9 1346.2,1883.6 1348.4,1884.7 1350.6,1886.7 1352.8,1889.2 1355.0,1891.9 1357.2,1894.6 1359.4,1897.6 1361.6,1900.9 1363.8,1904.3 1366.0,1907.8 1368.2,1911.2 1370.4,1914.6 1372.6,1918.0 1374.8,1921.3 1377.0,1924.5 1379.2,1927.5 1381.4,1930.3 1383.6,1933.0 1385.8,1935.6 1388.0,1938.4 1390.2,1941.3 1392.4,1944.4 1394.6,1947.6 1396.8,1950.9 1399.0,1954.5 1401.2,1958.4 1403.4,1962.7 1405.6,1967.3 1407.8,1971.9 1409.9,1976.3 1412.1,1980.4 1414.3,1984.7 1416.5,1988.7 1418.7,1992.5 1420.9,1995.7 1423.1,1998.4 1425.3,2000.8 1427.5,2003.0 1429.7,2005.0 1431.9,2006.8 1434.1,2008.4 1436.3,2009.8 1438.5,2011.2 1440.7,2012.4 1442.9,2013.6 1445.1,2014.7 1447.3,2015.8 1449.5,2016.8 1451.7,2017.8 1453.9,2018.7 1456.1,2019.6 1458.3,2020.4 1460.5,2021.2 1462.7,2021.9 1464.9,2022.5 1467.1,2023.1 1469.3,2023.7 1471.5,2024.3 1473.7,2024.7 1475.9,2025.2 1478.1,2025.6 1480.3,2026.0 1482.5,2026.4 1484.7,2026.7 1486.9,2027.1 1489.0,2027.4 1491.2,2027.7 1493.4,2027.9 1495.6,2028.1 1497.8,2028.3 1500.0,2028.5 1502.2,2028.7 1504.4,2028.9 1506.6,2029.0 1508.8,2029.2 1511.0,2029.3 1513.2,2029.4 1515.4,2029.5 1517.6,2029.5" fill="none" stroke="#3e4fae" stroke-width="3.0" stroke-linejoin="round"/>
<rect x="1205.6" y="1847.4" width="312.0" height="182.1" fill="none" stroke="#8e8e8e" stroke-width="1.6"/>
<line x1="1205.6" y1="2029.5" x2="1205.6" y2="2033.5" stroke="#8a8a8a" stroke-width="1.2"/>
<text transform="translate(1205.6 2052.0) scale(1.06 1)" x="0" y="0" font-size="20" text-anchor="middle" fill="#111">0.00</text>
<line x1="1284.0" y1="2029.5" x2="1284.0" y2="2033.5" stroke="#8a8a8a" stroke-width="1.2"/>
<text transform="translate(1284.0 2052.0) scale(1.06 1)" x="0" y="0" font-size="20" text-anchor="middle" fill="#111">0.25</text>
<line x1="1361.0" y1="2029.5" x2="1361.0" y2="2033.5" stroke="#8a8a8a" stroke-width="1.2"/>
<text transform="translate(1361.0 2052.0) scale(1.06 1)" x="0" y="0" font-size="20" text-anchor="middle" fill="#111">0.50</text>
<line x1="1438.6" y1="2029.5" x2="1438.6" y2="2033.5" stroke="#8a8a8a" stroke-width="1.2"/>
<text transform="translate(1438.6 2052.0) scale(1.06 1)" x="0" y="0" font-size="20" text-anchor="middle" fill="#111">0.75</text>
<line x1="1517.6" y1="2029.5" x2="1517.6" y2="2033.5" stroke="#8a8a8a" stroke-width="1.2"/>
<text transform="translate(1517.6 2052.0) scale(1.06 1)" x="0" y="0" font-size="20" text-anchor="middle" fill="#111">1.00</text>
<line x1="1201.6" y1="2029.5" x2="1205.6" y2="2029.5" stroke="#8a8a8a" stroke-width="1.2"/>
<text transform="translate(1200.1 2036.8) scale(1.05 1)" x="0" y="0" font-size="20" text-anchor="end" fill="#111">0</text>
<line x1="1201.6" y1="1970.6" x2="1205.6" y2="1970.6" stroke="#8a8a8a" stroke-width="1.2"/>
<text transform="translate(1200.1 1977.9) scale(1.05 1)" x="0" y="0" font-size="20" text-anchor="end" fill="#111">1</text>
<line x1="1201.6" y1="1912.2" x2="1205.6" y2="1912.2" stroke="#8a8a8a" stroke-width="1.2"/>
<text transform="translate(1200.1 1919.5) scale(1.05 1)" x="0" y="0" font-size="20" text-anchor="end" fill="#111">2</text>
<text transform="translate(1361.0 2075.3) scale(1.04 1)" x="0" y="0" font-size="20" text-anchor="middle" fill="#111">Circ</text>
<text x="1180.3" y="1938.0" font-size="20.5" text-anchor="middle" fill="#111" textLength="98.0" lengthAdjust="spacingAndGlyphs" transform="rotate(-90 1180.3 1938.0)">Probability</text>
<line x1="428.0" y1="2106.4" x2="449.6" y2="2106.4" stroke="#a8a8a8" stroke-width="4.6"/>
<text x="456.5" y="2114.7" font-size="20" textLength="268.8" lengthAdjust="spacingAndGlyphs">DNCR2-TIAM/GNCR1-LARG</text>
<line x1="754.8" y1="2106.4" x2="775.4" y2="2106.4" stroke="#5cc43c" stroke-width="4.6"/>
<text x="782.2" y="2114.7" font-size="20" textLength="126.8" lengthAdjust="spacingAndGlyphs">DNCR2-TIAM</text>
<line x1="939.8" y1="2106.4" x2="961.7" y2="2106.4" stroke="#3e4fae" stroke-width="4.6"/>
<text x="965.2" y="2114.7" font-size="20" textLength="136.5" lengthAdjust="spacingAndGlyphs">GNCR1-LARG</text>
</svg>
</body></html>
